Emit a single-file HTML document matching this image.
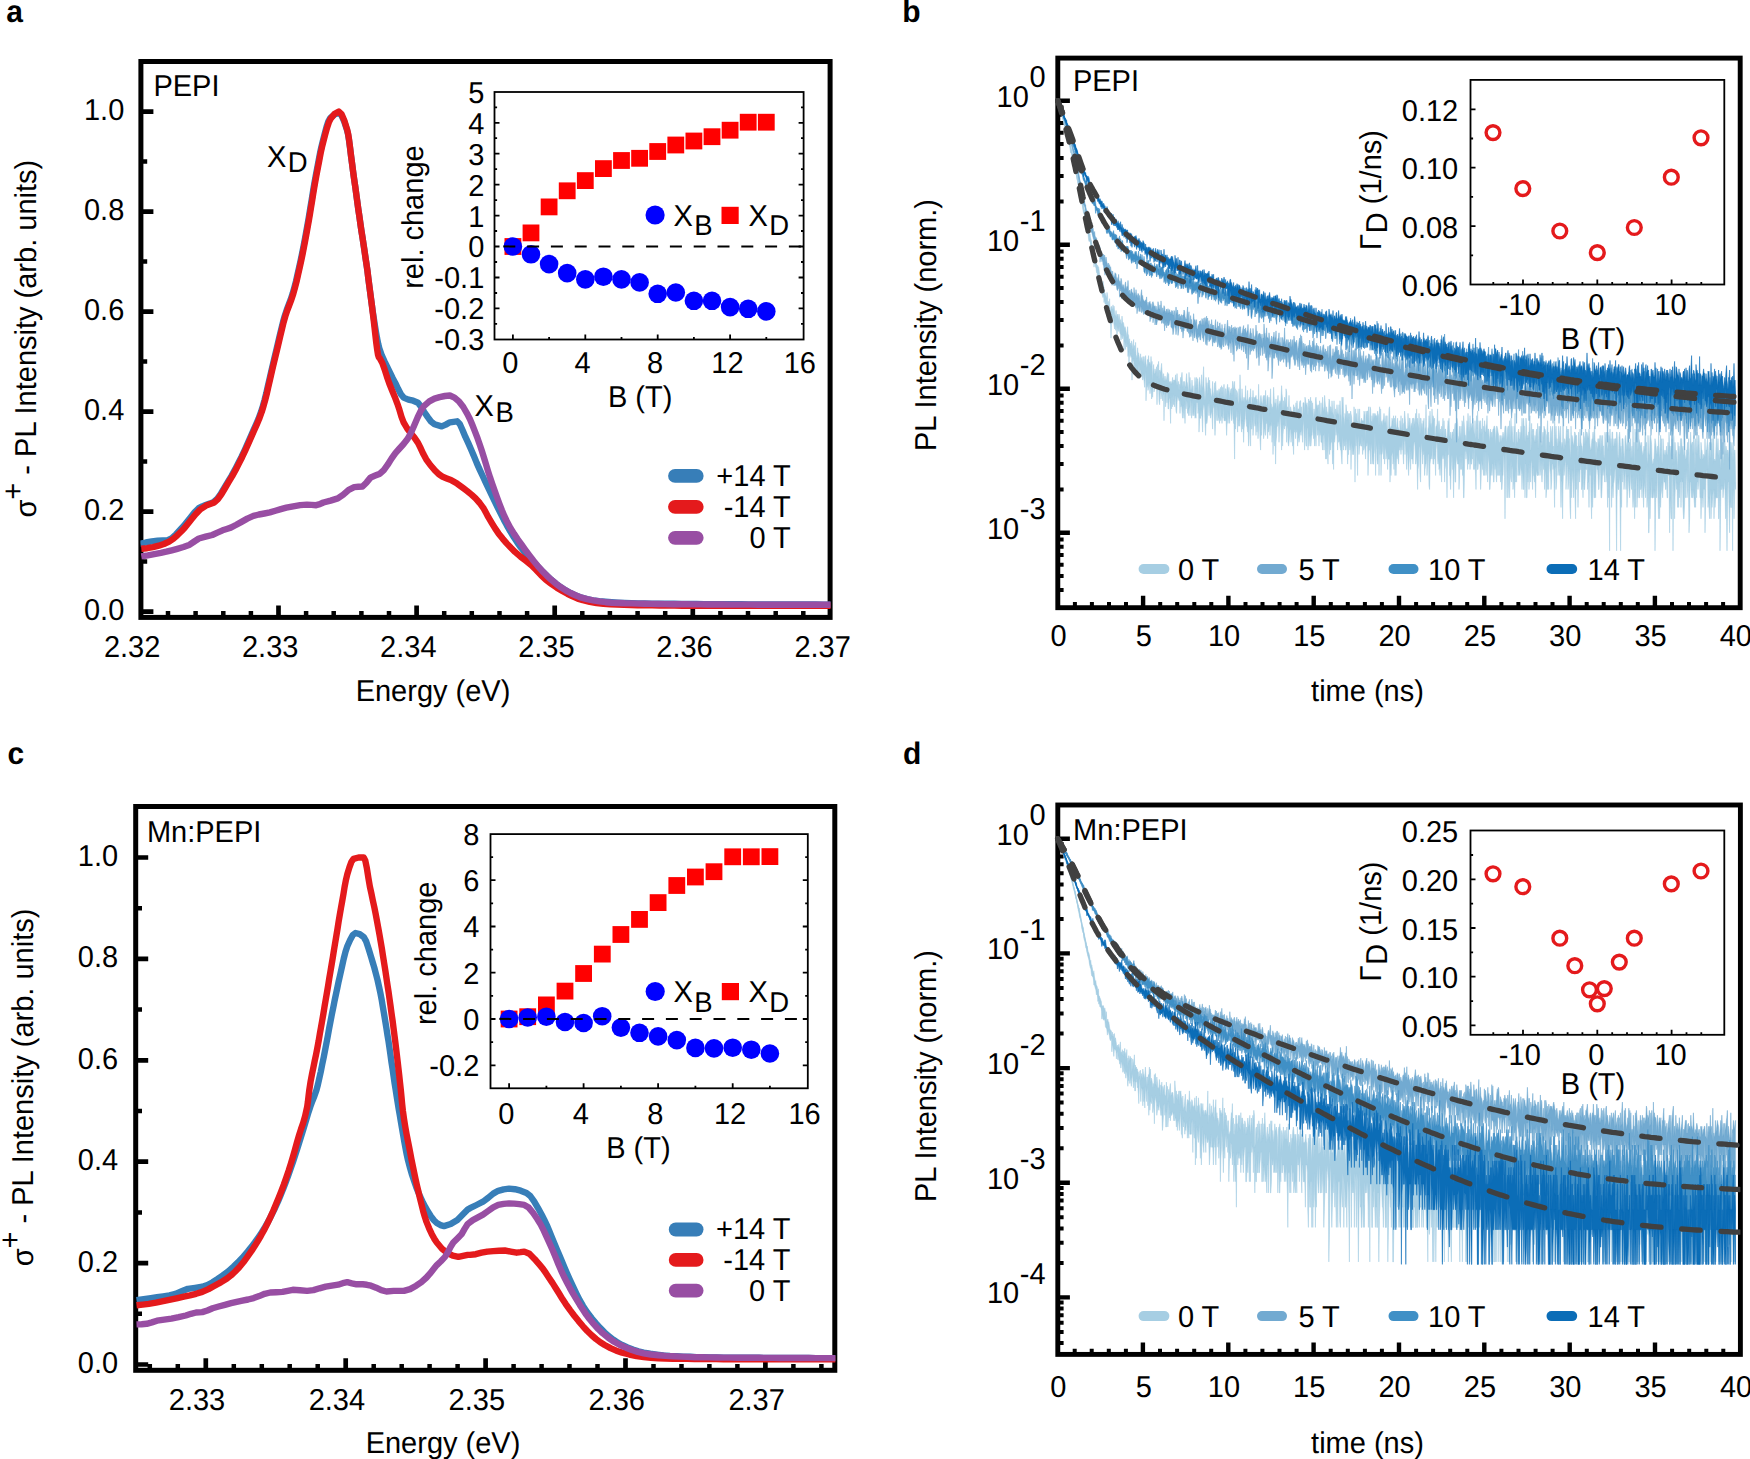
<!DOCTYPE html>
<html lang="en"><head><meta charset="utf-8"><title>Figure</title>
<style>
html,body{margin:0;padding:0;background:#fff}
svg{display:block}
svg text{font-family:"Liberation Sans", Arial, Helvetica, sans-serif;fill:#000;text-rendering:geometricPrecision}
</style></head>
<body>
<svg width="1750" height="1459" viewBox="0 0 1750 1459">
<rect width="1750" height="1459" fill="#fff"/>
<rect x="140.9" y="61.5" width="689.2" height="555.9" fill="none" stroke="#000" stroke-width="5.0"/>
<path d="M278.5,615.9v-10.5M416.6,615.9v-10.5M554.7,615.9v-10.5M692.8,615.9v-10.5M142.4,611.6h11M142.4,511.6h11M142.4,411.6h11M142.4,311.6h11M142.4,211.6h11M142.4,111.6h11" stroke="#000" stroke-width="4.7" fill="none"/>
<path d="M168,615.9v-4.8M195.6,615.9v-4.8M223.3,615.9v-4.8M250.9,615.9v-4.8M306.1,615.9v-4.8M333.7,615.9v-4.8M361.4,615.9v-4.8M389,615.9v-4.8M444.2,615.9v-4.8M471.8,615.9v-4.8M499.5,615.9v-4.8M527.1,615.9v-4.8M582.3,615.9v-4.8M609.9,615.9v-4.8M637.6,615.9v-4.8M665.2,615.9v-4.8M720.4,615.9v-4.8M748,615.9v-4.8M775.7,615.9v-4.8M803.3,615.9v-4.8M142.4,561.6h4.8M142.4,461.6h4.8M142.4,361.6h4.8M142.4,261.6h4.8M142.4,161.6h4.8" stroke="#000" stroke-width="4.5" fill="none"/>
<clipPath id="ca"><rect x="140.4" y="61.5" width="690.2" height="555.9"/></clipPath>
<g clip-path="url(#ca)">
<path d="M140.1,543.8 145.9,542.5 151.8,541.4 157.6,540.7 162.7,540.4 167.9,540.1 172,538.1 176.1,534.2 180.2,529.8 183.7,526 187.1,521.7 190.5,517.5 194.6,512.3 198.7,508.2 202.2,506.4 205.6,505 209.7,503.6 213.8,501.9 217.4,498.6 221,493.5 224.6,487.4 228.2,481.3 231.7,475.6 235.1,469.4 238.5,462.8 241.6,456.6 244.7,450 247.8,443.1 250.9,436.1 253.4,430.4 256,424.6 258.6,418.5 261.2,411.4 262.9,405.9 264.6,399.8 266.3,393.1 267.9,386 269.6,378.6 271.3,371.2 273,363.9 274.7,356.8 276.4,349.8 278.1,342.6 279.8,335.3 281.5,328.3 283.1,321.7 284.8,315.7 286.8,309.7 288.8,304.4 290.8,299.2 292.8,293.1 294.4,287.4 296,281.2 297.5,274.5 299.1,267.4 300.7,260.1 302,253.9 303.3,247.3 304.6,240.5 305.9,233.5 307.2,226.3 308.5,219 309.5,213 310.5,206.8 311.6,200.4 312.6,194 313.6,187.8 314.6,182 316,174.4 317.4,167 318.8,159.7 320.1,152.8 321.5,146.5 322.9,140.8 324.7,133.7 326.5,127 328.3,121.5 330.1,118.2 334.4,114.5 338.8,113 341.5,115.5 344.3,121.7 347,130.1 348.1,134.6 349.1,140.8 350.1,148.3 351.1,156.5 352.2,164.6 353.2,172.3 354.2,179.5 355.3,186.9 356.3,194.4 357.3,201.8 358.3,209.2 359.4,216.5 360.4,223.7 361.4,230.7 362.5,237.5 363.5,244.2 364.5,250.9 365.5,257.8 366.6,264.9 367.5,271.3 368.3,278.1 369.2,285 370.1,291.9 371,298.7 371.9,305.2 372.7,311.1 373.8,318.3 374.9,325.4 376,332.2 377.1,338.5 378.2,343.9 379.3,348.2 381.9,355.7 384.5,361.4 387.1,366.7 389.9,372.5 392.6,378 395.4,383.2 398.1,388.8 400.9,394.2 403.6,397.6 408.4,399.6 413.2,400.7 418,402.7 421.1,406.8 424.2,412 427.6,416.9 431,421.5 434.5,424.3 441.7,426.4 445.8,424.6 449.9,422.3 457.1,421.3 459.8,424 462.6,430.2 465.3,436.7 468.2,442.9 471.1,449.5 474,456.3 476.8,463.1 479.7,469.6 482.9,476.5 486,483.2 489.2,489.8 492.3,496.3 495.2,502.3 498.1,508.3 501,514.2 503.9,519.9 506.7,525.1 510.3,531.4 513.9,537.3 517.5,542.8 521.1,547.8 525.3,552.9 529.4,557.6 533.5,562.1 537.6,566.3 541.7,570.4 546.5,575.2 551.3,579.8 556.1,583.8 560.9,587.3 565.7,590.4 570.5,593 576,595.6 581.5,597.7 587,599.2 593.1,600.3 599.3,601.2 605.5,601.8 611.7,602.3 618.2,602.7 624.8,603 631.4,603.2 638,603.4 644.6,603.5 652,603.6 659.5,603.7 666.9,603.8 674.4,603.8 681.8,603.9 689.3,604 696.7,604 704.2,604.1 711.6,604.1 719,604.2 726.5,604.2 733.9,604.3 741.4,604.3 748.8,604.4 756.3,604.4 763.7,604.4 771.2,604.5 778.6,604.5 786.1,604.5 793.5,604.5 801,604.5 808.4,604.5 815.9,604.5 823.3,604.6 830.8,604.6" fill="none" stroke="#377eb8" stroke-width="6.4" stroke-linejoin="round"/>
<path d="M141.3,548.8 147.1,548.2 153,547.1 158.8,545.7 163.9,544 169.1,541.6 173.2,538.9 177.3,535.3 181.4,531.3 184.9,527.5 188.3,523.2 191.7,519 195.8,514 199.9,509.7 206.1,505.6 210.2,504.1 214.3,502.5 217.9,499.2 221.5,494.1 225.1,488 228.7,481.9 232.2,476.2 235.6,470 239,463.4 242.1,457.2 245.2,450.6 248.3,443.7 251.4,436.7 253.9,431 256.5,425.2 259.1,419.1 261.7,412 263.4,406.5 265.1,400.4 266.8,393.7 268.4,386.6 270.1,379.2 271.8,371.8 273.5,364.5 275.2,357.4 276.9,350.4 278.6,343.2 280.3,335.9 282,328.9 283.6,322.3 285.3,316.3 287.3,310.3 289.3,305 291.3,299.8 293.3,293.7 294.9,288 296.5,281.8 298,275.1 299.6,268 301.2,260.7 302.5,254.5 303.8,247.9 305.1,241.1 306.4,234.1 307.7,226.9 309,219.6 310,213.6 311,207.4 312.1,201 313.1,194.6 314.1,188.4 315.1,182.6 316.5,175 317.9,167.6 319.3,160.3 320.6,153.4 322,147.1 323.4,141.4 325.2,134.5 327,127.9 328.8,122.4 330.6,118.8 334.7,113.8 338.8,111.6 341.5,114.1 344.3,120.5 347,129.1 348.1,133.7 349.1,140.1 350.1,147.8 351.1,156.2 352.2,164.5 353.2,172.3 354.2,179.6 355.3,187 356.3,194.4 357.3,201.9 358.3,209.3 359.4,216.6 360.4,223.7 361.4,230.7 362.5,237.4 363.5,244.1 364.5,250.8 365.5,257.7 366.6,264.9 367.5,271.3 368.3,278 369.2,284.8 370.1,291.7 371,298.6 371.9,305.5 372.7,312.2 373.6,319.4 374.5,327.3 375.4,335.5 376.3,343.1 377.2,349.8 378,354.7 378.9,357.4 379.9,358.5 382.3,363 384.6,369.4 386.9,376.6 389.2,383.2 391.9,390 394.7,396.7 397.4,403.8 399.5,410.1 401.5,416.9 403.6,422.3 407.2,428.5 410.8,433.2 414.4,437.6 418,442.9 420.7,448.3 423.5,454.3 426.2,459.3 430.3,465 434.5,469.9 438.6,474 442.7,476.8 446.8,478.4 450.9,479.9 457.1,483.6 463.3,488.1 467.4,491.2 471.5,494.6 475.6,498.4 479.7,503 483.8,508.7 486,512.7 488.2,516.9 491.7,522.8 495.1,528.4 498.5,533.4 502.6,538.6 506.7,543.4 510.9,547.8 515,551.9 520.5,556.6 525.9,560.8 531.4,565.3 536.2,570 541,575.1 545.8,579.7 551.3,583.9 556.8,587.7 562.3,591 567.4,593.8 572.6,596.4 577.7,598.6 582.9,600.2 589.7,601.8 596.6,603 603.4,603.7 610.3,604.2 617.1,604.6 624,604.9 630.9,605.1 637.7,605.3 644.6,605.4 652.1,605.4 659.5,605.5 667,605.6 674.5,605.6 682,605.7 689.5,605.7 696.9,605.7 704.4,605.8 711.9,605.8 719.4,605.8 726.9,605.8 734.3,605.8 741.7,605.8 749.1,605.8 756.5,605.8 764,605.8 771.4,605.8 778.8,605.8 786.2,605.8 793.6,605.8 801.1,605.8 808.5,605.8 815.9,605.8 823.3,605.8 830.8,605.8" fill="none" stroke="#e41a1c" stroke-width="6.4" stroke-linejoin="round"/>
<path d="M141.3,556.4 147.8,555.4 154.3,554.2 160.9,552.9 166.3,551.7 171.8,550.3 177.3,548.8 183.5,547 189.7,544.7 194.3,541.5 198.9,538.5 205.6,536.7 212.3,535 217.4,532.7 222.6,530.3 226.7,529 230.8,527.6 235.9,525 241.1,522.1 247.3,518.6 253.4,515.9 258.9,514.5 264.4,513.5 269.9,512.4 275.4,510.8 280.9,509.1 286.3,507.7 293.2,506.3 300.1,505.1 306.9,504.6 311.5,504.9 316.2,505.2 319.8,504.2 323.4,502.5 330.6,500.6 337.8,498.4 343.3,494.6 348.7,489.8 354.2,487.1 358.3,486.8 362.5,486.5 366.6,482.4 370.7,477.4 375.3,475.6 379.9,473.7 383.8,470.1 387.7,464.7 391.5,458.6 395.4,453.1 399.5,448.5 403.6,444 407.7,438.7 411,432.8 414.3,425.3 417.6,417.5 420.9,410.6 424.2,405.8 429.3,401.4 434.5,398.6 439.6,397.1 444.8,396 449.9,395.5 454.5,397.6 459.2,401.7 463.3,407 467.4,414.1 470,419.3 472.5,425.3 475.1,431.9 477.7,438.7 479.8,444.7 481.9,451.1 484,457.7 486.1,464.6 488.1,471.3 490.2,477.9 492.3,484 494.7,490.8 497.1,497.5 499.5,504 501.9,510.2 504.3,516 506.7,521 510.4,527.9 514.1,533.9 517.9,539.5 521.6,544.7 525.3,549.8 529.4,555.4 533.5,560.8 537.6,565.8 541.7,570.4 546.5,575.3 551.3,579.8 556.1,583.8 560.9,587.3 565.7,590.4 570.5,593 576,595.5 581.5,597.7 587,599.2 593.1,600.4 599.3,601.4 605.5,602.2 611.7,602.7 618.2,603 624.8,603.3 631.4,603.4 638,603.6 644.6,603.7 651.4,603.9 658.3,604 665.1,604.1 672,604.2 678.9,604.3 685.7,604.3 693,604.4 700.2,604.4 707.5,604.5 714.7,604.5 722,604.5 729.2,604.6 736.5,604.6 743.7,604.6 751,604.6 758.2,604.7 765.5,604.7 772.7,604.7 780,604.7 787.2,604.7 794.5,604.7 801.7,604.7 809,604.8 816.2,604.8 823.5,604.8 830.8,604.8" fill="none" stroke="#984ea3" stroke-width="6.4" stroke-linejoin="round"/>
</g>
<text transform="translate(6.2 21.7) scale(1 1.041)" font-size="30" font-weight="bold">a</text>
<text transform="translate(153.4 96.3) scale(1 1.041)" font-size="29">PEPI</text>
<text transform="translate(124.3 620) scale(1 1.041)" font-size="29" text-anchor="end">0.0</text>
<text transform="translate(124.3 520) scale(1 1.041)" font-size="29" text-anchor="end">0.2</text>
<text transform="translate(124.3 420) scale(1 1.041)" font-size="29" text-anchor="end">0.4</text>
<text transform="translate(124.3 320) scale(1 1.041)" font-size="29" text-anchor="end">0.6</text>
<text transform="translate(124.3 220) scale(1 1.041)" font-size="29" text-anchor="end">0.8</text>
<text transform="translate(124.3 120) scale(1 1.041)" font-size="29" text-anchor="end">1.0</text>
<text transform="translate(132.1 657) scale(1 1.041)" font-size="29" text-anchor="middle">2.32</text>
<text transform="translate(270.2 657) scale(1 1.041)" font-size="29" text-anchor="middle">2.33</text>
<text transform="translate(408.3 657) scale(1 1.041)" font-size="29" text-anchor="middle">2.34</text>
<text transform="translate(546.4 657) scale(1 1.041)" font-size="29" text-anchor="middle">2.35</text>
<text transform="translate(684.5 657) scale(1 1.041)" font-size="29" text-anchor="middle">2.36</text>
<text transform="translate(822.6 657) scale(1 1.041)" font-size="29" text-anchor="middle">2.37</text>
<text transform="translate(433 700.7) scale(1 1.041)" font-size="29" text-anchor="middle">Energy (eV)</text>
<text transform="translate(35.6 338.7) rotate(-90) scale(1 1.041)" font-size="29" text-anchor="middle">σ<tspan dy="-11.8">+</tspan><tspan dy="11.8"> - PL Intensity (arb. units)</tspan></text>
<text transform="translate(267 166.5) scale(1 1.041)" font-size="29">X<tspan dx="1.5" dy="5.6" font-size="27.5">D</tspan></text>
<text transform="translate(474.6 415.5) scale(1 1.041)" font-size="29">X<tspan dx="1.5" dy="6.1" font-size="27.5">B</tspan></text>
<line x1="675" y1="475.9" x2="696.7" y2="475.9" stroke="#377eb8" stroke-width="13.8" stroke-linecap="round"/>
<text transform="translate(790.8 485.8) scale(1 1.041)" font-size="29" text-anchor="end">+14 T</text>
<line x1="675" y1="506.8" x2="696.7" y2="506.8" stroke="#e41a1c" stroke-width="13.8" stroke-linecap="round"/>
<text transform="translate(790.8 516.8) scale(1 1.041)" font-size="29" text-anchor="end">-14 T</text>
<line x1="675" y1="537.8" x2="696.7" y2="537.8" stroke="#984ea3" stroke-width="13.8" stroke-linecap="round"/>
<text transform="translate(790.8 547.8) scale(1 1.041)" font-size="29" text-anchor="end">0 T</text>
<rect x="494.5" y="92.0" width="309.1" height="247.5" fill="#fff"/>
<rect x="494.5" y="92" width="309.1" height="247.5" fill="none" stroke="#000" stroke-width="1.8"/>
<path d="M512.9,339.5v-5M585.3,339.5v-5M657.7,339.5v-5M730.1,339.5v-5M549.1,339.5v-2.6M621.5,339.5v-2.6M693.9,339.5v-2.6M766.3,339.5v-2.6M494.5,215.6h5M803.6,215.6h-5M494.5,184.6h5M803.6,184.6h-5M494.5,153.7h5M803.6,153.7h-5M494.5,122.8h5M803.6,122.8h-5M494.5,246.5h5M803.6,246.5h-5M494.5,277.5h5M803.6,277.5h-5M494.5,308.4h5M803.6,308.4h-5M494.5,231h2.6M803.6,231h-2.6M494.5,200.1h2.6M803.6,200.1h-2.6M494.5,169.2h2.6M803.6,169.2h-2.6M494.5,138.2h2.6M803.6,138.2h-2.6M494.5,107.3h2.6M803.6,107.3h-2.6M494.5,262h2.6M803.6,262h-2.6M494.5,293h2.6M803.6,293h-2.6M494.5,323.9h2.6M803.6,323.9h-2.6" stroke="#000" stroke-width="1.8" fill="none"/>
<g fill="#ff0000"><rect x="504.5" y="238.1" width="16.8" height="16.8"/><rect x="522.6" y="224.5" width="16.8" height="16.8"/><rect x="540.7" y="198.5" width="16.8" height="16.8"/><rect x="558.8" y="182.4" width="16.8" height="16.8"/><rect x="576.9" y="172.2" width="16.8" height="16.8"/><rect x="595" y="160.2" width="16.8" height="16.8"/><rect x="613.1" y="152.1" width="16.8" height="16.8"/><rect x="631.2" y="149.9" width="16.8" height="16.8"/><rect x="649.3" y="143.1" width="16.8" height="16.8"/><rect x="667.4" y="136.6" width="16.8" height="16.8"/><rect x="685.5" y="132.6" width="16.8" height="16.8"/><rect x="703.6" y="128.3" width="16.8" height="16.8"/><rect x="721.7" y="121.8" width="16.8" height="16.8"/><rect x="739.8" y="113.8" width="16.8" height="16.8"/><rect x="757.9" y="113.8" width="16.8" height="16.8"/></g>
<g fill="#0000ff"><circle cx="512.9" cy="246.5" r="9.3"/><circle cx="531" cy="254.3" r="9.3"/><circle cx="549.1" cy="264.1" r="9.3"/><circle cx="567.2" cy="273.1" r="9.3"/><circle cx="585.3" cy="279.4" r="9.3"/><circle cx="603.4" cy="276.7" r="9.3"/><circle cx="621.5" cy="279.4" r="9.3"/><circle cx="639.6" cy="282.4" r="9.3"/><circle cx="657.7" cy="293.8" r="9.3"/><circle cx="675.8" cy="292.5" r="9.3"/><circle cx="693.9" cy="300.8" r="9.3"/><circle cx="712" cy="300.8" r="9.3"/><circle cx="730.1" cy="307.1" r="9.3"/><circle cx="748.2" cy="308.8" r="9.3"/><circle cx="766.3" cy="311.4" r="9.3"/></g>
<line x1="494.5" y1="246.4" x2="803.6" y2="246.4" stroke="#000" stroke-width="2" stroke-dasharray="12 11.8" stroke-dashoffset="15"/>
<text transform="translate(484.3 102.8) scale(1 1.041)" font-size="29" text-anchor="end">5</text>
<text transform="translate(484.3 133.7) scale(1 1.041)" font-size="29" text-anchor="end">4</text>
<text transform="translate(484.3 164.6) scale(1 1.041)" font-size="29" text-anchor="end">3</text>
<text transform="translate(484.3 195.5) scale(1 1.041)" font-size="29" text-anchor="end">2</text>
<text transform="translate(484.3 226.5) scale(1 1.041)" font-size="29" text-anchor="end">1</text>
<text transform="translate(484.3 257.4) scale(1 1.041)" font-size="29" text-anchor="end">0</text>
<text transform="translate(484.3 288.4) scale(1 1.041)" font-size="29" text-anchor="end">-0.1</text>
<text transform="translate(484.3 319.3) scale(1 1.041)" font-size="29" text-anchor="end">-0.2</text>
<text transform="translate(484.3 350.3) scale(1 1.041)" font-size="29" text-anchor="end">-0.3</text>
<text transform="translate(510.2 373) scale(1 1.041)" font-size="29" text-anchor="middle">0</text>
<text transform="translate(582.6 373) scale(1 1.041)" font-size="29" text-anchor="middle">4</text>
<text transform="translate(655 373) scale(1 1.041)" font-size="29" text-anchor="middle">8</text>
<text transform="translate(727.4 373) scale(1 1.041)" font-size="29" text-anchor="middle">12</text>
<text transform="translate(799.8 373) scale(1 1.041)" font-size="29" text-anchor="middle">16</text>
<text transform="translate(640.1 406.5) scale(1 1.041)" font-size="29" text-anchor="middle">B (T)</text>
<text transform="translate(423.4 217.1) rotate(-90) scale(1 1.041)" font-size="29" text-anchor="middle">rel. change</text>
<circle cx="655.1" cy="215" r="9.6" fill="#0000ff"/>
<text transform="translate(673.4 225.8) scale(1 1.041)" font-size="29">X<tspan dx="1.5" dy="9.3" font-size="27.5">B</tspan></text>
<rect x="721.5" y="206.8" width="17.2" height="17.2" fill="#ff0000"/>
<text transform="translate(748.4 225.8) scale(1 1.041)" font-size="29">X<tspan dx="1.5" dy="9.3" font-size="27.5">D</tspan></text>
<rect x="135.7" y="806.5" width="699.1" height="563.8" fill="none" stroke="#000" stroke-width="5.0"/>
<path d="M205.8,1368.8v-10.5M345.7,1368.8v-10.5M485.6,1368.8v-10.5M625.5,1368.8v-10.5M765.4,1368.8v-10.5M137.2,1364.5h11M137.2,1263.1h11M137.2,1161.7h11M137.2,1060.3h11M137.2,958.9h11M137.2,857.5h11" stroke="#000" stroke-width="4.7" fill="none"/>
<path d="M149.8,1368.8v-4.8M177.8,1368.8v-4.8M233.8,1368.8v-4.8M261.8,1368.8v-4.8M289.7,1368.8v-4.8M317.7,1368.8v-4.8M373.7,1368.8v-4.8M401.7,1368.8v-4.8M429.6,1368.8v-4.8M457.6,1368.8v-4.8M513.6,1368.8v-4.8M541.6,1368.8v-4.8M569.5,1368.8v-4.8M597.5,1368.8v-4.8M653.5,1368.8v-4.8M681.5,1368.8v-4.8M709.4,1368.8v-4.8M737.4,1368.8v-4.8M793.4,1368.8v-4.8M821.4,1368.8v-4.8M137.2,1313.8h4.8M137.2,1212.4h4.8M137.2,1111h4.8M137.2,1009.6h4.8M137.2,908.2h4.8" stroke="#000" stroke-width="4.5" fill="none"/>
<clipPath id="cc"><rect x="135.9" y="806.6" width="699.4" height="563.7"/></clipPath>
<g clip-path="url(#cc)">
<path d="M136.5,1300.1 143.7,1299.1 150.9,1298.1 157,1297.2 163.2,1296.3 169.4,1295.3 175.5,1293.9 181.7,1291.3 187.9,1288.8 195.1,1287.8 202.3,1286.7 207.4,1285 212.6,1282.3 217.7,1279 222.9,1275.4 228.3,1271.3 233.8,1266.4 239.3,1261 243.4,1256.6 247.5,1251.8 251.7,1246.6 255,1242.2 258.3,1237.5 261.7,1232.5 265,1227.1 268.3,1221.4 271.5,1215.1 274.8,1208.5 278,1201.4 280.5,1195.4 283.1,1189.1 285.6,1182.5 288.2,1175.6 290.7,1168.5 292.9,1162.3 295,1155.8 297.2,1149.1 299.3,1142.3 301.4,1135.5 303.2,1129.8 305,1123.9 306.8,1117.9 308.5,1112.2 310.3,1106.7 312.3,1101.2 314.4,1096 316.5,1089.9 317.9,1084.6 319.3,1078.3 320.8,1071.6 322.2,1064.5 323.7,1057.4 325,1050.6 326.4,1043.4 327.8,1036 329.1,1028.6 330.5,1021.3 331.9,1014.2 333.3,1007.4 334.6,1000.7 336,994 337.4,987.5 338.7,981.2 340.1,975.1 341.9,967 343.7,958.9 345.5,951.7 347.3,946.3 350.1,940 352.8,935 355.5,933 359.7,934.1 363.8,937.1 366.2,941.4 368.6,948.7 371,956.6 372.6,962 374.3,967.6 375.9,973.7 377.6,980.3 379.2,987.5 380.4,993.1 381.6,999.3 382.7,1006 383.9,1013 385.1,1020.2 386.3,1027.5 387.4,1034.8 388.5,1041.3 389.5,1048.1 390.5,1055.1 391.5,1062.2 392.6,1069.3 393.6,1076.4 394.6,1083.3 395.7,1089.9 396.7,1096.4 397.7,1102.8 398.7,1109 399.8,1115.2 400.8,1121.1 402,1128.1 403.2,1135.2 404.4,1142.2 405.6,1148.8 406.8,1154.9 408,1160.2 410.1,1168.1 412.1,1175 414.2,1181.3 416.2,1187 418.3,1192.3 420.3,1197 422.4,1201.4 425.1,1206.7 427.9,1211.6 430.6,1215.8 433.7,1220 436.8,1223 440.4,1225.1 444,1226.1 450.7,1224 457.4,1219.9 462.5,1214.8 467.7,1209.6 470,1208.2 476.5,1205 483,1201.7 488.1,1197.9 493.2,1193.6 498.2,1190.8 503.7,1189.3 509.1,1188.6 514.9,1189.2 520.7,1190.7 526.5,1193 530.3,1196 534.1,1201.3 537.9,1207.8 541.7,1214.7 544.2,1219.6 546.8,1225.1 549.3,1231 551.8,1237.2 554.4,1243.4 556.9,1249.5 559.5,1255.6 562.1,1261.8 564.7,1268 567.3,1274.1 569.9,1279.9 573.2,1286.9 576.5,1293.8 579.7,1300.2 583,1305.9 587.3,1312.4 591.7,1318.2 596,1323.3 600.3,1328.1 604.7,1332.5 609,1336.4 613.4,1339.7 617.7,1342.7 622.1,1345 627.5,1347.5 632.9,1349.6 638.4,1351.4 643.8,1352.6 650.3,1353.7 656.8,1354.6 663.4,1355.4 669.9,1356 676.4,1356.3 683.2,1356.6 690,1356.8 696.8,1357.1 703.5,1357.2 710.3,1357.4 717.1,1357.5 723.9,1357.6 730.7,1357.6 737.8,1357.7 744.9,1357.7 752,1357.8 759.1,1357.8 766.2,1357.9 773.3,1357.9 780.4,1357.9 787.5,1358 794.6,1358 801.7,1358 808.8,1358 815.9,1358.1 823,1358.1 830.1,1358.1 837.2,1358.1" fill="none" stroke="#377eb8" stroke-width="6.4" stroke-linejoin="round"/>
<path d="M136.5,1305.3 142.6,1304.6 148.8,1303.8 156,1302.6 163.2,1301.2 170.4,1299.7 177.6,1298.1 183.8,1296.7 189.9,1295.4 196.1,1293.8 202.3,1291.9 208.5,1289.1 214.6,1285.7 220.8,1282.4 227,1278.5 231.1,1275.3 235.2,1271.5 239.3,1267.2 243.4,1262.3 247.5,1256.7 251.7,1250.7 254.7,1246.1 257.8,1241.1 260.9,1235.8 264,1230.2 267.1,1224.1 270.2,1217.6 273.3,1210.7 276.3,1203.4 278.8,1197.4 281.3,1191.2 283.8,1184.6 286.2,1177.7 288.7,1170.5 290.7,1164.1 292.8,1157.2 294.9,1150 296.9,1142.7 299,1135.5 301,1129.1 303.1,1123.1 305.1,1116.1 307.2,1106.7 307.9,1101.8 308.6,1095.5 309.3,1089.9 310.6,1081.5 312,1074.1 313.4,1067.3 314.7,1060.8 316.1,1054.3 317.5,1047.1 318.7,1040.7 319.8,1034 321,1027.3 322.2,1020.5 323.4,1013.6 324.5,1006.7 325.7,999.8 326.9,992.9 328.1,985.9 329.2,978.8 330.4,971.7 331.6,964.6 332.8,957.5 333.9,950.5 335.1,943.3 336.3,936.1 337.5,928.9 338.6,921.7 339.8,914.6 341,907.7 342.2,901.1 343.5,893.7 344.7,886.3 346,879.7 347.3,874.3 349.4,867.4 351.4,861.8 353.5,858.9 358.6,857.5 363.8,857.5 365.3,860.7 366.9,868.4 368.4,878 369.9,886.7 371.4,893.5 372.8,900.3 374.3,907.1 375.7,914.2 377.1,921.7 378.3,928.1 379.5,934.8 380.7,941.7 381.9,948.8 383,956.1 384.2,963.5 385.4,971 386.4,977.7 387.4,984.5 388.5,991.5 389.5,998.6 390.5,1005.8 391.5,1013.2 392.6,1020.8 393.6,1028.6 394.4,1034.9 395.2,1041.2 396,1047.7 396.8,1054.4 397.6,1061.2 398.4,1068.1 399.2,1075.2 400,1082.5 400.8,1089.9 401.5,1097.1 402.2,1104.5 402.9,1110.9 404.1,1119.5 405.3,1127 406.5,1133.7 407.7,1139.9 408.9,1145.9 410.1,1152 411.4,1159 412.8,1165.9 414.2,1172.6 415.5,1179 416.9,1185.2 418.3,1191.1 419.9,1198 421.6,1204.8 423.2,1211.3 424.9,1217.1 426.5,1221.9 429.1,1228.3 431.7,1233.9 434.2,1238.6 436.8,1242.5 442,1248.7 447.1,1252.8 452.8,1255.6 458.4,1256.9 463,1255.9 467.7,1254.9 470,1254.9 475.8,1254.2 481.6,1252.7 487.4,1251.6 493.2,1251.1 499,1250.7 504.8,1250.5 510.7,1251.6 516.7,1252.7 520.5,1252.2 524.3,1251.6 529.4,1253.8 534.5,1258.9 539.5,1264.7 542.8,1268.6 546,1273.2 549.3,1278.2 552.6,1283.1 555.8,1288.2 559.1,1293.5 562.3,1298.8 565.6,1303.8 569.9,1309.9 574.3,1315.7 578.6,1321.1 583,1326.3 587.3,1331 591.7,1335.3 596,1339 600.3,1342.3 604.7,1345 610.5,1348.1 616.3,1350.7 622.1,1352.6 629.3,1354.5 636.6,1356 643.8,1357 651,1357.7 658.3,1358.2 665.5,1358.5 672.8,1358.7 680,1358.8 687.2,1358.9 694.5,1359 701.7,1359 709,1359.1 716.2,1359.1 723.5,1359.2 730.7,1359.2 737.8,1359.2 744.9,1359.2 752,1359.2 759.1,1359.2 766.2,1359.2 773.3,1359.2 780.4,1359.2 787.5,1359.2 794.6,1359.2 801.7,1359.2 808.8,1359.2 815.9,1359.2 823,1359.2 830.1,1359.2 837.2,1359.2" fill="none" stroke="#e41a1c" stroke-width="6.4" stroke-linejoin="round"/>
<path d="M136.5,1324.4 141.6,1324.2 146.7,1323.8 151.9,1322.4 157,1320.7 164.2,1319.6 171.4,1318.6 178.6,1317.2 185.8,1315.5 191,1313.8 196.1,1312.5 202.3,1312.1 207.4,1310.5 212.6,1308.3 218.7,1306.5 224.9,1304.8 231.1,1303.2 236.7,1301.9 242.4,1300.7 248.1,1299.5 253.7,1298.1 259.2,1296.1 264.7,1293.8 270.2,1292.5 276.3,1292.2 282.5,1291.9 287.7,1290.8 292.8,1289.8 300,1290.3 307.2,1290.9 313.4,1290.1 319.5,1288.3 325.7,1286.7 331.9,1285.7 338.1,1284.7 342.7,1283.2 347.3,1282.2 351.9,1283.3 356.6,1284.3 362.7,1284.3 366.9,1284.8 371,1285.7 376.1,1287.7 381.3,1290.2 386.4,1291.5 393.6,1290.9 398.7,1290.9 403.9,1290.9 410.1,1289.1 416.2,1285.7 421.4,1282.1 426.5,1277.5 429.9,1273.7 433.4,1269.3 436.8,1265.1 440.9,1261.2 445,1256.9 447.8,1252.4 450.5,1247 453.3,1242.5 457.4,1238.4 461.5,1234.3 464.6,1228.9 467.7,1224 472.8,1220.1 477.9,1217.4 483,1214.7 488.1,1211 493.2,1207.3 498.2,1204.9 503.7,1203.9 509.1,1203.4 514.2,1203.6 519.2,1204.1 524.3,1204.9 528.7,1207.6 533,1212.8 537.3,1219 540.6,1224.4 543.9,1230.9 547.1,1237.9 550.4,1245.1 553,1251 555.6,1257.3 558.2,1263.7 560.8,1269.8 563.4,1275.5 566.7,1282 569.9,1288.1 573.2,1293.9 576.5,1299.4 579.7,1304.7 583,1309.8 586.2,1314.6 589.5,1319 593.8,1324.2 598.2,1329 602.5,1333.1 608.3,1337.8 614.1,1341.8 619.9,1345 625.9,1347.7 631.9,1350 637.8,1351.9 643.8,1353.3 651,1354.5 658.3,1355.3 665.5,1355.9 672.8,1356.3 680,1356.6 687.2,1356.9 694.5,1357.2 701.7,1357.3 709,1357.4 716.1,1357.5 723.2,1357.6 730.3,1357.6 737.5,1357.7 744.6,1357.7 751.7,1357.8 758.8,1357.8 765.9,1357.9 773.1,1357.9 780.2,1358 787.3,1358 794.4,1358 801.5,1358 808.7,1358 815.8,1358.1 822.9,1358.1 830,1358.1 837.2,1358.1" fill="none" stroke="#984ea3" stroke-width="6.4" stroke-linejoin="round"/>
</g>
<text transform="translate(7.4 764.3) scale(1 1.041)" font-size="30" font-weight="bold">c</text>
<text transform="translate(146.9 842.4) scale(1 1.041)" font-size="29">Mn:PEPI</text>
<text transform="translate(118.2 1372.9) scale(1 1.041)" font-size="29" text-anchor="end">0.0</text>
<text transform="translate(118.2 1271.5) scale(1 1.041)" font-size="29" text-anchor="end">0.2</text>
<text transform="translate(118.2 1170.1) scale(1 1.041)" font-size="29" text-anchor="end">0.4</text>
<text transform="translate(118.2 1068.7) scale(1 1.041)" font-size="29" text-anchor="end">0.6</text>
<text transform="translate(118.2 967.3) scale(1 1.041)" font-size="29" text-anchor="end">0.8</text>
<text transform="translate(118.2 865.9) scale(1 1.041)" font-size="29" text-anchor="end">1.0</text>
<text transform="translate(197 1409.6) scale(1 1.041)" font-size="29" text-anchor="middle">2.33</text>
<text transform="translate(336.9 1409.6) scale(1 1.041)" font-size="29" text-anchor="middle">2.34</text>
<text transform="translate(476.8 1409.6) scale(1 1.041)" font-size="29" text-anchor="middle">2.35</text>
<text transform="translate(616.7 1409.6) scale(1 1.041)" font-size="29" text-anchor="middle">2.36</text>
<text transform="translate(756.6 1409.6) scale(1 1.041)" font-size="29" text-anchor="middle">2.37</text>
<text transform="translate(443 1452.5) scale(1 1.041)" font-size="29" text-anchor="middle">Energy (eV)</text>
<text transform="translate(32.5 1087.5) rotate(-90) scale(1 1.041)" font-size="29" text-anchor="middle">σ<tspan dy="-11.8">+</tspan><tspan dy="11.8"> - PL Intensity (arb. units)</tspan></text>
<line x1="675.7" y1="1229.5" x2="696.6" y2="1229.5" stroke="#377eb8" stroke-width="13.8" stroke-linecap="round"/>
<text transform="translate(790.4 1239.4) scale(1 1.041)" font-size="29" text-anchor="end">+14 T</text>
<line x1="675.7" y1="1259.9" x2="696.6" y2="1259.9" stroke="#e41a1c" stroke-width="13.8" stroke-linecap="round"/>
<text transform="translate(790.4 1269.8) scale(1 1.041)" font-size="29" text-anchor="end">-14 T</text>
<line x1="675.7" y1="1290.7" x2="696.6" y2="1290.7" stroke="#984ea3" stroke-width="13.8" stroke-linecap="round"/>
<text transform="translate(790.4 1300.6) scale(1 1.041)" font-size="29" text-anchor="end">0 T</text>
<rect x="490.5" y="834.1" width="317.29999999999995" height="254.19999999999993" fill="#fff"/>
<rect x="490.5" y="834.1" width="317.3" height="254.2" fill="none" stroke="#000" stroke-width="1.8"/>
<path d="M509.1,1088.3v-5M583.6,1088.3v-5M658.1,1088.3v-5M732.7,1088.3v-5M546.4,1088.3v-2.6M620.9,1088.3v-2.6M695.4,1088.3v-2.6M769.9,1088.3v-2.6M490.5,972.7h5M807.8,972.7h-5M490.5,926.5h5M807.8,926.5h-5M490.5,880.2h5M807.8,880.2h-5M490.5,1019h5M807.8,1019h-5M490.5,1065.4h5M807.8,1065.4h-5M490.5,995.9h2.6M807.8,995.9h-2.6M490.5,949.6h2.6M807.8,949.6h-2.6M490.5,903.4h2.6M807.8,903.4h-2.6M490.5,857.1h2.6M807.8,857.1h-2.6M490.5,1042.2h2.6M807.8,1042.2h-2.6" stroke="#000" stroke-width="1.8" fill="none"/>
<g fill="#ff0000"><rect x="500.7" y="1010.6" width="16.8" height="16.8"/><rect x="519.3" y="1008.3" width="16.8" height="16.8"/><rect x="538" y="996.5" width="16.8" height="16.8"/><rect x="556.6" y="982.7" width="16.8" height="16.8"/><rect x="575.2" y="965.1" width="16.8" height="16.8"/><rect x="593.9" y="945.7" width="16.8" height="16.8"/><rect x="612.5" y="926.1" width="16.8" height="16.8"/><rect x="631.1" y="911" width="16.8" height="16.8"/><rect x="649.7" y="894.2" width="16.8" height="16.8"/><rect x="668.4" y="877.1" width="16.8" height="16.8"/><rect x="687" y="868.6" width="16.8" height="16.8"/><rect x="705.6" y="863.3" width="16.8" height="16.8"/><rect x="724.3" y="848.4" width="16.8" height="16.8"/><rect x="742.9" y="848.4" width="16.8" height="16.8"/><rect x="761.5" y="848.2" width="16.8" height="16.8"/></g>
<g fill="#0000ff"><circle cx="509.1" cy="1019" r="9.3"/><circle cx="527.7" cy="1017.5" r="9.3"/><circle cx="546.4" cy="1016.7" r="9.3"/><circle cx="565" cy="1022" r="9.3"/><circle cx="583.6" cy="1023" r="9.3"/><circle cx="602.2" cy="1016.2" r="9.3"/><circle cx="620.9" cy="1027.6" r="9.3"/><circle cx="639.5" cy="1032.8" r="9.3"/><circle cx="658.1" cy="1036.4" r="9.3"/><circle cx="676.8" cy="1040.1" r="9.3"/><circle cx="695.4" cy="1047.9" r="9.3"/><circle cx="714" cy="1048.4" r="9.3"/><circle cx="732.7" cy="1047.7" r="9.3"/><circle cx="751.3" cy="1049.7" r="9.3"/><circle cx="769.9" cy="1053.5" r="9.3"/></g>
<line x1="490.5" y1="1018.9" x2="807.8" y2="1018.9" stroke="#000" stroke-width="2" stroke-dasharray="12 11.8" stroke-dashoffset="15"/>
<text transform="translate(479.3 844.9) scale(1 1.041)" font-size="29" text-anchor="end">8</text>
<text transform="translate(479.3 891.1) scale(1 1.041)" font-size="29" text-anchor="end">6</text>
<text transform="translate(479.3 937.4) scale(1 1.041)" font-size="29" text-anchor="end">4</text>
<text transform="translate(479.3 983.6) scale(1 1.041)" font-size="29" text-anchor="end">2</text>
<text transform="translate(479.3 1029.9) scale(1 1.041)" font-size="29" text-anchor="end">0</text>
<text transform="translate(479.3 1076.3) scale(1 1.041)" font-size="29" text-anchor="end">-0.2</text>
<text transform="translate(506.4 1123.5) scale(1 1.041)" font-size="29" text-anchor="middle">0</text>
<text transform="translate(580.9 1123.5) scale(1 1.041)" font-size="29" text-anchor="middle">4</text>
<text transform="translate(655.4 1123.5) scale(1 1.041)" font-size="29" text-anchor="middle">8</text>
<text transform="translate(730 1123.5) scale(1 1.041)" font-size="29" text-anchor="middle">12</text>
<text transform="translate(804.5 1123.5) scale(1 1.041)" font-size="29" text-anchor="middle">16</text>
<text transform="translate(638.4 1158.2) scale(1 1.041)" font-size="29" text-anchor="middle">B (T)</text>
<text transform="translate(436 953.3) rotate(-90) scale(1 1.041)" font-size="29" text-anchor="middle">rel. change</text>
<circle cx="655.2" cy="991.5" r="9.6" fill="#0000ff"/>
<text transform="translate(673.4 1002.3) scale(1 1.041)" font-size="29">X<tspan dx="1.5" dy="9.3" font-size="27.5">B</tspan></text>
<rect x="721.8" y="983.0" width="17.2" height="17.2" fill="#ff0000"/>
<text transform="translate(748.4 1002.3) scale(1 1.041)" font-size="29">X<tspan dx="1.5" dy="9.3" font-size="27.5">D</tspan></text>
<rect x="1057.8" y="58.1" width="682.4" height="549.6" fill="none" stroke="#000" stroke-width="4.9"/>
<path d="M1143.1,606.2v-10.5M1228.4,606.2v-10.5M1313.7,606.2v-10.5M1399,606.2v-10.5M1484.3,606.2v-10.5M1569.6,606.2v-10.5M1654.9,606.2v-10.5M1059.3,100.8h10.6M1059.3,244.8h10.6M1059.3,388.8h10.6M1059.3,532.8h10.6" stroke="#000" stroke-width="4.4" fill="none"/>
<path d="M1074.9,606.2v-4.3M1091.9,606.2v-4.3M1109,606.2v-4.3M1126,606.2v-4.3M1160.2,606.2v-4.3M1177.2,606.2v-4.3M1194.3,606.2v-4.3M1211.3,606.2v-4.3M1245.5,606.2v-4.3M1262.5,606.2v-4.3M1279.6,606.2v-4.3M1296.6,606.2v-4.3M1330.8,606.2v-4.3M1347.8,606.2v-4.3M1364.9,606.2v-4.3M1381.9,606.2v-4.3M1416.1,606.2v-4.3M1433.1,606.2v-4.3M1450.2,606.2v-4.3M1467.2,606.2v-4.3M1501.4,606.2v-4.3M1518.4,606.2v-4.3M1535.5,606.2v-4.3M1552.5,606.2v-4.3M1586.7,606.2v-4.3M1603.7,606.2v-4.3M1620.8,606.2v-4.3M1637.8,606.2v-4.3M1672,606.2v-4.3M1689,606.2v-4.3M1706.1,606.2v-4.3M1723.1,606.2v-4.3M1059.3,201.5h4.3M1059.3,176.1h4.3M1059.3,158.1h4.3M1059.3,144.1h4.3M1059.3,132.7h4.3M1059.3,123.1h4.3M1059.3,114.8h4.3M1059.3,107.4h4.3M1059.3,345.5h4.3M1059.3,320.1h4.3M1059.3,302.1h4.3M1059.3,288.1h4.3M1059.3,276.7h4.3M1059.3,267.1h4.3M1059.3,258.8h4.3M1059.3,251.4h4.3M1059.3,489.5h4.3M1059.3,464.1h4.3M1059.3,446.1h4.3M1059.3,590.1h4.3M1059.3,432.1h4.3M1059.3,576.1h4.3M1059.3,420.7h4.3M1059.3,564.7h4.3M1059.3,411.1h4.3M1059.3,555.1h4.3M1059.3,402.8h4.3M1059.3,546.8h4.3M1059.3,395.4h4.3M1059.3,539.4h4.3" stroke="#000" stroke-width="4.0" fill="none"/>
<clipPath id="cb"><rect x="1057.85" y="58.1" width="682.3500000000001" height="549.6"/></clipPath>
<g clip-path="url(#cb)">
<path d="M1057.8,100.8 1058.8,104.2 1059.9,107.6 1060.9,111.1 1062,114.7 1063,118.4 1064,122.2 1065.1,126 1066.1,130 1067.2,134 1068.2,138 1069.3,142.2 1070.3,146.4 1071.3,150.7 1072.4,155.2 1073.4,159.8 1074.5,164.6 1075.5,169.5 1076.5,174.5 1077.6,179.5 1078.6,184.7 1079.7,189.8 1080.7,195 1081.7,200.2 1082.8,205.4 1083.8,210.5 1084.9,215.6 1085.9,220.6 1086.9,225.4 1088,230.3 1089,235.1 1090.1,239.8 1091.1,244.4 1092.2,249 1093.2,253.4 1094.2,257.7 1095.3,262 1096.3,266.1 1097.4,270.2 1098.4,274.2 1099.4,278.1 1100.5,281.8 1101.5,285.5 1102.6,289.2 1103.6,292.7 1104.6,296.1 1105.7,299.5 1106.7,302.6 1107.8,305.4 1108.8,308 1109.8,310.4 1110.9,312.5 1111.9,314.5 1113,316.3 1114,318 1115.1,319.6 1116.1,321.2 1117.1,322.7 1118.2,324.2 1119.2,325.8" fill="none" stroke="#a6cee3" stroke-width="1.35"/>
<path d="M1058,99.7l.6,1.3 .4,2.8 .6,1.4 .4,1.3 .6,2.3 .4,.4 .6,3.1 .4,1.4 .6,1.7 .4,2.6 .6,1.2 .4,.7 .6,3 .4,2.1 .6,2.1 .4,1.1 .6,1.8 .4,1 .6,2.2 .4,3.4 .6,.2 .4,3.6 .6,1.1 .4,2.5 .6,1.7 .4,2.6 .6,1.7 .4,.5 .6,4.1 .4,1.7 .6-.5 .4,6.5 .6,1.9 .4,2.6 .6-1.5 .4,4.8 .6,1.5 .4,3.1 .6,3.6 .4,.5 .6,3.5 .4-.1 .6,3 .4,1.8 .6,4.6 .4,4.8 .6,2.7 .4-.6 .6,5.7 .4-.5 .6,3.5 .4,2.2 .6,1.1 .4,.7 .6,4.7 .4,.7 .6,4.1 .4,2.7 .6,1.1 .4,2.8 .6,2.2 .4,2.1 .6,4.7 .4-2.5 .6,4.3 .4,1.3 .6,1.3 .4,4.1 .6,.6 .4,1 .6,6.6 .4,.1 .6,1.5 .4,3.4 .6-3.8 .4,7.8 .6,1.6 .4,3.5 .6-2 .4,1.6 .6,.2 .4,2.7 .6,4.8 .4,1.6 .6,3.4 .4-.8 .6,3 .4,2.6 .6,.9 .4-3.8 .6,5.9 .4-.3 .6,6.8 .4-.7 .6,2.1 .4,.9 .6,2.3 .4-5.9 .6,4.1 .4,8.8 .6-4 .4,7.8 .6-10.4 .4,11.7 .6,.5 .4-4.3 .6,0 .4,3 .6-1.3 .4-3.4 .6,6.2 .4-5 .6,6.2 .4,2.8 .6,1 .4-5.6 .6,6.5 .4,0 .6-2.9 .4,1 .6,6 .4-7 .6,3.9 .4,5.3 .6-3.7 .4,4.3 .6-.6 .4-7.2 .6,6.8 .4-.7 .6,1.1 .4,2.8 .6,2.9 .4-2.3 .6,2.3 .4,2.5 .6,3.2 .4,2.7 .6-10.7 .4,7.3 .6,1.4 .4,7.7 .6-4.3 .4,6.7 .6-2.4 .4,3.9 .6-6.1 .4,2.2 .6,3.9 .4,2.3 .6-9.8 .4,10 .6-4 .4,7.4 .6-10.5 .4,12.3 .6,1.8 .4,2 .6-10.7 .4,5.1 .6,0 .4,2.7 .6,3.8 .4,2.6 .6-8.2 .4,8.1 .6-4.4 .4,1.9 .6,3 .4-5.9 .6,8 .4-8 .6,9.8 .4-5.9 .6-4.8 .4,7.8 .6,3.3 .4,1.1 .6-8.4 .4,2 .6-5.8 .4,8.9 .6-2.1 .4,0 .6,4.3 .4-10.2 .6,10.2 .4-5.3 .6,20.9 .4-11.1 .6-6.7 .4,9.1 .6,0 .4-4.7 .6,3.5 .4,0 .6-5.7 .4,11.2 .6-13.4 .4,2.2 .6-5.3 .4,19.7 .6-11.1 .4,2.4 .6-1.2 .4-2.3 .6-5.5 .4,7.8 .6,6.2 .4,1.3 .6-5.1 .4,7.8 .6-2.7 .4-2.6 .6,4 .4,.7 .6-2.1 .4-2.6 .6-3.7 .4,11.4 .6-10.2 .4,7.8 .6,1.4 .4-1.4 .6,2.9 .4-2.9 .6,2.9 .4-1.5 .6-5.4 .4,6.3 .6-3.6 .4,0 .6,0 .4,1.5 .6-6.8 .4,6.1 .6,4.8 .4-12.1 .6,12.1 .4-1.4 .6-2.9 .4,9 .6-6.1 .4,3 .6-9.9 .4,4 .6-5.3 .4-3.7 .6,11.9 .4,3 .6-5.9 .4,9 .6-9 .4,4.3 .6,1.6 .4-5.9 .6-7.8 .4,7.8 .6,2.9 .4,3 .6,6.8 .4-21.7 .6,13.3 .4-8.3 .6,11.4 .4,1.6 .6-3.1 .4-7.2 .6,10.3 .4-4.7 .6,9.7 .4,0 .6-11.1 .4-6.9 .6,6.9 .4,3.9 .6-10.8 .4,8.3 .6-7 .4,8.6 .6,8.6 .4-13.1 .6-5.4 .4,5.4 .6,4.5 .4,4.7 .6-17.2 .4,10.9 .6,3.1 .4-10.1 .6-12 .4,19 .6,8 .4,7.1 .6-10.4 .4-13 .6,11.4 .4-6 .6,12 .4-10.9 .6-6.5 .4,9.9 .6-7.2 .4,8.7 .6,0 .4,4.9 .6,3.5 .4-1.8 .6-14 .4,9.9 .6,4.1 .4,.6 .6-13.2 .4,14.4 .6-15.8 .4,7.4 .6,7.5 .4-5.9 .6,6.8 .4-6.8 .6,6.8 .4-8.4 .6,4.9 .4-3.3 .6-3.1 .4,11.7 .6-13.3 .4,8 .6-6.4 .4,11.7 .6-10 .4-4.7 .6,9.4 .4,7.1 .6-12 .4,0 .6,10.2 .4-10.9 .6-3.8 .4,6.1 .6,0 .4-3.1 .6,11.7 .4-5.3 .6-3.3 .4-1.6 .6,0 .4,6.6 .6-14 .4,0 .6,9 .4-3.1 .6-5.9 .4,21.4 .6-14 .4,10.2 .6-8.6 .4,.8 .6,2.5 .4,7.1 .6,3.9 .4-15.9 .6,14 .4-28 .6,20.6 .4,3.6 .6,3.8 .4-14 .6,10.2 .4,2.9 .6-2.9 .4-1.8 .6,1.8 .4,4.7 .6-18 .4,13.3 .6,1.8 .4,0 .6-10.4 .4,12.4 .6-2 .4-1.8 .6-1.8 .4,1.8 .6-10.2 .4,14 .6,1.9 .4-7.5 .6,2.8 .4-9.6 .6,12.4 .4-5.6 .6,1.8 .4-1.8 .6,0 .4-1.8 .6,5.7 .4-2.1 .6,3.8 .4,11.7 .6-30.2 .4,14.7 .6,7.8 .4-2.1 .6-7.5 .4-1.8 .6,5.4 .4,2 .6,1.9 .4-7.5 .6-1.8 .4,5.4 .6-5.4 .4,7.4 .6-12.4 .4,14.3 .6,0 .4-7.5 .6-1.8 .4,3.6 .6,16.6 .4-18.4 .6,16.2 .4-12.6 .6-12 .4,14.4 .6,1.5 .4,4.2 .6-2.1 .4,2.1 .6-21.6 .4,8.1 .6,11.5 .4-4.1 .6,1.9 .4-5.7 .6,12.1 .4-4.3 .6-6 .4-5.4 .6,15.7 .4-6.4 .6-1.9 .4-2 .6,3 .4-4.8 .6-13.3 .4,8 .6,7.1 .4,11 .6-11 .4,8.1 .6-11.7 .4,1.8 .6,7.1 .4-17.3 .6,3.2 .4,16.9 .6-2.1 .4,11.4 .6-11.4 .4-11.4 .6,22.8 .4-4.8 .6-6.6 .4,2.1 .6,4.5 .4-2.3 .6,6 .4-3.7 .6-8.7 .4,4.2 .6-2.1 .4,6.6 .6-2.3 .4-8.3 .6,12.9 .4-14.9 .6,12.6 .4-4.5 .6,0 .4,4.5 .6-10.6 .4-2 .6,0 .4,19.9 .6-13.9 .4,8.9 .6,0 .4-12.9 .6,0 .4,0 .6,10.6 .4-16.2 .6,3.6 .4,3.9 .6,0 .4-1.9 .6,6.1 .4,6.8 .6-16.7 .4,9.9 .6-8.1 .4,2 .6-5.6 .4,13.9 .6-10.3 .4,12.6 .6-10.6 .4,8.3 .6,9.6 .4-11.8 .6,4.5 .4,2.3 .6-16.7 .4-1.8 .6,9.6 .4-2.1 .6,2.1 .4,2.1 .6-4.2 .4,13.5 .6-17.4 .4,14.9 .6-2.3 .4-10.6 .6,15.4 .4-9.3 .6-11.7 .4,9.6 .6,3.3 .4,1 .6-15.7 .4,5.4 .6,8.1 .4,4.5 .6-6.6 .4,4.3 .6,2.3 .4,2.3 .6-4.5 .4-12.2 .6,1.8 .4,11.7 .6-5.7 .4,0 .6,6.6 .4-12.6 .6,10.3 .4,2.3 .6,2.3 .4-14.9 .6,13.7 .4,9.3 .6-14.9 .4,6.9 .6-4.7 .4-6.4 .6,8.7 .4,0 .6,2.3 .4-11 .6,24.4 .4-28.3 .6,12.7 .4,2.2 .6,13.4 .4-31.9 .6,9.6 .4-9.6 .6,18.5 .4,2.5 .6,8 .4-12.8 .6,4.8 .4-13.5 .6,6.4 .4,9.6 .6-9.6 .4,9.6 .6-7.3 .4,5 .6-5 .4,13.4 .6-15.7 .4,2.3 .6,3.7 .4,6.3 .6,1.4 .4-1.4 .6,0 .4-16.6 .6,8.9 .4,9.5 .6-16.3 .4,12.3 .6-7.8 .4,7.3 .6,1.4 .4-13.2 .6,11.8 .4,8.4 .6-20.2 .4,14.5 .6,0 .4-2.7 .6-2.5 .4,2.5 .6,0 .4,0 .6,0 .4-9.6 .6,2.3 .4,2.3 .6,26.1 .4-30.7 .6,6.2 .4-6.2 .6,0 .4,8.4 .6-12.7 .4,16.6 .6,0 .4-16.6 .6,2.1 .4,11.8 .6,1.4 .4-6.4 .6,7.7 .4-10 .6,7.3 .4-7.3 .6,4.8 .4-4.8 .6,2.3 .4,0 .6,0 .4,2.5 .6-7.1 .4,2.3 .6,2.3 .4,10.5 .6-19.4 .4,22.3 .6-20.2 .4,11.8 .6,2.7 .4-2.7 .6,5.5 .4-5.5 .6-2.5 .4-4.8 .6,7.3 .4,2.7 .6-2.7 .4-5 .6,15.8 .4-15.8 .6,17.2 .4-2.3 .6-1.5 .4-20.2 .6-2.1 .4,19.4 .6,2.9 .4-2.9 .6,0 .4-8 .6,2.5 .4,0 .6-5 .4,13.4 .6-10.9 .4,8 .6-10.5 .4,10.5 .6,2.9 .4-5.7 .6-5.2 .4,8 .6,3 .4-.1 .6,6.3 .4-14.7 .6,8.4 .4-13.4 .6,16.4 .4-5.9 .6-8 .4,13.9 .6-8.7 .4,0 .6-12.3 .4,4.6 .6,8.2 .4,5.2 .6,0 .4,0 .6-1.3 .4-14.4 .6,12.8 .4,0 .6-8 .4,0 .6,13.9 .4-5.9 .6-2.8 .4,0 .6-5.2 .4,10.9 .6-10.9 .4,0 .6,5.2 .4,0 .6-10 .4,16.3 .6-20.8 .4,14.5 .6-5.2 .4,5.4 .6,5.5 .4-15.7 .6,12.8 .4,9.2 .6-17.2 .4,0 .6,12.1 .4-6.9 .6,8.7 .4-11.4 .6,2.7 .4-5.2 .6,25.1 .4-14.2 .6-2.9 .4-21.5 .6,30.7 .4,0 .6,3.3 .4-9.6 .6-2.9 .4-10.5 .6,10.5 .4-15.1 .6,15.1 .4-2.8 .6,5.7 .4-20.2 .6,14.9 .4-8.1 .6,2.5 .4,2.5 .6-2.5 .4,24.1 .6-9.8 .4-6.3 .6,0 .4-2.8 .6-14.5 .4,25.9 .6-11.4 .4-2.7 .6,5.5 .4,9.2 .6-6.3 .4,9.6 .6-12.5 .4,9.2 .6-9.2 .4-8 .6,24.1 .4-21.6 .6,18 .4-9.6 .6,0 .4,6.3 .6,3.3 .4,0 .6-9.6 .4-8.4 .6,2.7 .4-5.2 .6,17.2 .4,0 .6-3.3 .4,6.6 .6,0 .4-6.6 .6,0 .4,3.3 .6-6.3 .4,13.2 .6-13.2 .4-5.7 .6,0 .4,12 .6-17.2 .4,0 .6,5.2 .4,12 .6,3.3 .4,0 .6-12.5 .4,5.9 .6,6.6 .4-12.5 .6,16.1 .4-21.6 .6,2.7 .4,22.7 .6-30.4 .4,5 .6,8.4 .4,6.3 .6,0 .4,6.9 .6-13.2 .4-8.4 .6,8.4 .4-15.7 .6,12.8 .4,6.3 .6-6.3 .4-10.5 .6,15.2 .4-7.5 .6,5.7 .4-2.9 .6-5.5 .4-2.5 .6,8 .4,5.9 .6,3.3 .4-14.7 .6,14.7 .4,3.3 .6-23 .4,13.4 .6-18 .4,27.6 .6,0 .4-18 .6,2.7 .4,12 .6-14.7 .4,8.4 .6,0 .4,5.1 .6-16 .4,27.9 .6-19.9 .4,5.9 .6-11.4 .4,11.4 .6,0 .4-5.9 .6-2.8 .4-7.7 .6,19.7 .4-6.3 .6,0 .4,6.3 .6,6.9 .4-10.2 .6-3 .4,9.6 .6-6.6 .4,6.6 .6-6.6 .4-3 .6,0 .4-2.9 .6,0 .4,2.9 .6,15.8 .4-9.5 .6-9.2 .4,0 .6,2.9 .4,3 .6,3.3 .4,6.9 .6,0 .4-6.9 .6,6.9 .4-6.9 .6,6.9 .4-3.6 .6-3.3 .4-3.3 .6,3.3 .4,3.3 .6-6.6 .4-5.9 .6,0 .4,0 .6,16.1 .4-3.6 .6-9.6 .4-2.9 .6,0 .4,12 .6-17.5 .4,21.6 .6-13.2 .4-10.9 .6,17.2 .4-9.2 .6,9.2 .4,6.9 .6,0 .4-16.1 .6,6.3 .4-19.1 .6,32.7 .4-3.8 .6-10.2 .4,10.2 .6,0 .4-10.2 .6-3 .4,9.6 .6,0 .4-6.6 .6,6.6 .4-12.5 .6,7.7 .4-15.7 .6,24.1 .4-21.6 .6-2.5 .4,8 .6,0 .4,16.1 .6-6.9 .4-17.2 .6,8.6 .4,12 .6-3.4 .4,3.3 .6-6.6 .4,0 .6-12.5 .4-3.9 .6,34.4 .4,0 .6-26.7 .4,15.3 .6-9.6 .4,3 .6-3 .4,10.5 .6,2.7 .4-6.9 .6,6.9 .4-10.1 .6-3.1 .4,13.2 .6-18.9 .4,25.5 .6-10.2 .4-12.5 .6,5.9 .4-5.9 .6,9.2 .4,6.9 .6,0 .4,3.8 .6-10.7 .4-3.3 .6,6.6 .4-12.5 .6,2.9 .4,0 .6,3 .4,22.4 .6-19.1 .4-2 .6-12.7 .4,18 .6-6.6 .4,10.2 .6,0 .4,3.8 .6-19.9 .4,16.1 .6-10.2 .4-3 .6-2.9 .4,21.9 .6-2 .4,8.4 .6-41.1 .4,14.4 .6,14.5 .4-16.1 .6,18.9 .4-6.4 .6,7.4 .4,0 .6-19.9 .4,2.9 .6,9.6 .4,3.6 .6-16.1 .4,16.1 .6,6.1 .4-6.1 .6,3.8 .4-30.4 .6,30.4 .4,4 .6-11.4 .4,7.4 .6-3.8 .4-3.6 .6-12.5 .4,5.9 .6-3 .4,13.2 .6-13.2 .4,9.6 .6,0 .4,11.4 .6,9 .4-32.9 .6,18.9 .4-9.7 .6,3.3 .4,3.6 .6,3.8 .4-3.8 .6-10.2 .4,0 .6,3.3 .4,0 .6,0 .4,14.7 .6-4 .4,13 .6-27 .4,14 .6,0 .4-17 .6,6.3 .4,6.9 .6,3.8 .4,0 .6,8.4 .4-8.4 .6-14 .4,3.3 .6,3.3 .4,5.7 .6-15.3 .4,13.2 .6-10.2 .4,0 .6,3.3 .4,3.3 .6-3.3 .4-6.3 .6,6.3 .4,10.7 .6,4 .4,0 .6-7.7 .4-3.7 .6,0 .4-6.6 .6,10.2 .4-10.2 .6-5.9 .4,14.1 .6,2 .4,16.8 .6-16.8 .4,3.8 .6,4 .4-11.4 .6,7.4 .4-7.4 .6,7.4 .4-10.7 .6,19.1 .4-19.1 .6,7.3 .4,7 .6-14.3 .4,10.7 .6,0 .4,13 .6-4.6 .4-22.4 .6,14 .4-10.7 .6-3.3 .4,14 .6,4 .4-18 .6,14 .4-10.7 .6,3.3 .4-9.6 .6,17 .4-7.4 .6,11.4 .4-18 .6,0 .4,13.5 .6,.5 .4-7.4 .6,7.4 .4-7.4 .6,0 .4,7.9 .6-14.5 .4,0 .6,14 .4,13 .6-4.6 .4-17.3 .6-5.1 .4,5.1 .6,12.9 .4-4 .6,13.2 .4-20.6 .6,0 .4,0 .6,11.4 .4,4.4 .6,9.6 .4-25.4 .6-3.3 .4,6.9 .6,3.8 .4,4 .6-21 .4,13.2 .6-10.2 .4,18.6 .6-8.4 .4,7.8 .6-11.4 .4,20.4 .6-8.8 .4-4.2 .6,13 .4-35.7 .6,35.5 .4-16.6 .6,27.2 .4-40.4 .6,9.6 .4-6.6 .6,14 .4-17 .6,17 .4,4 .6-21 .4,9.6 .6,3.6 .4,0 .6,3.8 .4,0 .6-3.8 .4,7.8 .6,4.4 .4,0 .6-4.4 .4-4 .6,4 .4-18 .6,0 .4,14 .6-3.8 .4,16.8 .6,5.2 .4-28.9 .6,14.7 .4,4.4 .6,0 .4-19.1 .6,0 .4,3.3 .6,5.7 .4,14.7 .6,5 .4,0 .6-5 .4,0 .6-13 .4-7.4 .6,3.6 .4,3.8 .6,6.5 .4,1.9 .6-8.4 .4,9.3 .6-20 .4,10.7 .6,13 .4-4 .6-19.7 .4,14.7 .6-11.4 .4,25.4 .6-5 .4-20.4 .6,11.4 .4,4.4 .6,0 .4-4.4 .6,4.4 .4,0 .6-8.4 .4,8.4 .6,0 .4-12.2 .6,8.4 .4-18.6 .6,13.5 .4,.5 .6,9 .4-9 .6,4 .4-11.4 .6,7.4 .4,18 .6-28.7 .4,3.3 .6,25.4 .4-21.8 .6,12.2 .4-4.4 .6,2.2 .4,6.8 .6,11.5 .4-28.3 .6,12.3 .4-8.5 .6,8.4 .4-.4 .6-15.4 .4,0 .6,0 .4,7.4 .6,4 .4-4 .6,8.4 .4,0 .6-15.8 .4,15.8 .6,4.6 .4,0 .6-9 .4,0 .6-7.8 .4,12.2 .6-15.8 .4,43.4 .6-23 .4-13.5 .6-13.5 .4,10.2 .6,3.8 .4-3.8 .6,0 .4,12.2 .6-15.8 .4-3.3 .6,14.7 .4,19.4 .6-30.8 .4,15.8 .6-8.4 .4-14 .6,22.4 .4-8.4 .6-10.7 .4,0 .6,19.1 .4,4.6 .6-.2 .4-16.6 .6,7.8 .4,0 .6,9 .4,0 .6-4.6 .4,0 .6,2.6 .4-18.4 .6,20.4 .4-9 .6,0 .4-5.7 .6-5.7 .4,30.8 .6-15 .4-8.4 .6-3.8 .4,16.8 .6-9 .4-7.8 .6,3.8 .4-7.4 .6,25.4 .4-28.7 .6,0 .4,26.2 .6-2.5 .4,2.5 .6-2.5 .4-13 .6-14 .4,23 .6-9 .4-7.4 .6,15.8 .4,0 .6-4.4 .4,9 .6,10.4 .4-30.8 .6,7.4 .4,11.7 .6-15.5 .4,7.8 .6,14 .4-9.6 .6-15.8 .4,3.6 .6,12.2 .4-8.4 .6,4.2 .4,4.3 .6-4.5 .4,0 .6,4.4 .4,4.6 .6-32.9 .4,16.1 .6,0 .4,12.2 .6-8.4 .4-3.8 .6,7.8 .4,10.7 .6-14.7 .4,8.4 .6-4.4 .4,0 .6,32.4 0,7-.6-7-.4,14.7-.6,21.6-.4-21-.6-8.3-.4,61.3-.6-68.7-.4,25.3-.6,0-.4,0-.6-6.2-.4,31.6-.6-25.4-.4-25.3-.6,0-.4,15.7-.6,53-.4-32-.6-29.8-.4,29.8-.6-29.3-.4-10-.6,10-.4,0-.6,8.3-.4-12-.6,3.7-.4,0-.6-3.7-.4,21.6-.6,43.4-.4-71.3-.6,39.3-.4,0-.6-43.3-.4,22.3-.6,0-.4,0-.6,0-.4,0-.6,9.6-.4-17.9-.6,29.3-.4-29.3-.6,4.1-.4,4.2-.6,9.6-.4-9.6-.6,21-.4-29.3-.6,8.3-.4,21-.6-10.5-.4-10.5-.6,9.6-.4-31.9-.6,0-.4-6-.6,6-.4,28.6-.6,28.7-.4-43.3-.6,0-.4,0-.6,17.9-.4-9-.6-.6-.4,0-.6,21-.4-21-.6,0-.4-21-.6-1.3-.4,6.6-.6,7.4-.4-7.4-.6,0-.4,15.7-.6-14.1-.4,23.7-.6-9.6-.4,9.6-.6-9.6-.4-8.3-.6,8.3-.4,0-.6-8.3-.4,8.3-.6-8.3-.4-7.4-.6,0-.4,36.7-.6,14-.4-34.4-.6-34.3-.4,25.4-.6,8.3-.4-28.3-.6,12.6-.4,15.7-.6-28.3-.4,34.6-.6,14.7-.4,0-.6-11.4-.4-25.3-.6,0-.4-3.7-.6,29-.4-25.3-.6,0-.4,15.7-.6-8.3-.4,17.9-.6-24.1-.4,24.1-.6-25.3-.4,7.4-.6-7.4-.4-6.6-.6,22.3-.4,21-.6-29.3-.4-7.4-.6,68.7-.4-68.7-.6-18-.4,54.7-.6,0-.4-10.5-.6-10.5-.4,35-.6-60.3-.4,3-.6-11.4-.4,33.7-.6,0-.4-22.3-.6,14-.4,0-.6-7.4-.4,0-.6,0-.4-6.6-.6,14-.4,8.3-.6-15.7-.4,7.4-.6,5.3-.4,12.6-.6-9.6-.4,21-.6-36.3-.4,36.3-.6-21-.4-37-.6,28.7-.4,8.3-.6-15.7-.4,20.5-.6,48.2-.4-61.3-.6,8.3-.4-8.3-.6,8.3-.4,0-.6,0-.4-19.4-.6,19.4-.4-8.8-.6,29.8-.4-36.7-.6,50.7-.4,0-.6-68.5-.4,33.5-.6,9.6-.4-25.3-.6-16-.4,31.7-.6-7.9-.4-7.8-.6,7.4-.4,17.9-.6-17.9-.4-14-.6,22.3-.4-12-.6,3.7-.4,0-.6-11.1-.4,19.4-.6,0-.4-25.8-.6,25.8-.4-12-.6,21.6-.4-31.9-.6,6.6-.4,25.3-.6-17.9-.4,29.3-.6-45.7-.4,24.7-.6,9.6-.4-9.6-.6-22.3-.4,14-.6-7.4-.4-12.6-.6,20-.4,8.3-.6-8.3-.4-7.4-.6-6.6-.4,14-.6,17.9-.4-31.9-.6,14-.4-20-.6,6-.4,6.6-.6,7.4-.4-14-.6-6-.4,12.6-.6-18-.4,43.3-.6-6.9-.4,50.3-.6-53-.4-22.3-.6,6.6-.4,7.4-.6,0-.4-10-.6,18.3-.4,53-.6-53-.4-28.3-.6,0-.4,6-.6,6.6-.4,1.6-.6,14.1-.4-8.3-.6-3.7-.4,21.6-.6-37.9-.4,6-.6-11.4-.4,86.7-.6-77.7-.4,24.7-.6-8.3-.4,17.9-.6-31.9-.4,0-.6,6.6-.4-18-.6,6.5-.4,11.5-.6-12.3-.4-.3-.6,6-.4-6-.6,20-.4,8.3-.6,0-.4-22.3-.6-11.4-.4,5.4-.6,20-.4,0-.6-14-.4-6-.6,0-.4-7.9-.6,15.2-.4,21-.6-16.9-.4,16.9-.6,0-.4-33.7-.6,25.4-.4,17.9-.6-25.3-.4,36.7-.6-21-.4-31-.6,8.7-.4-6-.6,37.9-.4-24.1-.6-1.2-.4,7.4-.6-30.2-.4,10.2-.6,0-.4,0-.6,12.6-.4,7.4-.6,0-.4-24.5-.6,32.8-.4-15.7-.6,7.4-.4,0-.6-25.4-.4,5.4-.6,0-.4,12.6-.6-12.6-.4,6-.6,31.9-.4-25.3-.6-12.6-.4,20-.6-20-.4,49.3-.6-21-.4-37-.6,28.7-.4,8.3-.6-28.3-.4,6-.6,8.2-.4,14.1-.6-28.3-.4,49.3-.6-11.4-.4-31.9-.6-7.2-.4,13.8-.6,7.4-.4-21.7-.6-3.7-.4,11.4-.6,14-.4-30.4-.6,5-.4,5.7-.6,5.7-.4-11.4-.6,22.5-.4,32.2-.6-36.7-.4-1.2-.6,26.5-.4-17.9-.6-20-.4,6-.6-13.5-.4,7.5-.6,6-.4-16.4-.6,0-.4,23-.6,7.4-.4-20-.6-2.7-.4,40.6-.6-25.3-.4-16-.6,3.4-.4-5.4-.6,0-.4,18-.6,7.4-.4-15.2-.6-4.8-.4-7.5-.6-2.9-.4,30.4-.6-25.4-.4,25.4-.6-14-.4,14-.6,8.3-.4-28-.6,5.7-.4,14-.6-25.2-.4,5.2-.6-9.7-.4,9.7-.6,12.6-.4-6.6-.6-15.7-.4,9.7-.6,6-.4-6-.6-14.9-.4,20.9-.6-3-.4,3-.6,0-.4-5.7-.6,5.7-.4,22.3-.6-19.4-.4,3.7-.6-6.6-.4,0-.6-8.7-.4,22.7-.6-14-.4-16.2-.6,4.8-.4,18-.6-20.5-.4,13.9-.6,14-.4-24.5-.6,17.1-.4-12.6-.6,28.3-.4,0-.6-33.7-.4,0-.6,33.7-.4-38.7-.6,30.4-.4,0-.6-12.7-.4-7.3-.6,20-.4-15.2-.6-4.8-.4-5.4-.6,11.4-.4-3-.6,3-.4-8.7-.6,8.7-.4-25.2-.6,6.8-.4,25-.6-13.8-.4,13.8-.6-1.2-.4,16.9-.6-22.3-.4,6.6-.6,7.4-.4-19.7-.6-3.7-.4,16-.6-23.2-.4,16.6-.6,6.6-.4,15.7-.6-33.7-.4,18-.6,15.7-.4-29.5-.6,29.5-.4-23.8-.6-23.9-.4,14-.6,54.7-.4-41.7-.6-20-.4-2.5-.6,20.9-.4,0-.6,14-.4,0-.6-20-.4,12.6-.6-19.3-.4,12.7-.6-16.4-.4,16.4-.6-16.4-.4,16.4-.6-16.4-.4,23-.6-6.6-.4-11.2-.6,5.2-.4-10.4-.6,23-.4,0-.6-18-.4,0-.6,11.4-.4-8.2-.6,8.2-.4,0-.6,14-.4,0-.6-25.4-.4-9.5-.6,9.5-.4,18-.6-31.4-.4,19.1-.6,5.7-.4-6-.6-18.7-.4,24.7-.6-25.4-.4,25.4-.6-6-.4,0-.6-5.4-.4-3.7-.6,21.7-.4,7.4-.6-27.1-.4,1.7-.6,0-.4-4.8-.6,10.2-.4,0-.6-10.4-.4-4.6-.6,35-.4-14-.6-11.4-.4,5.4-.6-27.1-.4,27.1-.6-19.4-.4,9-.6-2-.4,7-.6,0-.4-5-.6,10.4-.4-19.4-.6,14-.4,0-.6-5-.4,10.4-.6-15-.4-4.4-.6,9-.4-6.5-.6-2.5-.4,14-.6,33.7-.4,0-.6-31-.4,8.7-.6-21.4-.4,15.4-.6-10.4-.4,10.4-.6-15-.4,21-.6,14-.4-25.4-.6,0-.4,0-.6-5-.4-4.5-.6,9.5-.4,18-.6,0-.4-23-.6,11-.4,27.7-.6-28.3-.4,0-.6-14.9-.4,4.5-.6,16.4-.4,14-.6-14-.4,0-.6-33.2-.4,12.2-.6,0-.4,4.6-.6,38.7-.4-23.8-.6-23.9-.4,14-.6,5.4-.4,12.6-.6-27.6-.4,2.3-.6,2.3-.4-4.6-.6,4.6-.4,23-.6-12.6-.4-9.7-.6,15.7-.4-8.2-.6,2.2-.4-10.4-.6,5-.4-4.8-.6-17-.4,.4-.6,7.4-.4,25.4-.6-20.9-.4,4.5-.6-4.6-.4,9.6-.6,0-.4-21.8-.6,16.8-.4-4.6-.6,4.6-.4,0-.6,5-.4,25.4-.6-3.7-.4-31.3-.6,0-.4,9.6-.6,11.4-.4-23.1-.6,11.7-.4,0-.6,5.4-.4,6-.6-25.4-.4,4.4-.6,0-.4,9.6-.6-14-.4-7.8-.6,12.3-.4,27.5-.6-6.6-.4-29.4-.6,2-.4,16-.6,5.4-.4,20-.6-27.1-.4-7.9-.6,9.6-.4,0-.6-17.9-.4-3.9-.6,0-.4,7.8-.6,14-.4-5-.6,0-.4,0-.6-9-.4,19.4-.6-23.4-.4,8.4-.6,9.6-.4,11.4-.6-11.4-.4-14-.6,5.8-.4,13.6-.6-19.4-.4-11.4-.6,15.8-.4-15.6-.6,3.4-.4,21.8-.6-9.6-.4-15.8-.6,11.4-.4-5.9-.6,10.3-.4-4.4-.6-4-.4,4-.6,0-.4,14-.6-5-.4-4.6-.6,4.6-.4-4.6-.6,21-.4-21-.6,21-.4-29.4-.6,23.4-.4-11.7-.6,6.3-.4-12.7-.6,3.1-.4,2.6-.6,18.4-.4-11.4-.6,18-.4-21.7-.6-1.3-.4,0-.6,0-.4,10.4-.6-17.2-.4,2.2-.6,4.6-.4-13-.6,5.3-.4,12.7-.6-19.9-.4,14.9-.6-16.8-.4,7.8-.6,4.4-.4,0-.6,21-.4-28.9-.6,7.9-.4-12.2-.6,33.2-.4-36.8-.6,25.4-.4,0-.6-5-.4-15-.6,6-.4,25.4-.6-43.4-.4,16.3-.6,6.1-.4,9.6-.6,0-.4-9-.6,9-.4-21.8-.6,7.8-.4,14-.6-21.4-.4,7.4-.6,0-.4,4.4-.6,21-.4-29.4-.6-3.8-.4,3.8-.6,0-.4,13-.6-9-.4-2-.6-9.4-.4,11.4-.6,0-.4,4.4-.6-19.1-.4,10.7-.6,0-.4-3.8-.6,3.8-.4,0-.6,8.4-.4-12.2-.6-6.9-.4,40.1-.6-25.4-.4-14.7-.6,10.7-.4-14.6-.6,50.6-.4-37.9-.6,5.9-.4,4.4-.6,0-.4,0-.6-7.9-.4-4.3-.6,27.2-.4-25.6-.6,6.2-.4-4-.6-7.4-.4,15.8-.6,0-.4,9.6-.6-25.4-.4,3.6-.6,7.8-.4,0-.6-11-.4,7-.6-7.4-.4,11.4-.6-7.8-.4-6.9-.6,28.7-.4-5-.6-9-.4,0-.6-4-.4-3.8-.6-1.8-.4,1.8-.6-10.2-.4,18-.6-14.7-.4-6.3-.6,6.3-.4-11.6-.6,14.9-.4,3.6-.6-3.6-.4,30.8-.6-18.7-.4,13.3-.6-25.4-.4,3.6-.6,0-.4,7.8-.6-7.8-.4,12.2-.6-15.8-.4-6.9-.6,32.3-.4-9.6-.6-15.8-.4,20.4-.6-20.4-.4,20.4-.6-20.4-.4-6.6-.6,18-.4-14.7-.6,0-.4,14.7-.6-7.8-.4,0-.6,0-.4-10.2-.6,3.3-.4-6.2-.6,16.9-.4-10.7-.6-6.3-.4,6.3-.6-6.3-.4-8.4-.6,25.4-.4-12.7-.6,5.3-.4,7.4-.6-14-.4,6.6-.6-6.2-.4-9.1-.6,12-.4,0-.6,10.7-.4,0-.6-10.7-.4,3.3-.6,7.4-.4-13.9-.6,17.9-.4-21-.6-.5-.4,17.5-.6,0-.4-7.4-.6-12.6-.4,24-.6-15.9-.4-14.7-.6,6.7-.4,16.1-.6-10.2-.4-3-.6,6.3-.4-3.3-.6,0-.4,6.6-.6,3.6-.4-3.6-.6-1.1-.4,8.5-.6-17-.4,3-.6,0-.4,6.6-.6-9.6-.4,3-.6,0-.4,22.4-.6-12.2-.4,3.8-.6-14-.4,3.3-.6,6.9-.4-13.2-.6,1.5-.4,4.8-.6,6.9-.4,3.8-.6-3.8-.4-17.4-.6,4.2-.4,13.2-.6-26.6-.4,10.5-.6-2.6-.4,5.5-.6-4.3-.4,1.4-.6,8.6-.4,11.3-.6-22.7-.4,26.7-.6-19.5-.4-10.5-.6-4.4-.4,10.5-.6,16.1-.4-16.1-.6-5.2-.4,5.2-.6,0-.4,9.5-.6,6.6-.4,21.8-.6-37.9-.4,19.9-.6-22.7-.4,12-.6,19.1-.4-26-.6,13.8-.4-21.3-.6,5.2-.4-2.8-.6,12-.4-11-.6,4.7-.4,3-.6-3-.4,9.6-.6-18-.4,2.7-.6,0-.4,12-.6-6.3-.4,0-.6,6.3-.4,3.3-.6-18-.4-8-.6,10.7-.4,12-.6-3.3-.4,18-.6-10.5-.4-16.2-.6-11.2-.4,16.9-.6,9.6-.4-15.9-.6,9.3-.4-16.4-.6,19.7-.4-12-.6,2.8-.4-2.8-.6-12.3-.4,15.1-.6,9.2-.4-16.3-.6,10-.4,0-.6-15.7-.4,32.7-.6-19.7-.4-8.2-.6,24.1-.4,3.8-.6-19.9-.4,5.9-.6-5.9-.4,0-.6-8-.4-11.4-.6,11.4-.4,4.2-.6,6.7-.4,13.2-.6-21.6-.4,8.4-.6-8.4-.4,11.4-.6-8.7-.4-13.9-.6,8.7-.4,8-.6-6.4-.4,6.4-.6-15.1-.4,21-.6-23.2-.4,6.8-.6,2.5-.4,10.9-.6-2.9-.4,32.9-.6-35.9-.4,.2-.6-5-.4-11.6-.6,11.4-.4,2.5-.6-7.3-.4-8.7-.6,11-.4,7.7-.6-5.2-.4-4.8-.6,10-.4-12.2-.6,15-.4,9.2-.6-17.2-.4,2.5-.6,0-.4,0-.6,0-.4-13.9-.6,11.4-.4-4.8-.6,10-.4-7.7-.6,1.4-.4,3.6-.6-16-.4,18.7-.6-5.2-.4-2.5-.6,5-.4-13.9-.6,13.9-.4-5-.6-10.9-.4,15.9-.6,14.7-.4-11-.6-19.7-.4,2.1-.6,2.1-.4,20.2-.6-13.4-.4-4.6-.6,3.5-.4,3.6-.6-4.8-.4-12.6-.6,14.9-.4-8.9-.6-3.7-.4,12.6-.6,7.7-.4,0-.6-2.7-.4,14.7-.6-12.2-.4-14.3-.6-4.2-.4,0-.6,6.4-.4,21-.6-15.6-.4-.8-.6-6.8-.4,9.3-.6,0-.4,.2-.6,13.7-.4-23.2-.6,4.5-.4-10.6-.6,0-.4,0-.6,15.4-.4-2.5-.6,2.5-.4-13.5-.6,11-.4-4.6-.6,4.6-.4-2.3-.6-12.6-.4,17.4-.6-18.2-.4,2.8-.6,12.9-.4-8.9-.6,2.1-.4,6.8-.6-6.8-.4,4.5-.6-12.3-.4,1.1-.6,6.7-.4-11.7-.6,26.2-.4-20.6-.6,15.4-.4-4.8-.6-8.1-.4,12.9-.6-7.1-.4-6.4-.6,2.1-.4-7.8-.6,14.4-.4-12.6-.6,0-.4-1.8-.6-1.8-.4-.6-.6,6.2-.4,10.6-.6-2.3-.4-12.1-.6-3.5-.4,11.3-.6-7.8-.4,5.7-.6-11-.4,13.1-.6-10.9-.4,13-.6-15.2-.4,29.7-.6-20.6-.4-5.6-.6,2.4-.4,9.3-.6,0-.4-23.7-.6,17.6-.4-17.1-.6,17.2-.4,3.9-.6-13-.4-5-.6,31.9-.4-27-.6,1.7-.4,5.4-.6-15.1-.4,8-.6,5.3-.4-8.6-.6,3.3-.4,11-.6-3.9-.4-16.5-.6,6.1-.4-6.1-.6,20.4-.4-15.9-.6-3-.4-4.4-.6,5.9-.4,1.5-.6,3.2-.4-7.9-.6,4.7-.4,8.4-.6-9-.4,10.8-.6-16-.4,4.3-.6,6.4-.4-6.4-.6-4.5-.4,4.5-.6,3.1-.4-6.1-.6,3-.4-3-.6,16.5-.4-29.6-.6,8.9-.4,7.2-.6-7.2-.4-1.4-.6-5-.4,6.4-.6-4-.4-3.7-.6,3.7-.4-4.9-.6-1.7-.4,9.2-.6-15.6-.4,9.3-.6,3.7-.4-1.3-.6-2.4-.4,3.7-.6-10.7-.4,8.2-.6-9.1-.4,0-.6,10.3-.4-16.4-.6,3-.4-3-.6,21.7-.4-23.6-.6,1-.4-3.7-.6,2.7-.4-8.7-.6,17.8-.4-13.6-.6,4.5-.4-8.5-.6-4.1-.4,3.1-.6-4.9-.4,7.4-.6-7.1-.4-1.5-.6,9.4-.4-14.9-.6,1.3-.4,2.1-.6-4.1-.4,.7-.6,4.8-.4-5.5-.6-1.3-.4-2.5-.6-4.8-.4,5.4-.6-2.5-.4-1.7-.6,8.7-.4-6.4-.6-5.2-.4,5.9-.6-7-.4,5.7-.6-4-.4-4.4-.6-7.6-.4,10.3-.6-5-.4,2.3-.6,17.5-.4-13.4-.6-2.5-.4,.6-.6-7.2-.4,3-.6,0-.4-4.9-.6-1-.4-3.1-.6-5.5-.4,0-.6,0-.4-4.3-.6,2.7-.4-7.2-.6,2.3-.4-1.1-.6-3.1-.4-1.4-.6-5.1-.4-.9-.6-2.1-.4-.3-.6-4.5-.4-1.3-.6-.8-.4,3.8-.6-10.3-.4,2.2-.6-4.5-.4-1.1-.6-5.7-.4-.3-.6,6-.4-10.8-.6-1.4-.4,1.4-.6-1.9-.4-6.6-.6-1.7-.4-3.3-.6-.8-.4-1.6-.6,.9-.4-1.6-.6-6.2-.4-2.7-.6-2.5-.4,.2-.6-2-.4-2.3-.6-3.1-.4-5.7-.6-2.1-.4-.1-.6-2.8-.4-3.6-.6-2.5-.4-2.6-.6,2.8-.4-4.4-.6-5-.4-2.4-.6-3-.4-3.7-.6-2.1-.4-2.7-.6-1.5-.4-5-.6-.7-.4-2-.6-3.5-.4,.1-.6-2.9-.4-3.1-.6-1.5-.4-3.3-.6-.4-.4-2.3-.6-3.8-.4,1.6-.6-5.2-.4-2.7-.6-2.5-.4-1.7-.6-2.4-.4-1.2-.6-1.8-.4-1.1-.6-2.7-.4-.8-.6-3.6-.4-1.3-.6-3-.4-2.1-.6-1.3-.4-1.4-.6-1.9-.4-2.4-.6-1.1-.4-2.4-.6-.6-.4-.6-.6-2.1-.4-2.1-.6-3.1z" fill="#a6cee3" stroke="#a6cee3" stroke-width="0.55" stroke-linejoin="bevel"/>
<path d="M1057.8,100.8 1058.8,103.3 1059.9,106 1060.9,108.7 1062,111.6 1063,114.6 1064,117.7 1065.1,120.9 1066.1,124.3 1067.2,127.7 1068.2,131.2 1069.3,134.8 1070.3,138.5 1071.3,142.3 1072.4,146.4 1073.4,150.7 1074.5,155.4 1075.5,160.2 1076.5,165.2 1077.6,170.3 1078.6,175.4 1079.7,180.6 1080.7,185.8 1081.7,190.9 1082.8,195.8 1083.8,200.7 1084.9,205.3 1085.9,209.6 1086.9,213.7 1088,217.5 1089,221.1 1090.1,224.6 1091.1,227.9 1092.2,231.2 1093.2,234.3 1094.2,237.3 1095.3,240.2 1096.3,243.1 1097.4,245.9 1098.4,248.5 1099.4,251.1 1100.5,253.6 1101.5,256.1 1102.6,258.4 1103.6,260.7 1104.6,262.9 1105.7,265 1106.7,267 1107.8,268.9 1108.8,270.8 1109.8,272.5 1110.9,274.2 1111.9,275.8 1113,277.3 1114,278.8 1115.1,280.1 1116.1,281.4 1117.1,282.6 1118.2,283.8 1119.2,285" fill="none" stroke="#72aad1" stroke-width="1.35"/>
<path d="M1058,99.1l.6,.8 .4,3.5 .6,.3 .4,2.2 .6,1.4 .4-.2 .6,.7 .4,1.9 .6,2.2 .4,1.4 .6,2.4 .4,.2 .6,2.6 .4,1.7 .6,.3 .4,2.3 .6,1.8 .4,1.8 .6,1.5 .4,.9 .6,3.3 .4,.1 .6,2.1 .4,2.3 .6,1.3 .4,3.4 .6-.2 .4,1.9 .6,1.1 .4,5 .6,0 .4,3.1 .6-1.2 .4,6.1 .6,.4 .4,2.6 .6,3 .4,1.2 .6,2.1 .4,3.1 .6,3 .4,3.4 .6,4.7 .4,.7 .6,1 .4,.7 .6,3.2 .4,4.9 .6,1.6 .4,2.8 .6-.5 .4,3.7 .6,2.8 .4,3.7 .6-.3 .4,5 .6,.9 .4-.5 .6,1.5 .4,1.4 .6,3.5 .4,3.8 .6-2.5 .4,3.8 .6,1.4 .4,.4 .6-1.7 .4,6.9 .6-.2 .4-1 .6,4.1 .4,1.8 .6-2 .4,4 .6,2.2 .4-.4 .6,1 .4,5.3 .6-1.6 .4,1.4 .6,2.8 .4-1.1 .6,1 .4,1.1 .6,4.7 .4,1.8 .6-2.1 .4,2.8 .6,.9 .4-1.1 .6,.4 .4,4.2 .6-3.8 .4,2.6 .6,4.8 .4-5.4 .6,3.9 .4,1.9 .6,1.3 .4,2.8 .6-3.9 .4,4.8 .6-3.1 .4,6 .6-4 .4,3.4 .6,1.6 .4,4.3 .6-5 .4,3.2 .6,2.3 .4,.7 .6-1.5 .4-3 .6,1.2 .4-.2 .6,7.2 .4-3.4 .6,2.7 .4,.6 .6-6.4 .4,5.6 .6,2.8 .4-2 .6,4 .4-6.5 .6,2.4 .4,6.2 .6-1.5 .4-.9 .6,.9 .4,2.4 .6,2.3 .4-5.9 .6-2.3 .4,7.2 .6-1.6 .4-1.2 .6,.6 .4-6.4 .6,10.2 .4,.7 .6-1.3 .4,4.3 .6-2 .4-3 .6-.3 .4,2.9 .6,1 .4,0 .6,3.9 .4-9.4 .6,6.3 .4-1.1 .6,5.2 .4-8.2 .6,6.4 .4-1.4 .6,3.4 .4-4.7 .6,.6 .4,5.1 .6-3.7 .4,6.3 .6-1.5 .4-6.4 .6-4.1 .4,7.5 .6-1.8 .4,3.3 .6,1.9 .4,0 .6,1.1 .4-.8 .6-1.1 .4,2.3 .6-5.2 .4,6.8 .6,2.9 .4-4.5 .6,5.1 .4-4.3 .6-.8 .4-.8 .6,4.8 .4-2.4 .6,5.9 .4-2.2 .6-5.3 .4-.4 .6,2 .4,3.3 .6-.9 .4-.4 .6,4.8 .4-4.4 .6,3.5 .4,.9 .6-1.4 .4-7.4 .6,4 .4,3.4 .6,0 .4-4.2 .6,9.7 .4-13.7 .6,9.1 .4,4.6 .6-6.8 .4,4.5 .6-2.7 .4-3.9 .6,1.7 .4,4 .6,0 .4,1.8 .6-4.1 .4,.9 .6,3.7 .4-5 .6,4 .4,0 .6-3.1 .4,3.1 .6-.4 .4,2.3 .6-4.1 .4,.9 .6-.5 .4,4.4 .6-.7 .4-4.1 .6,.9 .4,9.7 .6-7 .4-7.1 .6,7.1 .4-1.4 .6-2.7 .4,5.6 .6-1 .4,4.5 .6-5 .4,3.7 .6-1.7 .4,0 .6-1.5 .4,6 .6-5 .4-.5 .6-.5 .4-4.6 .6,1.4 .4,5.1 .6,2.1 .4,.5 .6,0 .4-5.9 .6-6.2 .4,14.7 .6-6.6 .4-3.3 .6,12.9 .4-.3 .6-8.8 .4,4.5 .6-.5 .4,6.5 .6,.6 .4-2.8 .6-10.2 .4,5.4 .6,1.5 .4-1 .6,2.7 .4,.5 .6-3.2 .4,9.2 .6,.2 .4-2.9 .6-1.7 .4,1 .6-4.3 .4,1.1 .6-1.6 .4,3.8 .6-.5 .4-5.3 .6,2 .4,4.9 .6-4.8 .4-2.7 .6,8.1 .4-8.6 .6,5.3 .4-2.3 .6-4.4 .4,7.2 .6-5.3 .4,5.9 .6,.5 .4-3.8 .6,7.3 .4,1.1 .6-5.1 .4,5.7 .6-10 .4,4.8 .6,.6 .4,.8 .6-.8 .4,5.3 .6-1.3 .4-4.6 .6-4.8 .4,8.8 .6-.5 .4,2.4 .6-8.6 .4,6.7 .6-2.3 .4,6.7 .6-9.5 .4-.5 .6,9.3 .4-3.7 .6,4.7 .4-8.7 .6,7.7 .4-1.2 .6,6.8 .4-9.3 .6-1.1 .4-3.4 .6,12.1 .4,0 .6-3.2 .4-7.8 .6-4.9 .4,7.8 .6,3.6 .4-5.4 .6,4.8 .4-4.2 .6,5.4 .4,0 .6-7.1 .4,5.9 .6-3 .4,7.5 .6-8.1 .4,1.1 .6,1.2 .4-2.9 .6,3.6 .4-2.4 .6,0 .4,8.1 .6-2 .4-6.7 .6,1.7 .4,8.4 .6-10.7 .4,10.7 .6-10.7 .4,10.7 .6-4 .4,0 .6-3.1 .4-2.4 .6-2.4 .4,8.5 .6-5 .4,1.9 .6-3 .4,3.6 .6,2.5 .4-2.5 .6-1.9 .4-5.2 .6,11 .4,3.9 .6-4.6 .4-2.6 .6-3.7 .4,5 .6,0 .4,7.2 .6-2.8 .4-9.4 .6,6.7 .4,6.6 .6-5 .4,0 .6-2.7 .4-9 .6,10.4 .4-4.5 .6,8.3 .4-3.2 .6-2 .4-.6 .6,0 .4,0 .6,1.3 .4,2.7 .6,2.4 .4-5.8 .6,9.9 .4-5.8 .6-.7 .4-13.5 .6,10.1 .4-.6 .6,7.5 .4-5.5 .6-7.5 .4,10.4 .6-.9 .4,.3 .6,1.8 .4-6.7 .6,5.3 .4,4.3 .6-.3 .4-2.6 .6-3.5 .4,6.4 .6-2.2 .4-3.5 .6,0 .4-4.6 .6,10.3 .4-5 .6,0 .4-6.5 .6,14.6 .4-3.1 .6-1.5 .4-2.1 .6-1.4 .4-4.6 .6,12.7 .4-3.1 .6,5.4 .4-10.4 .6,15.2 .4-5.6 .6-9.6 .4,1.4 .6,2.9 .4,1.4 .6-15.2 .4,12.3 .6,4.5 .4-.8 .6-4.4 .4,10.8 .6-7.2 .4-3.6 .6,4.4 .4-1.5 .6,0 .4,5.3 .6-8.2 .4,0 .6,7.5 .4-.8 .6-6 .4-.7 .6,10 .4-13.5 .6,6.4 .4-.7 .6,.7 .4,1.5 .6-3.7 .4,3.8 .6,9.8 .4-5.1 .6-3.2 .4-3.8 .6-3.6 .4,4.3 .6-7.7 .4,8.1 .6-6.8 .4,4.2 .6,5.3 .4,5.7 .6-8.1 .4,7.2 .6-4.1 .4-2.3 .6,7.3 .4-5 .6,.4 .4-1.1 .6,6.4 .4-6.4 .6,0 .4,3.2 .6-8.5 .4,6 .6-.7 .4,3.2 .6-1.7 .4,2.5 .6-8.6 .4,3.8 .6-4.5 .4-2.1 .6,13.4 .4-6 .6,5.4 .4-3.9 .6-3.9 .4,3.6 .6-1.2 .4,8.3 .6-7.6 .4,2.5 .6,3.3 .4-.6 .6-5.2 .4,3.3 .6,3.4 .4,1.2 .6-6.3 .4-2.3 .6-.8 .4,7.3 .6,1 .4-4.3 .6,.8 .4,5.2 .6-3.5 .4,4.4 .6-6.1 .4-3.3 .6,11.3 .4,0 .6-12 .4,.7 .6-1.5 .4,10 .6,6.5 .4-4.7 .6-1.8 .4-6 .6,7.8 .4-2.7 .6-1.8 .4,0 .6-5 .4-.8 .6,5.2 .4-5.2 .6,5.8 .4-1.7 .6,0 .4,6.2 .6-1.8 .4,2.8 .6-7.2 .4-7.9 .6,10.5 .4-3.4 .6,2.6 .4,7.6 .6-5.9 .4,4.6 .6-.9 .4,2.9 .6-9.2 .4,5.3 .6,1 .4-5.5 .6,8.4 .4-14.9 .6,5.7 .4,11.2 .6-11.2 .4,10.2 .6-2 .4-8.4 .6-10.1 .4,14.7 .6,4.8 .4-10.1 .6,9.1 .4-9.1 .6,7.2 .4-8.8 .6,9.3 .4-9.3 .6,6.8 .4,6.9 .6-4.9 .4,7 .6-15 .4,1.3 .6,10.6 .4-11.9 .6,3.5 .4,4.5 .6,1.4 .4-3.3 .6,7.8 .4-4 .6-8.2 .4,11.2 .6,0 .4-3 .6-1.9 .4-1.9 .6,8.9 .4-5.1 .6-1 .4,2 .6-6.6 .4,.9 .6,0 .4,9.8 .6-3.1 .4-5.8 .6,10.3 .4-6.5 .6,3 .4-2 .6,2 .4-3 .6,10.6 .4-8.6 .6-3 .4-3.7 .6,0 .4,.9 .6,2.8 .4,5.4 .6-6.3 .4,4 .6-4 .4,11.4 .6-4.4 .4,4.4 .6-1.1 .4-14.9 .6,4.8 .4-5.7 .6,7.9 .4,5.8 .6-4.7 .4-3.5 .6-4.6 .4,.5 .6,11.1 .4-8.9 .6,12.2 .4-5.7 .6-10.9 .4,14.4 .6-8.1 .4,4.9 .6-3 .4,2 .6,7.1 .4-12 .6,1 .4,10.3 .6-4.4 .4,4.4 .6-3.3 .4-3.1 .6,1 .4-2 .6,1 .4-3 .6,5 .4,2.2 .6,2.2 .4-5.4 .6-5.9 .4,12.4 .6,0 .4-9.5 .6,7.3 .4-4.3 .6-6.8 .4-.9 .6,9.5 .4,11.9 .6-3.7 .4-1.2 .6-6.7 .4-1.1 .6,2.2 .4-3.2 .6-10.4 .4,21.6 .6-2.4 .4-9.8 .6-1 .4,7.4 .6,0 .4,0 .6-9.4 .4,2 .6,7.2 .4-6.2 .6,0 .4,1 .6-2 .4,5.2 .6,8 .4-10.2 .6,6.6 .4-6.6 .6-5.9 .4,3 .6,1.9 .4,1 .6,5.5 .4-4.4 .6-6.1 .4,7 .6,12 .4-19 .6,8.3 .4-1.1 .6,1.1 .4-3.3 .6,10.2 .4-10.2 .6,3.3 .4,5.7 .6,6.3 .4-10.9 .6-3.3 .4,7.9 .6-1.2 .4-2.3 .6-8.5 .4,6.3 .6,2.2 .4,9.8 .6-10.9 .4-3.3 .6,6.7 .4-11.8 .6,9.5 .4,0 .6,2.3 .4-7.8 .6,1.1 .4,7.9 .6-9 .4,7.7 .6,3.1 .4-1.8 .6-7.9 .4,4.4 .6,1 .4-7.5 .6,10 .4-6.8 .6,9.1 .4-8 .6,1.1 .4-3.3 .6,10.3 .4,3.1 .6-7.9 .4-9.6 .6,17 .4-16 .6,7.5 .4,4.7 .6,5.1 .4-2.6 .6,11.2 .4-14.9 .6-5.7 .4,9.7 .6-18 .4,20.3 .6-3.9 .4,1.3 .6,4 .4-12.3 .6-1.1 .4-1.1 .6,6.8 .4-3.5 .6-3.3 .4,4 .6,11.8 .4-1.3 .6-7.7 .4,7.7 .6-8.9 .4,4.9 .6-2.5 .4-5.8 .6,1.1 .4,1.1 .6,3.6 .4-3.6 .6,4.8 .4-4.8 .6,3.6 .4,3.2 .6,3.3 .4-10.1 .6,1.2 .4-9.8 .6,6.4 .4,8.3 .6,1.3 .4,4.8 .6-11 .4,7.5 .6-6.3 .4,3.7 .6-1.3 .4-7 .6,5.8 .4,2.5 .6,12.7 .4-11.4 .6-3.8 .4,2.5 .6,2.6 .4-2.6 .6-1.3 .4-3.6 .6,2.4 .4-5.8 .6,7.7 .4-3.1 .6,1.2 .4,6.5 .6-8.9 .4,3.6 .6,4.7 .4-3.4 .6,2.6 .4,3.5 .6-2.1 .4,1.3 .6,2.9 .4-5.6 .6-7.5 .4,10.2 .6-6.6 .4-8.1 .6,12 .4,2.7 .6-5.3 .4,7.5 .6-16.9 .4,2.8 .6,6.6 .4,11.2 .6-8.6 .4-3.9 .6,10.9 .4-12.1 .6,1.2 .4,0 .6,12.5 .4-9.9 .6,5.4 .4-5.4 .6-6.2 .4,7.5 .6-5.1 .4-5.8 .6,15.9 .4-6.3 .6,1.3 .4-1.3 .6,0 .4-3.8 .6,1.2 .4,0 .6,6.6 .4-9 .6,11.9 .4,0 .6-4.7 .4-10.7 .6,21.7 .4-21.7 .6,12.5 .4-4 .6,13 .4-9 .6-4 .4,0 .6,4 .4-10.2 .6,10.2 .4-2.7 .6-3.9 .4,1.3 .6,9.6 .4,3.1 .6-7.4 .4-9 .6,10.4 .4-4.1 .6,1.4 .4,5.6 .6-9.6 .4,6.7 .6-9.2 .4,10.7 .6,4.5 .4-9.2 .6-4.8 .4,3.9 .6-7.5 .4,16.8 .6-7.9 .4-7.7 .6,11.9 .4-4.2 .6,4.2 .4,11.5 .6,1.4 .4-9.9 .6-3 .4-4.2 .6,8.7 .4,0 .6-3 .4-3 .6-1.4 .4,1.4 .6,6 .4-1.5 .6,1.5 .4-10.1 .6,0 .4-3.9 .6,15.6 .4-1.6 .6-1.5 .4-11.2 .6,2.6 .4,15 .6-10.9 .4,6 .6-4.5 .4-6.9 .6,4 .4,4.3 .6,1.6 .4-7.2 .6,4.2 .4,4.8 .6-6.3 .4-4.1 .6,7 .4,.1 .6-5.7 .4,1.3 .6,1.4 .4-1.4 .6,5.9 .4-9.9 .6,6.9 .4,11.2 .6-9.8 .4,1.6 .6-4.5 .4,6 .6,0 .4-3.1 .6,7.1 .4-8.5 .6-2.9 .4,9 .6,3.3 .4-3.3 .6,3.3 .4,5.3 .6-14.7 .4,4.5 .6-1.5 .4,3.1 .6-5.5 .4-8.8 .6,8.2 .4,12.9 .6-19.8 .4,5.4 .6,9.2 .4-1.6 .6-4.7 .4,8 .6-6.4 .4-4.5 .6,10.9 .4-7 .6-5.3 .4,4.3 .6,8.1 .4-11 .6,11.2 .4-8.3 .6,9.7 .4-4.2 .6-3.9 .4,3.1 .6-9 .4,7 .6-8.3 .4-.7 .6-.7 .4,8.6 .6-3 .4,11.1 .6-6.6 .4,6.6 .6,0 .4-8.1 .6,1.5 .4-3.1 .6,15.1 .4,0 .6-5.4 .4-6.6 .6-1.5 .4-1.6 .6,6.3 .4-7.7 .6,10.2 .4-.8 .6,0 .4-8 .6,6.3 .4,8.8 .6-12 .4,0 .6,0 .4,12 .6-12 .4-3.1 .6,9.7 .4-12.6 .6,7.6 .4-19.2 .6,8.9 .4,16.2 .6-10.6 .4-1.4 .6,7 .4-4 .6,6.4 .4,2.1 .6-7 .4,1.6 .6,0 .4-7.6 .6,4.5 .4,8.1 .6,1.8 .4-1.8 .6,1.8 .4-2.3 .6-16.2 .4,13.3 .6,3.4 .4-11.1 .6,6.1 .4,8.2 .6-6.6 .4-3.2 .6-3.1 .4,3.1 .6,0 .4-10.1 .6,20.3 .4-11.7 .6-3 .4,7.7 .6-3.2 .4,6.6 .6,3.6 .4-10.2 .6,3.2 .4,0 .6,1.7 .4-16.3 .6,1.3 .4,3.5 .6,8.2 .4,.8 .6,1 .4-4.9 .6-1.6 .4,1.6 .6,0 .4-19.5 .6,16.5 .4,4.5 .6,0 .4,4.9 .6-1.7 .4-7.7 .6,4.5 .4,4.9 .6,5.3 .4,5.7 .6-27.3 .4,16.3 .6,0 .4,1.7 .6-9.7 .4,15.1 .6-12 .4,4.9 .6,11 .4-3.9 .6-8.8 .4-7.7 .6,3 .4,5.8 .6,9.7 .4-5.6 .6-1.8 .4-1.7 .6-8 .4,8 .6-3.3 .4,3.3 .6-4.9 .4-1.5 .6,1.5 .4,4.9 .6-10.9 .4,5.5 .6,12.5 .4-7.1 .6-3.3 .4,12.4 .6-7.4 .4-9.7 .6,4.7 .4-10.3 .6,13.6 .4,1.7 .6,0 .4-11.1 .6,20.4 .4-14.3 .6-7.6 .4,6 .6,4.9 .4,3.5 .6,3.6 .4-12 .6,6.6 .4-1.7 .6-6.4 .4,9.9 .6-1.8 .4-1.7 .6,11 .4-3.9 .6-5.4 .4,9.3 .6-5.7 .4,0 .6-7 .4,5.2 .6-5.2 .4,6.1 .6-7 .4-13.7 .6,14.6 .4-4.7 .6,8.1 .4,3.6 .6-16.2 .4,24 .6-18 .4,0 .6,8.4 .4-3.5 .6,1.7 .4-5 .6,5 .4,3.6 .6,1.8 .4-8.8 .6,10.8 .4-3.8 .6-20.3 .4,8.6 .6,4.7 .4,7 .6,3.8 .4-22.7 .6,17.1 .4-5.2 .6-3.2 .4,4.9 .6-8 .4,8 .6,5.3 .4,3.8 .6-3.2 .4-9.2 .6,5 .4,1.8 .6-3.5 .4,0 .6,0 .4,0 .6,0 .4,3.5 .6-1.8 .4,1.8 .6,5.6 .4-5.6 .6,1.8 .4-3.6 .6,9.3 .4-11 .6,0 .4,3.5 .6,16.2 .4-2.3 .6-17.2 .4-5.1 .6,8.6 .4-2 .6,5.4 .4-3.6 .6,1.8 .4,3.4 .6-22.3 .4,11.9 .6,6.1 .4,0 .6-.9 .4,1.8 .6-1.8 .4,5.6 .6-15.5 .4,15.5 .6-7.4 .4-6.6 .6,5.3 .4-12.7 .6,17.6 .4,0 .6,12.1 .4-13.9 .6,3.6 .4-12 .6-1.5 .4,4.7 .6,5.2 .4,3.6 .6,0 .4-5.4 .6-1.4 .4-6.7 .6,14.3 .4-9.6 .6-11.9 .4,13.6 .6-4.9 .4,18 .6-14.8 .4,8.8 .6,2 .4-14 .6,14 .4-7.4 .6,7.4 .4-1 .6-14.5 .4,9.9 .6,1.8 .4,1.8 .6-8.8 .4,7 .6-1.8 .4,3.3 .6-8.5 .4-3.2 .6,0 .4,13.5 .6-8.6 .4,12.1 .6-1.1 .4,4.2 .6-9.9 .4,5.7 .6-11 .4,7.4 .6-5.7 .4,0 .6-14 .4,15.8 .6,9.6 .4,4.3 .6-10.3 .4-1.8 .6-13.3 .4,7.6 .6,15.6 .4-6.1 .6-2 .4-3.6 .6-5.2 .4,8.5 .6,2.3 .4,8.3 .6-17.4 .4,5.3 .6,9.9 .4-2.1 .6-2.1 .4-1.9 .6-10.8 .4-6.3 .6,17.1 .4-3.8 .6,5.7 .4-3.6 .6-5.7 .4,7.4 .6,10.6 .4-12.6 .6,3.9 .4,2.1 .6,0 .4,3.2 .6-3.2 .4-2.1 .6,6.4 .4-6.4 .6,2.1 .4,4.3 .6,2.3 .4-16.2 .6,16.2 .4-8.7 .6,1.1 0,1-.6,18.4-.4,6.9-.6,14-.4-3.8-.6-6.9-.4,0-.6-8.6-.4-3.4-.6,5.7-.4-5.7-.6,0-.4,46.1-.6-43.1-.4,5.7-.6-6.5-.4,16.7-.6-10.2-.4,3.3-.6-12-.4-3.9-.6,3.9-.4,18.9-.6-13.2-.4,0-.6,25.4-.4-34.7-.6,15.6-.4-13.3-.6,37-.4-23.7-.6,0-.4-12-.6-12.3-.4,4.6-.6,2.5-.4,2.5-.6,14.7-.4-9.2-.6-9.7-.4,6.9-.6,2.8-.4,12.5-.6-6.6-.4-4.3-.6,4.3-.4-7.3-.6,4.6-.4,6-.6-9.2-.4,23.9-.6-18-.4,0-.6-12.5-.4,1.1-.6,2.7-.4-2.7-.6,18-.4-20.5-.6,2.5-.4,5.5-.6-5.5-.4-5-.6-2.1-.4,7.1-.6,18-.4-3.3-.6-12-.4,5.7-.6-13.4-.4,10.5-.6,2.9-.4-5.7-.6-2.7-.4,5.5-.6-2.8-.4-3.6-.6,15.6-.4-6.3-.6-5.7-.4,12-.6-14.7-.4,5.5-.6,12.5-.4-20.5-.6-4.8-.4,15.7-.6-13.4-.4,5-.6,2.7-.4,5.7-.6-2.9-.4-5.5-.6-2.5-.4,13.9-.6-8.7-.4,15.3-.6-25.3-.4,25.3-.6-6.2-.4-11.8-.6-2.5-.4,31.9-.6-7.8-.4-28.5-.6,12.4-.4-8-.6,0-.4,2.5-.6-2.5-.4,8-.6,9.2-.4-14.9-.6-4.8-.4,16.4-.6-3-.4-8.4-.6-7.3-.4,7.3-.6,8.4-.4-2.9-.6-2.8-.4-2.7-.6,5.5-.4,0-.6,9.2-.4-6.4-.6,30.1-.4-28.5-.6,1.5-.4,3.3-.6-17.2-.4-7.1-.6,18-.4-20.2-.6,4.5-.4,4.8-.6,2.5-.4-5-.6,16.4-.4-13.9-.6,8-.4,0-.6-10.5-.4,7.7-.6-2.7-.4,0-.6-5-.4,0-.6,0-.4,1.4-.6,12-.4-8.4-.6,14.7-.4-12.2-.6-3.6-.4,3.8-.6-18.7-.4,27.4-.6-18.7-.4,4.8-.6-4.8-.4,2.3-.6-9.9-.4,14.9-.6-7.3-.4,15.7-.6-8.4-.4,0-.6,14.7-.4-14.7-.6-5.2-.4,10.7-.6-19.4-.4,10.3-.6,3.6-.4-2.5-.6,5.2-.4,0-.6-.2-.4,12.2-.6-6.3-.4,0-.6-13.4-.4,7.7-.6,2.8-.4,9.2-.6-19.7-.4-8.9-.6,19.4-.4,2.9-.6,3-.4-10.5-.6,10.5-.4-16.4-.6-8.9-.4,13.9-.6,21.6-.4-3.6-.6-17-.4-1-.6,2.7-.4-2.7-.6-7.3-.4,0-.6,4.8-.4-2.7-.6,10.7-.4-12.1-.6-3-.4,21-.6-5.9-.4,12.5-.6-9.7-.4,13.3-.6-20.7-.4-.9-.6-9.6-.4,15.1-.6-17.3-.4,20.2-.6-13.4-.4-7.8-.6,5.5-.4,10-.6-12.2-.4,15-.6-22.7-.4,14.7-.6,5.2-.4,0-.6-2.7-.4-2.5-.6,2.5-.4,5.5-.6,2.9-.4-24.4-.6,21.5-.4-11.1-.6-1.7-.4,10-.6,0-.4-12.3-.6,15.1-.4-10.5-.6-6.8-.4,0-.6-4.2-.4,8.7-.6,2.3-.4,5-.6,5.5-.4-5.5-.6-19.9-.4,22.6-.6-8.3-.4,27.2-.6-24.1-.4-1.1-.6,3.6-.4-2.5-.6-13.5-.4,11-.6,5-.4,2.7-.6,0-.4-6.1-.6-3.9-.4,2.3-.6-3.4-.4-1.2-.6,0-.4-2.2-.6,9.3-.4-14.5-.6,12-.4,10.5-.6-11.7-.4,3.7-.6-3.6-.4-9.9-.6,24.4-.4-15.1-.6,4.2-.4,0-.6-9.3-.4,6.8-.6,2.5-.4,0-.6-2.5-.4-2.3-.6,4.8-.4,10.9-.6-8.4-.4,0-.6-3.6-.4-3.7-.6-10.6-.4,1.9-.6,13.5-.4-7.1-.6-8.3-.4,12.9-.6-4.2-.4,9.2-.6-11.8-.4,9.3-.6-4.8-.4,22-.6-14.7-.4-16-.6,13.5-.4-2.5-.6-11-.4,8.7-.6,2.3-.4,2.5-.6-19.2-.4,12.1-.6,2.3-.4,15.7-.6-24.4-.4,6.4-.6-4.3-.4,11.4-.6-13.9-.4,9.1-.6,0-.4,7.3-.6-11.8-.4,11.8-.6-13.9-.4-3.9-.6,.9-.4,19.6-.6-14.5-.4,0-.6,0-.4,4.5-.6,4.8-.4-8.7-.6-.6-.4,2.2-.6-12.5-.4,27.6-.6-13.6-.4,5.6-.6-2.5-.4,0-.6-2.3-.4-6-.6,8.3-.4-4.6-.6,12.3-.4-19.9-.6,12.2-.4,0-.6-10.1-.4,4.5-.6,3.3-.4,2.3-.6-6.8-.4,11.8-.6-15.1-.4,3.3-.6,14.5-.4-14.5-.6,6.8-.4-2.3-.6,7.3-.4-16-.6,8.7-.4-2.3-.6-12.1-.4,14.4-.6-11.4-.4-1.2-.6,2.1-.4,3.9-.6-5.3-.4,14.2-.6-8.9-.4-2.1-.6,13.5-.4-17.4-.6,7.1-.4,3.2-.6,2.3-.4-6.3-.6,35.2-.4-33.4-.6,6.8-.4-12.9-.6,15.4-.4,0-.6-9.3-.4,2.2-.6-14.1-.4,9.8-.6,6.6-.4-6.3-.6-2.4-.4,6.4-.6,0-.4-8.3-.6,8.3-.4-2.2-.6-11.7-.4,15-.6,1.2-.4-8.7-.6,2.1-.4-6-.6,19.9-.4-15.9-.6-.1-.4-1.9-.6-5.4-.4,5.4-.6,1.9-.4,8.7-.6-19.7-.4,19.7-.6-11.5-.4,11.5-.6-8.7-.4-7.3-.6,18.3-.4-4.6-.6-8.3-.4,6.1-.6,0-.4,2.2-.6-2.2-.4-2.1-.6,2.1-.4-11.7-.6,0-.4,26.2-.6-14-.4-.5-.6-6.1-.4-7.4-.6,13.5-.4-6.1-.6-2-.4,8.1-.6,4.5-.4,4.8-.6-9.3-.4-6.1-.6,6.1-.4-9.9-.6,1.3-.4,13.1-.6-4.5-.4-8.1-.6,10.3-.4-6.4-.6,0-.4,6.4-.6-15.7-.4,3.6-.6-1.8-.4,16.2-.6-6.6-.4-2.1-.6,0-.4-1.9-.6,26.3-.4-16.9-.6-15-.4,3.6-.6,2-.4,12.9-.6-23.7-.4,7-.6-5.1-.4-6.6-.6,11.7-.4-5.3-.6,13.1-.4-7.8-.6-5.3-.4,3.5-.6,7.5-.4,2.1-.6-2.1-.4-3.9-.6,0-.4-1.8-.6,5.7-.4,6.4-.6-13.9-.4,0-.6,16.2-.4-8.1-.6-8.1-.4,7.5-.6-12.7-.4,3.4-.6,7.4-.4-10.8-.6,8.8-.4-7.7-.6,5.9-.4-11.7-.6,13.5-.4,8.1-.6-8.1-.4,0-.6,0-.4,0-.6,2-.4,8.3-.6-11.9-.4,1.6-.6-5.4-.4,7.4-.6-5.6-.4-9.9-.6,17.4-.4-9.3-.6,5.4-.4,3.9-.6,5.6-.4,13.1-.6-28-.4,5.4-.6-3.6-.4-3.5-.6,1.7-.4,1.8-.6,1.8-.4,9.9-.6-9.3-.4-2.4-.6-6.8-.4-1.6-.6,8.6-.4,5.4-.6-10.8-.4,14.8-.6-7.8-.4-9.2-.6,11-.4-8.8-.6-4.7-.4,0-.6,11.7-.4-1.8-.6,3.6-.4-1.8-.6-8.1-.4,18-.6,0-.4-16.9-.6-3.2-.4,53.5-.6-47.5-.4,16.3-.6-12.1-.4,0-.6,1.8-.4-3.6-.6-8.4-.4,4.9-.6-10.9-.4,6-.6,18-.4-10.4-.6,19.3-.4-28.4-.6,7.4-.4,4.3-.6-11.6-.4,11.6-.6-5.3-.4-4.9-.6-9.1-.4,15.7-.6-3.4-.4,8.8-.6-15.1-.4,11.5-.6,1.8-.4-13.3-.6,0-.4,8.9-.6,2.6-.4-6.8-.6-6.1-.4,9.4-.6-1.7-.4-3.2-.6,15.9-.4-7.5-.6-6.8-.4-10.3-.6,18.9-.4-10.2-.6,0-.4,14-.6-10-.4,2.6-.6-11.1-.4-6.6-.6,6.6-.4,3-.6,19.5-.4-7.8-.6-13.3-.4,3.1-.6-6-.4,26.1-.6-6.1-.4-15.8-.6-2.7-.4,11.1-.6-1.7-.4-8-.6-2.9-.4,10.9-.6-4-.4,.7-.6-3.1-.4,1.5-.6,.3-.4,6.3-.6-1.7-.4-3.3-.6-9-.4,14-.6-1.7-.4-10.9-.6,7.6-.4-13-.6,5.4-.4-2.7-.6,8.7-.4-6-.6,9.2-.4-3.2-.6,3.2-.4-8.6-.6,.9-.4-1.5-.6,6-.4-3.1-.6-1.4-.4-.5-.6,5-.4,15.9-.6-23.3-.4,7.4-.6,1.6-.4-1.6-.6-8.7-.4,10.3-.6-1.6-.4-4.5-.6,1.9-.4,7.5-.6-6.4-.4,4.7-.6,0-.4-1.6-.6,3.3-.4-8-.6-1.4-.4-5.6-.6,16.7-.4-13.3-.6-.7-.4,10.6-.6-3.9-.4-3.8-.6-8.2-.4,11.2-.6-1.6-.4,3.1-.6-1.5-.4,9.9-.6-5.8-.4-4.1-.6-1.6-.4-5.6-.6-2.6-.4,9.8-.6-16.1-.4,16.1-.6-2.3-.4-9.3-.6,5.7-.4-5.1-.6,6.5-.4-1.4-.6-7.8-.4,.6-.6,3.2-.4-9.6-.6,4.6-.4,13.3-.6-13.3-.4,13.3-.6,3.1-.4,0-.6-10.1-.4,15-.6-8-.4-9.6-.6,2.6-.4,5.6-.6-7.4-.4,4.5-.6-1.3-.4,4.2-.6-1.5-.4-1.4-.6-6.6-.4-2.4-.6,10.4-.4,0-.6,4.5-.4-3-.6-8.3-.4,17.7-.6-18-.4,4.4-.6-2.7-.4-1.3-.6-7.2-.4,8.5-.6-7.4-.4,0-.6,4.8-.4,3.9-.6,1.4-.4-9.4-.6,2.9-.4,9.2-.6-2-.4-2-.6,4-.4-4.1-.6-1.3-.4,1.3-.6,0-.4-6.3-.6,6.3-.4-6.3-.6,6.3-.4,7-.6-15.7-.4,3-.6,7.1-.4-4-.6-1.2-.4,1.2-.6-6.1-.4,0-.6,6.1-.4-2.5-.6,10.7-.4-8.2-.6-1.3-.4-7-.6,31.2-.4-30.1-.6,4.7-.4,10.7-.6,1.4-.4-17.1-.6,12.8-.4-5.3-.6,0-.4-10.5-.6,9.2-.4-4.8-.6,6.1-.4,0-.6-5.3-.4,6.6-.6-1.3-.4-9.4-.6,8.1-.4-6.7-.6-3.6-.4,4.4-.6-1.1-.4-2.2-.6,9.2-.4-2.4-.6-5.7-.4,12-.6-7.5-.4-2.8-.6,6.4-.4-7-.6-4.4-.4,10.2-.6-2.4-.4-5.6-.6,3.3-.4-2.2-.6,3.3-.4-1.7-.6,7.8-.4-1.3-.6,2.6-.4-9.6-.6,5.8-.4-5.8-.6-4.4-.4,15.3-.6-12.9-.4,5.4-.6-1.2-.4-3.3-.6-2.2-.4,.8-.6,5.9-.4,0-.6-9.8-.4,3.1-.6-2.1-.4,4.3-.6-2.2-.4-2.1-.6,4.3-.4-5.3-.6-.4-.4,3.5-.6,6.7-.4-7.8-.6-1-.4-1-.6-2.4-.4,6.6-.6-7.2-.4,12.8-.6-9.6-.4,5.1-.6-7.3-.4,10.6-.6-6.6-.4,1.1-.6,1.1-.4,6.8-.6-6.8-.4,5.6-.6-4.5-.4-15.9-.6,13.7-.4-1.1-.6,1.1-.4-5-.6,5-.4-4.1-.6,8.5-.4,5.9-.6-15.4-.4,6.2-.6-5-.4,7.2-.6-6.4-.4,2-.6,2.2-.4-2.2-.6-3-.4-8.4-.6,10.4-.4,7.6-.6-11.6-.4-.7-.6,9-.4-4.3-.6-3-.4,0-.6-5.6-.4,9.6-.6,2.2-.4-1.1-.6-4.9-.4-.2-.6-4.1-.4-1.4-.6,2.6-.4-.9-.6,1.9-.4-1-.6,12.4-.4,0-.6-6.5-.4-7.7-.6,7.7-.4-11.2-.6,10.2-.4,5.3-.6,0-.4-10.2-.6,2.9-.4-1-.6-2.8-.4,6.8-.6-7.7-.4,4.7-.6-6.8-.4,7.8-.6-6.6-.4,7.6-.6,0-.4-2-.6-8.2-.4,14.4-.6-5.2-.4-2-.6-4.6-.4,3.7-.6-3.7-.4-.9-.6,.2-.4,5.3-.6-3.2-.4,3.2-.6-7.2-.4,17.4-.6,10.1-.4-23.1-.6-6.9-.4,4.7-.6,4.1-.4-3.7-.6,1.8-.4,7.4-.6,8.2-.4-19.2-.6,8.4-.4-2-.6-.9-.4,0-.6-10.5-.4,4.2-.6,2.6-.4-8.3-.6,1.5-.4,8.6-.6-8-.4-.6-.6,1.7-.4,6.9-.6-10.1-.4,5.7-.6,14.4-.4-11.8-.6,3.7-.4-9.7-.6-2.3-.4,12.9-.6-7.2-.4-7.3-.6,3.9-.4,.9-.6,0-.4,2.5-.6-4.2-.4,2.5-.6,.8-.4,.9-.6-5-.4,4.7-.6,3.8-.4-8.8-.6,2.8-.4,11.1-.6,10.2-.4-23-.6-3.9-.4,15.3-.6-9.7-.4,5.1-.6-4.2-.4-4.1-.6,.6-.4,5.9-.6-6.5-.4,.7-.6-.7-.4,4.8-.6-2.5-.4-9-.6,7.1-.4,2.8-.6,0-.4-3.2-.6-1.7-.4,5.7-.6-2.5-.4,4.2-.6-8.7-.4,3-.6-3.1-.4-5.7-.6,24.7-.4-16.7-.6,10-.4-6.9-.6-6.2-.4-2.8-.6,14.1-.4-8.4-.6-2.1-.4,.7-.6,5.2-.4,1.2-.6-4.8-.4,.8-.6-6.7-.4,3.6-.6,2.3-.4,.8-.6-7.8-.4,.8-.6,7-.4,1.5-.6-8.9-.4,5.8-.6,2.3-.4,2.5-.6,.8-.4-3.3-.6,1.6-.4-.8-.6-2.3-.4-3.8-.6,5.3-.4,.8-.6-11.9-.4,2.3-.6,5-.4-2.9-.6,2.2-.4,1.4-.6-2.8-.4,2.1-.6-.7-.4,4.5-.6-8.8-.4-1.4-.6,2.8-.4,.7-.6,.7-.4,.7-.6,.8-.4-9.4-.6,7.9-.4-5.5-.6,10.8-.4-6.7-.6,5.9-.4-1.9-.6-7.8-.4-.6-.6,2.3-.4,5-.6-3.6-.4,0-.6-4.1-.4-4.4-.6,5.8-.4,4.8-.6-.7-.4-4.1-.6,1.3-.4,.7-.6-3.4-.4,8.4-.6-3.8-.4,.2-.6-2.4-.4-8-.6,6.1-.4,3.6-.6-2.1-.4-9-.6,13.9-.4-5.5-.6-3-.4,.4-.6,3.9-.4-.7-.6-4.5-.4,5.9-.6-10.1-.4,6.1-.6-4-.4,2.1-.6,0-.4-6.2-.6,3.7-.4-1.7-.6,1.1-.4-2.9-.6,5.4-.4-.6-.6,7.8-.4-9.1-.6,3.1-.4-1.2-.6-2.7-.4,.8-.6-5.1-.4,2.2-.6-.6-.4,5.4-.6,4.5-.4-9.3-.6-3.6-.4,6-.6,6.2-.4-5.7-.6-1.7-.4-3.9-.6,3.5-.4,4.6-.6,3.2-.4-5.7-.6-.8-.4-.9-.6,0-.4-7.2-.6,.3-.4,2.4-.6,2.2-.4,.5-.6,0-.4,0-.6-2.9-.4,5.3-.6-7.3-.4,4.9-.6-3.8-.4,9.2-.6-11.8-.4,4.2-.6,0-.4-4.2-.6,4.2-.4,0-.6-7-.4,2.3-.6-1.1-.4-1.4-.6,1.4-.4,3.1-.6-8.3-.4,7.3-.6,3.2-.4,2.2-.6-.6-.4-5.3-.6,5.9-.4-10.9-.6-2.3-.4,6.4-.6,4.6-.4-8.2-.6-1.9-.4,2.9-.6,3.5-.4-1.6-.6,4.2-.4-11.7-.6-.9-.4,5.5-.6,0-.4,1-.6,0-.4-6-.6,2.2-.4-.4-.6-.9-.4,3.6-.6-3.6-.4,4.1-.6-3-.4-.2-.6-2.7-.4,4-.6-5.7-.4-.6-.6,5.4-.4-2.4-.6,2-.4-4.4-.6,.8-.4,.9-.6,5-.4-10-.6,4.6-.4-2.2-.6,.5-.4-2.9-.6-3.3-.4,4.9-.6,1.7-.4-3.6-.6,1.9-.4-4.7-.6-1.2-.4,5.1-.6-3.3-.4,2.9-.6-3.2-.4-2.6-.6,.8-.4-3.7-.6,1.5-.4-.6-.6,2.4-.4-.8-.6-2.5-.4,3.7-.6-4.4-.4,2.5-.6-1.4-.4-5.2-.6,4.1-.4,4-.6-10.2-.4,2.5-.6-.9-.4,7.1-.6-12-.4,3.3-.6,0-.4,1.9-.6-.5-.4-3-.6-1.8-.4-1.2-.6,1.8-.4-3.2-.6,3.2-.4-2.1-.6-4.2-.4,.4-.6,5.6-.4-6.9-.6,1.7-.4-2.7-.6-1.3-.4-.7-.6-2.3-.4-2.5-.6,2.3-.4-2.4-.6,1.1-.4-3.7-.6-2.4-.4,1.3-.6,8.3-.4-5.4-.6,.5-.4-4.3-.6-1.5-.4-5.4-.6,2.7-.4-2.5-.6-.3-.4-1.4-.6,4.6-.4-9.8-.6-2-.4-.4-.6-.5-.4,.5-.6-4.9-.4-1.1-.6,2.4-.4-1-.6,3.2-.4,.1-.6-10.2-.4,1.1-.6-2.3-.4-1.5-.6-2.9-.4-2.1-.6,1.9-.4-3-.6-.6-.4-1.9-.6-3.8-.4-2.4-.6-.4-.4,0-.6-4-.4-.9-.6,.1-.4-2.9-.6-5.3-.4-2.4-.6-2.6-.4,2.7-.6-5.1-.4-1.5-.6-2.7-.4-4.6-.6-1.3-.4-1.7-.6-1.7-.4-3.1-.6-1.8-.4-3-.6-2.9-.4-4.2-.6-2.4-.4-1.4-.6-3.1-.4-4.4-.6-1.7-.4-.4-.6-3.7-.4-1.8-.6-1.5-.4-2-.6-1.8-.4-4.1-.6-.6-.4,0-.6-4.8-.4,1.5-.6-3.5-.4-2.1-.6-.4-.4-3.5-.6-1.5-.4-.8-.6-2-.4-1.1-.6-2.5-.4-1.4-.6-1.4-.4-1.5-.6-1.7-.4-1.9-.6-1.6-.4-1.2-.6,0-.4-2.1-.6-.1-.4-3.3-.6-1.5-.4-.1-.6-1.9z" fill="#72aad1" stroke="#72aad1" stroke-width="0.55" stroke-linejoin="bevel"/>
<path d="M1057.8,100.8 1058.8,103.5 1059.9,106.1 1060.9,108.9 1062,111.6 1063,114.4 1064,117.2 1065.1,120.1 1066.1,122.9 1067.2,125.8 1068.2,128.8 1069.3,131.8 1070.3,134.8 1071.3,137.8 1072.4,141 1073.4,144.2 1074.5,147.6 1075.5,151 1076.5,154.4 1077.6,157.9 1078.6,161.4 1079.7,164.8 1080.7,168.3 1081.7,171.6 1082.8,174.9 1083.8,178.1 1084.9,181.2 1085.9,184.1 1086.9,186.9 1088,189.5 1089,191.9 1090.1,194.3 1091.1,196.6 1092.2,198.9 1093.2,201.1 1094.2,203.4 1095.3,205.5 1096.3,207.7 1097.4,209.8 1098.4,211.8 1099.4,213.8 1100.5,215.7 1101.5,217.6 1102.6,219.5 1103.6,221.3 1104.6,223.1 1105.7,224.8 1106.7,226.5 1107.8,228.1 1108.8,229.7 1109.8,231.3 1110.9,232.8 1111.9,234.3 1113,235.7 1114,237.1 1115.1,238.5 1116.1,239.8 1117.1,241.1 1118.2,242.3 1119.2,243.5" fill="none" stroke="#4090c6" stroke-width="1.35"/>
<path d="M1058,100l.6,.2 .4,2.2 .6,.6 .4,1.8 .6,1.4 .4,.7 .6,.6 .4,.9 .6,2.9 .4,2.3 .6,.6 .4,2.3 .6,1.2 .4,.7 .6,.6 .4,1.3 .6,3 .4-.2 .6,2.2 .4,1.7 .6,.8 .4,1.2 .6,2.6 .4-.1 .6,3.4 .4,.3 .6,1.4 .4,2.4 .6,.8 .4,2.7 .6-.4 .4,3 .6-.2 .4,1.4 .6,2.4 .4,2.5 .6,1.5 .4,2.4 .6,1.8 .4,1.4 .6,.6 .4,3.7 .6-.3 .4,1.3 .6,.6 .4,2.3 .6,2.1 .4,2.3 .6-.5 .4,4.5 .6-.6 .4,3.3 .6,1.3 .4,.9 .6,1.9 .4-.7 .6,1.2 .4,1.6 .6,3.3 .4,1.8 .6-2.6 .4,3 .6,1.6 .4,1.9 .6,.5 .4,.4 .6,2.1 .4,.2 .6,1.9 .4-.7 .6,2 .4-.1 .6-.2 .4,.6 .6,2.7 .4,4.2 .6,.5 .4,1 .6,0 .4,.9 .6-.8 .4,2.3 .6-1.6 .4,4.5 .6,.3 .4,.1 .6,1.2 .4,3.2 .6-2.3 .4,1.8 .6-.8 .4,.7 .6,1 .4,3.8 .6,0 .4,1 .6,1.8 .4,.9 .6-.4 .4,.8 .6-1.4 .4,4.5 .6-2.9 .4,3.8 .6,1.6 .4-.8 .6,2.7 .4-1.3 .6,2.2 .4-2.5 .6-1.6 .4,4 .6-.9 .4,2 .6-1.5 .4,.9 .6,0 .4,2.9 .6,2.4 .4-2.7 .6,5.6 .4-4.5 .6-2.9 .4,7.2 .6-4.4 .4,5.9 .6-2.4 .4-1.9 .6,.6 .4,3.9 .6,1.1 .4,.5 .6-.3 .4,0 .6,.6 .4,1.6 .6-2.2 .4,.1 .6,.4 .4-.4 .6,3.1 .4,1.4 .6,.2 .4-.9 .6,1.9 .4-1.9 .6,1.6 .4,.5 .6-.9 .4,3.6 .6-1.1 .4,.2 .6,.5 .4-2.8 .6,1.7 .4-2.3 .6,2.4 .4,1.9 .6,1 .4,0 .6-5.3 .4,6.7 .6-1.2 .4,.9 .6-3.5 .4,2.6 .6,4 .4-5.9 .6,7.2 .4-3 .6,4.9 .4-7.4 .6,7.1 .4,.9 .6-.2 .4,.8 .6-1.9 .4-4.2 .6,5.3 .4-3 .6-.8 .4,3.3 .6,2.5 .4-3.1 .6,2.8 .4-3 .6,3.4 .4-1.5 .6,.4 .4,.5 .6,2 .4-.3 .6-4.1 .4,4.4 .6-1.4 .4,.8 .6-2.3 .4-.6 .6,1.8 .4,3 .6-.2 .4-4.9 .6,7.9 .4-5.9 .6,2.7 .4-.5 .6-1.1 .4,1.2 .6-.8 .4-.9 .6,5.1 .4,.2 .6,.8 .4,1.9 .6-3.9 .4,.3 .6-1.7 .4,0 .6-1.8 .4,7.4 .6-3 .4-1.6 .6,4.1 .4,3.3 .6-9.5 .4,5.2 .6-7 .4,5.5 .6,.3 .4-1.7 .6,.5 .4,1.7 .6-1 .4,2.1 .6,2.6 .4-3.7 .6,3.2 .4,.3 .6-2.1 .4,2.8 .6-5.2 .4,5.8 .6-4.8 .4,2.4 .6-3.6 .4-3.1 .6,4.3 .4,6.4 .6-3.2 .4,5.9 .6-5.9 .4,.8 .6-.3 .4,.1 .6-3.8 .4,5.6 .6-.3 .4-2.9 .6,3.4 .4-.5 .6-1.8 .4,5.1 .6-1.7 .4,2.5 .6-7 .4-.7 .6,6.3 .4-1.1 .6,3.9 .4-5 .6,.3 .4,6.2 .6-2.3 .4-.9 .6,2 .4-1.7 .6,.9 .4-1.2 .6,.3 .4-.8 .6,.5 .4,2.6 .6-.3 .4-.6 .6,.2 .4-.7 .6,3.8 .4-1.8 .6-3.5 .4,.9 .6,.3 .4,2 .6-2.3 .4,4.4 .6-9.1 .4,8.2 .6-1.5 .4-2.9 .6,.9 .4,4.4 .6-.6 .4,3.7 .6-4.3 .4,3.1 .6,.6 .4-5.8 .6,3.6 .4-.9 .6-5.8 .4,2.5 .6,3.3 .4,3.4 .6,2.3 .4-4.5 .6,.9 .4,3 .6-2.6 .4-1 .6-3.4 .4-1.1 .6,3.9 .4,3.2 .6,0 .4-1.6 .6,5.9 .4-5.3 .6,4.3 .4-7.4 .6,4.4 .4-1.6 .6-.7 .4,3.7 .6,.9 .4,3.4 .6-5.4 .4-.3 .6,2.3 .4,1.3 .6-11.8 .4,7.2 .6-.9 .4,2.5 .6-1.6 .4-.9 .6,2.2 .4,3.7 .6,2.1 .4-3.1 .6,0 .4,.3 .6-4.3 .4,5 .6,1.7 .4-2.4 .6,5 .4-4.7 .6,5.8 .4-9.1 .6,3.3 .4,2.5 .6-6.1 .4,6.1 .6,1.1 .4-1.8 .6-2.4 .4,4.2 .6,.7 .4,3.4 .6-.8 .4-1.5 .6-2.5 .4,2.2 .6-1.9 .4-2.5 .6-.7 .4-2.3 .6,8.1 .4-4.8 .6-5.3 .4,10.5 .6,.7 .4,0 .6-5.8 .4,2.8 .6-5.5 .4,2.6 .6,4.1 .4-4.7 .6,3.5 .4,.6 .6-.2 .4,4.6 .6-5.7 .4-3.5 .6,10.4 .4-11.1 .6,6.2 .4,3.3 .6-1.9 .4,.8 .6-2.7 .4-1.8 .6,4.8 .4-.8 .6,2 .4,2 .6-10.9 .4,5.8 .6,4.7 .4-3.9 .6,3.4 .4,4.7 .6-6.5 .4-5 .6,6 .4-1.9 .6-1.9 .4,.8 .6,.7 .4,5.2 .6,1.3 .4-6.1 .6,1.2 .4,1.6 .6,2.3 .4-4.3 .6,2.2 .4,.2 .6-.4 .4,2 .6,4 .4-4 .6-1.2 .4,3.4 .6,1.3 .4-8.3 .6,2 .4,2.4 .6,0 .4,0 .6-6.3 .4,7.2 .6,2.6 .4,.8 .6-3.4 .4-1.3 .6,1.3 .4-3.3 .6-.8 .4,4.9 .6-.4 .4,4.8 .6-6.9 .4-.8 .6,7.3 .4-3.1 .6-1.7 .4,1.2 .6,.5 .4,3.4 .6-3.4 .4,.4 .6,.9 .4-1.8 .6,3.1 .4-5.2 .6-3.2 .4,10.7 .6-4.1 .4-.8 .6,4 .4,2.4 .6-4.7 .4,5.6 .6-5.1 .4,1.8 .6,2.4 .4-8.1 .6-.5 .4,7.1 .6-2.3 .4,2.3 .6-1.8 .4,.9 .6,.4 .4,1.9 .6-.9 .4-5 .6,0 .4,5.4 .6-2.3 .4,3.4 .6,4.4 .4-10 .6,7.9 .4-4.8 .6,1.9 .4,2.9 .6-4.3 .4,2.9 .6-4.3 .4,6.2 .6-4.3 .4-1 .6,.5 .4,9.6 .6-6.7 .4,.5 .6,5.4 .4-12.9 .6,3.6 .4,2.4 .6,0 .4-1 .6,.5 .4,4 .6,3.1 .4-5.6 .6-3.4 .4,6.9 .6,1 .4,.2 .6-4.3 .4-.4 .6,4.5 .4-5 .6,1.9 .4-8.4 .6,14.5 .4-4 .6,.5 .4-4.5 .6,8.3 .4-3.8 .6-1 .4,5.1 .6-2 .4,.6 .6-5.3 .4-1 .6,7.9 .4-9.3 .6,4.5 .4,4.3 .6-7.8 .4,7.8 .6,.3 .4-9.1 .6,5.5 .4,.5 .6,1.1 .4-.5 .6-6.1 .4,1.9 .6,6.9 .4,.6 .6-8 .4,6.9 .6-2.7 .4-1.1 .6,2.7 .4-3.7 .6,9.7 .4-12.3 .6,8.6 .4-3.4 .6,5 .4,2.1 .6-7.7 .4,7.3 .6-7.3 .4,3.3 .6,1.7 .4,2.3 .6,.6 .4-3.7 .6-6.7 .4,2 .6,0 .4,9 .6,0 .4-1.7 .6,.5 .4,0 .6-10.4 .4,8.7 .6-1.7 .4,1.7 .6-1.2 .4-1.6 .6,4.4 .4-6.1 .6,8.9 .4-6.7 .6,2.9 .4,3 .6,0 .4-4.2 .6-3.3 .4,4.6 .6,7.3 .4-5.1 .6-4.1 .4,2.9 .6,2.5 .4-1.9 .6-2.3 .4,3.6 .6,2.5 .4-4.4 .6,3.1 .4-6.5 .6,1.7 .4,1.7 .6,.6 .4,1.3 .6,0 .4,1.8 .6-.6 .4,1.9 .6,.9 .4-5.9 .6-1.7 .4,4.2 .6,1.9 .4-1.4 .6-4.7 .4,2.9 .6,1.9 .4,3.2 .6-1.9 .4,0 .6,6.8 .4-14.6 .6,14.5 .4-9.9 .6,8.7 .4-17.2 .6,8.5 .4,4.4 .6-.6 .4,0 .6,0 .4-5.5 .6,1.1 .4,4.4 .6,3.3 .4-2 .6-1.3 .4-.6 .6,0 .4,2.6 .6,0 .4,0 .6,0 .4,.6 .6,4.9 .4-6.9 .6,1.4 .4-2 .6,.6 .4,3.3 .6-5.2 .4,2.6 .6,.7 .4,2 .6-3.4 .4,.1 .6-1.3 .4,3.2 .6,0 .4-5.7 .6,8.5 .4,2.9 .6-6.3 .4,1.3 .6,4.2 .4-2.1 .6-3.4 .4,4.1 .6-3.5 .4,2.8 .6-3.4 .4-1.4 .6,4.2 .4-4.8 .6,10.5 .4-9.9 .6-1.9 .4,0 .6,9.6 .4-8.3 .6,4.5 .4,1.6 .6-4.1 .4,6.3 .6-5 .4,4.2 .6-2.1 .4,3.1 .6-5.2 .4-1.3 .6,10.8 .4-3.8 .6-2.2 .4,0 .6-1.4 .4,.7 .6,1.4 .4,5.4 .6-10.3 .4,3.5 .6,2.9 .4-2.2 .6-1.4 .4,5.9 .6,.8 .4-3.8 .6-.8 .4-2.1 .6,7.4 .4,4.3 .6-6.6 .4,1.6 .6-.8 .4-2.3 .6,5.4 .4,2.1 .6-7.5 .4-.7 .6,7.1 .4-10.7 .6,3.6 .4,.7 .6,3.8 .4,5 .6-9.5 .4,1.4 .6,1.6 .4-9.3 .6,6.2 .4-.7 .6-.7 .4,7.6 .6-4.7 .4,5.6 .6-5.6 .4,5.6 .6-4.8 .4,9 .6-2.6 .4-2.5 .6-2.3 .4-3.1 .6,3.5 .4,4 .6-6.8 .4,.8 .6-4.4 .4,4.4 .6-1.5 .4,5.3 .6-1.5 .4,.8 .6-3.9 .4,1.6 .6-9.3 .4,3.4 .6,8.2 .4,4.2 .6-7.3 .4,2.3 .6-12.2 .4,9 .6,.9 .4,3.1 .6,6.8 .4-6 .6-.8 .4,5 .6-3.3 .4,6.9 .6-6.1 .4,.8 .6-2.5 .4-1.6 .6,1.6 .4,1.7 .6-4 .4,2.3 .6-5.4 .4,11.4 .6-2.6 .4,1.4 .6-3.1 .4,3.9 .6-11.7 .4,10.3 .6,2.7 .4-6.9 .6,2.5 .4,.2 .6-5 .4,10.1 .6,0 .4-6.1 .6,7 .4-7.8 .6,6 .4-.9 .6-4.3 .4,.8 .6,9.1 .4-5.1 .6-1.4 .4,1.8 .6-6 .4,5.1 .6-1.8 .4,5.5 .6-13.6 .4,1.6 .6,6.5 .4-.8 .6,6.3 .4,1.9 .6-6.5 .4,8.5 .6-11.9 .4-5.6 .6,18.1 .4-4.5 .6-5.5 .4,6.4 .6-5.5 .4,7.5 .6-5.7 .4-7.7 .6,3.3 .4,6.2 .6-6.2 .4,.9 .6-2.5 .4-.9 .6,4.2 .4-4.2 .6,5.8 .4-2.4 .6,4.4 .4,.9 .6-2.2 .4-3.1 .6,7.2 .4,0 .6-6.4 .4,6.4 .6-2.8 .4,3.8 .6-3.3 .4-2.3 .6-6.8 .4,16.4 .6-1 .4-6.8 .6,1.9 .4,1.9 .6-7.4 .4-3.3 .6,6 .4,6.7 .6-3.9 .4-1 .6,4.9 .4,.4 .6-13.1 .4,10.8 .6-3.9 .4-2.7 .6-2.6 .4,4.4 .6,0 .4,10.1 .6-2.4 .4-5.9 .6,2.5 .4,5.5 .6-4.1 .4-1 .6,1.5 .4,5.8 .6-8.3 .4,7.2 .6-2.2 .4-4 .6,0 .4-6.5 .6,10.5 .4-5.9 .6,9.5 .4-5.6 .6,0 .4,1 .6-7.7 .4,13.1 .6-6.4 .4,0 .6,0 .4-1 .6,0 .4,8.4 .6-10.4 .4-4.6 .6,17 .4-8.4 .6,1 .4-2.1 .6-7.5 .4,18.6 .6-5.7 .4-8.3 .6-8.9 .4,15 .6-8 .4,9.1 .6,.5 .4-3.7 .6,6.5 .4-6.5 .6-11.2 .4,16.6 .6-4.4 .4,2.2 .6-4.2 .4,7.9 .6-13.7 .4,15.1 .6-14.2 .4,11.3 .6-3.3 .4-10.7 .6,3.7 .4,14.9 .6-6.8 .4,0 .6-2.2 .4,0 .6,6.6 .4-5.5 .6-5.1 .4,7.3 .6,3.3 .4-2.2 .6,4.6 .4-7.9 .6,5.5 .4-5.5 .6,1.1 .4-7.2 .6,9.4 .4,4.6 .6-10 .4,0 .6,13.7 .4-4.9 .6-8.8 .4,6.5 .6,.8 .4-5.2 .6-1.1 .4-7.8 .6,14.3 .4-4.3 .6-4.2 .4,5.5 .6-2.4 .4-4.1 .6,3 .4,2.2 .6,1.1 .4,4.5 .6-1.2 .4-9.6 .6,2 .4,6.5 .6-9.5 .4,4 .6,6.6 .4-.9 .6-5.7 .4,2.7 .6-.5 .4-4.2 .6,13.4 .4,1.3 .6-3.7 .4,2.4 .6,10.9 .4-19 .6,9.4 .4-18.6 .6,8 .4,10.6 .6-7.2 .4,2.3 .6,1.2 .4-4.6 .6,8.2 .4-6 .6,2.4 .4-1.2 .6-1.2 .4,3.1 .6,5.6 .4-6.9 .6-.6 .4-3.4 .6-3.3 .4,6.4 .6,9.4 .4-6.7 .6-3.6 .4-3.3 .6,8.1 .4-4.8 .6,7.2 .4-8.3 .6,2.3 .4,1.2 .6-2.4 .4,0 .6,6.1 .4-8.3 .6-1.1 .4-1.1 .6,6.8 .4,1.2 .6,7.8 .4-12.5 .6,8.5 .4-11.8 .6,2.2 .4-3.3 .6,0 .4,2.8 .6,9.7 .4-2.2 .6-4.8 .4,3.6 .6,3.2 .4-6.8 .6,3.6 .4,1.2 .6-1.2 .4,1.2 .6-4.8 .4,11.9 .6-10.7 .4,7.5 .6-5.1 .4-2.4 .6,8.9 .4-2.7 .6-5 .4,1.2 .6,3.9 .4-1.4 .6-1.3 .4,3.3 .6-19.7 .4,15.2 .6,0 .4,12.1 .6-5.6 .4-11.2 .6,4.7 .4,3.9 .6-1.4 .4,1.3 .6-6.2 .4-1.2 .6,6.1 .4,0 .6-1.3 .4,3.9 .6,4.1 .4-11.6 .6,5.1 .4-6.3 .6,11.4 .4-6.6 .6-8.1 .4,11 .6-6.5 .4,8.9 .6,5.9 .4-13.6 .6-2.4 .4,4.8 .6,2.6 .4-2.4 .6-5 .4-1.1 .6,6.3 .4,16.8 .6-8.9 .4-7 .6,4.8 .4-.8 .6-4 .4-2.5 .6,2.3 .4-7 .6,8.5 .4,6.9 .6-2.9 .4-7.8 .6,3.2 .4-9 .6,4.6 .4,3.7 .6,5.6 .4-5.6 .6-4.9 .4,8.9 .6,1.3 .4-1.3 .6,2.7 .4,4.5 .6-11.2 .4,4 .6,2.7 .4-4.1 .6-1.3 .4,1.3 .6,4.1 .4-4.1 .6,8.6 .4,1.5 .6-5 .4-5.1 .6-6.3 .4,5.9 .6-3.5 .4,9.5 .6-5.6 .4,0 .6-2.6 .4-7.2 .6,12.5 .4,4.3 .6-12.1 .4,5.3 .6-.2 .4,0 .6-7.5 .4-2.3 .6,11.2 .4,1.3 .6,5.9 .4,8.1 .6-14 .4-9 .6,3.1 .4-1.9 .6,5.1 .4,0 .6,5.6 .4,3 .6-14.9 .4,18 .6-10.3 .4,1.3 .6-10.2 .4,19.2 .6-1.6 .4-8.7 .6,2.8 .4-10.5 .6,13.3 .4-8.3 .6-3.8 .4,5.3 .6,5.4 .4,4.5 .6-11.4 .4-1.3 .6,2.6 .4,1.4 .6,5.1 .4,4.4 .6-5.3 .4,3 .6,4.7 .4-4.7 .6-.8 .4-2.2 .6,4.5 .4-4.5 .6-1.5 .4,7.2 .6-4.3 .4-4.3 .6-1.3 .4,2.7 .6,4.5 .4,1.5 .6-7.4 .4-4 .6,1.3 .4,3.5 .6,.6 .4-9.2 .6,12.1 .4,6.3 .6,3.4 .4-14.5 .6-4.8 .4,12.7 .6-3.1 .4-8.3 .6,17.4 .4-10.5 .6,11.1 .4-6.6 .6,1.6 .4-2.3 .6-6.7 .4,2.9 .6,0 .4,3 .6,1.5 .4,10.2 .6-21.6 .4,11.4 .6,1.6 .4,6.8 .6-5.2 .4-4.7 .6-1.6 .4,8 .6-6.4 .4,1.5 .6-6 .4-2.7 .6-6.5 .4,7.8 .6,2.9 .4-5.6 .6,1.4 .4,4.2 .6-13.1 .4,15.8 .6-2.7 .4,4.5 .6,4.9 .4-6.4 .6-3 .4,1.4 .6,5.6 .4-8.5 .6-1.4 .4,9 .6-7.6 .4,0 .6,4.5 .4-5.9 .6,9 .4,0 .6-16.8 .4,12.1 .6,0 .4-14.5 .6,22.5 .4-9.4 .6,11.1 .4-8.1 .6-3 .4,8.1 .6,4.8 .4-11.5 .6,4.7 .4,5.2 .6-5.2 .4-3.1 .6,4.7 .4-17.2 .6,15.6 .4,0 .6,1.6 .4-3.2 .6-7.4 .4,12.3 .6-9.4 .4,1.4 .6,4.7 .4-1.6 .6-10.1 .4,11.7 .6,1.6 .4-10.6 .6,21.4 .4-9 .6-4.7 .4-11.7 .6,6.9 .4,3 .6-4.5 .4,16.2 .6-5.3 .4,3.5 .6-14.4 .4,9.3 .6-10.7 .4,19.4 .6-8.8 .4-17.2 .6,22.8 .4-13.3 .6,1.4 .4,3.1 .6,10.2 .4-3.6 .6-1.7 .4-8 .6,13.3 .4-16.2 .6,4.5 .4-3 .6,6.1 .4,1.6 .6,10.8 .4-10.8 .6,0 .4-10.6 .6,5.9 .4,8.1 .6-11.1 .4,13.4 .6,1.3 .4-8.6 .6,5 .4-6.3 .6-6.3 .4,20 .6-14 .4-6 .6,6 .4-1.5 .6,1.5 .4,3.2 .6,7 .4-7 .6-11.9 .4,10.3 .6,10.4 0,0-.6,25.4-.4-12.8-.6,15.7-.4-15.7-.6,2.3-.4,2.5-.6-7.1-.4,2.3-.6-11.4-.4,18.7-.6-6.2-.4,11.7-.6-21.5-.4,27.4-.6-10.5-.4-8.2-.6,10-.4-10-.6,2.3-.4-8.9-.6,2.1-.4,0-.6,0-.4,4.5-.6-2.3-.4,7.1-.6-9.3-.4,11.8-.6-2.5-.4,13.9-.6-16.4-.4,10.5-.6-12.8-.4,2.8-.6,7.2-.4-12.3-.6,12.3-.4-7.7-.6,7.7-.4,2.8-.6-5.5-.4,0-.6,14.7-.4-24.3-.6-4.9-.4,7.2-.6,2.8-.4,7.2-.6-2.7-.4-13.9-.6-2-.4-2-.6,35.9-.4-23-.6,5.9-.4,10.5-.6-25.3-.4-2.1-.6-3.9-.4,2-.6,1.9-.4,0-.6,2.1-.4,8.9-.6,16.4-.4-21-.6-6.2-.4,4-.6-8.1-.4,17.4-.6-13.5-.4-3.6-.6,12.3-.4,10-.6-7.7-.4,0-.6-6.8-.4-2.1-.6,4.3-.4-.3-.6,15.4-.4-19.4-.6,0-.4,5.4-.6,6-.4-15.4-.6,10.6-.4,4.8-.6-9.3-.4,17.3-.6-15.1-.4-1.9-.6,6.5-.4,13.4-.6-20.2-.4,2.2-.6-4.3-.4,16.6-.6-18.7-.4,11-.6-2.3-.4-6.6-.6,4.3-.4,2.3-.6,0-.4,2.3-.6-8.3-.4,3.7-.6-4.3-.4,8.9-.6-18.5-.4,7.5-.6,11-.4-12.9-.6,2.5-.4,15.4-.6-5-.4-2.3-.6-8.7-.4,8.7-.6-2.3-.4-6.4-.6,6.4-.4,4.6-.6-11-.4,8.7-.6,0-.4-1.2-.6-5.4-.4,0-.6,4.3-.4-2.2-.6,0-.4-4.2-.6-3.9-.4-2.7-.6,20.1-.4-13.9-.6,9.1-.4,0-.6-6.6-.4-2.1-.6,0-.4,4.2-.6-4.2-.4-7.5-.6,5.6-.4,8.3-.6-10.3-.4,0-.6,2-.4,1.9-.6,13.5-.4-9.3-.6,6.8-.4-12.9-.6,1.9-.4,2.1-.6-4-.4-5.6-.6,8.9-.4,17.3-.6-16.6-.4,0-.6,0-.4,6.6-.6-8.6-.4,15.9-.6-21.7-.4,0-.6,0-.4,0-.6,7.8-.4-6.9-.6,2.1-.4,4.8-.6,6.6-.4-6.6-.6-12.2-.4,23.6-.6-7.1-.4,7.1-.6-17.7-.4,.3-.6,0-.4-1.8-.6,16.7-.4-4.6-.6-10.9-.4,18-.6-17.4-.4,10.3-.6-4.3-.4,4.3-.6,12.3-.4-21.6-.6,3.2-.4,6.1-.6-13-.4,8.7-.6-13.1-.4,13.1-.6,11.4-.4-17.4-.6,14.9-.4,0-.6-5.5-.4-16.5-.6,1.7-.4,7.4-.6,0-.4-3.8-.6,19.2-.4-24.5-.6,11-.4-8.4-.6,2.7-.4,7.8-.6-7.8-.4,3.8-.6-2.8-.4,4.7-.6-5.7-.4,0-.6-3.6-.4,0-.6,4.6-.4,11.1-.6-4.3-.4-4.8-.6,.8-.4,1.9-.6-10.8-.4,24.3-.6-21-.4,0-.6-6.8-.4,9.6-.6,11.1-.4-12.1-.6,0-.4-10.2-.6,6.6-.4,7.4-.6,4-.4-11.4-.6,20.3-.4-19.4-.6-4.3-.4,3.6-.6,17.8-.4-19.7-.6-3.3-.4,1.6-.6,5.2-.4,11.7-.6-15.2-.4,7.1-.6,3.9-.4-1.9-.6-12.4-.4,1.6-.6,3.4-.4,3.6-.6,16.7-.4-6.5-.6-8.4-.4-6.1-.6,2.5-.4-6.8-.6,20.7-.4-4.3-.6-7.8-.4-8.6-.6,16.4-.4-9.6-.6-5.2-.4,0-.6,12.7-.4-5.7-.6-7-.4-.8-.6,17.7-.4,2.2-.6-15.7-.4,3.6-.6,0-.4-1.8-.6,8.8-.4,5.1-.6,9.6-.4-19.9-.6,0-.4,6-.6-9.6-.4-5.9-.6,19.8-.4-13.9-.6,9.6-.4-9.6-.6,1.8-.4,0-.6,1.8-.4-3.6-.6-14.2-.4,7.4-.6,38.7-.4-33.7-.6,3.6-.4-13.3-.6,13.3-.4,1.8-.6,10.3-.4-12.1-.6-3.6-.4,7.4-.6-10-.4,10-.6-5.6-.4,9.6-.6-21.1-.4-2.9-.6,11.7-.4,.9-.6,20.3-.4-30.8-.6,8.8-.4,0-.6-4.9-.4-1.5-.6,3.1-.4,5-.6-9.7-.4,11.5-.6-8.4-.4,14-.6-15.5-.4,8.1-.6-8.1-.4-1.6-.6,.9-.4,3.8-.6,0-.4,3.3-.6,15.2-.4-16.9-.6,14.8-.4-2.1-.6-12.7-.4-3.9-.6,2.3-.4,6.8-.6-7.6-.4,.8-.6,6.8-.4-6.8-.6-.8-.4,2.4-.6-6.3-.4,6.3-.6,1.7-.4-3.3-.6,3.3-.4,5.3-.6-7-.4,3.4-.6-1.7-.4-3.2-.6,1.5-.4-9.3-.6,12.7-.4-3.4-.6-7.7-.4-2.9-.6,14.2-.4,5.2-.6-15.1-.4,4.7-.6-3.1-.4-3-.6,4.5-.4,22.3-.6-13.4-.4-13.4-.6,1.4-.4,0-.6,9.7-.4-15.3-.6,4.2-.4,14.7-.6-14.7-.4,4.5-.6,1.6-.4-1.6-.6-2.8-.4,11.2-.6-5.2-.4-4.7-.6-6.2-.4,14.3-.6-12.6-.4,1.5-.6-2.9-.4,2.9-.6,4.5-.4,0-.6-7.4-.4,5.9-.6-8.6-.4,11.7-.6-7.2-.4,19.6-.6-18.5-.4-2.1-.6-8.6-.4,5.1-.6,1.4-.4,1.3-.6,1.4-.4,0-.6-2.7-.4-10.8-.6,8.1-.4,4-.6,4.3-.4-7-.6-1.3-.4,11.4-.6-8.8-.4,7.3-.6,4.7-.4-6.3-.6,0-.4,4.7-.6-9-.4,1.4-.6,16.2-.4-21.5-.6,1.2-.4-3.9-.6-1.2-.4,12.1-.6-2.9-.4-1.4-.6,7.4-.4-14-.6,3.9-.4-7.4-.6,14.4-.4-11.9-.6,7.6-.4-5.3-.6-2.5-.4-2.9-.6,6.7-.4,13-.6-7.6-.4-4.1-.6-3.9-.4,3.9-.6-2.6-.4,9-.6,10.3-.4-16.7-.6,2.7-.4-3.3-.6,22.7-.4-17.6-.6-1.8-.4,1.4-.6-10.3-.4,14.8-.6-5.9-.4,0-.6-7.8-.4,5.1-.6-6.2-.4,10.3-.6-1.4-.4-7.8-.6,1.2-.4,9.5-.6-5.4-.4,3.9-.6-10.7-.4,6.6-.6,7-.4-13.3-.6,3.7-.4-4.9-.6,2.4-.4,3.8-.6,0-.4-9.6-.6,13.6-.4-7.1-.6,10-.4-2.9-.6,0-.4-10.7-.6,2.9-.4,3.8-.6-5-.4,0-.6,0-.4,0-.6-13-.4,13-.6-1.2-.4,4.9-.6,2.6-.4-7.5-.6-3.4-.4,8.3-.6-4.9-.4,3.6-.6-10.3-.4,7.9-.6,3.7-.4-6.1-.6,4.8-.4-6.7-.6,4.3-.4,3.7-.6-14.1-.4,11.6-.6,2.5-.4-5.3-.6,10.6-.4-7.8-.6-4.7-.4-6.4-.6,9.9-.4,2.4-.6-8.1-.4,4.5-.6-4.5-.4,6.9-.6-2.4-.4,1.2-.6-.6-.4,8.3-.6-8.9-.4,4.9-.6-1.3-.4-13.9-.6,17.8-.4-1.9-.6,3.3-.4-2.7-.6-10.7-.4,10.7-.6-6.2-.4-1.2-.6-9.6-.4,5.2-.6,2.2-.4,8.3-.6,2.6-.4-9.8-.6,7.2-.4-13-.6,5.8-.4-1.1-.6,1.1-.4,3.5-.6-4.6-.4-3.3-.6-4.1-.4,0-.6,1-.4-1.9-.6,2.9-.4-2-.6-2-.4,1-.6,15.4-.4-8.1-.6,4.4-.4,7.6-.6-9.8-.4,2.3-.6-2.3-.4-4.3-.6-5.2-.4,4-.6-4-.4,10.6-.6-5.5-.4-7-.6,9.2-.4-9.2-.6,1.9-.4-1-.6-4.6-.4,6.6-.6,1-.4,11-.6-10-.4-2-.6-2.9-.4-1.9-.6,10-.4,0-.6,21.7-.4-31.7-.6,13.3-.4,0-.6-2.2-.4,1.1-.6-12.2-.4,.9-.6,0-.4,10.2-.6,2.2-.4,12.5-.6-13.8-.4-11.7-.6,5.5-.4-6.2-.6,2.3-.4,8.1-.6-1.1-.4-4.1-.6,0-.4-4.8-.6-.9-.4,4.8-.6,3.9-.4-11.4-.6,9.4-.4,4.2-.6,0-.4,5.6-.6-13.7-.4-3.7-.6,5.6-.4-1.9-.6,3.9-.4-3.9-.6-4.6-.4,13.8-.6-10.6-.4,7.3-.6-5-.4-6.4-.6,2.7-.4,.9-.6,.9-.4-7.8-.6,6-.4-.9-.6,.9-.4,2.8-.6,9.2-.4-12.2-.6,5.9-.4-3.9-.6,3.9-.4,7.4-.6-11.3-.4-2.6-.6,1.7-.4-.9-.6-6-.4,4.2-.6,0-.4,7.5-.6-7.5-.4,0-.6-.9-.4,.9-.6-5.9-.4,5.9-.6,4.6-.4,3.9-.6-10.2-.4,8.2-.6-6.5-.4,3.6-.6,4.9-.4-6.7-.6-7.7-.4,12.4-.6-10.3-.4,2.9-.6,0-.4-4.2-.6,6-.4-6.8-.6,13.4-.4-11.5-.6-5-.4,14.5-.6-.9-.4,0-.6-13.1-.4,11.2-.6,.9-.4-.9-.6-5.3-.4,1.7-.6-4.2-.4-1.6-.6-.4-.4,6.2-.6-3.3-.4,4.2-.6,2.7-.4-6.9-.6,3.3-.4,1.8-.6-6.8-.4-8.9-.6,5.8-.4,9.9-.6-10.7-.4,16.3-.6-10.7-.4,6.9-.6-10.4-.4,8.6-.6-5.1-.4,1.6-.6-7.8-.4,7-.6,0-.4-11.4-.6,1.2-.4,7.7-.6,3.3-.4-6.4-.6-1.5-.4,0-.6-2.9-.4,7.5-.6-.8-.4-3-.6,3-.4,1.6-.6-6.9-.4,7.8-.6-.9-.4-4.7-.6-2.2-.4-2.1-.6,7.4-.4,2.1-.6,1.2-.4-2.5-.6,0-.4-5.5-.6,8.8-.4-8.5-.6,6.9-.4-8.8-.6,8.8-.4-5.2-.6,6.8-.4-12.2-.6,0-.4,4.3-.6-3.6-.4,5.1-.6-3.7-.4-4.8-.6,4.8-.4,5.3-.6-1.6-.4-7.9-.6,9.1-.4,6.9-.6-12.2-.4-.3-.6,1.4-.4,1.4-.6,6.4-.4-19.1-.6,7.8-.4,.7-.6-.7-.4-2-.6-2.6-.4,0-.6,3.2-.4-.9-.6,7.3-.4,3.8-.6-6-.4,1.5-.6-8.3-.4,10.5-.6-7.2-.4-5.8-.6-1.9-.4,5-.6,10.7-.4-8-.6,2.1-.4-9.2-.6,9.2-.4-6-.6,0-.4-2.2-.6,8.2-.4,2.9-.6-.8-.4-5.5-.6-4.4-.4,1.8-.6-1.6-.4,.9-.6-1.8-.4,1.2-.6,1.9-.4-3.1-.6-1.9-.4-2.9-.6,12.6-.4,.7-.6-10.9-.4,3-.6-2.5-.4,4.4-.6,3.2-.4-5.4-.6,5.4-.4-2.6-.6-5.2-.4,14.9-.6-17-.4,6-.6-1.2-.4,.6-.6-6-.4,3.5-.6,9.1-.4-6.9-.6,.9-.4-7-.6,3.3-.4,5.6-.6-4.4-.4,3.8-.6,4.7-.4-7.1-.6-6-.4,4.6-.6,1.3-.4-.6-.6-4.8-.4-3.8-.6,1.1-.4,3.9-.6-1.2-.4,4.1-.6,3.2-.4-3.2-.6-2.3-.4,1.7-.6-5.4-.4,6-.6-5.7-.4,8.2-.6-5.4-.4,3.6-.6-9.7-.4,2.7-.6-.8-.4,1.4-.6-2.8-.4-3.6-.6,8-.4-1.1-.6-1.1-.4,6.3-.6-1.7-.4,0-.6-1.2-.4-3.4-.6,2.8-.4-1.1-.6-.6-.4,.6-.6,1.7-.4-.6-.6-7.5-.4,2-.6-2-.4,2-.6-1.5-.4,1.5-.6-4.5-.4,2.5-.6-2-.4,3-.6,4.3-.4-1.7-.6-2.6-.4,6.5-.6-5-.4,.6-.6-4.2-.4-3.1-.6,6.2-.4-10.1-.6,9.6-.4-.5-.6-1.6-.4-.5-.6,1.6-.4,3.1-.6-9.5-.4,0-.6,1.4-.4,1.5-.6,2.5-.4,6.3-.6-4.3-.4-2.6-.6-3.4-.4,2-.6,1.9-.4-2.4-.6,1.4-.4-2.6-.6-5.3-.4,.9-.6,11.1-.4-2-.6-7.3-.4,11-.6-8.7-.4,4.5-.6-5.4-.4,.9-.6,2-.4-3.8-.6-1.8-.4,.9-.6-3.6-.4,4-.6,5.2-.4,5.2-.6-9.5-.4,4.8-.6-5.7-.4,6.8-.6-3.2-.4-4.3-.6,6.4-.4-7-.6,12.3-.4-11.9-.6,2.3-.4-2.7-.6,1.1-.4,2.5-.6-1.4-.4-1.8-.6,6.1-.4-9.2-.6-1.2-.4,3-.6-2.6-.4,3.5-.6,4.9-.4,3.2-.6-2.1-.4-11.2-.6,4.3-.4-6.3-.6,7.2-.4,4.8-.6,.8-.4-8.5-.6,.7-.4-.9-.6-3.3-.4-2-.6,6.2-.4,.8-.6,0-.4-2.5-.6,1.2-.4,1.8-.6-1.8-.4-3.7-.6,.4-.4,4.6-.6-2.5-.4,.4-.6-1.3-.4-.8-.6,2.1-.4-6.2-.6,1.3-.4,6.6-.6-5.4-.4,3.7-.6,1.3-.4-3.6-.6,1-.4-4-.6,1.2-.4-1.7-.6,2.1-.4-1.6-.6,.4-.4-.4-.6,.8-.4-3.5-.6,5.1-.4-7.8-.6,7.8-.4-2-.6,4-.4-3.2-.6-.8-.4,1.6-.6,2-.4-6.6-.6,0-.4,.3-.6,1.5-.4-3.8-.6,2.3-.4,3.9-.6-4-.4,3.2-.6-1.6-.4-.3-.6-1.5-.4,5.4-.6-4.7-.4-5.1-.6,.6-.4,4.1-.6-2.5-.4,4.4-.6-5.9-.4,4-.6,.8-.4-3.3-.6-.6-.4-4.9-.6,7.3-.4,1.1-.6-4.7-.4,0-.6,1-.4,0-.6,.8-.4,.3-.6,2.6-.4-6.1-.6-1.7-.4,2-.6,4.3-.4-1.4-.6-4.2-.4-1-.6-1.3-.4,2.3-.6,2.7-.4-3.1-.6,4.9-.4-7.5-.6-1.7-.4,4.4-.6,1.3-.4,3.5-.6-7.8-.4,1.3-.6,13-.4-10.8-.6-1.2-.4-3.2-.6,5.2-.4-3.6-.6,.6-.4,0-.6,2-.4,0-.6-3-.4,4-.6,.7-.4-1.4-.6-7-.4,2.8-.6,.6-.4-1.3-.6-1.2-.4,5.8-.6-7.3-.4,7.3-.6-5.2-.4,0-.6-1.8-.4,2.1-.6-.3-.4-5-.6-.3-.4,6.6-.6-2.9-.4-3.7-.6,6.3-.4-1.3-.6,1.6-.4-4.3-.6,1.2-.4-1.5-.6-2.4-.4-.5-.6,7.5-.4-6.6-.6,4.4-.4,0-.6-1.5-.4,2.7-.6-5.8-.4,.5-.6-4.3-.4,.1-.6,3.6-.4,1.4-.6-.3-.4,.9-.6-1.1-.4-1.7-.6-.3-.4,3.4-.6-1.2-.4,3-.6-2.7-.4-2.8-.6,2.3-.4-1.7-.6-3.8-.4,6.6-.6-2.8-.4-1.8-.6,3.2-.4-7.3-.6,1.3-.4,0-.6,1.6-.4,.5-.6-3.9-.4,2.6-.6,1.8-.4-1.3-.6-2.2-.4-1.7-.6,1-.4-4.1-.6,5.2-.4,1-.6-4.3-.4-1-.6,.8-.4,.7-.6-2.7-.4,2.5-.6-3.6-.4,6.1-.6-.3-.4,2.3-.6-3.1-.4,.8-.6-5.8-.4,6.6-.6-2.9-.4-1.6-.6-1.4-.4,4.3-.6-8.2-.4,9.8-.6-4-.4-4.2-.6,5.6-.4-1.2-.6-.2-.4-4.7-.6-1.3-.4-1.7-.6,1.7-.4-1.5-.6,.6-.4-1.6-.6,.3-.4,.3-.6,.2-.4-.9-.6-3.3-.4,0-.6,8.8-.4-9.2-.6,1.6-.4,2.8-.6-2.8-.4,.7-.6-3-.4,2.6-.6,1-.4-1.5-.6-1.2-.4,3.5-.6-2.7-.4-4.1-.6,2.7-.4-.7-.6-.7-.4,2.2-.6-3.6-.4-1.2-.6-1.7-.4,5-.6-3.6-.4-1.5-.6-4.8-.4,2.1-.6,1.3-.4,.2-.6-1.4-.4-1.6-.6,1.1-.4,.1-.6,1.2-.4-6-.6,4-.4-3.8-.6,2.4-.4-.1-.6,1-.4-3.1-.6,0-.4,.6-.6-4.4-.4,1-.6-1.1-.4,.1-.6-2.5-.4-.7-.6,1-.4,0-.6-.7-.4-2.8-.6-.5-.4,1.1-.6-.6-.4-2.4-.6-.5-.4-1.6-.6,.5-.4,.9-.6-2.2-.4,2.2-.6-4.4-.4-2.6-.6-.7-.4,.5-.6-.9-.4,.3-.6-5.1-.4,1.5-.6-3.4-.4,4.6-.6-4.2-.4-2.1-.6,1.7-.4-2-.6,1-.4-2.6-.6-.3-.4-.3-.6-3.6-.4-.2-.6-.9-.4,3.6-.6-7.1-.4-.8-.6,.4-.4-.9-.6-2.9-.4,2-.6-1.1-.4-3.9-.6,.3-.4-1.6-.6-2-.4,.3-.6-3.8-.4,2.5-.6-3.3-.4,1.7-.6-3.4-.4-1.9-.6-.9-.4-1.8-.6-1.5-.4-2.3-.6,0-.4-1-.6-1.5-.4-4-.6-.2-.4-.8-.6-4.1-.4-.3-.6,.8-.4-2.6-.6-2.9-.4-2.1-.6-2.9-.4,.2-.6-1.6-.4-2.9-.6-1-.4-1.6-.6-3-.4-.2-.6-2.2-.4-.4-.6-2.3-.4-1.7-.6-1.4-.4-1.8-.6-1.4-.4,0-.6-2.6-.4-1.1-.6-.6-.4-3.8-.6,.3-.4-2.1-.6-1.8-.4-.6-.6-1.5-.4-1.3-.6-2.1-.4-1-.6-1.3-.4-1.5-.6-2.5-.4,.1-.6-1.5-.4-.9-.6-1.5-.4-2.3-.6-1.2-.4-1.4-.6-1.1-.4,.8-.6-1.5z" fill="#4090c6" stroke="#4090c6" stroke-width="0.55" stroke-linejoin="bevel"/>
<path d="M1057.8,100.8 1058.8,103.4 1059.9,106 1060.9,108.6 1062,111.3 1063,113.9 1064,116.6 1065.1,119.3 1066.1,122 1067.2,124.7 1068.2,127.4 1069.3,130.1 1070.3,132.8 1071.3,135.6 1072.4,138.5 1073.4,141.4 1074.5,144.4 1075.5,147.4 1076.5,150.4 1077.6,153.5 1078.6,156.5 1079.7,159.5 1080.7,162.5 1081.7,165.4 1082.8,168.2 1083.8,170.9 1084.9,173.5 1085.9,176 1086.9,178.3 1088,180.4 1089,182.4 1090.1,184.3 1091.1,186.2 1092.2,188.1 1093.2,190 1094.2,191.8 1095.3,193.6 1096.3,195.4 1097.4,197.1 1098.4,198.8 1099.4,200.5 1100.5,202.2 1101.5,203.8 1102.6,205.4 1103.6,206.9 1104.6,208.5 1105.7,210 1106.7,211.4 1107.8,212.9 1108.8,214.3 1109.8,215.7 1110.9,217 1111.9,218.4 1113,219.7 1114,220.9 1115.1,222.2 1116.1,223.4 1117.1,224.6 1118.2,225.8 1119.2,226.9" fill="none" stroke="#0b6db7" stroke-width="1.35"/>
<path d="M1058,99.8l.6,1.2 .4,1.1 .6,1.1 .4,2.9 .6,1.3 .4,.6 .6-.3 .4,3.4 .6,.6 .4,.7 .6,.7 .4,1.4 .6,2.5 .4,1.1 .6,.8 .4,1.5 .6-.5 .4,3.5 .6,.8 .4,.9 .6,1.7 .4-1.4 .6,4.6 .4,.6 .6,2.5 .4-1.3 .6,2.6 .4,1.3 .6,1.8 .4,.7 .6,3 .4-.6 .6,3.4 .4-.2 .6,1.9 .4,2.2 .6,.7 .4,.9 .6,2.2 .4,2.4 .6,1.9 .4-1 .6,1.9 .4,1 .6,1.5 .4,0 .6,2.7 .4,2.9 .6-1.7 .4,5.3 .6,1.1 .4-1.5 .6,2.8 .4,2.2 .6-.7 .4,2.3 .6,.9 .4,0 .6,1.8 .4-1.5 .6,2.1 .4-.4 .6,3.9 .4,.9 .6,.8 .4,.7 .6,1.6 .4,1.8 .6,.2 .4-.5 .6,1 .4,1 .6,.9 .4-.1 .6,1.5 .4,.8 .6,0 .4,2.4 .6,2.2 .4,.5 .6-2 .4,3.6 .6,2.2 .4-2.5 .6,1.8 .4,2.2 .6-1.6 .4-.2 .6,2.7 .4,2.2 .6-2.5 .4,.8 .6,2.5 .4-.7 .6,3 .4,0 .6,1.5 .4-3.8 .6,3.7 .4,2.3 .6-1.8 .4,3.3 .6-.8 .4,2.9 .6-1.8 .4-1 .6,.3 .4,2.4 .6,.8 .4-2.6 .6,3.5 .4-.1 .6-.3 .4,4.2 .6,.4 .4-3 .6,3.6 .4-.4 .6,2 .4-3.4 .6,3.8 .4-1.7 .6,2.3 .4,.4 .6-3.8 .4,6 .6-1 .4-2.4 .6,2.9 .4,3 .6-2.5 .4,2.3 .6-1 .4,.7 .6-.5 .4,.2 .6,1.3 .4-.7 .6,0 .4,4.3 .6-.4 .4-1.4 .6,3.1 .4-2.2 .6-.3 .4,1.9 .6-1.3 .4,3.3 .6-1.2 .4,1.5 .6,.1 .4,.7 .6-1.8 .4,.7 .6-.7 .4-.8 .6,2.8 .4,.1 .6,3.5 .4-2.1 .6,.2 .4-1.7 .6,3 .4-.7 .6,.9 .4,1.9 .6-1.2 .4,.4 .6,1.3 .4-3.3 .6,1.6 .4,.6 .6,1.5 .4,5.3 .6-5.6 .4,3.2 .6,.2 .4-.4 .6,2.5 .4-2 .6-.6 .4,.3 .6,0 .4,1.5 .6-1 .4,2.1 .6,4.4 .4-5.4 .6,2.6 .4,.2 .6-3.3 .4,5.2 .6-1.6 .4,.7 .6-4.3 .4,2.4 .6,3 .4-1.3 .6-3.1 .4,2.3 .6,1.7 .4-3.6 .6,6 .4-.6 .6,1.4 .4-6.5 .6,4.6 .4,.2 .6-.9 .4,2.4 .6-.2 .4-6.9 .6,10.5 .4-4.4 .6-.3 .4,1.8 .6,.8 .4-2.8 .6,4.9 .4-2.7 .6,2.5 .4-1.1 .6,1.2 .4-.8 .6,.2 .4-2 .6-.9 .4,3 .6-2.6 .4,2.8 .6,2.3 .4,1 .6,2.9 .4-10.2 .6,7.3 .4-4.4 .6,.9 .4,5.2 .6-2.1 .4-5 .6,9.2 .4-.8 .6-5.7 .4,.2 .6,5.4 .4-4.8 .6,.9 .4,5.3 .6-.9 .4,2 .6-2 .4,1.6 .6-4.6 .4-2.5 .6,6.1 .4-3 .6,3.7 .4-3 .6,2.2 .4-2.9 .6,3.1 .4,.6 .6-4.5 .4,7.5 .6-4.7 .4-.3 .6,2 .4,4.9 .6-2.8 .4-.7 .6,2.6 .4-1.2 .6-.3 .4,.8 .6-3.3 .4-1.7 .6,6.1 .4,3.2 .6-9.6 .4,8.4 .6-2.9 .4,.2 .6,4.3 .4-4.8 .6,2.2 .4-1.7 .6,2.4 .4-.9 .6-2.7 .4,1.7 .6,5 .4-7.1 .6,3.3 .4,2.3 .6-2 .4,.9 .6,0 .4,0 .6-1.2 .4,1.5 .6-1.7 .4-1.5 .6,6.6 .4-1.4 .6,.8 .4-.3 .6,0 .4-2.5 .6,1.3 .4,2.6 .6-3.9 .4,6.6 .6,0 .4-1.4 .6,1.7 .4-2.8 .6-.2 .4,2.4 .6-1.9 .4-1.3 .6,.5 .4,1.9 .6,1.9 .4-1.1 .6,1.9 .4,2.3 .6-6.6 .4,2.9 .6-.8 .4-1.6 .6,3.6 .4-5.2 .6,3.3 .4,4.5 .6-5.4 .4,3.4 .6,0 .4-.6 .6-1.4 .4,5.5 .6-3.5 .4,2 .6-2 .4-3.4 .6,0 .4,4.1 .6-1 .4,2.3 .6,2.4 .4-1.8 .6-2.9 .4,5.8 .6-2 .4,.9 .6-1.8 .4-.6 .6,4.3 .4-5.5 .6,3.6 .4-2.7 .6,4.6 .4-4.3 .6,.9 .4,.9 .6,2.5 .4,1 .6,.6 .4-3.2 .6,3.3 .4-5.4 .6,2.5 .4,2.2 .6,1.3 .4-3.6 .6,4.9 .4-1 .6-4.2 .4,4.5 .6,1 .4-4.2 .6,2.3 .4-9.5 .6,10.1 .4-3.6 .6,2.3 .4,1 .6-6.9 .4,5.9 .6,5 .4-4 .6,.6 .4,3.8 .6,2.9 .4-9 .6,2.3 .4-4.8 .6,4.5 .4-2.9 .6-.7 .4,3.3 .6-1.7 .4,6.4 .6-6.4 .4,9 .6,.4 .4-4.7 .6-.4 .4,2.9 .6-2.2 .4,.7 .6-4 .4,2 .6,6 .4-6.7 .6,4.9 .4,2.6 .6-1.9 .4-2.2 .6-.3 .4,3.6 .6-3.6 .4-.7 .6-2.7 .4,3.4 .6,3.3 .4,.3 .6-1.6 .4-.6 .6,1.1 .4,0 .6-1.1 .4-1.4 .6,4.8 .4-4.5 .6,0 .4-.7 .6,4.4 .4-5.1 .6,1.8 .4,5.6 .6,0 .4-3.8 .6,3.8 .4-1.2 .6,.4 .4,4.5 .6-7.1 .4,3.4 .6,3.6 .4-1.6 .6,2 .4-5.9 .6,.4 .4,2.3 .6-2.3 .4,5.1 .6-5.5 .4,.6 .6,4.1 .4,2.6 .6-5 .4,1.8 .6-1.8 .4-6.4 .6,4.8 .4-1.5 .6,5.1 .4-.8 .6,4.1 .4-4.5 .6-1.2 .4,7.5 .6-7.1 .4,.8 .6,2.8 .4,1.5 .6-.6 .4-.4 .6,4.8 .4-6.1 .6,2.5 .4,1.5 .6-5.2 .4-1.2 .6,2.4 .4,2.1 .6-3.7 .4,6.3 .6-2.2 .4,.9 .6-1.7 .4-2.9 .6,3.3 .4-.4 .6,1.9 .4-4 .6,1.7 .4-.9 .6,4.3 .4,1.3 .6-6.8 .4-2 .6,8.4 .4-5.6 .6,1.7 .4,6.7 .6-8.4 .4,.8 .6,6.5 .4,2 .6-5.2 .4-1.6 .6,3.1 .4,1.8 .6,1.5 .4-6.4 .6,8.3 .4,1.9 .6-6.2 .4,1.9 .6-3.7 .4,3.2 .6-2.3 .4,1.4 .6,3.8 .4-4.3 .6,2.3 .4,1 .6,2.4 .4-3.8 .6,3.3 .4-2.9 .6,1.5 .4,1.4 .6-5.2 .4-.4 .6-.5 .4,4.2 .6,3.5 .4,4.3 .6-6.7 .4-7.1 .6,5 .4,1 .6,.5 .4-1.9 .6,2.9 .4,.9 .6,.5 .4-7.5 .6,10.6 .4-3.1 .6-1.9 .4,2.5 .6,.5 .4-5.9 .6-.9 .4,5.2 .6,2.1 .4-2.1 .6-7 .4,4.1 .6,4.5 .4-.5 .6-3 .4-1 .6,4.5 .4-5 .6,6 .4-.5 .6,1 .4,0 .6,0 .4,.7 .6-4.8 .4,3.6 .6-3.6 .4,5.2 .6,.5 .4,.6 .6,1.6 .4-1.1 .6-1.6 .4,1.4 .6-3 .4,1 .6,2.2 .4-.5 .6-3.2 .4,6.6 .6,.3 .4-3.2 .6-6.8 .4,2.6 .6,8.2 .4-2.3 .6,0 .4-3.3 .6,6.2 .4-1.8 .6-3.3 .4,5.6 .6-7.3 .4,4.6 .6-1.8 .4,3.4 .6,3.3 .4-4.5 .6,.9 .4-4.8 .6,6.2 .4,1.9 .6,0 .4-1.9 .6-7.3 .4,5 .6,0 .4,2.9 .6,.4 .4-2.7 .6,.6 .4,.6 .6,1.2 .4-4.1 .6,1.1 .4,6 .6-1.8 .4-4.2 .6,1.8 .4-1.8 .6,4.8 .4,3.1 .6-9.6 .4,1.1 .6-.5 .4,4.4 .6,4.6 .4-5.6 .6,3.7 .4-8.8 .6,8.2 .4,1.3 .6-1.3 .4,2.5 .6-1.9 .4-6.6 .6,7.9 .4-2.5 .6-1.9 .4,1.9 .6,3.8 .4,2 .6-5.8 .4,3.8 .6,.5 .4-11.9 .6,10.1 .4,0 .6,4.4 .4-2.4 .6-8.1 .4,5.5 .6,1.9 .4,.7 .6-8.7 .4,0 .6,7.3 .4-5 .6,5.6 .4-2.5 .6-1.2 .4,4.5 .6-.7 .4-.9 .6-3.5 .4,8.5 .6-3.4 .4,.6 .6-2 .4,2.7 .6,2.8 .4-6.1 .6-5 .4,8.3 .6,1 .4,3.2 .6-4.9 .4,.7 .6,2.8 .4,3.5 .6-4.9 .4,5.8 .6-9.2 .4-1.3 .6,.6 .4,2 .6,0 .4,1.8 .6-1.1 .4,8.8 .6-7.4 .4-2.1 .6,8.7 .4-5.2 .6-6.7 .4,10.4 .6-7.8 .4,2.7 .6-.7 .4,1.4 .6-2.1 .4,11.1 .6-9.7 .4,2.8 .6-4.2 .4,.7 .6-2.7 .4,13.1 .6-3.1 .4-2.3 .6-2.9 .4-8 .6,8.7 .4-2.8 .6,5.7 .4-3.6 .6,0 .4,9.2 .6-1.7 .4-5.3 .6-8.9 .4,8.1 .6,.8 .4-2.2 .6,1.4 .4,0 .6-2.1 .4,3.6 .6-1.5 .4-4.2 .6,12 .4-2.5 .6,.8 .4,0 .6-.7 .4-7.8 .6-2.5 .4,12.9 .6-1.9 .4-7.5 .6,9.2 .4-2.8 .6-7.8 .4,5.8 .6,6.4 .4-5.6 .6-4.5 .4,6.8 .6-3.9 .4,0 .6,3.1 .4-3.1 .6,5.6 .4-.9 .6,2.6 .4-10.9 .6,1.4 .4,11.1 .6-5.8 .4-7.4 .6-2.1 .4,12 .6-2.5 .4-4.5 .6,2.2 .4,2 .6-2 .4,3.6 .6,2.8 .4-7.2 .6,3.9 .4-5.3 .6,12.1 .4-11.4 .6,9.6 .4-11.1 .6,6.9 .4,2.6 .6,.4 .4-.5 .6,4.5 .4-1.9 .6-5.1 .4,.9 .6,2.5 .4-8.8 .6,9.3 .4-3 .6-2.5 .4,7.6 .6-6.8 .4,5.7 .6-.3 .4-10 .6,11.4 .4,9.6 .6-11.4 .4-3.3 .6-2.3 .4-4.7 .6,10.3 .4,5.5 .6-9.7 .4,11.6 .6-5.1 .4-2.3 .6,2.7 .4-2.7 .6,6.4 .4-3.7 .6-8.5 .4-.7 .6-3.1 .4,7.9 .6,1.7 .4-3.3 .6,5.1 .4-3.5 .6,0 .4,1.7 .6,3.1 .4-7.3 .6,6.5 .4,3.2 .6-19.4 .4,16.1 .6-.4 .4,0 .6,5.6 .4-3.8 .6-6.9 .4,3 .6,4.8 .4-14.1 .6,10.5 .4,2 .6-5.4 .4,.8 .6,3.5 .4,0 .6-3.5 .4-1.6 .6,3.3 .4-.8 .6,6.6 .4-1.3 .6,0 .4,6.2 .6-1.3 .4-7.6 .6,5.6 .4-4.7 .6,7.1 .4-7.1 .6,.9 .4-.9 .6,1.8 .4,8 .6-3.1 .4-7.6 .6,.9 .4,6.2 .6-16.2 .4,13.7 .6-9.7 .4,2.5 .6,3.5 .4-.9 .6-3.5 .4,10.1 .6,2 .4-10.4 .6,8.4 .4-2 .6,.2 .4-3.9 .6-.9 .4-6.8 .6,14.4 .4-1 .6,2 .4-2 .6-3.9 .4,0 .6-3.6 .4,5.5 .6,1 .4,2 .6-7.6 .4-3.5 .6,11.1 .4-8.5 .6,9.5 .4-6.8 .6,8.9 .4,1.1 .6-10 .4,3.8 .6,2 .4,5.5 .6,4.3 .4-9.8 .6-1 .4,3.1 .6,2.1 .4-12.7 .6,14.5 .4-11.8 .6,8.9 .4-8 .6,0 .4,9.1 .6-1.1 .4-6.1 .6-.9 .4,1.9 .6-3.8 .4,1.9 .6,3 .4-3 .6-1.9 .4,4.8 .6-12.6 .4,17.9 .6-6.3 .4,1 .6-1 .4-4.7 .6,10.9 .4,3.3 .6-10.5 .4,6.1 .6,4.4 .4-15.1 .6,13.4 .4-7.8 .6,1 .4,4.1 .6-6.1 .4,5 .6,2.2 .4-4.2 .6-1 .4-7.5 .6,10.5 .4,6.6 .6-9.6 .4-2 .6,6.1 .4-4.1 .6,2 .4,0 .6,3.2 .4-10.9 .6,4.7 .4,6.2 .6-8.1 .4-4.6 .6,15.4 .4-.5 .6-6.4 .4,3.1 .6,1.1 .4,1.1 .6-4.3 .4,7.6 .6,4.4 .4-8.8 .6-2.2 .4,0 .6-2 .4,8.7 .6-4.5 .4,.5 .6-5.7 .4,3.1 .6,6.5 .4,4.8 .6-5.9 .4-2.2 .6,0 .4,4.5 .6-4.5 .4,0 .6-3.3 .4-2 .6,8.7 .4-3.4 .6,5.7 .4-3.5 .6-4.4 .4-4.1 .6,0 .4,14.4 .6,0 .4,1.3 .6-3.7 .4-2.4 .6-14.4 .4,11.1 .6-5.3 .4,14.7 .6-6.6 .4-.6 .6-5.5 .4,6.6 .6-5.5 .4-8 .6,9.1 .4,5.6 .6-3.4 .4-2.2 .6,2.2 .4,3.4 .6,2.4 .4-14.2 .6-1 .4,10.5 .6-3.3 .4,3.9 .6-12 .4,2.9 .6,4.1 .4-5.1 .6,9.5 .4,4.2 .6-6.4 .4,3.3 .6-2.2 .4-1.1 .6,6.9 .4,0 .6-9.1 .4-3.1 .6,7.5 .4-2.2 .6-1.1 .4,1.1 .6,6.9 .4-12.2 .6,4.2 .4,3.3 .6-6.5 .4,7.6 .6,1.2 .4,5.1 .6-10.7 .4-12.7 .6,17.1 .4-5.5 .6,4.4 .4-5.5 .6,5.5 .4-1.1 .6,5.9 .4-2.5 .6,9.2 .4-9.2 .6,7.5 .4-1.3 .6-2.6 .4-12.4 .6,2.1 .4,5.5 .6,1.2 .4-1.2 .6-4.4 .4,7.9 .6-3.5 .4-2.2 .6-5.4 .4,16.3 .6-2.6 .4-8.3 .6,0 .4-1.1 .6,5.7 .4-5.7 .6-1.1 .4,10.5 .6-10.5 .4,6.8 .6,2.4 .4-11.4 .6,9 .4,9 .6-5.3 .4-4.9 .6-3.4 .4,3.4 .6-6.7 .4,3.3 .6,2.2 .4-9.6 .6,13.2 .4-1.2 .6-2.4 .4-5.5 .6,12.9 .4-5 .6,3.1 .4-8.8 .6,0 .4,3.3 .6-9.6 .4,18.3 .6-5.1 .4-6.9 .6,7.6 .4-6.5 .6-3.3 .4,0 .6,9.1 .4,7.8 .6-14.7 .4,6.3 .6-1.8 .4-5.6 .6,6.8 .4,3.7 .6-9.4 .4,4 .6,4.1 .4-1.2 .6-5.8 .4,2.2 .6,8.7 .4-3.9 .6,0 .4,0 .6,1.3 .4-8.3 .6-2.2 .4,7.9 .6,5.2 .4-8.7 .6,10.1 .4-1.4 .6-6.3 .4,2.4 .6,3.9 .4,4.1 .6-13.9 .4,2.3 .6-7.8 .4,5.5 .6,3.5 .4,5 .6-11.8 .4,9.2 .6-12.4 .4,10.9 .6,.3 .4,3.8 .6-1.3 .4,1.3 .6-12.9 .4,15.6 .6-12.1 .4-5.6 .6,10 .4-4.6 .6,15 .4-4.1 .6-12 .4-2.2 .6,10.3 .4-3.6 .6-5.6 .4,6.5 .6-2.1 .4,7.4 .6-1.3 .4,6.7 .6,1.5 .4-14.8 .6-.6 .4,5.9 .6-3.6 .4-1.2 .6,4.8 .4,2.6 .6-2.6 .4-12.4 .6,13.7 .4-8.3 .6,15.1 .4-4.2 .6-9.8 .4,15.4 .6-13.1 .4,3.6 .6,6.6 .4-10.2 .6,2.7 .4-7.2 .6,16.1 .4-15 .6,4.6 .4-1.2 .6,2.4 .4,5.8 .6-10.5 .4,2.3 .6,4.9 .4,4 .6-10.1 .4,5 .6-5 .4,2.4 .6,1.9 .4,7.1 .6-7.8 .4-4.7 .6,7.2 .4,1.3 .6-7.4 .4,7.7 .6-11 .4,9.4 .6,6.4 .4-13.1 .6-8 .4,17.3 .6-1.3 .4-10.7 .6,1.1 .4,3.4 .6,3.6 .4,0 .6,2.6 .4-8.5 .6,15 .4-11.5 .6,8.4 .4-2.1 .6-1.3 .4,0 .6,3.5 .4-8.5 .6-1.2 .4,6.2 .6-8.5 .4,3.5 .6,9 .4-13.6 .6,12 .4-9.8 .6,2.4 .4,9 .6-2.7 .4-9.1 .6-4 .4,11.8 .6,1.3 .4-11.5 .6-11.6 .4,19.2 .6,2.6 .4,8.3 .6-15.7 .4,5 .6-1.4 .4,5.1 .6,2.7 .4-16.9 .6,7.9 .4-2.4 .6,3.1 .4,.5 .6,0 .4,11.8 .6-28.9 .4,21.7 .6-4.6 .4,12.1 .6-4.9 .4-4.7 .6,0 .4-2.5 .6-4.7 .4,3.5 .6,1.2 .4,3.8 .6,4 .4-7.8 .6,6.5 .4,2.7 .6-2.7 .4-8.9 .6,1.2 .4-1.2 .6,10.2 .4,4.3 .6-1.4 .4-20.9 .6,22.8 .4-13.8 .6,12.4 .4-8.7 .6,2.6 .4-2.8 .6-7 .4,8.5 .6-6.2 .4,8.9 .6-1.4 .4-2.6 .6,11.4 .4-7.4 .6-10.1 .4,12.8 .6-8 .4-1.2 .6,6.5 .4-5.3 .6-3.6 .4,6.9 .6-2 .4,6.7 .6,4.5 .4,1.5 .6-11.4 .4,6.9 .6-6.9 .4-6.2 .6-5.6 .4,14.5 .6,5.6 .4,3.9 .6-12.2 .4,1.3 .6-8.7 .4,12.8 .6-2.7 .4,1.3 .6-4 .4,1.3 .6-2.6 .4,11.2 .6-12.5 .4-11.4 .6,21 .4-4.3 .6,15.3 0,0-.6,5.4-.4,14.9-.6-16.7-.4-5.3-.6,5.3-.4,19.2-.6,2.5-.4-25.3-.6,18-.4-8.7-.6-1.9-.4,4-.6,0-.4-2.1-.6-3.9-.4-3.6-.6,1.8-.4,7.8-.6-13.1-.4-4.8-.6,10.1-.4,14.4-.6-16.8-.4,6.2-.6,0-.4-3.8-.6,14.4-.4-6.6-.6-4-.4-4.6-.6,15.2-.4-20.6-.6,10-.4,0-.6,17.9-.4-9.6-.6-13.9-.4-8.4-.6,1.6-.4,16.4-.6-6-.4-1.8-.6,0-.4,0-.6,21.7-.4-23.5-.6,1.8-.4,9.9-.6-6.1-.4,0-.6,2.5-.4,8.1-.6-18.8-.4,2.6-.6-1.8-.4,5.4-.6,3.9-.4,2.1-.6-6-.4,0-.6,0-.4-7.1-.6-6.4-.4,8.1-.6,3.6-.4-5.3-.6-1.7-.4,12.7-.6,4.2-.4-18.5-.6,14.3-.4-7.4-.6-3.6-.4,9.1-.6,0-.4-10.8-.6,8.9-.4,12.5-.6-14.4-.4-1.8-.6-1.8-.4,9.3-.6-6.3-.4,.6-.6,1.8-.4,0-.6-3.6-.4,1.8-.6,9.9-.4,4.5-.6-14.4-.4,5.7-.6-3.9-.4-13.5-.6,11.7-.4,1.8-.6-6.8-.4,5-.6-1.8-.4,0-.6,0-.4,5.6-.6-12.4-.4-3.1-.6-4.5-.4,7.6-.6,18.5-.4-15.2-.6,27-.4-14.3-.6-7.4-.4,9.9-.6-6.1-.4-12.4-.6,1.6-.4,1.7-.6,7.1-.4-7.1-.6,0-.4-8-.6,21.1-.4,0-.6-13.1-.4-3.3-.6,5-.4-6.6-.6,0-.4,3.2-.6,5.2-.4,11.7-.6-16.9-.4-4.7-.6,1.5-.4,12-.6,22.6-.4-29.7-.6,1.7-.4,7.4-.6-5.6-.4,11.7-.6,4.5-.4-15.3-.6,.9-.4-8.6-.6,6.8-.4-1.8-.6-5.6-.4,5.6-.6,0-.4-4.2-.6,40.9-.4-31.2-.6-8.9-.4,10.8-.6,1.9-.4-6.5-.6-7.8-.4,0-.6,3.5-.4,8.9-.6-4.6-.4,6.5-.6-14.3-.4,6.8-.6-1.8-.4,3.6-.6-8.6-.4,8.6-.6-5.3-.4,5.4-.6,3.7-.4-15.5-.6,8.1-.4-5-.6-11.7-.4,8.6-.6,8.1-.4,7.4-.6-14.7-.4-.8-.6,4.7-.4,14.8-.6-13.1-.4-8-.6,1.6-.4,13.5-.6-5.4-.4,1.8-.6-5.2-.4-4.7-.6,13.5-.4-3.5-.6-5.3-.4-3.2-.6,20.1-.4-2.1-.6,2.1-.4-2.1-.6-9.6-.4-14.4-.6,1.5-.4,20.4-.6-7.5-.4-3.5-.6-1.7-.4-6.3-.6,4.7-.4,1.6-.6,1.7-.4,1.7-.6-4.1-.4-2.5-.6,10.2-.4-2.7-.6-4.3-.4,5.2-.6-5.2-.4,3.4-.6-4.1-.4-8.4-.6,9.1-.4,3.4-.6,0-.4,13.5-.6-18.5-.4,0-.6,5-.4-14-.6,4.3-.4,6.3-.6,10.8-.4-15.5-.6,6.4-.4,1.7-.6-12.6-.4,2.9-.6,1.6-.4,9.9-.6,5.6-.4-14-.6,.2-.4,4.7-.6-10.9-.4,4.5-.6-5.9-.4,10.6-.6,0-.4-4.7-.6,3.1-.4-5.3-.6,5.3-.4,3.3-.6,13.1-.4-13.1-.6,7.1-.4-15.1-.6,6.3-.4,5.2-.6-8.4-.4,4.9-.6-6.4-.4,6.4-.6,7.1-.4-13.5-.6,1.5-.4,3.2-.6,3.4-.4-1.7-.6-10.9-.4-5.4-.6,5.4-.4,14.4-.6-1.8-.4-8.2-.6,13.6-.4-12-.6-4.5-.4,9.4-.6,0-.4-12.3-.6,12.3-.4,3.5-.6,3.6-.4-1.8-.6-11.9-.4,10.1-.6-6.8-.4,3.3-.6-6.4-.4,6.4-.6-8-.4,4.7-.6-.8-.4-3.9-.6,3.1-.4,1.6-.6-3.1-.4,0-.6,13.5-.4-10.4-.6,3.3-.4-4.7-.6,13.8-.4-14.6-.6,2.2-.4-3.1-.6,8.1-.4-1.7-.6-10.9-.4,26.1-.6-26.1-.4,4.5-.6,4.7-.4-4.7-.6-3-.4,9.4-.6-8-.4-8.2-.6,6.8-.4,9.4-.6,3.5-.4-9.9-.6-13.7-.4,9.2-.6,2.9-.4,1.6-.6-3-.4,14.7-.6-11.7-.4,1.5-.6-3.1-.4-6.9-.6,2.6-.4,12.3-.6-11.3-.4,6.4-.6-10.1-.4,8.6-.6-9.2-.4,10.7-.6-8.4-.4,8.4-.6,1.6-.4-4.7-.6,4.7-.4-1.6-.6-1.5-.4-8.6-.6,13.3-.4-3.2-.6-7.4-.4,2.9-.6,11.1-.4-8.1-.6,0-.4,1.5-.6,1.6-.4,1.6-.6-10.6-.4,0-.6,9-.4-9.8-.6,13.1-.4-8-.6-2.9-.4-4.1-.6,1.4-.4,2.7-.6-5.4-.4,9.9-.6-4.5-.4,4.5-.6,1.5-.4-7.4-.6-4.6-.4,6-.6,0-.4,18-.6-18-.4,4.1-.6,6.8-.4-10.9-.6,16.2-.4-7.4-.6,.4-.4,0-.6-10.6-.4,2.9-.6-4.2-.4-2.7-.6,5.4-.4,7.6-.6-15.4-.4,10.7-.6-5.4-.4-1.6-.6-3.2-.4,8.8-.6-6.9-.4,0-.6,5.4-.4-2.7-.6,6.5-.4,3.8-.6-4.7-.4-9.6-.6,6.7-.4-5.4-.6,1.3-.4,8.6-.6-3-.4,3-.6-7.2-.4-3.5-.6,7.7-.4-5.6-.6,2.7-.4,1.4-.6-5.4-.4,13-.6-15.6-.4,1.3-.6,8.2-.4-1.5-.6-6.7-.4,11.2-.6,1.5-.4-7-.6,11.9-.4-12.3-.6-2.7-.4,7-.6-4.3-.4-1.3-.6,2.7-.4,9.2-.6-3.2-.4-3.1-.6-7-.4-1.3-.6,1.3-.4,7-.6,4.7-.4-9-.6-5.2-.4,2.5-.6,7-.4-5-.6,.7-.4,4.3-.6-10.9-.4,5.3-.6-7.7-.4,7.7-.6-5.3-.4-5-.6,15.9-.4-8.3-.6-5-.4-.6-.6-2.9-.4,0-.6,0-.4,1.1-.6,12.8-.4,3-.6,1.5-.4-11.2-.6,0-.4,1.1-.6,7.1-.4-9.5-.6-6.9-.4,4.5-.6,6.3-.4-6.3-.6,14.9-.4-7.2-.6-5.8-.4,14.5-.6-14.2-.4-3.4-.6,2.4-.4,15.2-.6-8.7-.4-8.9-.6,4.9-.4-3.7-.6-4.6-.4-4.4-.6,5.5-.4,5.9-.6,10.9-.4-8.3-.6-1.3-.4-2.6-.6,7.9-.4-15.8-.6,3.3-.4,0-.6,13.9-.4-14.7-.6-1.4-.4,9.4-.6-7.2-.4,5.9-.6-5.9-.4,5.9-.6-3.6-.4,6.2-.6,0-.4-9.6-.6-3.3-.4-1.1-.6,16.7-.4-1.4-.6-18.6-.4,8.8-.6,5.9-.4-7-.6,5.8-.4-1.2-.6-10-.4,0-.6,10-.4-7.9-.6-2.1-.4,8.8-.6-1.2-.4-2.2-.6,2.2-.4-3.3-.6,5.7-.4,13.3-.6-19-.4,13.4-.6-6.5-.4-1.2-.6,2.4-.4-2.4-.6,2.4-.4-9.6-.6,6-.4,6.2-.6-2.6-.4-12.4-.6,20.4-.4-15.2-.6,7.2-.4-9.2-.6-2.2-.4,3.3-.6-2.2-.4,9.1-.6-5.8-.4-6.9-.6-5.3-.4,8.9-.6,7.9-.4-3.5-.6,1.1-.4,0-.6-8.5-.4,3-.6,2.2-.4,1.1-.6-1.1-.4-7.3-.6,1-.4,6.3-.6,3.3-.4-4.4-.6-7.2-.4,10.5-.6-8.5-.4,14.4-.6-10.3-.4-11.6-.6,12.7-.4,0-.6-1.1-.4-4.1-.6,2-.4-3-.6,5.1-.4,7.9-.6-2.4-.4-7.6-.6-1-.4,7.5-.6-9.5-.4,1-.6,3-.4-8.6-.6-.1-.4,1.8-.6,10.2-.4-9.5-.6,11.7-.4-9.5-.6,4-.4,0-.6-5.4-.4,6.1-.6,3.7-.4-5.4-.6-4.9-.4-4.6-.6-2.6-.4,13.2-.6,3.2-.4-11.1-.6,2.8-.4,0-.6,2-.4-6.7-.6,5.7-.4-1.9-.6-6.3-.4,6.3-.6,0-.4,4.9-.6,2.1-.4,2.2-.6-4.3-.4-5.9-.6-2.7-.4-3.5-.6,.9-.4,2.6-.6,8.6-.4,1-.6-5-.4-.4-.6-.5-.4-3.7-.6,9.6-.4-5-.6-12.2-.4,5-.6,10.2-.4-3.9-.6,5.9-.4-9.6-.6-2.6-.4,12.2-.6,0-.4-8.7-.6,.9-.4,.9-.6,11.3-.4-11.3-.6,1.9-.4-3.7-.6,1.8-.4-3.9-.6,6.8-.4-9.1-.6,5.3-.4-6.5-.6,8.4-.4-10.4-.6,2.4-.4,0-.6,6.1-.4,4.8-.6-11.3-.4,2.9-.6-3.3-.4,7.8-.6-10.3-.4,5.8-.6-6.5-.4,9.2-.6-6-.4,.8-.6,5.2-.4,1.8-.6-6.2-.4-8.6-.6,8.6-.4-2.4-.6-1.7-.4-4.4-.6,7.7-.4,1.7-.6-.9-.4,0-.6-4-.4,3.2-.6-1.7-.4,3.4-.6-7.3-.4-2.2-.6,3-.4,8.2-.6-2.5-.4-6.5-.6,2.3-.4,6.7-.6-7.4-.4-3.1-.6,4.6-.4,2.5-.6-9.3-.4,2.2-.6,4.6-.4-4.6-.6,6.3-.4-1.7-.6,11.4-.4-9.4-.6-6.6-.4-2.9-.6,5.2-.4,3.1-.6,0-.4-3.1-.6,6.5-.4-5-.6-5.3-.4,7.8-.6-5.6-.4-1.4-.6-.8-.4,3.8-.6,5.6-.4-9.7-.6,4.9-.4-6.7-.6-2.1-.4,3.5-.6-.7-.4,3.6-.6,0-.4-8.4-.6,13.1-.4-7.2-.6-2.1-.4,2.4-.6,2.2-.4-4.5-.6-4.6-.4,13.8-.6-9.7-.4,1.4-.6,7.5-.4-5.3-.6-7-.4,2-.6,2.1-.4-3.4-.6,12.4-.4-1.6-.6-10.2-.4-2-.6,3.4-.4-4-.6,.6-.4-.2-.6,2.9-.4-3.3-.6,0-.4,8.5-.6,5.9-.4-9-.6-3.4-.4-3.3-.6,1.3-.4-1.3-.6,4.6-.4-1.3-.6,3.4-.4,.7-.6-5.5-.4,4.1-.6-1.4-.4-2.7-.6,16.3-.4-14.3-.6-6.4-.4,6.4-.6-8.7-.4,4.8-.6,1.3-.4,5.4-.6,0-.4,5.9-.6-14.4-.4,.6-.6,8.6-.4-7.4-.6-4.8-.4,.6-.6,.5-.4,3.1-.6-5.4-.4,4.7-.6,5.2-.4-.6-.6-3.9-.4-5.4-.6,.6-.4,2.9-.6-2.6-.4,.9-.6-4.6-.4,15.5-.6-11.5-.4,2.3-.6,4.4-.4-3.1-.6-6.5-.4-.7-.6,8.4-.4,.7-.6-7.3-.4,1.8-.6-3.4-.4-1.1-.6,2.2-.4-2.2-.6,1.5-.4,5.3-.6,0-.4,0-.6,0-.4-2.9-.6,.6-.4,0-.6,1.1-.4-1.1-.6,3-.4-4.2-.6-3.6-.4,4.8-.6-1.8-.4,6.6-.6-6-.4-1.1-.6,2.3-.4-6.8-.6-.4-.4,.3-.6,2.9-.4-5.2-.6-1.1-.4,1.8-.6,6.7-.4-3.8-.6,0-.4,9.2-.6-7-.4-.9-.6,2.5-.4-4.5-.6-1.9-.4-2.1-.6,5.2-.4-1.6-.6-1.5-.4,2.6-.6-4.7-.4,8-.6,0-.4-3.9-.6,.6-.4-7.9-.6,11.7-.4-7.4-.6,9.2-.4-13.2-.6,6.5-.4,0-.6-2-.4-1.8-.6-.3-.4,1.5-.6-4.3-.4-1.4-.6,2.3-.4,1.9-.6,1-.4-2.4-.6,1.4-.4,1.5-.6,5.9-.4-3.3-.6-5.7-.4-4.9-.6,4.4-.4,2.6-.6,.5-.4,3.1-.6-3.6-.4-.5-.6-5.4-.4,1.6-.6,4.8-.4,5.3-.6-6.7-.4-3.8-.6-.5-.4,3.8-.6,.5-.4,.9-.6-.9-.4,2.5-.6-6.8-.4-1.3-.6,.4-.4,5.6-.6-9.1-.4,1.3-.6,3.6-.4-5.3-.6,0-.4,2.6-.6-.9-.4,1.8-.6-1.8-.4,5.4-.6-10-.4-.4-.6,5.9-.4,5.5-.6,2.4-.4-7.9-.6,.9-.4,.9-.6-4.8-.4-4.5-.6,7-.4-7.3-.6,6.9-.4-.9-.6-1.8-.4,5.4-.6-6.1-.4,2.5-.6,8.7-.4-9.1-.6-1.3-.4-4-.6,10.2-.4-11.4-.6,9.1-.4-8.3-.6,2-.4,2-.6-2.8-.4-.4-.6-.4-.4,2-.6,4.6-.4-8.8-.6-.5-.4-2.5-.6,2.5-.4-4-.6,11.6-.4,.4-.6-5.8-.4-.7-.6,0-.4,.8-.6-1.5-.4,2.3-.6,1.2-.4-5.4-.6-.7-.4,8.1-.6,0-.4-8.1-.6,4.1-.4-1.1-.6,1.9-.4-.8-.6-3-.4-2.2-.6,1.3-.4,2.8-.6-6.9-.4,6.1-.6-6.4-.4,7.5-.6-1.5-.4-4.3-.6,2.1-.4-.7-.6-1.1-.4,4.1-.6,3-.4-5.6-.6,5.6-.4-7.6-.6,.9-.4,4.4-.6-4.8-.4,2.9-.6-3.5-.4,1.9-.6,6.2-.4,3.7-.6-8.8-.4,.9-.6,.4-.4-1.9-.6-2.8-.4-1.4-.6-2.3-.4-.9-.6,13.9-.4-14.9-.6,7-.4-6.9-.6-1.1-.4,1.3-.6-1-.4,1.3-.6,6.4-.4-6.4-.6-2.8-.4,.5-.6,6.6-.4-6.2-.6-2.7-.4,.8-.6,1.6-.4,1.9-.6-3.4-.4-.6-.6,3-.4,9.8-.6-4.5-.4-8.3-.6,2.7-.4,2.6-.6-4.1-.4,2.5-.6-1-.4-1.5-.6-1.2-.4,2.7-.6-4.5-.4,2.7-.6,0-.4,2.8-.6-2.3-.4,.4-.6-1.2-.4,.6-.6-5-.4,2-.6-1.4-.4-.6-.6-3.4-.4,8.7-.6-4.1-.4,3.2-.6-3.5-.4,2-.6-.9-.4-.3-.6-1.7-.4-.2-.6,2.8-.4-4.7-.6,3.3-.4-4.7-.6-.8-.4,3.5-.6,2.3-.4-1.5-.6-.4-.4-2.6-.6,.8-.4-.2-.6,0-.4-1.4-.6,.8-.4-1.8-.6,3.5-.4-1.1-.6-3.2-.4-.4-.6,4.9-.4-5.8-.6-1.4-.4-2-.6,12.3-.4-5.8-.6-.8-.4-.2-.6-3-.4,.7-.6,2.3-.4-1-.6-.6-.4-1.5-.6,5.7-.4-6.9-.6-.2-.4-.1-.6,2.8-.4-3.2-.6-.7-.4-2.9-.6,3.8-.4,2-.6-1.7-.4,2.4-.6-3.1-.4-1-.6,.5-.4-.7-.6,.9-.4-3.4-.6,.4-.4,5.2-.6-3.6-.4,3.8-.6-2.1-.4-6.2-.6,6.2-.4-.8-.6-2.3-.4,3.1-.6-4-.4-1.7-.6,3.3-.4-.7-.6,0-.4,4.3-.6-6.7-.4-1.3-.6,.4-.4-1.7-.6,1.3-.4,2.4-.6-2.4-.4,.4-.6,2.7-.4-2.5-.6,3.1-.4-2.2-.6-3.4-.4-1.3-.6,2.1-.4-1.9-.6,.9-.4,4.7-.6-2.4-.4-5.4-.6-.3-.4,0-.6,3-.4-3.6-.6-.4-.4,3.3-.6-1.4-.4-.5-.6,3-.4-4.6-.6,.6-.4-1.8-.6-1.8-.4,3.4-.6-3.2-.4,1.8-.6,4.8-.4-6.1-.6-.2-.4-2-.6,.8-.4,1.8-.6,3.1-.4-2.4-.6-3.5-.4,.2-.6,1.3-.4-4.1-.6-.7-.4,.9-.6-1.7-.4-.5-.6,3.9-.4-2.6-.6,1.1-.4-2.1-.6-1.8-.4,3.9-.6-2.6-.4-.6-.6-1.3-.4,.8-.6-.2-.4,2.5-.6-3.3-.4-2-.6-.3-.4,3.3-.6-2.7-.4-1.5-.6,.7-.4-4.6-.6,8.3-.4-6.1-.6,4.9-.4-5-.6,1.9-.4-1-.6-6-.4,1.6-.6,.9-.4,.2-.6,4-.4-6.2-.6,2.2-.4-2.3-.6-3.1-.4,2.9-.6,1.1-.4-2.6-.6-1.3-.4,2-.6,.4-.4-3-.6-.8-.4-3.8-.6,3.4-.4-.9-.6-1.9-.4,1-.6-1.9-.4,1.9-.6-3.3-.4,.8-.6-3.9-.4,2.6-.6-1-.4,.7-.6-5.3-.4,5.1-.6-1.2-.4-4.2-.6,3.6-.4,1-.6-5.1-.4-.5-.6-.6-.4-1.2-.6,.1-.4,.3-.6-.8-.4-.3-.6-3.3-.4-1.3-.6-.8-.4-.3-.6,1.3-.4-.1-.6,.2-.4-5.2-.6,1.1-.4-2.1-.6,2.9-.4-2.4-.6,.6-.4-.9-.6-3-.4,.8-.6-.9-.4-1.4-.6-.8-.4,.3-.6-2.9-.4,0-.6-1-.4-2.3-.6,2.5-.4-4.6-.6,2-.4-2.4-.6,.9-.4-1.6-.6-3.3-.4-1.1-.6,2.8-.4-2.4-.6-2.5-.4-.6-.6-.4-.4-2.3-.6,1.4-.4-3.7-.6-.9-.4,3.4-.6-4.9-.4-1.5-.6,0-.4-1.8-.6-.8-.4,3.6-.6-4.8-.4-1.1-.6-1-.4-3.8-.6,.8-.4-3.1-.6-1-.4-1.2-.6-2-.4-1.7-.6-2.1-.4-.9-.6-2-.4-1.4-.6,.9-.4-3.1-.6-1.7-.4-1.6-.6-.7-.4-2.8-.6,.6-.4-2.8-.6-.6-.4-1.7-.6-2.1-.4-.5-.6-2.1-.4-2.8-.6-.2-.4-1-.6-.4-.4-2-.6,1-.4-4.2-.6-1.2-.4-1.7-.6-.8-.4-1.2-.6-.6-.4-1.4-.6-1.7-.4-.5-.6-2-.4-.9-.6-2.2-.4,0-.6-1.2-.4-2.4-.6-.7-.4-3.1-.6-.4z" fill="#0b6db7" stroke="#0b6db7" stroke-width="0.55" stroke-linejoin="bevel"/>
</g>
<clipPath id="cb2"><rect x="1054.6499999999999" y="58.1" width="685.5500000000002" height="549.6"/></clipPath>
<g clip-path="url(#cb2)">
<path d="M1057.8,100.8 1058.7,103.7 1059.6,106.5 1060.4,109.4 1061.3,112.3 1061.5,113.1M1066,129.5 1066.8,132.4 1067.5,135.3 1068.3,138.2 1069,141.1 1069.2,142.1M1073.2,158.7 1073.8,161.6 1074.4,164.6 1075.1,167.5 1075.7,170.4 1075.9,171.5M1079.3,188.3 1079.9,191.2 1080.5,194.2 1081.1,197.1 1081.7,200 1081.9,201.2M1085.4,218.1 1086,221 1086.6,223.9 1087.2,226.9 1087.9,229.8 1088.1,231M1091.8,247.9 1092.5,250.8 1093.1,253.7 1093.8,256.7 1094.5,259.6 1094.8,260.9M1098.8,277.8 1099.5,280.7 1100.2,283.6 1100.9,286.5 1101.6,289.4 1102,290.8M1106.5,307.6 1107.3,310.5 1108.2,313.4 1109,316.3 1109.9,319.1 1110.3,320.6M1115.9,337.2 1117,340 1118.1,342.7 1119.3,345.5 1120.5,348.3 1121.2,349.8M1129.7,365.1 1131.4,367.6 1133.3,369.9 1135.2,372.2 1137.3,374.4 1138.7,375.7M1153.5,385.1 1156.3,386.3 1159.1,387.3 1161.9,388.3 1164.8,389.2 1166.9,389.8M1184.3,394 1187.2,394.6 1190.2,395.2 1193.1,395.8 1196.1,396.4 1198.7,396.9M1216.5,400.4 1219.5,400.9 1222.4,401.5 1225.3,402.1 1228.3,402.6 1231.2,403.2 1231.4,403.2M1249.5,406.6 1252.5,407.1 1255.4,407.7 1258.4,408.2 1261.3,408.8 1264.3,409.3 1264.9,409.4M1283.4,412.8 1286.3,413.3 1289.3,413.9 1292.2,414.4 1295.2,414.9 1298.1,415.4 1299.2,415.6M1318,419 1321,419.5 1323.9,420 1326.9,420.6 1329.8,421.1 1332.8,421.6 1334.4,421.9M1353.5,425.2 1356.5,425.7 1359.4,426.2 1362.4,426.7 1365.3,427.2 1368.3,427.7 1370.4,428.1M1389.9,431.4 1392.8,431.9 1395.8,432.4 1398.8,432.9 1401.7,433.4 1404.7,433.9 1407.3,434.3M1427.1,437.5 1430.1,438 1433.1,438.5 1436,439 1439,439.4 1442,439.9 1444.9,440.4 1445.1,440.4M1465.3,443.6 1468.3,444.1 1471.2,444.5 1474.2,445 1477.2,445.4 1480.1,445.9 1483.1,446.3 1483.5,446.4M1503.8,449.5 1506.8,449.9 1509.8,450.4 1512.7,450.8 1515.7,451.2 1518.7,451.7 1521.6,452.1 1522,452.2M1542.4,455.1 1545.4,455.5 1548.3,455.9 1551.3,456.4 1554.3,456.8 1557.3,457.2 1560.2,457.6 1560.6,457.7M1581,460.5 1584,460.9 1586.9,461.3 1589.9,461.7 1592.9,462.1 1595.9,462.5 1598.8,462.8 1599.2,462.9M1619.6,465.6 1622.6,465.9 1625.6,466.3 1628.6,466.7 1631.5,467.1 1634.5,467.4 1637.5,467.8 1637.9,467.9M1658.3,470.4 1661.3,470.7 1664.3,471.1 1667.2,471.4 1670.2,471.8 1673.2,472.1 1676.2,472.5 1676.6,472.5M1697,474.9 1700,475.2 1703,475.6 1705.9,475.9 1708.9,476.2 1711.9,476.5 1714.9,476.9 1715.3,476.9" fill="none" stroke="#404040" stroke-width="5.3" stroke-linecap="round" stroke-linejoin="round"/>
<path d="M1057.8,100.8 1058.9,103.6 1060,106.4 1061.1,109.2 1062.1,112 1062.2,112.4M1067.3,128.1 1068.2,131 1069,133.9 1069.8,136.8 1070.6,139.7 1070.8,140.2M1074.7,156.3 1075.3,159.3 1075.9,162.2 1076.5,165.1 1077.1,168.1 1077.3,168.8M1080.6,185.1 1081.2,188 1081.8,190.9 1082.4,193.9 1083,196.8 1083.2,197.6M1087,213.8 1087.8,216.7 1088.6,219.6 1089.4,222.5 1090.3,225.4 1090.6,226.2M1095.7,242.2 1096.6,245 1097.6,247.8 1098.6,250.7 1099.7,253.5 1100,254.4M1106.6,269.9 1107.9,272.6 1109.2,275.3 1110.6,278 1112.1,280.6 1112.7,281.6M1122.6,295.3 1124.6,297.5 1126.8,299.6 1129,301.6 1131.4,303.5 1132.5,304.3M1147.4,312.7 1150.1,313.9 1152.9,315 1155.7,316.1 1158.5,317.1 1160.2,317.7M1176.8,322.7 1179.7,323.5 1182.6,324.3 1185.5,325.1 1188.4,325.9 1190.6,326.5M1207.6,330.9 1210.5,331.6 1213.4,332.4 1216.3,333.1 1219.2,333.8 1221.9,334.5M1239.2,338.8 1242.2,339.5 1245.1,340.2 1248,340.9 1250.9,341.6 1253.8,342.3 1254,342.3M1271.7,346.5 1274.6,347.1 1277.5,347.8 1280.5,348.5 1283.4,349.2 1286.3,349.8 1286.9,350M1305,354 1307.9,354.7 1310.8,355.3 1313.8,355.9 1316.7,356.6 1319.6,357.2 1320.7,357.4M1339.1,361.3 1342.1,362 1345,362.6 1347.9,363.2 1350.9,363.8 1353.8,364.4 1355.4,364.7M1374.2,368.4 1377.1,369 1380.1,369.6 1383,370.1 1386,370.7 1388.9,371.2 1391,371.6M1410.1,375.2 1413.1,375.7 1416,376.2 1419,376.7 1422,377.3 1424.9,377.8 1427.5,378.2M1447,381.5 1450,382 1453,382.5 1455.9,383 1458.9,383.5 1461.9,383.9 1464.7,384.4M1484.4,387.4 1487.3,387.8 1490.3,388.3 1493.3,388.7 1496.2,389.1 1499.2,389.6 1502,390M1521.7,392.7 1524.7,393.1 1527.7,393.5 1530.7,393.9 1533.6,394.3 1536.6,394.7 1539.4,395M1559.2,397.5 1562.2,397.8 1565.2,398.2 1568.1,398.5 1571.1,398.8 1574.1,399.2 1576.9,399.5M1596.7,401.7 1599.7,402 1602.7,402.3 1605.7,402.6 1608.7,402.9 1611.7,403.2 1614.5,403.5M1634.3,405.4 1637.3,405.6 1640.3,405.9 1643.3,406.2 1646.3,406.5 1649.3,406.7 1652.1,407M1671.9,408.6 1674.9,408.8 1677.9,409.1 1680.9,409.3 1683.9,409.5 1686.9,409.8 1689.7,410M1709.6,411.4 1712.6,411.6 1715.6,411.8 1718.6,412 1721.6,412.2 1724.6,412.4 1727.4,412.6" fill="none" stroke="#404040" stroke-width="5.3" stroke-linecap="round" stroke-linejoin="round"/>
<path d="M1057.8,100.8 1058.9,103.6 1060,106.4 1061,109.2 1062.1,112 1062.5,112.9M1068.3,129.1 1069.3,132 1070.3,134.8 1071.3,137.6 1072.2,140.5 1072.6,141.6M1077.7,158.1 1078.5,161 1079.4,163.9 1080.2,166.8 1081.1,169.6 1081.5,170.9M1087.1,187.3 1088.3,190.1 1089.4,192.9 1090.7,195.6 1091.9,198.3 1092.5,199.7M1100.3,215.3 1101.7,218 1103.2,220.6 1104.7,223.2 1106.2,225.7 1107.1,227.1M1117.4,241.4 1119.4,243.7 1121.4,245.9 1123.4,248.1 1125.6,250.2 1126.9,251.4M1141,262.3 1143.5,263.9 1146.1,265.4 1148.7,266.9 1151.3,268.3 1153.3,269.3M1169.7,276.7 1172.5,277.8 1175.3,278.8 1178.1,279.9 1180.9,280.9 1183.4,281.8M1200.6,287.8 1203.5,288.8 1206.3,289.7 1209.1,290.7 1212,291.6 1214.9,292.5 1214.9,292.5M1232.6,298.2 1235.4,299.1 1238.3,300 1241.2,300.9 1244,301.7 1246.9,302.6 1247.4,302.8M1265.4,308.3 1268.3,309.2 1271.1,310 1274,310.9 1276.9,311.8 1279.8,312.6 1280.7,312.9M1299.1,318.3 1302,319.2 1304.8,320 1307.7,320.9 1310.6,321.7 1313.5,322.5 1314.9,322.9M1333.7,328.2 1336.5,329 1339.4,329.8 1342.3,330.6 1345.2,331.4 1348.1,332.2 1350,332.8M1369.1,337.9 1372,338.7 1374.9,339.5 1377.8,340.2 1380.7,341 1383.6,341.7 1386.1,342.4M1405.6,347.3 1408.5,348 1411.4,348.8 1414.3,349.5 1417.2,350.2 1420.1,350.9 1423.1,351.6 1423.1,351.6M1443,356.3 1445.9,357 1448.9,357.7 1451.8,358.4 1454.7,359 1457.6,359.7 1460.6,360.3 1461.2,360.5M1481.5,364.9 1484.4,365.5 1487.3,366.1 1490.3,366.7 1493.2,367.4 1496.2,368 1499.1,368.6 1499.7,368.7M1520.1,372.7 1523.1,373.3 1526,373.9 1529,374.4 1531.9,375 1534.9,375.5 1537.8,376 1538.4,376.2M1558.9,379.8 1561.9,380.3 1564.9,380.8 1567.8,381.3 1570.8,381.8 1573.7,382.3 1576.7,382.8 1577.3,382.9M1597.9,386.1 1600.9,386.5 1603.8,387 1606.8,387.4 1609.8,387.9 1612.7,388.3 1615.7,388.7 1616.3,388.8M1636.9,391.6 1639.9,392 1642.9,392.4 1645.9,392.8 1648.8,393.2 1651.8,393.5 1654.8,393.9 1655.4,394M1676.1,396.4 1679.1,396.8 1682.1,397.1 1685,397.4 1688,397.7 1691,398.1 1694,398.4 1694.6,398.4M1715.3,400.5 1718.3,400.8 1721.3,401.1 1724.3,401.4 1727.3,401.6 1730.3,401.9 1733.3,402.2 1733.9,402.2" fill="none" stroke="#404040" stroke-width="5.3" stroke-linecap="round" stroke-linejoin="round"/>
<path d="M1057.8,100.8 1058.9,103.6 1060,106.4 1061.1,109.2 1062.2,112 1062.5,112.7M1068.6,128.5 1069.7,131.3 1070.8,134.1 1071.8,136.9 1072.8,139.7 1073.1,140.6M1078.7,156.7 1079.7,159.5 1080.7,162.4 1081.7,165.2 1082.7,168 1083.1,169M1090.2,184.6 1091.7,187.2 1093.1,189.8 1094.6,192.4 1096.1,195 1096.7,196.1M1106.1,210.6 1107.8,213 1109.6,215.4 1111.5,217.8 1113.3,220.1 1114.3,221.3M1126.1,234 1128.3,236 1130.6,238 1132.9,239.9 1135.2,241.8 1136.6,242.9M1151.1,252.8 1153.7,254.4 1156.3,255.9 1158.9,257.3 1161.5,258.7 1163.4,259.7M1179.5,267.5 1182.2,268.7 1184.9,269.9 1187.7,271.1 1190.5,272.3 1192.8,273.3M1209.5,280 1212.3,281.1 1215.1,282.2 1217.9,283.3 1220.7,284.4 1223.5,285.4M1240.7,291.8 1243.5,292.9 1246.4,293.9 1249.2,294.9 1252,296 1254.8,297 1255.2,297.1M1272.8,303.4 1275.6,304.3 1278.5,305.3 1281.3,306.3 1284.1,307.3 1287,308.3 1287.8,308.6M1305.8,314.6 1308.6,315.6 1311.5,316.5 1314.3,317.4 1317.2,318.4 1320,319.3 1321.4,319.7M1339.7,325.6 1342.5,326.5 1345.4,327.4 1348.3,328.3 1351.1,329.1 1354,330 1355.8,330.6M1374.6,336.2 1377.5,337 1380.3,337.8 1383.2,338.7 1386.1,339.5 1389,340.3 1391.3,340.9M1410.5,346.2 1413.4,347 1416.3,347.7 1419.2,348.5 1422.1,349.3 1425,350 1427.8,350.7M1447.5,355.6 1450.4,356.3 1453.3,357 1456.2,357.7 1459.1,358.4 1462.1,359 1465,359.7 1465.3,359.8M1485.3,364.2 1488.2,364.8 1491.1,365.4 1494.1,366 1497,366.6 1500,367.2 1502.9,367.8 1503.2,367.9M1523.3,371.7 1526.2,372.2 1529.2,372.8 1532.2,373.3 1535.1,373.8 1538.1,374.3 1541,374.9 1541.3,374.9M1561.5,378.2 1564.5,378.7 1567.4,379.1 1570.4,379.6 1573.4,380 1576.3,380.5 1579.3,380.9 1579.6,381M1599.9,383.8 1602.9,384.2 1605.8,384.5 1608.8,384.9 1611.8,385.3 1614.8,385.7 1617.7,386 1618.1,386.1M1638.4,388.4 1641.4,388.7 1644.3,389 1647.3,389.3 1650.3,389.6 1653.3,389.9 1656.3,390.2 1656.6,390.3M1677,392.2 1680,392.4 1682.9,392.7 1685.9,393 1688.9,393.2 1691.9,393.4 1694.9,393.7 1695.2,393.7M1715.6,395.3 1718.6,395.5 1721.6,395.7 1724.6,395.9 1727.6,396.1 1730.6,396.3 1733.6,396.5 1733.9,396.5" fill="none" stroke="#404040" stroke-width="5.3" stroke-linecap="round" stroke-linejoin="round"/>
</g>
<text transform="translate(902.3 21.6) scale(1 1.041)" font-size="30" font-weight="bold">b</text>
<text transform="translate(1072.9 91) scale(1 1.041)" font-size="29">PEPI</text>
<text transform="translate(1045.6 106.5) scale(1 1.041)" font-size="29" text-anchor="end">10<tspan dx="0.6" dy="-18.3">0</tspan></text>
<text transform="translate(1045.6 250.5) scale(1 1.041)" font-size="29" text-anchor="end">10<tspan dx="0.6" dy="-18.3">-1</tspan></text>
<text transform="translate(1045.6 394.5) scale(1 1.041)" font-size="29" text-anchor="end">10<tspan dx="0.6" dy="-18.3">-2</tspan></text>
<text transform="translate(1045.6 538.5) scale(1 1.041)" font-size="29" text-anchor="end">10<tspan dx="0.6" dy="-18.3">-3</tspan></text>
<text transform="translate(1058.6 646) scale(1 1.041)" font-size="29" text-anchor="middle">0</text>
<text transform="translate(1143.9 646) scale(1 1.041)" font-size="29" text-anchor="middle">5</text>
<text transform="translate(1224 646) scale(1 1.041)" font-size="29" text-anchor="middle">10</text>
<text transform="translate(1309.3 646) scale(1 1.041)" font-size="29" text-anchor="middle">15</text>
<text transform="translate(1394.6 646) scale(1 1.041)" font-size="29" text-anchor="middle">20</text>
<text transform="translate(1479.9 646) scale(1 1.041)" font-size="29" text-anchor="middle">25</text>
<text transform="translate(1565.2 646) scale(1 1.041)" font-size="29" text-anchor="middle">30</text>
<text transform="translate(1650.5 646) scale(1 1.041)" font-size="29" text-anchor="middle">35</text>
<text transform="translate(1735.8 646) scale(1 1.041)" font-size="29" text-anchor="middle">40</text>
<text transform="translate(1367.5 700.8) scale(1 1.041)" font-size="29" text-anchor="middle">time (ns)</text>
<text transform="translate(936 325) rotate(-90) scale(1 1.041)" font-size="29" text-anchor="middle">PL Intensity (norm.)</text>
<line x1="1143.6" y1="569" x2="1164.4" y2="569" stroke="#a6cee3" stroke-width="10" stroke-linecap="round"/>
<text transform="translate(1177.9 579.5) scale(1 1.041)" font-size="29">0 T</text>
<line x1="1262" y1="569" x2="1282" y2="569" stroke="#72aad1" stroke-width="10" stroke-linecap="round"/>
<text transform="translate(1298.4 579.5) scale(1 1.041)" font-size="29">5 T</text>
<line x1="1393.5" y1="569" x2="1413.5" y2="569" stroke="#4090c6" stroke-width="10" stroke-linecap="round"/>
<text transform="translate(1428 579.5) scale(1 1.041)" font-size="29">10 T</text>
<line x1="1551.5" y1="569" x2="1572.2" y2="569" stroke="#0b6db7" stroke-width="10" stroke-linecap="round"/>
<text transform="translate(1587.5 579.5) scale(1 1.041)" font-size="29">14 T</text>
<rect x="1470.5" y="79.9" width="253.79999999999995" height="204.6" fill="#fff"/>
<rect x="1470.5" y="79.9" width="253.8" height="204.6" fill="none" stroke="#000" stroke-width="1.8"/>
<path d="M1493.3,284.5v-2.6M1508.1,284.5v-2.6M1523,284.5v-5M1537.9,284.5v-2.6M1552.7,284.5v-2.6M1567.6,284.5v-2.6M1582.4,284.5v-2.6M1597.3,284.5v-5M1612.2,284.5v-2.6M1627,284.5v-2.6M1641.9,284.5v-2.6M1656.7,284.5v-2.6M1671.6,284.5v-5M1686.5,284.5v-2.6M1701.3,284.5v-2.6M1470.5,226.1h5M1470.5,167.7h5M1470.5,109.3h5M1470.5,255.3h2.6M1470.5,196.9h2.6M1470.5,138.5h2.6" stroke="#000" stroke-width="1.8" fill="none"/>
<g fill="none" stroke="#e41a1c" stroke-width="3.4"><circle cx="1493" cy="132.6" r="6.9"/><circle cx="1522.8" cy="188.6" r="6.9"/><circle cx="1559.8" cy="231" r="6.9"/><circle cx="1597.3" cy="252.6" r="6.9"/><circle cx="1634.3" cy="227.5" r="6.9"/><circle cx="1671.3" cy="177.2" r="6.9"/><circle cx="1701" cy="137.8" r="6.9"/></g>
<text transform="translate(1458.2 121) scale(1 1.041)" font-size="29" text-anchor="end">0.12</text>
<text transform="translate(1458.2 179.4) scale(1 1.041)" font-size="29" text-anchor="end">0.10</text>
<text transform="translate(1458.2 237.8) scale(1 1.041)" font-size="29" text-anchor="end">0.08</text>
<text transform="translate(1458.2 296.2) scale(1 1.041)" font-size="29" text-anchor="end">0.06</text>
<text transform="translate(1519.8 315) scale(1 1.041)" font-size="29" text-anchor="middle">-10</text>
<text transform="translate(1596.3 315) scale(1 1.041)" font-size="29" text-anchor="middle">0</text>
<text transform="translate(1670.6 315) scale(1 1.041)" font-size="29" text-anchor="middle">10</text>
<text transform="translate(1593 349.2) scale(1 1.041)" font-size="29" text-anchor="middle">B (T)</text>
<text transform="translate(1381 190) rotate(-90) scale(1 1.041)" font-size="29" text-anchor="middle">Γ<tspan dx="0.8" dy="5.5">D</tspan><tspan dy="-5.5"> (1/ns)</tspan></text>
<rect x="1057.8" y="805" width="682.6" height="549.4" fill="none" stroke="#000" stroke-width="4.9"/>
<path d="M1142.9,1353v-10.5M1228.3,1353v-10.5M1313.6,1353v-10.5M1399,1353v-10.5M1484.3,1353v-10.5M1569.7,1353v-10.5M1655,1353v-10.5M1059.3,838.8h10.6M1059.3,953.4h10.6M1059.3,1068.1h10.6M1059.3,1182.8h10.6M1059.3,1297.4h10.6" stroke="#000" stroke-width="4.4" fill="none"/>
<path d="M1074.7,1353v-4.3M1091.7,1353v-4.3M1108.8,1353v-4.3M1125.9,1353v-4.3M1160,1353v-4.3M1177.1,1353v-4.3M1194.2,1353v-4.3M1211.2,1353v-4.3M1245.4,1353v-4.3M1262.4,1353v-4.3M1279.5,1353v-4.3M1296.6,1353v-4.3M1330.7,1353v-4.3M1347.8,1353v-4.3M1364.9,1353v-4.3M1381.9,1353v-4.3M1416.1,1353v-4.3M1433.1,1353v-4.3M1450.2,1353v-4.3M1467.3,1353v-4.3M1501.4,1353v-4.3M1518.5,1353v-4.3M1535.6,1353v-4.3M1552.6,1353v-4.3M1586.8,1353v-4.3M1603.8,1353v-4.3M1620.9,1353v-4.3M1638,1353v-4.3M1672.1,1353v-4.3M1689.2,1353v-4.3M1706.3,1353v-4.3M1723.3,1353v-4.3M1059.3,918.9h4.3M1059.3,898.7h4.3M1059.3,884.4h4.3M1059.3,873.3h4.3M1059.3,864.2h4.3M1059.3,856.6h4.3M1059.3,849.9h4.3M1059.3,844h4.3M1059.3,1033.6h4.3M1059.3,1013.4h4.3M1059.3,999.1h4.3M1059.3,988h4.3M1059.3,978.9h4.3M1059.3,971.2h4.3M1059.3,964.6h4.3M1059.3,958.7h4.3M1059.3,1148.2h4.3M1059.3,1128h4.3M1059.3,1113.7h4.3M1059.3,1102.6h4.3M1059.3,1093.5h4.3M1059.3,1085.9h4.3M1059.3,1079.2h4.3M1059.3,1073.3h4.3M1059.3,1262.9h4.3M1059.3,1242.7h4.3M1059.3,1228.4h4.3M1059.3,1343h4.3M1059.3,1217.3h4.3M1059.3,1331.9h4.3M1059.3,1208.2h4.3M1059.3,1322.8h4.3M1059.3,1200.5h4.3M1059.3,1315.2h4.3M1059.3,1193.9h4.3M1059.3,1308.5h4.3M1059.3,1188h4.3M1059.3,1302.6h4.3" stroke="#000" stroke-width="4.0" fill="none"/>
<clipPath id="cd"><rect x="1057.85" y="805.0" width="682.5500000000002" height="549.4000000000001"/></clipPath>
<g clip-path="url(#cd)">
<path d="M1057.6,838.8 1058.6,841 1059.7,843.4 1060.7,846 1061.8,848.6 1062.8,851.4 1063.8,854.3 1064.9,857.3 1065.9,860.4 1067,863.6 1068,866.9 1069.1,870.3 1070.1,873.8 1071.1,877.4 1072.2,881.2 1073.2,885.2 1074.3,889.5 1075.3,894 1076.3,898.6 1077.4,903.3 1078.4,908.2 1079.5,913.1 1080.5,918.1 1081.6,923.1 1082.6,928.1 1083.6,933.1 1084.7,938 1085.7,942.8 1086.8,947.5 1087.8,952.2 1088.8,956.9 1089.9,961.6 1090.9,966.2 1092,970.7 1093,975.1 1094.1,979.4 1095.1,983.7 1096.1,987.8 1097.2,991.8 1098.2,995.8 1099.3,999.6 1100.3,1003.3 1101.3,1007 1102.4,1010.5 1103.4,1013.9 1104.5,1017.2 1105.5,1020.4 1106.6,1023.5 1107.6,1026.4 1108.6,1029.3 1109.7,1032.1 1110.7,1034.7 1111.8,1037.3 1112.8,1039.7 1113.8,1042.1 1114.9,1044.3 1115.9,1046.5 1117,1048.6 1118,1050.6 1119.1,1052.5" fill="none" stroke="#a6cee3" stroke-width="1.35"/>
<path d="M1057.8,838.5l.6,1.5 .4,.1 .6,1.6 .4,.8 .6,1.8 .4,.8 .6,1.1 .4,1.6 .6,.8 .4,1.8 .6,.8 .4,2 .6,1 .4,2 .6,1.4 .4,1.1 .6-.6 .4,3.7 .6,1.8 .4,1.5 .6,2.2 .4,1.2 .6,.6 .4,1.6 .6,2.9 .4,.9 .6,2.1 .4,1.6 .6,1.2 .4,3.2 .6,2.6 .4,2.9 .6-.4 .4,3.4 .6,.4 .4,3.8 .6,2.5 .4,1 .6,3.3 .4,2.1 .6,1.4 .4,2.1 .6,.3 .4,4.2 .6,3.5 .4,.9 .6,4.2 .4,1.9 .6,3.1 .4,.6 .6,1.5 .4,4 .6,2.2 .4,3.2 .6,2.3 .4,1.9 .6,1.9 .4,3.6 .6-.6 .4,5.1 .6,1.4 .4-.2 .6,2.5 .4,3 .6,3.5 .4-1.2 .6,6.3 .4-1.6 .6,3.3 .4,3.9 .6,.8 .4-2.4 .6,5.4 .4,2.7 .6,2.4 .4-.5 .6,5.1 .4-.3 .6,1.8 .4,5.5 .6-4.1 .4,8.8 .6-1.7 .4,1.7 .6,1.2 .4,1.3 .6,1.6 .4,5.2 .6-1.3 .4,1 .6-1 .4,2 .6,2.2 .4-1.9 .6,3.5 .4,5.9 .6-5.6 .4,10.2 .6-1.8 .4-1 .6,3.2 .4-.4 .6,4.2 .4,2.6 .6,1.5 .4,0 .6,.9 .4,5.1 .6-4.1 .4,3.6 .6,1 .4-2.6 .6-.5 .4,5.9 .6-1.7 .4,2.3 .6,3.6 .4,6.6 .6-5.3 .4,1.2 .6,1.4 .4-3.3 .6,4 .4,.6 .6-7 .4,10.6 .6-.7 .4,2.2 .6-4.4 .4,6 .6-4.5 .4,5.3 .6-6.1 .4-2 .6,10.9 .4-6.7 .6,4.9 .4-7.8 .6,17.5 .4-9.1 .6,5.3 .4-7.7 .6,3.3 .4,2.2 .6-4.7 .4,2.5 .6-.9 .4,14.3 .6-7.2 .4-6.2 .6,3.4 .4,3.8 .6-11.3 .4,15.7 .6-5.4 .4,3 .6-1 .4,2 .6,0 .4,2.1 .6,1.1 .4,4.7 .6-1.2 .4-4.5 .6-1.1 .4,10.1 .6-6.8 .4,2.3 .6,2.5 .4-9.2 .6,4.4 .4,1.1 .6,4.4 .4-3.2 .6-8.7 .4,7.5 .6,11.9 .4-9.5 .6,0 .4,7.9 .6-10.3 .4,2.4 .6-9.9 .4,7.5 .6-5.5 .4,13 .6-3.9 .4,1.3 .6,4 .4,4.3 .6-4.3 .4,4.4 .6-13.3 .4,11.3 .6-12.4 .4,10 .6,2.8 .4-9.3 .6,5.1 .4,5.7 .6,0 .4,1.5 .6-9.8 .4,5.4 .6,11.1 .4-11.1 .6,3 .4-5.8 .6,13.9 .4-9.7 .6,4.6 .4-3.1 .6-2.9 .4,9.3 .6,1.8 .4,0 .6-13.9 .4,8.8 .6-4.6 .4,15.3 .6-9.1 .4-3.2 .6,6.7 .4-8.2 .6-4.3 .4,12.5 .6-1.8 .4-1.7 .6,0 .4,0 .6,5.3 .4,5.8 .6,0 .4-22.8 .6,8.5 .4,8.5 .6-6.9 .4,6.9 .6,2.2 .4-5.8 .6,3.6 .4-6.9 .6,13.8 .4-13.8 .6,1.6 .4-1.6 .6,6.9 .4,0 .6,10.2 .4-12 .6,14.3 .4-2.3 .6-2.2 .4-6.1 .6-5.5 .4,16.1 .6,2.4 .4-6.9 .6-6.1 .4,0 .6,.9 .4,3 .6-12.7 .4,9.7 .6,12.1 .4-11.1 .6,6.4 .4-8.3 .6,1.9 .4,4.2 .6,2.2 .4-2.2 .6,0 .4-8 .6,12.5 .4,0 .6-14.3 .4,16.7 .6-6.9 .4,6.9 .6-14.9 .4,6.2 .6,1.8 .4,6.1 .6,6.4 .4-14.7 .6,0 .4,3.4 .6,5.7 .4-9.1 .6,11.7 .4-5 .6,2.4 .4,2.6 .6-5 .4,0 .6,5 .4-2.6 .6-6.9 .4-14.9 .6,32.9 .4-8.5 .6,0 .4-11.7 .6,9.1 .4,5.3 .6-12.2 .4,9.5 .6-2.6 .4,.6 .6-13.6 .4,15.6 .6,5.5 .4-12.8 .6-1.8 .4-6.5 .6,21.1 .4-8.1 .6,7.2 .4-1.9 .6,2.8 .4,6.2 .6-6.2 .4-12.8 .6,7.3 .4-5 .6,5 .4-2.6 .6,1.4 .4-16.3 .6,23 .4,9.7 .6-22.5 .4,10 .6-5.3 .4,8.1 .6-5.5 .4,8.5 .6,6.8 .4-9.8 .6,0 .4,13.4 .6,0 .4-1.9 .6-1.8 .4-9.7 .6-8.1 .4,2.6 .6-11.7 .4,20.2 .6-5.8 .4,16.2 .6,0 .4-10.4 .6,8.5 .4-17 .6,0 .4,8.5 .6,0 .4,8.8 .6-17.3 .4,8.5 .6-8.5 .4,11.7 .6,3.5 .4-17.8 .6,14.3 .4-9 .6,0 .4,2.8 .6,13.4 .4-10.4 .6,6.7 .4-9.7 .6,3 .4,11 .6-7.8 .4,7.2 .6-10.4 .4-5.8 .6,5.8 .4,3.2 .6-3.2 .4-8.5 .6,18.9 .4-3.7 .6-12.5 .4,2.8 .6,13.2 .4-18.7 .6,5.5 .4-10.5 .6,5 .4,31.9 .6-4.7 .4-13.7 .6-1.8 .4,7.2 .6-10.4 .4,18.7 .6-8.3 .4-13.4 .6,13.4 .4-10.4 .6,10.4 .4,8.3 .6-18.7 .4,17.7 .6-23.5 .4,20.2 .6-7.7 .4-6.7 .6,0 .4-11.1 .6,14.3 .4,7.2 .6,8.3 .4-8.3 .6-7.2 .4,13.7 .6-6.5 .4,0 .6-10.4 .4,11.7 .6,7 .4-21.7 .6,9.7 .4-9.7 .6,19.9 .4-10.2 .6,7.7 .4,4.3 .6-12 .4-6.7 .6,6.7 .4,0 .6-3.5 .4,3.5 .6,7.7 .4,20.1 .6-27.8 .4-3.5 .6,.2 .4-3.4 .6,6.7 .4,22 .6-18.3 .4-3.7 .6,3.7 .4,18.3 .6-25.5 .4,15.5 .6-8.3 .4-3.7 .6,0 .4,8.4 .6-.7 .4-11.2 .6,11.2 .4,4.5 .6-18.9 .4,23.4 .6-4.7 .4,0 .6,10 .4-18.3 .6,13 .4-9 .6,0 .4-7.7 .6-3.5 .4,3.6 .6,11.9 .4-8.3 .6,4 .4-4 .6,8.3 .4,12.9 .6-28.4 .4,15.5 .6-8.3 .4,13 .6-9 .4-4 .6-7.2 .4,7.2 .6,13 .4-13 .6,4 .4-7.7 .6,12 .4,0 .6,0 .4,0 .6-4.3 .4-4 .6,8.3 .4,0 .6,22.5 .4-12.5 .6-14.3 .4,4.3 .6-8.3 .4,8.3 .6-8.3 .4,4 .6,23.9 .4-9.6 .6-14.3 .4,4.3 .6-29.8 .4,45.6 .6-20.1 .4,13.4 .6-21.1 .4,3.7 .6,10.7 .4-6.7 .6-11.2 .4,3.5 .6,12 .4,11.2 .6-1.2 .4-14.3 .6,13.4 .4,.9 .6-10 .4-12 .6,22 .4-5.3 .6,0 .4,11.1 .6-24.1 .4,18.3 .6-25.5 .4,31.3 .6-17.2 .4-17.3 .6,10.4 .4,4 .6,4.3 .4,0 .6,22.5 .4-12.5 .6-14.3 .4-14.4 .6,10.4 .4,18.3 .6,0 .4,0 .6-22 .4,7.7 .6,0 .4,4.3 .6,4.7 .4,5.3 .6,5.8 .4,0 .6-11.1 .4-9 .6,4.3 .4,0 .6,10 .4-5.3 .6,11.1 .4-11.1 .6-4.7 .4,4.7 .6-26.4 .4,26.4 .6,5.3 .4,0 .6-14.3 .4,9 .6,11.1 .4,6.7 .6-30.8 .4,13 .6,5.3 .4,5.8 .6,0 .4-20.1 .6,9 .4-4.7 .6-8.3 .4,4 .6,10 .4-10 .6,4.3 .4,10 .6,0 .4-10 .6-4.3 .4,0 .6,9 .4,.3 .6-5 .4,4.7 .6,5.3 .4,0 .6,12.5 .4-6.7 .6,0 .4-27.8 .6,11 .4,23.5 .6-6.7 .4-31.3 .6,25.5 .4-5.3 .6,5.3 .4,0 .6,0 .4,5.1 .6-15.1 .4,10 .6,0 .4,5.8 .6-11.1 .4-4.7 .6,10 .4,12.5 .6-22.5 .4,10 .6,5.8 .4-2.9 .6-2.9 .4-5.3 .6-4.7 .4,0 .6-4.3 .4,34.5 .6-14.4 .4,0 .6,3.4 .4-3.4 .6-5.8 .4,0 .6,0 .4,0 .6,9.2 .4-3.4 .6,0 .4-5.8 .6-5.3 .4,11.1 .6-11.1 .4,5.3 .6-10 .4,10 .6,0 .4,0 .6-10 .4,20.1 .6-15.4 .4,5.3 .6,5.8 .4-5.8 .6-5.3 .4,5.6 .6-.3 .4-10 .6,10 .4-22 .6,3.8 .4,18.2 .6,20.2 .4-20.2 .6,10.1 .4-20.1 .6,10 .4-5.3 .6-9 .4,20.1 .6-20.1 .4,9 .6,17.8 .4-6.7 .6-11.1 .4,17.8 .6,7.7 .4-20.2 .6,5.8 .4,0 .6-5.8 .4-10 .6,15.8 .4,10.5 .6-21.6 .4,11.1 .6,6.7 .4,0 .6,0 .4-6.7 .6-5.8 .4,12.5 .6,7.7 .4-30.2 .6,17.4 .4-1.6 .6,6.7 .4-12.5 .6,0 .4,.3 .6-5.6 .4,11.1 .6-15.8 .4,10 .6,0 .4,10.1 .6-15.4 .4,5.3 .6,5.8 .4-5.8 .6,0 .4,12.5 .6,7.7 .4-30.2 .6,15.8 .4,6.7 .6,0 .4-6.7 .6-11.1 .4,2.7 .6-11.7 .4,20.1 .6,0 .4-5.8 .6,5.8 .4-15.8 .6,15.8 .4-15.8 .6,2.4 .4,13.4 .6-5.8 .4,12.5 .6,8.4 .4-18 .6-2.9 .4-14.3 .6,26.8 .4-12.5 .6,5.8 .4,14.4 .6,0 .4-20.2 .6,5.8 .4,0 .6,14.4 .4-2.7 .6-35.8 .4,0 .6,30.8 .4,3.8 .6-21.6 .4,11.1 .6,6.7 .4-22.5 .6,10 .4,16.3 .6,3.9 .4-7.7 .6-12.5 .4,12.5 .6-22.5 .4,22.5 .6-12.5 .4,5.8 .6-15.8 .4,4.7 .6,17.3 .4-6.2 .6,6.7 .4,7.7 .6-14.4 .4,23.4 .6-23.4 .4,6.7 .6-12.5 .4,12.5 .6-6.7 .4,14.4 .6-14.4 .4,0 .6,23.4 .4-29.2 .6-10 .4,22.5 .6,7.7 .4,9 .6-4.5 .4-43 .6,38.5 .4-20.2 .6,20.2 .4-14.4 .6,14.4 .4-14.4 .6-11.1 .4,45.7 .6-40.4 .4,20.2 .6-7.7 .4,0 .6,0 .4,0 .6-6.7 .4,9.4 .6-25.2 .4,15.8 .6,23.4 .4,0 .6-29.2 .4-10 .6,15.8 .4-5.8 .6,12.5 .4-17.8 .6,11.1 .4,6.7 .6-6.7 .4,23.4 .6-16.7 .4-12.5 .6,5.8 .4,6.7 .6,0 .4-12.5 .6,5.8 .4,0 .6,0 .4-5.8 .6,12.5 .4-2.4 .6-10.1 .4,29.2 .6-31.3 .4-7.9 .6,30.2 .4-14.4 .6,0 .4,3.4 .6,11 .4-25.5 .6,17.8 .4-12.5 .6,29.2 .4,0 .6-16.7 .4,7.7 .6,9 .4,0 .6-16.7 .4,7.7 .6-20.2 .4,12.5 .6,0 .4-6.7 .6,0 .4,0 .6,18.9 .4-18.9 .6-5.8 .4,20.2 .6-14.4 .4-5.8 .6,5.8 .4,6.7 .6,7.7 .4-7.7 .6,0 .4,7.7 .6,9 .4-16.7 .6,7.7 .4,20.2 .6-11.2 .4,11.2 .6-50.4 .4,30.2 .6,0 .4,17.2 .6-31.6 .4,6.7 .6,29.5 .4-12.8 .6-9 .4-25.5 .6,22.8 .4,2.7 .6,0 .4-14.4 .6,23.4 .4,0 .6-4.5 .4-12.2 .6,0 .4,7.7 .6-25.5 .4,25.5 .6-3.9 .4-3.8 .6-6.7 .4-11.1 .6,11.1 .4,23.4 .6-9 .4-17.3 .6-2.9 .4,29.2 .6-20 .4-3.4 .6,23.4 .4-23.4 .6-5.8 .4,12.5 .6,16.7 .4-9 .6-30.2 .4,50.4 .6-45.7 .4,60 .6-34.5 .4,0 .6-14.4 .4,7.2 .6-.5 .4,16.7 .6-16.7 .4-6.7 .6,0 .4-24.1 .6,30.8 .4,7.7 .6,0 .4,34.5 .6-42.2 .4-6.7 .6,14.4 .4,0 .6-7.7 .4,16.7 .6-34.5 .4,17.3 .6-6.2 .4-5.8 .6,29.2 .4-11.7 .6-11.7 .4,23.4 .6-9 .4,0 .6,0 .4-14.4 .6,11.7 .4-22.8 .6,2.7 .4,31.8 .6,0 .4,11.2 .6-27.9 .4-17.8 .6,45.7 .4,0 .6-27.9 .4,0 .6,7.7 .4,0 .6-14.4 .4,0 .6,17.3 .4-10.6 .6,0 .4,16.7 .6-9 .4,10.1 .6-17.8 .4,16.7 .6-23.4 .4,6.7 .6,0 .4-6.7 .6,23.4 .4-16.7 .6,0 .4,0 .6,27.9 .4-40.4 .6,6.2 .4,23 .6-21.8 .4-21.7 .6,43.5 .4-23.4 .6,6.7 .4,8.4 .6,33.8 .4-34.5 .6,0 .4,9 .6-29.2 .4,20.2 .6,0 .4-7.7 .6,0 .4,7.7 .6,0 .4-7.7 .6,16.7 .4-9 .6-7.7 .4,27.9 .6,0 .4-11.2 .6-16.7 .4-6.7 .6,34.6 .4-11.2 .6,0 .4-4.5 .6-12.2 .4,42.2 .6-25.5 .4-23.4 .6,27.8 .4-21.1 .6,22.3 .4-5.6 .6,11.2 .4-11.2 .6,0 .4-23.4 .6,14.4 .4,9 .6,12.8 .4-42 .6,14.6 .4-2.1 .6,16.7 .4,0 .6-16.7 .4,0 .6-12.5 .4,27.3 .6-21.5 .4,6.7 .6,3.8 .4,12.9 .6,11.2 .4-20.2 .6,9 .4-9 .6,20.2 .4-11.2 .6-9 .4,4.5 .6,4.5 .4-16.7 .6,16.7 .4-23.4 .6,23.4 .4,5.6 .6-14.6 .4-7.7 .6,16.7 .4,25.5 .6-34.5 .4,20.2 .6-34.6 .4,6.7 .6,16.7 .4,5.6 .6-14.6 .4,9 .6,0 .4,45.7 .6-34.5 .4,0 .6,0 .4-27.9 .6,0 .4,13.9 .6-13.9 .4-6.7 .6,11.7 .4-5 .6,7.7 .4-20.2 .6,20.2 .4-14.4 .6,14.4 .4,20.2 .6,14.3 .4-25.5 .6-9 .4-25.5 .6,25.5 .4-14.4 .6,0 .4,34.6 .6-34.6 .4,14.4 .6-14.4 .4,23.4 .6,11.2 .4-11.2 .6-9 .4-20.2 .6,29.2 .4,11.2 .6-27.9 .4,0 .6,16.7 .4,11.2 .6-27.9 .4,7.7 .6,9 .4-23.4 .6-5.8 .4,14.6 .6-8.8 .4,23.4 .6,11.2 .4-27.9 .6,29.5 .4-12.8 .6-9 .4,0 .6,9 .4,0 .6,18.3 .4-18.3 .6,11.2 .4-27.9 .6,27.9 .4-20.2 .6-7.7 .4,39.6 .6-31.9 .4,20.2 .6-20.2 .4,34.5 .6-14.3 .4-11.2 .6,0 .4,0 .6,0 .4-16.7 .6,27.9 .4,14.3 .6-7.2 .4-35 .6,7.7 .4,9 .6,0 .4-16.7 .6,27.9 .4,0 .6,11.7 .4-31.9 .6-14.4 .4,11.7 .6,11.7 .4,25.5 .6-34.5 .4,9 .6,0 .4-12.9 .6-3.8 .4,27.9 .6,0 .4,14.3 .6-12.7 .4-12.8 .6,31.7 .4-48.4 .6,16.7 .4-9 .6-7.7 .4-6.7 .6,69.1 .4-34.5 .6,7.1 .4-18.3 .6,0 .4-16.7 .6,24.9 .4,3 .6-11.2 .4-16.7 .6,27.9 .4,0 .6-11.2 .4,22.9 .6-11.7 .4-34.6 .6,23.4 .4,11.2 .6,0 .4,0 .6,0 .4,14.3 .6-34.5 .4,34.5 .6-25.5 .4-9 .6-20.2 .4,27.3 .6,37.5 .4-44.6 .6,9 .4,25.5 .6-7.2 .4-27.3 .6,20.2 .4-20.2 .6,9 .4-9 .6,9 .4,11.2 .6,0 .4-34.6 .6,34.6 .4-11.2 .6,25.5 .4-42.2 .6,42.2 .4,0 .6-25.5 .4,0 .6,11.2 .4,7.1 .6-27.3 .4,9 .6-4.5 .4-12.2 .6,16.7 .4,0 .6,5.6 .4-5.6 .6,11.2 .4-20.2 .6,9 .4,18.3 .6-27.3 .4,9 .6,0 .4,0 .6-9 .4-3.9 .6-3.8 .4,16.7 .6,0 .4,0 .6,11.2 .4-27.9 .6,42.2 .4-25.5 .6-2.8 .4-13.9 .6,0 .4,7.7 .6,0 .4,13.4 .6-21.1 .4,7.7 .6,34.5 .4-34.5 .6,54.7 .4-54.7 .6,54.7 .4-45.7 .6,0 .4-16.7 .6,8.4 .4,8.3 .6,0 .4,5.6 .6-14.6 .4,9 .6,22.9 .4,2.6 .6-42.2 .4,27.9 .6,7.1 .4-27.3 .6,20.2 .4-11.2 .6-11.7 .4-11.7 .6,34.6 .4,14.3 .6-24.4 .4-24.5 .6,23.4 .4,11.2 .6,1.6 .4-12.8 .6,0 .4,25.5 .6-41.7 .4-7.2 .6,23.4 .4-9 .6,9 .4,4.4 .6-21.1 .4,42.2 .6-14.3 .4,0 .6-11.2 .4-29.2 .6,20.2 .4,31.9 .6-22.9 .4,35.6 .6-10.1 .4-25.5 .6-16.7 .4,13.9 .6,14 .4-20.2 .6,34.5 .4-14.3 .6-11.2 .4,0 .6,11.2 .4,1.6 .6-12.8 .4-16.7 .6,0 .4,42.2 .6-34.5 .4,0 .6,9 .4,11.2 .6-11.2 .4-9 .6,17.2 .4-17.2 .6,9 .4,0 .6,0 .4,11.2 .6-27.9 .4,27.9 .6,0 .4-11.2 .6,0 .4-16.7 .6,16.7 .4,11.2 .6,14.3 .4-25.5 .6,11.2 0,69-.6-34.5-.4,34.5-.6-34.5-.4,34.5-.6-54.7-.4,10.1-.6,10.1-.4,34.5-.6,0-.4-34.5-.6-20.2-.4,37.4-.6-17.2-.4,0-.6,7.1-.4-7.1-.6,0-.4,7.1-.6-7.1-.4,0-.6,0-.4,34.5-.6,0-.4-34.5-.6,0-.4-20.2-.6,54.7-.4-34.5-.6,0-.4-20.2-.6,54.7-.4-34.5-.6,34.5-.4-34.5-.6,7.1-.4-7.1-.6,0-.4,0-.6,34.5-.4-17.3-.6,17.3-.4-34.5-.6,0-.4-5.6-.6-21.8-.4,27.4-.6,0-.4,0-.6,34.5-.4-34.5-.6-10.1-.4,0-.6,10.1-.4,0-.6,0-.4,34.5-.6,0-.4-34.5-.6,34.5-.4,0-.6-34.5-.4,34.5-.6-34.5-.4,17.2-.6-17.2-.4-20.2-.6,20.2-.4,0-.6,0-.4,34.5-.6-34.5-.4,17.2-.6,17.3-.4,0-.6-34.5-.4,34.5-.6,0-.4,0-.6-34.5-.4,0-.6,0-.4,34.5-.6-34.5-.4,0-.6,7.1-.4-7.1-.6,0-.4,34.5-.6-27.4-.4,27.4-.6-34.5-.4,34.5-.6-34.5-.4,0-.6,0-.4,34.5-.6-34.5-.4,0-.6,34.5-.4-27.4-.6-27.3-.4,20.2-.6,34.5-.4,0-.6-34.5-.4,0-.6,34.5-.4-34.5-.6,34.5-.4-54.7-.6,20.2-.4,34.5-.6-34.5-.4-34.5-.6,14.3-.4,27.3-.6,27.4-.4-54.7-.6,27.3-.4,27.4-.6-34.5-.4-20.2-.6,20.2-.4,0-.6-20.2-.4,20.2-.6,34.5-.4-34.5-.6,34.5-.4,0-.6-34.5-.4,0-.6,0-.4,34.5-.6-34.5-.4-10.1-.6,10.1-.4,34.5-.6-44.6-.4,10.1-.6,0-.4,0-.6,34.5-.4-27.4-.6,27.4-.4-34.5-.6,0-.4,0-.6,34.5-.4,0-.6-54.7-.4,54.7-.6-27.4-.4-7.1-.6,34.5-.4-27.4-.6,27.4-.4-34.5-.6,0-.4-20.2-.6,54.7-.4-27.4-.6,27.4-.4-34.5-.6,34.5-.4,0-.6-34.5-.4,0-.6,0-.4-20.2-.6,20.2-.4,0-.6,34.5-.4-34.5-.6,7.1-.4-7.1-.6,0-.4,34.5-.6-34.5-.4,34.5-.6,0-.4-27.4-.6-7.1-.4,34.5-.6-34.5-.4,0-.6,0-.4,34.5-.6-54.7-.4,20.2-.6,17.2-.4-17.2-.6,0-.4,34.5-.6-34.5-.4,34.5-.6,0-.4-34.5-.6,0-.4,0-.6-20.2-.4,20.2-.6,34.5-.4-34.5-.6,34.5-.4,0-.6-34.5-.4,0-.6,0-.4,0-.6-20.2-.4,54.7-.6,0-.4-34.5-.6-20.2-.4,20.2-.6,0-.4,34.5-.6,0-.4-34.5-.6-10.1-.4,10.1-.6,0-.4,34.5-.6,0-.4-34.5-.6,34.5-.4-40.1-.6,5.6-.4,34.5-.6-34.5-.4,0-.6,0-.4,34.5-.6-40.1-.4,5.6-.6,34.5-.4-34.5-.6,0-.4-20.2-.6,20.2-.4,34.5-.6-54.7-.4,6.2-.6,14-.4,0-.6-17.3-.4,51.8-.6-34.5-.4-20.2-.6,20.2-.4-20.2-.6,20.2-.4,0-.6,0-.4,0-.6,0-.4,0-.6,0-.4,0-.6,34.5-.4-34.5-.6,34.5-.4,0-.6-34.5-.4,0-.6,0-.4,0-.6,0-.4,0-.6,34.5-.4,0-.6,0-.4-34.5-.6,0-.4-17.3-.6,17.3-.4,7.1-.6-7.1-.4,0-.6-17.3-.4,24.4-.6,27.4-.4-51.8-.6,17.3-.4,0-.6-20.2-.4,27.3-.6-7.1-.4,0-.6-32.9-.4,22.8-.6,44.6-.4,0-.6,0-.4,0-.6-44.6-.4,10.1-.6,0-.4-20.2-.6,14.6-.4-14.6-.6,20.2-.4,34.5-.6,0-.4,0-.6-34.5-.4,0-.6,0-.4,34.5-.6-40.1-.4,40.1-.6-27.4-.4,27.4-.6,0-.4-34.5-.6,0-.4,34.5-.6-34.5-.4,0-.6-20.2-.4,20.2-.6-17.3-.4,51.8-.6,0-.4,0-.6,0-.4-34.5-.6,0-.4,0-.6,0-.4,0-.6,0-.4,0-.6,7.1-.4,27.4-.6-34.5-.4,0-.6-10.1-.4,10.1-.6,0-.4,0-.6,0-.4,34.5-.6-54.7-.4,20.2-.6,0-.4,0-.6-10.1-.4,10.1-.6-20.2-.4,20.2-.6,0-.4,0-.6,0-.4,34.5-.6-34.5-.4-20.2-.6,20.2-.4,0-.6,34.5-.4-44.6-.6,44.6-.4-34.5-.6-20.2-.4,0-.6,0-.4,20.2-.6,0-.4,0-.6,0-.4,34.5-.6,0-.4-34.5-.6,0-.4-20.2-.6,20.2-.4,7.1-.6-7.1-.4,0-.6,0-.4,0-.6-20.2-.4,54.7-.6-34.5-.4,0-.6-20.2-.4,0-.6-14.3-.4,34.5-.6,34.5-.4,0-.6-40.1-.4,5.6-.6,7.1-.4-7.1-.6,34.5-.4-51.8-.6,17.3-.4,0-.6,0-.4,17.2-.6-17.2-.4,0-.6,17.2-.4,17.3-.6-34.5-.4,0-.6,0-.4,0-.6,0-.4,0-.6-20.2-.4,0-.6-14.3-.4,0-.6,14.3-.4,20.2-.6,7.1-.4,27.4-.6-54.7-.4,20.2-.6,0-.4-20.2-.6,0-.4,0-.6,54.7-.4-27.4-.6-27.3-.4,20.2-.6,0-.4,17.2-.6,17.3-.4-51.8-.6,17.3-.4,0-.6,34.5-.4-54.7-.6,54.7-.4-17.3-.6-37.4-.4,20.2-.6,0-.4-20.2-.6,0-.4,20.2-.6,0-.4-27.4-.6,44.6-.4-37.4-.6,20.2-.4,34.5-.6,0-.4-34.5-.6,0-.4,34.5-.6-34.5-.4-20.2-.6-14.3-.4,34.5-.6,0-.4,0-.6,34.5-.4,0-.6-34.5-.4,0-.6,0-.4,7.1-.6,27.4-.4-34.5-.6-20.2-.4,27.3-.6,27.4-.4-34.5-.6-17.3-.4-2.9-.6,54.7-.4-54.7-.6,20.2-.4,34.5-.6-40.1-.4,40.1-.6,0-.4-44.6-.6,17.2-.4-7.1-.6,0-.4-20.2-.6,20.2-.4-20.2-.6,54.7-.4-54.7-.6,0-.4,10.1-.6,10.1-.4-20.2-.6-11-.4,31.2-.6-34.5-.4,14.3-.6,0-.4-14.3-.6,34.5-.4,0-.6,0-.4,0-.6,0-.4-20.2-.6,0-.4,0-.6,0-.4,20.2-.6-20.2-.4-14.3-.6,14.3-.4,20.2-.6,0-.4,0-.6,0-.4-20.2-.6,20.2-.4,0-.6-34.5-.4,0-.6,0-.4-5.6-.6,40.1-.4-20.2-.6-14.3-.4,0-.6,69-.4-54.7-.6,20.2-.4-22.8-.6-4.6-.4,27.4-.6,34.5-.4-34.5-.6,34.5-.4-54.7-.6-14.3-.4,0-.6,11.7-.4,22.8-.6-20.2-.4,54.7-.6-34.5-.4,0-.6,0-.4-20.2-.6,54.7-.4-34.5-.6,0-.4-27.4-.6,27.4-.4,0-.6,0-.4,0-.6-20.2-.4,20.2-.6,0-.4-34.5-.6,0-.4,34.5-.6,0-.4-27.4-.6-7.1-.4,69-.6-17.3-.4-17.2-.6-45.7-.4,45.7-.6,0-.4,34.5-.6-54.7-.4,2.9-.6,17.3-.4-34.5-.6,34.5-.4,0-.6,0-.4,34.5-.6-54.7-.4,0-.6-25.5-.4,80.2-.6-69-.4,0-.6,34.5-.4-20.2-.6-7.2-.4,7.2-.6,0-.4,0-.6,20.2-.4-40.1-.6,40.1-.4-10.1-.6,44.6-.4-69-.6,14.3-.4,20.2-.6,34.5-.4-67.4-.6,67.4-.4-34.5-.6-17.3-.4,17.3-.6-34.5-.4,14.3-.6,20.2-.4,7.1-.6-7.1-.4-20.2-.6,54.7-.4-34.5-.6,0-.4,0-.6-20.2-.4,0-.6-31.6-.4,31.6-.6,0-.4,20.2-.6-20.2-.4,0-.6,20.2-.4-20.2-.6,0-.4,0-.6-24.4-.4,44.6-.6-20.2-.4,0-.6,20.2-.4,0-.6-20.2-.4,20.2-.6,0-.4,0-.6-20.2-.4,0-.6,0-.4,20.2-.6,0-.4,0-.6-31.2-.4-3.3-.6,0-.4,34.5-.6-34.5-.4,14.3-.6,0-.4-14.3-.6,34.5-.4-20.2-.6-17.3-.4,37.5-.6-34.5-.4,14.3-.6,20.2-.4-20.2-.6,0-.4,20.2-.6-20.2-.4,0-.6-17.3-.4,17.3-.6,20.2-.4-22.8-.6,22.8-.4-10.1-.6,10.1-.4-20.2-.6-14.3-.4,14.3-.6-25.5-.4,45.7-.6-20.2-.4-11-.6,11-.4,20.2-.6,0-.4,34.5-.6,0-.4-69-.6,0-.4,34.5-.6-20.2-.4,0-.6-14.3-.4-11.2-.6,25.5-.4,20.2-.6,34.5-.4-80.2-.6,14.5-.4,31.2-.6,0-.4,0-.6-34.5-.4-20.2-.6,20.2-.4,34.5-.6-20.2-.4,0-.6-14.3-.4-11.2-.6-9-.4,9-.6,25.5-.4,10.1-.6,44.6-.4-69-.6,0-.4,34.5-.6,0-.4-20.2-.6,0-.4,20.2-.6-20.2-.4-21.1-.6,6.8-.4,14.3-.6-12.7-.4,32.9-.6,0-.4-34.5-.6-20.2-.4,0-.6,89.2-.4-80.2-.6,25.5-.4,20.2-.6-34.5-.4-11.2-.6,11.2-.4-11.2-.6,11.2-.4,0-.6-11.2-.4,45.7-.6-22.8-.4,22.8-.6-40.1-.4,19.9-.6,20.2-.4,0-.6-22.8-.4,2.6-.6-34.5-.4,17.2-.6,31.9-.4,40.1-.6-51.8-.4-28.4-.6-9-.4,54.7-.6-34.5-.4-11.2-.6-9-.4,54.7-.6-45.7-.4,11.2-.6-10.1-.4,10.1-.6-10.1-.4,44.6-.6-45.7-.4-16.7-.6,27.9-.4,69-.6-48.5-.4-20.5-.6-11.2-.4,0-.6,45.7-.4-31.2-.6,11-.4,0-.6-25.5-.4,8.2-.6,37.5-.4-45.7-.6-9-.4,34.5-.6-12.7-.4-8.4-.6,21.1-.4,20.2-.6-5.6-.4-40.1-.6,0-.4,0-.6,45.7-.4-22.8-.6-22.9-.4,45.7-.6-22.8-.4-27.4-.6,30-.4-34.5-.6,20.2-.4-20.2-.6,20.2-.4,11.7-.6,22.8-.4-20.2-.6-34.5-.4-7.2-.6,27.4-.4,41.6-.6,27.4-.4-80.2-.6-9-.4-7.7-.6,7.7-.4,20.2-.6,0-.4-27.9-.6,27.9-.4,14.3-.6,20.2-.4-34.5-.6-22.9-.4,11.7-.6,11.2-.4-20.2-.6,20.2-.4,0-.6-27.9-.4,5-.6,22.9-.4,0-.6-11.2-.4-17.2-.6,17.2-.4,25.5-.6-7.2-.4,27.4-.6-54.7-.4,20.2-.6,14.3-.4-28.3-.6,48.5-.4-54.7-.6,54.7-.4-45.7-.6,0-.4,25.5-.6,0-.4-14.3-.6-11.2-.4,45.7-.6-17.3-.4-37.4-.6-7.7-.4,0-.6,0-.4,42.2-.6-25.5-.4,0-.6,0-.4,0-.6-16.7-.4,0-.6,27.9-.4-11.2-.6-23.4-.4-2.2-.6,8.9-.4,16.7-.6-23.4-.4,6.7-.6,0-.4-9.6-.6,37.5-.4-11.2-.6,0-.4,11.2-.6-5.6-.4-5.6-.6,11.2-.4-20.2-.6,0-.4,9-.6-16.7-.4,0-.6,27.9-.4-20.2-.6,20.2-.4-20.2-.6,0-.4,0-.6,54.7-.4-34.5-.6-17.3-.4-10.6-.6,16.7-.4-9-.6,0-.4,9-.6-16.7-.4,0-.6,0-.4,7.7-.6,0-.4-19-.6,28-.4-9-.6,20.2-.4,0-.6-33-.4,12.8-.6,20.2-.4-28.4-.6,8.2-.4-14.4-.6,14.4-.4-14.4-.6,14.4-.4-3.9-.6,3.9-.4-14.4-.6,6.7-.4,0-.6-6.7-.4,23.4-.6,11.2-.4,0-.6-40.4-.4,0-.6,12.5-.4,27.9-.6-27.9-.4,0-.6,27.9-.4-11.2-.6-9-.4,9-.6-9-.4-7.7-.6,16.7-.4-9-.6-10.1-.4,19.1-.6,0-.4-29.2-.6,0-.4,5.8-.6,6.7-.4,7.7-.6,0-.4-20.2-.6,20.2-.4,0-.6-14.4-.4,23.4-.6,0-.4-16.7-.6,27.9-.4-34.6-.6-11.1-.4,25.5-.6-25.5-.4,0-.6,5.3-.4-10-.6,15.8-.4,23.4-.6-28.9-.4,28.9-.6-16.7-.4-12.5-.6,20.2-.4-10.1-.6,10.1-.4,9-.6,0-.4-34.5-.6,0-.4,3.2-.6,7.9-.4,14.4-.6-14.4-.4-11.1-.6,17.8-.4-17.8-.6,25.5-.4-14.4-.6,0-.4-5.8-.6,5.8-.4-5.5-.6,12.2-.4-12.5-.6,2.9-.4,51.8-.6-38.4-.4,12.9-.6-16.7-.4,0-.6,16.7-.4-29.2-.6,5.8-.4,6.7-.6-12.5-.4-7.6-.6-2.4-.4,15.8-.6-5.8-.4,9.2-.6,20-.4-34.5-.6,5.3-.4-10-.6-8.2-.4,12.9-.6-8.9-.4-4.1-.6,24.1-.4-11.1-.6,4.4-.4,21.1-.6-20.2-.4-10-.6-12-.4,17.7-.6,11.7-.4,21.8-.6-34.5-.4-9-.6,20.1-.4-15.8-.6,4.7-.4-13-.6,4-.4,9-.6,17.8-.4-17.8-.6,0-.4-9-.6,14.3-.4,12.5-.6-17.8-.4,0-.6,0-.4-13-.6,13-.4-4.7-.6,15.8-.4,6.7-.6-22.5-.4-4.2-.6,4.2-.4,0-.6-4.3-.4-4-.6,18.3-.4-10-.6-8.3-.4,0-.6,18.3-.4-5.3-.6-4.5-.4-15.7-.6,20.2-.4,17.8-.6-16.8-.4,10.1-.6-20.1-.4-14.4-.6,10.4-.4,8.3-.6-4.3-.4-4-.6-7.2-.4,31.3-.6-16.8-.4,23.5-.6-43-.4,16.2-.6-4-.4-13.4-.6,31.7-.4-33.1-.6,4-.4,10.8-.6,0-.4,0-.6,0-.4-16.2-.6,20.2-.4-4-.6-7.2-.4,11.2-.6-16.2-.4,1.8-.6,6.7-.4-3.5-.6,7.2-.4-10.4-.6-3-.4,6.2-.6-9-.4,20.2-.6-4-.4,0-.6-15.3-.4-8.6-.6,12-.4,8.2-.6-6.7-.4-3-.6,0-.4,9.7-.6-9.7-.4,6.2-.6-9-.4,0-.6,2.8-.4-8.1-.6,8.1-.4-5.5-.6-2.6-.4-1.1-.6,3.7-.4,0-.6-2.6-.4,8.1-.6-8.1-.4,5.3-.6-16.4-.4,16.4-.6,9-.4-23.4-.6,11.7-.4,11.7-.6,0-.4-16.7-.6,5-.4-11.7-.6,2.2-.4,9.5-.6,11.7-.4,3.5-.6-22.1-.4,6.9-.6,0-.4-5-.6-4.5-.4-4.2-.6,8.7-.4-2.3-.6-2.2-.4,4.5-.6,5-.4-11.7-.6-3.9-.4-3.7-.6,5.6-.4,22.2-.6-22.2-.4,6.4-.6,4.7-.4-11.1-.6-5.6-.4,7.6-.6-2-.4,.7-.6,8-.4-14.2-.6,19.2-.4-22.8-.6,13.3-.4-18-.6,4.7-.4,9.1-.6-10.7-.4-4.6-.6,21.7-.4-10.2-.6,3.8-.4-13.7-.6,17.9-.4-14.6-.6-3.4-.4,1.5-.6,12.3-.4-9.1-.6-13-.4,0-.6,24.1-.4-9.4-.6-7.9-.4,1.5-.6-9.6-.4,3.9-.6,0-.4,8.8-.6,0-.4-10.1-.6,1.3-.4,5.7-.6-9.6-.4-4.7-.6,5.8-.4,7-.6-4.2-.4-5.1-.6,6.5-.4-16.4-.6,13.7-.4-1.3-.6,6.8-.4-7-.6-7-.4,0-.6,5.9-.4-8-.6,3.3-.4,0-.6-10.2-.4,7.9-.6,1.1-.4-5.2-.6-4.8-.4,0-.6,5.8-.4-6.6-.6,2.7-.4-2.7-.6-1.8-.4-4.1-.6,4.1-.4-7.9-.6,1.5-.4,5.6-.6-9.4-.4,.8-.6-1.4-.4,0-.6,7.5-.4-5.3-.6-4.9-.4-1.9-.6,7.5-.4-14-.6,2.3-.4,.6-.6-1.8-.4-3.2-.6-2.3-.4-2-.6,.2-.4,3.5-.6-5.9-.4-.9-.6-.9-.4-.9-.6-7.4-.4-.3-.6,1.5-.4-.8-.6-1.1-.4-4-.6,4.7-.4-9.9-.6-2.7-.4,.5-.6-.3-.4-4.5-.6,2-.4-3.9-.6,1.1-.4-5.8-.6-2.5-.4,1.8-.6-5.3-.4-1-.6-2.2-.4-1.6-.6,.2-.4-5.8-.6-3.1-.4,.3-.6-.5-.4-2-.6-5.6-.4-.2-.6-2.3-.4-2.4-.6-4.9-.4-.7-.6-1.7-.4-2.1-.6-2-.4-3.3-.6-.7-.4-3.1-.6-4.3-.4-.4-.6-2.3-.4-5-.6-.6-.4-1.8-.6-2.1-.4-5.1-.6-2.5-.4-1.7-.6-1.6-.4-1.8-.6-4.5-.4-.5-.6-3.6-.4-2.9-.6-1.8-.4-3.3-.6-.9-.4-2.6-.6-2.7-.4-1.2-.6-2.2-.4-1-.6-3-.4-1.6-.6-2.8-.4-.8-.6-2-.4-1.8-.6-1.8-.4-4-.6,0-.4-1.5-.6-1.7-.4-1-.6-1.7-.4-1.5-.6-3.1-.4-.2-.6-.4-.4-2.4-.6-2.2-.4-1.1-.6-.8-.4-2.5-.6-1.6-.4-1-.6-.3-.4-1.9-.6-1.4-.4-1-.6-1.1-.4-1.1-.6-.5z" fill="#a6cee3" stroke="#a6cee3" stroke-width="0.55" stroke-linejoin="bevel"/>
<path d="M1057.6,838.8 1058.6,840.4 1059.7,842.1 1060.7,843.8 1061.8,845.5 1062.8,847.3 1063.8,849.1 1064.9,850.9 1065.9,852.7 1067,854.6 1068,856.5 1069.1,858.4 1070.1,860.3 1071.1,862.3 1072.2,864.3 1073.2,866.4 1074.3,868.5 1075.3,870.7 1076.3,872.9 1077.4,875.2 1078.4,877.4 1079.5,879.7 1080.5,882 1081.6,884.3 1082.6,886.6 1083.6,888.8 1084.7,891 1085.7,893.2 1086.8,895.3 1087.8,897.4 1088.8,899.5 1089.9,901.5 1090.9,903.5 1092,905.5 1093,907.5 1094.1,909.5 1095.1,911.4 1096.1,913.4 1097.2,915.3 1098.2,917.2 1099.3,919 1100.3,920.9 1101.3,922.7 1102.4,924.5 1103.4,926.3 1104.5,928.1 1105.5,929.8 1106.6,931.5 1107.6,933.2 1108.6,934.9 1109.7,936.6 1110.7,938.2 1111.8,939.8 1112.8,941.4 1113.8,943 1114.9,944.5 1115.9,946 1117,947.5 1118,949 1119.1,950.4" fill="none" stroke="#72aad1" stroke-width="1.35"/>
<path d="M1057.8,839.1l.6-.2 .4,1.1 .6,.9 .4,.7 .6,.8 .4-.2 .6,1.5 .4,1.2 .6,.4 .4,1.3 .6,.3 .4,1.4 .6,.4 .4,1.7 .6,.2 .4,1 .6,.7 .4,1.1 .6-.1 .4,2 .6,1.1 .4-.1 .6,1.8 .4,1.4 .6,.4 .4,1.3 .6,.4 .4,1.9 .6,.1 .4-1.3 .6,4.1 .4-.5 .6,1.5 .4,.9 .6,.8 .4,1.8 .6,1.2 .4,.3 .6,.9 .4,1.8 .6-1 .4,2.9 .6,.4 .4,1.9 .6,.9 .4,1 .6,1.4 .4,1.1 .6,1 .4,.6 .6,1 .4,2.5 .6,.5 .4,1 .6,.6 .4,1.4 .6,.5 .4,1.8 .6-1.1 .4,2.8 .6,1.1 .4-.2 .6,1.6 .4,.8 .6,1.6 .4,.6 .6,1.3 .4-.3 .6,2.1 .4,.9 .6,2.3 .4-1 .6,.6 .4,1.2 .6-.2 .4,1.8 .6,.5 .4,2 .6,.1 .4,2.2 .6,1.1 .4-.3 .6,1.3 .4,1.3 .6,1.5 .4,.4 .6,.2 .4,1.5 .6,1.3 .4-.4 .6,1.7 .4,.6 .6-.1 .4,1.3 .6,2 .4-1.2 .6,1.4 .4-.5 .6,2.4 .4,3.1 .6-3.1 .4,2.8 .6,3.1 .4-.7 .6-.3 .4-.2 .6,1.1 .4,2.7 .6,1.3 .4,.3 .6-1.3 .4,2.8 .6-.8 .4,2.1 .6-2.4 .4,2.4 .6-.9 .4,1.9 .6-1 .4,3.4 .6-.2 .4,1.8 .6-.5 .4,1.9 .6-1.7 .4,3.7 .6-2.8 .4-1 .6,4.6 .4-.4 .6-1 .4,2 .6,1 .4,.5 .6,1.9 .4,2.2 .6-2.1 .4-.5 .6-.7 .4,4.5 .6,.6 .4-1.7 .6,.9 .4,.6 .6,2 .4,2.5 .6-2.1 .4,.3 .6,1.1 .4-.9 .6-.4 .4,.3 .6,.2 .4,1.7 .6,2.9 .4-2.5 .6,1.8 .4,1.1 .6-.5 .4,2.5 .6,2.3 .4-3.9 .6,.3 .4,2.6 .6,2.6 .4-4.7 .6,2.6 .4,1.3 .6,.5 .4-2.7 .6,2.4 .4,2.4 .6,0 .4,1.7 .6,.1 .4-3.8 .6,3.8 .4-2.1 .6,.6 .4,.1 .6,2.4 .4-.8 .6-.9 .4,3 .6,2.1 .4-1.6 .6-1.1 .4,.3 .6,1 .4,.8 .6,3.2 .4-1.4 .6-1.6 .4,1.4 .6,1.3 .4,4.3 .6-6.5 .4,3.5 .6,.3 .4-1.3 .6,.6 .4-.2 .6,2.1 .4,.6 .6-1.8 .4,2.3 .6-3.2 .4,4.6 .6-2.7 .4,.4 .6,4.2 .4,1.3 .6-1.7 .4-.6 .6,1.5 .4,1 .6,0 .4-2.5 .6,.6 .4,.8 .6-2.3 .4,5.1 .6-4.2 .4,3.6 .6-.2 .4-1.1 .6,1.5 .4,.7 .6-2.4 .4-1.3 .6,5.8 .4,.4 .6-1.8 .4-.5 .6,0 .4,1.1 .6,2.2 .4-.7 .6,3.1 .4-5.7 .6,2.3 .4,0 .6,2.7 .4-.7 .6,.9 .4-3.1 .6,.4 .4-2.3 .6,2.8 .4,5.4 .6-1.9 .4-1.9 .6-5.9 .4,7.3 .6-6 .4,5.2 .6-2.4 .4,4.5 .6,2.3 .4-2 .6-1.8 .4,2.8 .6-5.1 .4,7.3 .6-1.1 .4-1.1 .6,1.1 .4-6.4 .6,4 .4,4.7 .6-4.6 .4-1.1 .6,0 .4,5.7 .6,2 .4-3.2 .6,2.6 .4-1.1 .6,1.9 .4-2.5 .6,1.7 .4,.6 .6-1.9 .4-3.5 .6,4.2 .4-.5 .6,1.6 .4-2.5 .6-3.3 .4,7.4 .6-4.1 .4,4.5 .6-1 .4-2.9 .6,1.4 .4-2.3 .6,2.6 .4,4.1 .6,0 .4-5.3 .6,3 .4,3.6 .6-9.7 .4,3.6 .6,.4 .4,3.4 .6,.6 .4,1.7 .6,.3 .4-.7 .6,1.4 .4-1 .6,.3 .4-.3 .6-4.8 .4,7.5 .6-6.6 .4,7.3 .6-5.1 .4,2.3 .6-2.9 .4,8.1 .6-2 .4-2.8 .6-4.2 .4,4.2 .6-.9 .4-6.7 .6,8.3 .4-1.4 .6,0 .4,4.2 .6-5.2 .4,4.1 .6,2.4 .4-2 .6,2.5 .4-5.7 .6,4.6 .4-2.1 .6,2.5 .4,1.5 .6,2.3 .4-12.6 .6,7.3 .4,1.5 .6-2.9 .4,1.8 .6,1.9 .4-1.9 .6,3.8 .4-4.5 .6-1.5 .4,2.5 .6,5.5 .4-4 .6,.4 .4-4.4 .6,6 .4-1.6 .6-2.6 .4,3.8 .6-1.9 .4,4.5 .6-5.7 .4,6.3 .6-1.2 .4-1.6 .6,2.4 .4-1.7 .6,.4 .4,.9 .6-6.5 .4,4.5 .6-6.6 .4,7.3 .6,.9 .4,3.7 .6,.5 .4-2.6 .6-5.9 .4,7.4 .6-4.7 .4,5.3 .6,.5 .4-6.6 .6,3.2 .4-1.7 .6,9.4 .4-4.8 .6,.9 .4-4.6 .6,3.2 .4-.3 .6,.8 .4-1.3 .6,.9 .4,3.6 .6-.9 .4,0 .6-7.2 .4,7.6 .6-.9 .4-7.1 .6,8.5 .4-2.3 .6,5.4 .4-4.9 .6-2.7 .4,2.3 .6,5.1 .4,.5 .6,2 .4-4 .6,3 .4-1.5 .6,7.4 .4-5.9 .6,.9 .4-3.9 .6-2.8 .4,1.4 .6,2.9 .4-4.3 .6-5.1 .4,9.6 .6,1.3 .4-1 .6,2.6 .4-6.9 .6,6.3 .4-4.5 .6,4.5 .4,.5 .6-1 .4-4 .6,4 .4-5.4 .6,0 .4,5.4 .6,3.8 .4-7.8 .6,5.3 .4-2.8 .6,8.1 .4-7.1 .6,.2 .4,1.3 .6-3 .4,4.6 .6,2.2 .4,1.5 .6-4.2 .4,6.9 .6-9.5 .4,5.3 .6,5.4 .4-9.7 .6,2.1 .4-5.6 .6,7.6 .4-.9 .6-5.2 .4,3 .6,0 .4,2.8 .6,2.6 .4,3 .6-8.9 .4,1.6 .6,1.1 .4,.6 .6,2.8 .4,4.1 .6-4.6 .4-.6 .6-.6 .4,2.9 .6,0 .4-2.4 .6-4.4 .4,8.1 .6-.6 .4-8.5 .6,8.5 .4-1.9 .6-1.7 .4-4.4 .6,6.1 .4,0 .6,.6 .4,1.9 .6-.6 .4-1.3 .6,4.4 .4-1.9 .6-5.9 .4,9 .6-10.1 .4,3.4 .6,.5 .4,5 .6-2.5 .4,1.9 .6-1.9 .4,3.9 .6-6.4 .4,.6 .6,5.1 .4,1.3 .6,3.6 .4-9.4 .6,9.1 .4-2.6 .6-2 .4,2.7 .6,2.9 .4-4.3 .6,2.8 .4-7.9 .6,.6 .4,1.9 .6-1.3 .4,1.9 .6,2.1 .4,2 .6,.9 .4-4.3 .6,.7 .4,2 .6,3.6 .4,0 .6-8.3 .4,7.6 .6-1.5 .4-2.8 .6,2.1 .4-2.1 .6,5 .4-1.4 .6,1.4 .4-2.2 .6,6.1 .4-7.5 .6,.4 .4,4.8 .6-1.6 .4,5.6 .6-4 .4-3.8 .6,3 .4-4.4 .6,6.8 .4,5 .6-6.6 .4,3.2 .6-3.2 .4,0 .6,12.4 .4-14 .6,5.5 .4-.7 .6-4.8 .4,3.2 .6-11.5 .4,4.6 .6,4.7 .4-4.6 .6,4.4 .4,1.2 .6-2 .4,.8 .6,2.8 .4,.4 .6-6.9 .4,8.5 .6-15.1 .4,15.1 .6-4.8 .4,3.2 .6,7.9 .4-8.7 .6,1.6 .4,1.7 .6,.8 .4-1.7 .6,.9 .4,1.7 .6-2.6 .4,3.5 .6,0 .4-.9 .6-4.2 .4,0 .6,3.3 .4,2.7 .6,1 .4-4.5 .6-.9 .4,2.6 .6,1.8 .4-6 .6,7.5 .4-2.4 .6,0 .4-6.7 .6,9.5 .4,0 .6-7.1 .4,1.7 .6,1.7 .4,3.7 .6,4.2 .4-4.5 .6-3.4 .4-2.6 .6-1.6 .4-1.6 .6,9.5 .4-3.7 .6,1.8 .4-4.4 .6,1.7 .4,.9 .6,6.7 .4,0 .6-10.9 .4,8.9 .6-1 .4-7.1 .6,.8 .4,6.3 .6,2 .4-3.9 .6-1.8 .4,7.2 .6,.5 .4-2 .6,9.9 .4-2.4 .6-9.5 .4-3.7 .6,3.7 .4,2 .6,3.6 .4-3.6 .6-4.8 .4,6.8 .6-4 .4,4 .6-4.9 .4,3.9 .6-1 .4-2.9 .6,1.9 .4-3.8 .6,4.5 .4,2.3 .6-4.9 .4,8.7 .6-4.8 .4,4.4 .6-14.5 .4,12.2 .6,2.1 .4-6.2 .6,2 .4,0 .6-3 .4,6.1 .6-2.1 .4,2.1 .6,4.6 .4-2.4 .6,1.2 .4-2.3 .6,4.7 .4-4.7 .6-2.1 .4,1 .6,7 .4-5.9 .6-1.1 .4,4.1 .6,3.6 .4-4.3 .6,3.6 .4,0 .6,1.2 .4-6 .6-1.1 .4,2.7 .6-9.9 .4,9.5 .6-4.4 .4,4.6 .6-.3 .4-10.3 .6,12.8 .4,0 .6-4.7 .4,2.3 .6,4.8 .4-2.4 .6,6.4 .4-7.6 .6,1.8 .4,.6 .6-3.6 .4,10.2 .6-6.6 .4-.5 .6-3.1 .4-2.3 .6-5.2 .4,5.2 .6,5.9 .4-4.8 .6,4.8 .4-4.8 .6-1.1 .4,14 .6-11.7 .4,0 .6,2.4 .4-3.6 .6,3.6 .4,3.7 .6,0 .4,8.6 .6-9.9 .4,4.2 .6-2.1 .4-10.3 .6,9.6 .4-6.2 .6,7.5 .4-2.7 .6,0 .4-9.2 .6,1 .4,14.2 .6-2 .4-6.4 .6,6.4 .4-4 .6,5 .4-5 .6,2.7 .4,0 .6,2.9 .4-6.8 .6,9.6 .4-3.9 .6-6.9 .4,3.7 .6,1.4 .4-3.9 .6,3.9 .4,4.4 .6-10.7 .4,8.6 .6,5.1 .4-3.2 .6-1.5 .4-5.4 .6,11.5 .4-7.5 .6,5.9 .4-13.5 .6,11 .4-2 .6,3 .4,0 .6-7.1 .4,5.6 .6-8.1 .4,6.6 .6,4.5 .4,0 .6,0 .4,3.2 .6-4.7 .4-1.5 .6,1.5 .4,5.7 .6-8.7 .4-1.4 .6,2.9 .4,4.6 .6-7.5 .4,0 .6-4 .4,9.2 .6-.8 .4,3.1 .6-1.6 .4-7.2 .6,5.7 .4,4.1 .6,7.7 .4-5.4 .6-6.4 .4,4.1 .6-4.1 .4,4.7 .6-4.7 .4,15.8 .6-9.4 .4,0 .6,1.7 .4-5 .6,6.9 .4-8.5 .6,4.1 .4-11.3 .6,2.7 .4,7.7 .6-9.1 .4,1.4 .6-1.4 .4,5.3 .6,3.8 .4-6.2 .6,1.5 .4-8.4 .6,6.9 .4,7.9 .6,0 .4,0 .6,0 .4-12.1 .6,8.8 .4-3.1 .6,11.8 .4-11.8 .6-1.5 .4,1.5 .6,8.1 .4,1.9 .6-11.5 .4-9.3 .6,25.2 .4-8 .6-9.4 .4,8.4 .6,2.8 .4-.1 .6,7.7 .4-4 .6-1.8 .4,3.8 .6-15.3 .4,11.5 .6-10 .4,3.1 .6,5 .4,3.9 .6-2 .4-13 .6,9.5 .4-3.4 .6,8.2 .4,6.6 .6-13.2 .4,8.3 .6-4.9 .4-13.8 .6,12.9 .4-11.6 .6,18.2 .4,2 .6-5.8 .4,3.8 .6,1 .4-4.8 .6,0 .4-6.9 .6-4.6 .4,6.2 .6-7.7 .4,1.5 .6,15.3 .4,2 .6-9.4 .4,1.7 .6,1.9 .4,1.8 .6,0 .4,4 .6,0 .4-7.7 .6,.9 .4-4.3 .6,3.6 .4,2.7 .6-2.9 .4,14.4 .6-10.1 .4-7.7 .6,11.1 .4-7.7 .6-8.1 .4,15.8 .6-2 .4,0 .6-9.1 .4,11.1 .6,6.7 .4-6.7 .6-7.7 .4,3.7 .6,6.6 .4-6.4 .6-3.9 .4,5.7 .6,4.1 .4,9.5 .6-9.5 .4-6.1 .6,0 .4-8.7 .6,10.7 .4,4.1 .6,2.3 .4-13.8 .6,5.4 .4,2 .6,11.1 .4-16.8 .6,12.9 .4-12.9 .6,2.8 .4-.9 .6,5.8 .4,0 .6,2.1 .4-6.1 .6-14.8 .4,8.4 .6,17.6 .4-14.9 .6,0 .4,18.1 .6,1.2 .4-15.6 .6,6.1 .4,0 .6-6.1 .4-8.7 .6,19.4 .4-6.7 .6,0 .4-5.8 .6,3.8 .4,0 .6,2 .4,9.1 .6-9.1 .4-4 .6,0 .4,8.3 .6,7.3 .4-11.6 .6-11.1 .4,13.2 .6-7.9 .4,1.8 .6,15.6 .4,0 .6-9.5 .4,9.1 .6,.4 .4-17.4 .6,14.9 .4-14.9 .6,3.9 .4,7.7 .6-5.8 .4,9.1 .6-4.3 .4-6.8 .6,4.1 .4,2.2 .6-4.3 .4,0 .6,2.1 .4-2.1 .6,4.4 .4-2.3 .6-5.1 .4-1 .6,4 .4,3.2 .6,1.1 .4,7.3 .6-7.3 .4-2.2 .6,4.6 .4,4.9 .6,2.7 .4-2.7 .6-7.3 .4,2.4 .6,4.9 .4-7.3 .6,4.8 .4-2.4 .6-4.6 .4-2.1 .6,6.7 .4-10.7 .6,15.6 .4-2.5 .6,2.6 .4-2.6 .6,2.5 .4-4.9 .6-2.4 .4,4.8 .6,2.5 .4-2.5 .6-7 .4,12.2 .6-7.6 .4,2.4 .6,3.2 .4-8 .6,4.8 .4-2.4 .6,4.9 .4,2.7 .6,0 .4,2.9 .6-8.1 .4,8.1 .6-8 .4-2.5 .6,0 .4,10.1 .6-10.1 .4,14.4 .6-12 .4-4.8 .6-2.2 .4,7 .6,2.5 .4-11.6 .6,9.1 .4-11.1 .6,11.1 .4,2.5 .6-2.5 .4,5.6 .6-3.1 .4-7.3 .6,0 .4-2.2 .6-4.1 .4,8.2 .6,5.4 .4,0 .6,5.6 .4-8.1 .6-2.4 .4,2.4 .6,10.7 .4-8.2 .6-4.9 .4,2.4 .6-11.1 .4,11.1 .6,0 .4,2.5 .6-2.5 .4,8.1 .6-10.5 .4-8.7 .6,5.5 .4,7 .6-8.4 .4,9.1 .6,6 .4-5.6 .6,5.6 .4-5.6 .6-9.5 .4,11 .6,1.2 .4-10 .6,10 .4-12.2 .6,7 .4,11.1 .6-5.9 .4-12.2 .6-2.1 .4,11.6 .6-2.5 .4,2.5 .6,7.1 .4,.2 .6-4.6 .4-5.2 .6,2.5 .4,11.5 .6-16.4 .4,7.7 .6-2.8 .4,0 .6-4.9 .4,4.9 .6,11.8 .4-14.3 .6-4.8 .4,15.9 .6-3 .4-1.3 .6-4.3 .4,13.8 .6-16.3 .4,5.2 .6-2.7 .4,11.8 .6-16.7 .4,13.5 .6-3 .4-12.9 .6-8.3 .4,18.3 .6,12.6 .4-6.7 .6-15.9 .4,7.3 .6-9.5 .4,12.2 .6,9.1 .4-3.2 .6-3 .4-5.6 .6,5.9 .4-15.4 .6,21.3 .4-19.1 .6,15.9 .4-13.5 .6,20.2 .4-3.5 .6,0 .4,3.5 .6-17.8 .4,11.1 .6,0 .4,10.3 .6-23.8 .4,7.6 .6-10 .4,6.5 .6,7.9 .4,4.7 .6,7.1 .4-16.2 .6,14.7 .4-11.8 .6-8.1 .4,5.2 .6,0 .4,5.9 .6-11.1 .4,12.9 .6-10.4 .4,5.6 .6,0 .4-5.6 .6,2.7 .4,0 .6-14.3 .4,2.1 .6,14.2 .4-7.2 .6,2.5 .4,0 .6-7.3 .4,15.9 .6-3 .4-10.5 .6,10.5 .4-12.9 .6,10 .4,20.2 .6-38.5 .4,18.3 .6-7.6 .4,3.8 .6,1.1 .4,0 .6,5.6 .4,8.7 .6-16.8 .4,8.1 .6,9.7 .4-9.7 .6-5.6 .4,2.7 .6,5.9 .4-8.6 .6,18.9 .4-6.1 .6-10.1 .4,2.9 .6-10.5 .4-4.6 .6,24.8 .4-12.6 .6,9.1 .4-3.2 .6,14.3 .4-17.3 .6,10.2 .4-2 .6-8.2 .4-2.5 .6-5.6 .4,11.1 .6,7.2 .4-18.3 .6,25.4 .4-17.3 .6-8.1 .4-4.8 .6-4.3 .4,30.5 .6-10.3 .4,0 .6,10.3 .4-21.4 .6,11.1 .4,3.2 .6-6.2 .4,6.2 .6,0 .4-3.2 .6-8.6 .4,8.6 .6,10.3 .4-7 .6-3.3 .4-3 .6-8.1 .4,25.4 .6-11.1 .4,0 .6,0 .4-3.2 .6-5.9 .4,0 .6,0 .4,12.6 .6,0 .4-8.2 .6-1.5 .4,6.2 .6-3.2 .4,0 .6,3.2 .4-14.3 .6,11.1 .4,0 .6,3.2 .4,0 .6-16.7 .4,10.1 .6,10.1 .4,0 .6-3.5 .4,5.6 .6-8.8 .4-3 .6,3 .4,6.7 .6,0 .4-3.5 .6,0 .4,7.1 .6,0 .4-10.3 .6,3.2 .4-3.2 .6,6.7 .4,2.1 .6-5.6 .4,0 .6-3.2 .4,0 .6,10.3 .4,0 .6,2.4 .4-15.7 .6,9.7 .4,7.6 .6-14.3 .4,6.8 .6-6.8 .4,6.7 .6-17.8 .4,14.3 .6-3.2 .4,7.2 .6,7.1 .4-32.4 .6,34.6 .4-9.8 .6,3.6 .4,0 .6-16.2 .4,12.7 .6-3.6 .4-3.2 .6-5.9 .4,2.9 .6,3 .4,9.3 .6,1 .4-3.6 .6-6.7 .4-5.9 .6,9.1 .4-14.3 .6,11.1 .4,10.5 .6-3.8 .4-9.7 .6,15.8 .4-15.8 .6,6.2 .4,0 .6-9.1 .4-2.7 .6-7.3 .4,26.2 .6-10.3 .4,3.2 .6,7.1 .4,4 .6-5.8 .4-22 .6,23.8 .4,13.1 .6-20.2 .4,3.5 .6-12.6 .4,2.9 .6,6.2 .4-2.8 .6-6.3 0,47.1-.6,7.6-.4,29.6-.6,25.1-.4-45.6-.6-25.6-.4,5.5-.6,31.2-.4-27.8-.6-12.5-.4,20.1-.6-7.6-.4,7.6-.6-25.1-.4,17.5-.6,27.8-.4-29.3-.6-11-.4,0-.6-11-.4,16.8-.6-5.8-.4,40.3-.6-22.8-.4-17.2-.6,5.5-.4-11.1-.6,25.4-.4-20.1-.6,0-.4-2.7-.6,8.5-.4,14.3-.6,0-.4-20.1-.6-14.2-.4,26.7-.6,7.6-.4,9.1-.6-34.5-.4,8.2-.6,37.4-.4-27.8-.6-22.5-.4,50.3-.6-34.5-.4,6.7-.6-17.8-.4,17.8-.6-12.5-.4,0-.6-5-.4,5-.6,12.5-.4,16.7-.6-19.6-.4,2.9-.6,0-.4-6.7-.6,.4-.4,6.3-.6-26.9-.4,20.2-.6-2.9-.4,17.2-.6-14.3-.4-2.9-.6-2.6-.4,5.5-.6,6.7-.4-6.7-.6-2.9-.4-2.9-.6,0-.4,40.3-.6-20.2-.4-14.3-.6,14.3-.4-20.1-.6,0-.4-9.8-.6,15.6-.4-15.8-.6,4.7-.4,25.4-.6-10.1-.4-10-.6,40.3-.4-34.5-.6,14.3-.4-14.3-.6-8.5-.4,8.5-.6,14.3-.4-17.2-.6,2.9-.4,14.3-.6-12.7-.4,21.8-.6-16.7-.4-17.8-.6,45.6-.4-40.3-.6,5.8-.4,14.3-.6,0-.4,0-.6-25.4-.4,17.8-.6,7.6-.4-22.8-.6,31.9-.4-25.6-.6-13.6-.4,4.7-.6,45.6-.4-29.3-.6-5.2-.4-5.8-.6-10-.4,22.5-.6-12.5-.4-10-.6,15.8-.4,0-.6-15.8-.4,22.5-.6,16.7-.4-8.4-.6-15-.4,14.3-.6-29.3-.4,9.2-.6-10-.4-4.4-.6,14.4-.4,12.5-.6-6.7-.4,0-.6,0-.4-15.8-.6,0-.4,30.1-.6-27.8-.4-2.3-.6,0-.4-4.4-.6,14.4-.4-5.3-.6,5.3-.4-9.2-.6,9.2-.4-5.3-.6,25.4-.4-20.1-.6,5.8-.4-13.5-.6,2.4-.4-4.7-.6,0-.4,0-.6,15.8-.4-5.8-.6,0-.4-10-.6,22.5-.4-3.4-.6,3.4-.4,7.6-.6-7.1-.4-.5-.6,0-.4-23.5-.6,16.8-.4-5.8-.6,5.8-.4,0-.6-5.8-.4-5.3-.6,0-.4,5.3-.6-14.4-.4,20.2-.6-5.8-.4,5.8-.6-20.2-.4,14.4-.6-5.3-.4,5.3-.6,5.8-.4-8.5-.6-7.3-.4,10-.6,29.2-.4-16.7-.6-22.5-.4,4.7-.6-4.7-.4,10-.6-5.3-.4-9.1-.6,4.4-.4,30.1-.6-25.4-.4-8.9-.6,8.9-.4-13.1-.6,13.1-.4,5.3-.6,12.5-.4-12.5-.6-5.3-.4-4.7-.6,0-.4,4.7-.6-7.5-.4,12.8-.6,12.5-.4-17.8-.6-4.7-.4,0-.6-4.4-.4,20.2-.6-11.1-.4,11.1-.6-5.5-.4-.3-.6-14.4-.4,4.4-.6-6-.4,28.5-.6,0-.4-22.5-.6,0-.4,0-.6,10-.4,12.5-.6,7.6-.4-33-.6,12.9-.4,0-.6,12.5-.4-6.7-.6-10.1-.4-14.1-.6,30.9-.4,7.6-.6-25.4-.4-4.7-.6,0-.4-1-.6,11-.4-18.4-.6,30.9-.4-6.7-.6,23.4-.4-39.2-.6,15.8-.4-11.1-.6,0-.4,0-.6-9.1-.4,4.4-.6,4.7-.4-2.8-.6,13.9-.4-11.1-.6-13.1-.4,0-.6,4-.4,26.9-.6-26.9-.4,4.4-.6-8.4-.4,8.4-.6,0-.4-11.9-.6,27.7-.4-11.1-.6-9.1-.4,4.4-.6,10-.4-14.4-.6,2.6-.4,6.5-.6-9.1-.4-7.6-.6,27.8-.4-10.1-.6-19.3-.4,13.6-.6-11.5-.4,7.1-.6,0-.4,0-.6-4-.4,13.1-.6-6.5-.4,17.6-.6-10.1-.4-17-.6,21.3-.4-5.3-.6-16.6-.4,16.6-.6,5.3-.4-18.4-.6-3.6-.4,22-.6-21.5-.4,11.5-.6,15.8-.4-12.1-.6-8.1-.4,14.4-.6-5.3-.4,0-.6,0-.4-4.7-.6,8.8-.4,30.4-.6-39.2-.4,4.7-.6-16.7-.4,.7-.6,16-.4-16.7-.6,34.5-.4-38-.6,15.5-.4,4.7-.6-13.1-.4,30.9-.6-38-.4,11.1-.6,14.4-.4-18.4-.6,18.4-.4-13.7-.6-.7-.4,20.2-.6,0-.4-24.2-.6-11.1-.4,19.5-.6,10-.4-25-.6,6.6-.4-3.6-.6,0-.4,0-.6-1.8-.4,5.4-.6,18.4-.4-25.4-.6,3.4-.4,3.6-.6-3.6-.4,0-.6-3.4-.4,7-.6,0-.4,18.4-.6-31.7-.4,9.7-.6,3.6-.4-7.1-.6,3.2-.4,12.3-.6-27.3-.4,18.9-.6-10.3-.4,23.4-.6,5.3-.4-31.7-.6,31.7-.4-31.7-.6,9.7-.4,22-.6-10-.4-4.4-.6-11.1-.4,11.1-.6,0-.4-4-.6,4.7-.4,8.4-.6-13.1-.4-3.6-.6-6.7-.4,0-.6,18.7-.4-8.4-.6,8.4-.4,4.7-.6-23.4-.4,18.7-.6-8.4-.4-11.6-.6,8-.4-6.7-.6,14.3-.4-11.1-.6,0-.4,20.2-.6-13.2-.4,8.5-.6-21.7-.4,9.7-.6,0-.4,0-.6-6.7-.4-8.6-.6,0-.4,5.6-.6,9.7-.4-9.7-.6,0-.4,26.4-.6-20.2-.4,7.1-.6-11.9-.4-1.4-.6,13.3-.4,4-.6,.7-.4,8.4-.6-20.2-.4,7.1-.6,0-.4,0-.6,0-.4,13.1-.6-16.7-.4-3.4-.6-3.3-.4-5.9-.6,2.9-.4,26.4-.6-4.5-.4-15.7-.6,3.5-.4-3.5-.6,11.1-.4-17.3-.6,17.3-.4-14.3-.6,6.7-.4-9.7-.6,3-.4-7.4-.6,14.1-.4-12.5-.6-.1-.4,5.9-.6-14.7-.4,11.8-.6,17.2-.4-26.9-.6,4-.4-2.5-.6,17.8-.4-6.7-.6-5.9-.4-2.7-.6,5.6-.4,9.7-.6,0-.4-15.3-.6,0-.4,3.4-.6,8.4-.4-9.1-.6-3.9-.4,1.2-.6,.1-.4,11.7-.6-9.1-.4,12.6-.6-12.6-.4,5.9-.6-5.9-.4,29.3-.6-16.7-.4-10.1-.6-2.5-.4,0-.6,0-.4,9.1-.6-18.8-.4,4.5-.6,29.8-.4-24.6-.6-12.2-.4,18.1-.6-18.1-.4,9.5-.6-2.4-.4,8-.6-5.6-.4,5.6-.6-2.9-.4-12.1-.6,2.1-.4,7.3-.6,5.6-.4,9.7-.6-15.3-.4,11.8-.6-11.8-.4,8.6-.6-12-.4,6.1-.6,.4-.4,5.5-.6-5.9-.4-10-.6,12.9-.4-10.5-.6,13.5-.4,10.3-.6-15.2-.4,1.9-.6-10.5-.4,7.6-.6-2.7-.4-4.9-.6,3.7-.4,1.2-.6-7.3-.4,12.9-.6-6.4-.4-1.7-.6,8.1-.4,17.3-.6-13.9-.4-18.5-.6,9.5-.4-7.3-.6-2.2-.4,15.1-.6-15-.4,18-.6-8.6-.4,2.7-.6,2.9-.4-10.5-.6,0-.4-6.5-.6,20-.4-21.1-.6,7.6-.4,7.6-.6,0-.4-5.2-.6,0-.4,5.2-.6-6.4-.4,1.2-.6-11.1-.4,2-.6,2.1-.4,24.8-.6-15.3-.4-11.6-.6-2-.4,11.1-.6-11.1-.4-1.4-.6,20.6-.4-14.9-.6,9.3-.4-2.5-.6-7-.4-2.1-.6,2.1-.4-1-.6-7.9-.4,1-.6,3.8-.4,8.7-.6,4.9-.4,0-.6-9.6-.4,2.3-.6,15.9-.4-6.8-.6-13.4-.4,6.7-.6-2.4-.4-10.9-.6,18.2-.4,8.6-.6-18.1-.4-16.4-.6,14.3-.4-4-.6,0-.4,6.1-.6-9.8-.4,9.8-.6-2.1-.4,0-.6-14.3-.4,6.6-.6,3.7-.4,10.7-.6-4.6-.4,2.2-.6-12-.4-3.9-.6,7.6-.4-.9-.6,.9-.4,13.1-.6-16.8-.4,5.7-.6-12.3-.4,3.7-.6,6.6-.4-7.1-.6,1.7-.4,13.7-.6-6.3-.4,13.6-.6-22.7-.4,1.7-.6,5.4-.4,8.3-.6-10.1-.4-11.5-.6,3-.4,1.6-.6,5-.4,7.7-.6,0-.4-12.7-.6,3.3-.4,5.2-.6,8.5-.4-17-.6,3.3-.4-3.3-.6-1.6-.4,14.3-.6-9.4-.4,7.4-.6-9.4-.4,15.7-.6-13.7-.4,0-.6,5.4-.4-8.7-.6,10.7-.4-5.7-.6,16.8-.4-18.5-.6-7.9-.4,6.2-.6-7.7-.4,9.4-.6-4.9-.4,6.6-.6,5.7-.4-15.6-.6,13.6-.4-7-.6,3.3-.4-3.4-.6,5.3-.4-5.3-.6,5.3-.4-10.4-.6,10.4-.4,1.8-.6-1.8-.4-6.9-.6,3.3-.4-9.4-.6,7.7-.4-6.2-.6,3-.4-5.9-.6,2.9-.4,6.2-.6,5.3-.4,14.9-.6-16.6-.4-5.2-.6-1.6-.4-3-.6-1.5-.4-.7-.6,.7-.4,7.7-.6-4.7-.4-6.3-.6,14.4-.4-1.7-.6,0-.4-4.9-.6,1.6-.4,5-.6-12.5-.4-10.5-.6,4.1-.4,12.3-.6,0-.4,1.6-.6-7.5-.4,12.5-.6-13.8-.4,19.5-.6-19.5-.4,5.7-.6,1.5-.4-1.5-.6,6.4-.4-9.8-.6,4.9-.4-3-.6-5.6-.4-4.2-.6,8.3-.4-4-.6,7-.4-8.8-.6,7.4-.4,9.5-.6-13.8-.4-11.4-.6,3.9-.4,2.4-.6,5.1-.4-8.7-.6,12.9-.4-1.5-.6-9-.4,2.4-.6-1.2-.4,3.7-.6,1.4-.4-3.9-.6-5.9-.4,7.1-.6-3-.4,11.4-.6-13.5-.4,9.1-.6-4-.4,4-.6-7.6-.4,6.3-.6-5.1-.4-.6-.6,1.8-.4,0-.6,5.2-.4-4-.6-4.1-.4-7.2-.6,0-.4,5.3-.6,3.6-.4-6.8-.6,8-.4-2.9-.6-3-.4,2.3-.6-2.3-.4,3.5-.6,1.2-.4-9.9-.6,7-.4,6.6-.6-1.3-.4-9.2-.6,.9-.4,12.3-.6-2.7-.4-8.2-.6,.3-.4,6.6-.6-1.2-.4-7-.6,8.2-.4-3.6-.6-11.6-.4,11.6-.6-3.5-.4-1.1-.6-7-.4,2.9-.6,3.1-.4-2.1-.6,11.3-.4,.9-.6,9-.4-22-.6,5-.4-1.1-.6,2.2-.4-7.3-.6,4.1-.4,5.6-.6,0-.4,2.4-.6-5.9-.4-2.6-.6-10.9-.4,3.5-.6,3.8-.4,9.7-.6-4.6-.4-8.9-.6,6.8-.4-3-.6-1.9-.4-6.2-.6,6.2-.4,1.9-.6-3.8-.4,0-.6-1.8-.4,2.7-.6,1.9-.4,3-.6-10.1-.4,3.4-.6-2.9-.4,1.2-.6,0-.4,.8-.6,0-.4,4.6-.6-2.8-.4,2.8-.6-3.7-.4,1.8-.6,0-.4,16.2-.6-10.3-.4-9.4-.6-4.9-.4,8.4-.6-5.3-.4,5.3-.6,2.9-.4-8.1-.6,3.4-.4-1.7-.6-.9-.4,5.4-.6-2.8-.4-.9-.6-9.9-.4,1.9-.6,3.9-.4-2.4-.6,0-.4,4.8-.6-5.1-.4,1.1-.6-1.6-.4,6.5-.6-7.9-.4,10.5-.6-2.6-.4-1.7-.6-4-.4,.8-.6-2.3-.4,3.1-.6-6-.4-.7-.6,7.5-.4-2.4-.6,3.2-.4,.8-.6-4-.4-3.7-.6,2.2-.4,3.9-.6-3.9-.4,12.6-.6-4.4-.4-13.1-.6,2.7-.4-1.4-.6,8.3-.4-10.8-.6,.5-.4,0-.6,12.8-.4-11.5-.6,10.6-.4-4.8-.6-4.2-.4,5-.6-4.6-.4-3.3-.6,5.1-.4,5.2-.6-3.2-.4-4.4-.6,1.4-.4-1.4-.6-3.4-.4,1.4-.6,.6-.4,0-.6-7.3-.4,9.4-.6,.7-.4-3.4-.6-.4-.4,10-.6-.8-.4-10.4-.6,14.5-.4-3.3-.6-4.7-.4-10.7-.6,1.3-.4,7.2-.6-6-.4,6-.6-6.6-.4-.6-.6-1.3-.4,0-.6-6.3-.4,1.2-.6,5.1-.4-1.1-.6,4.2-.4,2-.6-5.9-.4,3.9-.6,0-.4-.6-.6,5.3-.4,.7-.6-10.8-.4-1.7-.6,3.4-.4-6.9-.6,6.4-.4,3.6-.6-6.8-.4,.9-.6,2.3-.4-4-.6-.5-.4,1.6-.6-2.4-.4,1.9-.6-.6-.4,2.2-.6,8.7-.4-9.2-.6,1.7-.4-5-.6-1-.4,2.1-.6,8.1-.4-4.2-.6-8-.4,3.5-.6,.6-.4-3.8-.6,5.4-.4-4.2-.6,3.1-.4,2.2-.6-6.3-.4-2.9-.6,.9-.4-.2-.6,4.7-.4,1.9-.6,1.4-.4-1.7-.6-3.6-.4,3.1-.6-2.1-.4,3.7-.6-3.7-.4,9.6-.6-13.6-.4,10-.6-5.2-.4-3.8-.6,7.3-.4-8-.6,.7-.4,6.7-.6-7.4-.4,3.2-.6-1.5-.4-1.7-.6-3.6-.4,2.4-.6-2.7-.4,2.2-.6-.9-.4,6.8-.6-5.4-.4-2.7-.6,4.1-.4-3.2-.6-3.9-.4,3-.6,3.2-.4-3.2-.6-.5-.4,1.8-.6-6.9-.4,4.7-.6,3.6-.4-5.3-.6-.8-.4-.4-.6,2.5-.4-6.1-.6,1.8-.4,3-.6-.4-.4,4.8-.6-3-.4-3.4-.6,5.5-.4-3.7-.6,2.8-.4-4.2-.6,2-.4-3.6-.6-3.1-.4,4.7-.6-2-.4-2.7-.6,2.3-.4,3.2-.6-3.2-.4-3.5-.6,5.4-.4-3.4-.6,3-.4-3.8-.6,4.2-.4-1.9-.6-4.1-.4,1.8-.6-.8-.4,7.9-.6-3.1-.4-3.2-.6,5.1-.4-7.3-.6,4.9-.4-7-.6,3.1-.4,2.7-.6-1.2-.4-2.9-.6-.3-.4-2.5-.6,1.4-.4,.8-.6,3.2-.4-7.7-.6-.6-.4,7.9-.6-3.3-.4,0-.6-.3-.4-2-.6,6-.4-5-.6-1.4-.4,3.8-.6-7.6-.4,1.6-.6-2.2-.4,4.4-.6-4.5-.4,2.3-.6,.3-.4,1.9-.6-4.1-.4,2.8-.6,1-.4,0-.6-4.1-.4-2.6-.6,1.7-.4,1.5-.6-5.2-.4,5.2-.6,.3-.4-.6-.6,2.8-.4-4.6-.6,2.7-.4,0-.6-3.8-.4-1.4-.6-4.1-.4,6.3-.6-1.1-.4,2.6-.6,1.9-.4-6.7-.6,0-.4,3.9-.6-3.9-.4,1.3-.6-1.9-.4,0-.6,1.9-.4-2.2-.6-2.5-.4,5.3-.6-3-.4-.3-.6-.8-.4,5.8-.6-1.7-.4-.8-.6-4.5-.4,3.1-.6-5.4-.4,2.3-.6-2.3-.4-.9-.6,.7-.4,5.9-.6-3.7-.4-1.7-.6,.9-.4-2.9-.6,4-.4-2.5-.6,3-.4-7.2-.6,.9-.4-1.8-.6,1.6-.4,3.2-.6,.8-.4-5.8-.6,5-.4-3.7-.6,.5-.4-2.4-.6,.6-.4,.9-.6-.2-.4,1.5-.6,.7-.4-4.2-.6-2.1-.4-1.6-.6,4.8-.4-4.8-.6,2-.4-.6-.6,2.7-.4-1.8-.6-5.5-.4,4.8-.6-3.7-.4-.5-.6-.8-.4,.9-.6,.8-.4-2.2-.6-2.5-.4,2.7-.6-1-.4,0-.6-.8-.4,.3-.6-.5-.4,.3-.6-4-.4,0-.6,1.8-.4,.2-.6-3.6-.4,.4-.6,.8-.4,.5-.6-5.1-.4,2.7-.6-1-.4-1.7-.6-.3-.4,1.7-.6-2.5-.4,.8-.6-3.6-.4,1.6-.6-2.2-.4,3.4-.6-2-.4,1.5-.6-4.3-.4,1.1-.6-1.3-.4-1.1-.6-.3-.4-.4-.6-.8-.4,.5-.6-2.5-.4,1.1-.6,.2-.4-1.8-.6,1.8-.4-4.9-.6,2.9-.4-2.1-.6-.8-.4-3.6-.6,.9-.4,.3-.6-.7-.4-1.4-.6,0-.4,2.2-.6-3.4-.4,1-.6-3.1-.4-2.8-.6,1.4-.4-.5-.6-1.5-.4,.1-.6-.9-.4,1-.6-2-.4,.3-.6-3.3-.4-.3-.6-.4-.4,.3-.6-1.1-.4-1.5-.6-1.6-.4-.8-.6,.5-.4,2.4-.6-4.4-.4-.4-.6,.2-.4-2-.6-2.6-.4-.7-.6,.6-.4-.5-.6-2.3-.4-1.2-.6,.3-.4-1.1-.6-.7-.4-.2-.6-2.4-.4-.2-.6-.1-.4,.6-.6-3.2-.4,.2-.6-1.2-.4-.3-.6-1.6-.4,.7-.6-3.3-.4-1.3-.6-.5-.4,.3-.6-.9-.4-2.5-.6,0-.4,.1-.6-2.2-.4-1.8-.6-.8-.4-.2-.6-.7-.4-.9-.6-.3-.4-2.2-.6-1.8-.4-.8-.6,.1-.4-2-.6,.3-.4-2-.6,0-.4,0-.6-2.7-.4,.1-.6-1.2-.4-.1-.6-3.1-.4-1.1-.6-1.2-.4-1.3-.6-1.1-.4-1-.6-1.8-.4-1.3-.6,0-.4-2.9-.6,.6-.4-.1-.6-1-.4-3.5-.6,.3-.4-1.2-.6-2.5-.4,.3-.6-.4-.4-1.6-.6-1-.4-2-.6,1-.4-1.6-.6-1.1-.4-.9-.6-.4-.4-2.2-.6-.5-.4-1.1-.6-.4-.4-1.2-.6-.7-.4-.1-.6-2.2-.4-1.1-.6-.4-.4-1.6-.6-.4-.4-1.1-.6-1-.4-.5-.6-.1-.4-1.9-.6-.3-.4-1.2-.6-.9-.4-.2-.6-1.6-.4-.7-.6-.4z" fill="#72aad1" stroke="#72aad1" stroke-width="0.55" stroke-linejoin="bevel"/>
<path d="M1057.6,838.8 1058.6,840.5 1059.7,842.2 1060.7,843.9 1061.8,845.6 1062.8,847.4 1063.8,849.2 1064.9,851 1065.9,852.8 1067,854.7 1068,856.6 1069.1,858.5 1070.1,860.4 1071.1,862.3 1072.2,864.3 1073.2,866.3 1074.3,868.3 1075.3,870.4 1076.3,872.5 1077.4,874.7 1078.4,876.8 1079.5,879 1080.5,881.2 1081.6,883.3 1082.6,885.5 1083.6,887.7 1084.7,889.9 1085.7,892.1 1086.8,894.3 1087.8,896.5 1088.8,898.7 1089.9,900.9 1090.9,903.1 1092,905.2 1093,907.3 1094.1,909.4 1095.1,911.5 1096.1,913.5 1097.2,915.6 1098.2,917.6 1099.3,919.5 1100.3,921.5 1101.3,923.4 1102.4,925.3 1103.4,927.2 1104.5,929.1 1105.5,930.9 1106.6,932.7 1107.6,934.5 1108.6,936.2 1109.7,937.9 1110.7,939.6 1111.8,941.3 1112.8,942.9 1113.8,944.6 1114.9,946.1 1115.9,947.7 1117,949.3 1118,950.8 1119.1,952.3" fill="none" stroke="#4090c6" stroke-width="1.35"/>
<path d="M1057.8,838.4l.6,.3 .4,.5 .6,1.6 .4,.9 .6,.2 .4,.6 .6,2 .4,.7 .6,.5 .4,1.2 .6,.4 .4,.6 .6,.9 .4,1.2 .6,.8 .4,1.7 .6-.3 .4,0 .6,2.1 .4,1 .6,1.3 .4,.7 .6,1.3 .4,1 .6-.7 .4,1.7 .6,.9 .4,1.2 .6,1 .4,1.1 .6,.5 .4,1.2 .6,1.4 .4,1 .6,1 .4,0 .6,1.3 .4,.6 .6,1.2 .4,1.8 .6-.4 .4,2.8 .6,.8 .4,.3 .6,.5 .4,1.7 .6,1.5 .4,1.2 .6-.3 .4,2.2 .6-.4 .4,.9 .6,2.2 .4,1.9 .6,.8 .4,0 .6,3.1 .4-1.8 .6,3 .4,1.4 .6-2.3 .4,3.3 .6,1.7 .4,.5 .6,.5 .4,1.2 .6,.2 .4,1.2 .6,3.1 .4,.7 .6,0 .4,1.3 .6,1.1 .4-.3 .6,1.9 .4,.3 .6-.1 .4,1.8 .6,2.8 .4,1.6 .6-.2 .4-1 .6,2.4 .4,.8 .6,.4 .4,1.7 .6,1.8 .4,.2 .6-1.5 .4,3.5 .6-.2 .4,1.6 .6-1.3 .4,1.3 .6,3 .4-.8 .6,2.4 .4-.9 .6,2.9 .4,1.3 .6,.3 .4-.1 .6,.9 .4-.5 .6,3 .4,2 .6-1.6 .4,.3 .6,1.2 .4,2.2 .6-1.8 .4,.9 .6,2 .4,1.2 .6,1.1 .4,2.2 .6-.1 .4-2 .6,1.2 .4,3.1 .6-4.9 .4,3.2 .6,2 .4,2.4 .6,.7 .4-4.1 .6,5.7 .4,.2 .6,.2 .4-1.7 .6,.6 .4,1.2 .6,1.4 .4-.7 .6,3.8 .4-.6 .6-2.1 .4-.2 .6,1.1 .4,5.1 .6-1.7 .4,1 .6,3.5 .4-4.2 .6-.4 .4,3.6 .6-2.4 .4,3.6 .6-1.6 .4,3.5 .6-.8 .4-6.4 .6,5.9 .4,3.3 .6,.4 .4-1.5 .6,.3 .4,3 .6-2.6 .4,2.9 .6,2.8 .4,1.1 .6-1.9 .4,.7 .6,2.6 .4-5.1 .6,1.5 .4,2.2 .6-1.5 .4,2.3 .6,.9 .4-.6 .6,2.1 .4-2.9 .6,2.5 .4,.7 .6,3.9 .4-3.7 .6-1.8 .4,2.3 .6,1.1 .4-2.3 .6,2.5 .4,.5 .6-1.2 .4,1.9 .6-1.5 .4,2.6 .6,2 .4-1.3 .6,2.6 .4-6.1 .6,2.8 .4,3.7 .6-.4 .4,1.5 .6,.4 .4-1.7 .6,3.8 .4-2.5 .6,2.3 .4-3 .6,3.2 .4-2.3 .6,3.1 .4-4.6 .6,5.7 .4-2.4 .6,1.8 .4-4.3 .6,2.1 .4,1.6 .6,3.3 .4,.3 .6,.4 .4-3.1 .6-1.2 .4,4.8 .6-.7 .4-.9 .6-.9 .4,4.1 .6-2.3 .4,1.8 .6-3.1 .4,3.1 .6,.8 .4-4.8 .6,4.3 .4,1.2 .6,.5 .4,1.2 .6-.5 .4,3.6 .6,0 .4-3.6 .6,2.7 .4,3.8 .6-2.9 .4,2.4 .6-.5 .4-3.5 .6,3.2 .4-3.4 .6,3.1 .4,.3 .6,.3 .4,1.4 .6-5.9 .4,3.1 .6,1.1 .4-.3 .6,.6 .4,.8 .6-4 .4,1 .6,5.9 .4,1.2 .6,.3 .4,0 .6-4.7 .4,4.1 .6,.9 .4-.6 .6-2.6 .4,2.6 .6,.3 .4,1.3 .6-2.5 .4,3.4 .6,1.7 .4-1.3 .6,1.5 .4-6.8 .6,1.5 .4,5.4 .6,2 .4-2.7 .6,3.1 .4-3.4 .6,.3 .4-.6 .6,4.7 .4-3.7 .6-2.3 .4,1.9 .6,1 .4,1.4 .6-.7 .4,3.5 .6-3.1 .4,1.7 .6-4.1 .4,4.1 .6-2.8 .4,4.2 .6,2.3 .4-6.1 .6,5.3 .4-.3 .6-1.5 .4,3.7 .6,1.7 .4-.5 .6-.7 .4-2 .6,5.1 .4-.7 .6-7.7 .4,8.8 .6-5.1 .4,4 .6-4 .4-3.3 .6,8.5 .4,.5 .6-4.1 .4,1.6 .6,1.2 .4,2.1 .6-2.1 .4-3.2 .6-.8 .4,0 .6,3.2 .4-.4 .6,2.9 .4-7.2 .6,5.4 .4,3.6 .6-3.1 .4,4 .6-1.8 .4-3.4 .6,2.5 .4,.4 .6,5.6 .4-2.4 .6,4 .4-3.5 .6-2.8 .4,3.2 .6,1.3 .4-7.1 .6,6.8 .4-5.5 .6,2.5 .4,2 .6-7.8 .4,10.3 .6-5.7 .4,2.3 .6,4.9 .4-3 .6-3.7 .4,3.6 .6,4.6 .4-5.5 .6,.3 .4-.3 .6,.5 .4,3 .6-1 .4,1 .6,4.8 .4-1.1 .6-11.3 .4,5.6 .6,3.5 .4,1.8 .6-6.8 .4,4.5 .6,4.3 .4-7.8 .6,6 .4,4 .6-6.5 .4,2.7 .6,.5 .4-5.2 .6,6.9 .4-2.2 .6-5.2 .4-.5 .6,5.7 .4,1.1 .6-3.3 .4,9.8 .6-8.7 .4,1.6 .6,.6 .4,1.7 .6,1.7 .4,2.5 .6,.6 .4,2.7 .6-.7 .4-3.2 .6-1.3 .4,3.2 .6-4.4 .4,0 .6,5.4 .4-1 .6-4.4 .4,7.7 .6-1.3 .4-2 .6,0 .4-6.7 .6,7.6 .4-5.3 .6,5.7 .4-.7 .6-6.1 .4,1.5 .6,5.3 .4,0 .6,6.3 .4-9.5 .6,3.2 .4,7.9 .6-3.8 .4-.7 .6-2.1 .4-2.6 .6,4 .4-.7 .6-4 .4,7.6 .6,2.8 .4-3.5 .6-1.5 .4,.7 .6,3.4 .4-1.2 .6-2.2 .4,3 .6-6.4 .4-1.4 .6,7.8 .4,3.2 .6,0 .4-8.3 .6,4.1 .4-2.7 .6-4.7 .4,8.8 .6,0 .4-.4 .6,2.4 .4-1.6 .6,2.4 .4,0 .6,.8 .4-6.2 .6,5.4 .4,2.5 .6-1.1 .4-4.6 .6,2.4 .4,2.4 .6,0 .4-3.2 .6,5.8 .4-2.6 .6-.4 .4-.4 .6-.8 .4,2.5 .6,8.4 .4-5.8 .6-5.1 .4,4.2 .6,3.3 .4-9.9 .6,6.6 .4,3.7 .6-6.3 .4,9.3 .6-1 .4-2.9 .6-5.4 .4,.9 .6,6.4 .4-1 .6-3.7 .4-3.4 .6,2.5 .4,6.5 .6-4.7 .4,2.8 .6,2 .4-6.6 .6,6.6 .4-3.9 .6-5.2 .4,11.1 .6,3.2 .4-8.1 .6,3.9 .4-3 .6,5.1 .4,2.1 .6-1.1 .4-2.1 .6,4.3 .4-1 .6-3.3 .4-6.8 .6,.9 .4-4.4 .6,14.5 .4-3.1 .6,6.2 .4-9.3 .6,7.5 .4-6.5 .6-3.9 .4,8.1 .6,1.1 .4,3.6 .6-7.9 .4-5.9 .6,12.6 .4-13.5 .6,11.1 .4,1.2 .6-1.2 .4-1.1 .6-2.1 .4,3.2 .6,8 .4-11.2 .6,11.9 .4-18.9 .6,8 .4-1 .6,0 .4-5.1 .6,12.1 .4-8.1 .6,12.4 .4-2.1 .6,7.1 .4-8.3 .6,1.9 .4-1.9 .6-5.9 .4,4.7 .6,1.2 .4-8 .6,6.8 .4,1.2 .6,7.5 .4,.6 .6-2.9 .4-4 .6-6 .4-8.3 .6,9.5 .4-2.3 .6,7.9 .4-3.2 .6,3.7 .4,2.7 .6,5.9 .4-5.9 .6-12.2 .4,16.9 .6-12.3 .4,10.5 .6-4.1 .4-8.8 .6,11.4 .4-2.7 .6,1.3 .4-1.3 .6,.6 .4-.6 .6,5.7 .4-3 .6,1.5 .4-1.5 .6,0 .4-7.8 .6,6.4 .4-1.3 .6,2.7 .4,6.1 .6,3.3 .4-3.3 .6,6.3 .4-13.8 .6,7.5 .4-17.5 .6,2.4 .4,14.3 .6-13.1 .4,15.5 .6-9.1 .4,8.8 .6-7.4 .4,3 .6,0 .4,13.8 .6-10.7 .4,1.6 .6-7.7 .4-2.7 .6,13.8 .4-5 .6,0 .4,5 .6-8.1 .4,6.4 .6,7.4 .4-15.3 .6,4.6 .4,3.3 .6,3.6 .4-3.6 .6,1.7 .4-12.5 .6,20.2 .4-5.8 .6,1.8 .4-3.7 .6,1 .4-4.4 .6-1.6 .4-3.1 .6,3.1 .4,6.9 .6-1.9 .4,.9 .6-4.3 .4,3.4 .6,0 .4-6.6 .6,0 .4,10.3 .6-1.8 .4-15.7 .6,10.4 .4,7.1 .6,4 .4-9.4 .6,0 .4-3.3 .6,6.9 .4,10 .6-13.6 .4-1.7 .6,0 .4,7.1 .6,2 .4,0 .6-13.8 .4,12.2 .6-5.8 .4,9.4 .6-2 .4-5.7 .6,1.9 .4,4.4 .6-8 .4,9.4 .6,2.1 .4-17.9 .6,15.8 .4-5.8 .6,12.5 .4-12.5 .6,7.9 .4-6.1 .6,8.3 .4-17 .6,5 .4,9.8 .6-4.1 .4-13.8 .6,24.9 .4-4.8 .6-8.3 .4,21.2 .6-6.4 .4-6.5 .6,4.8 .4-11.1 .6,2 .4,2.2 .6,2.4 .4-4.6 .6,9.1 .4-18.5 .6,8 .4,5.7 .6-10.1 .4,18.8 .6-13 .4,2.1 .6,9.5 .4-8.3 .6-3.3 .4,6.7 .6,2.4 .4-7 .6-2.1 .4-4 .6,18.3 .4-14.3 .6-4 .4,6.1 .6,9.5 .4-4.9 .6-2.4 .4,12.9 .6-5.6 .4,0 .6-9.5 .4,7 .6,8.1 .4-10.5 .6-16.1 .4,18.5 .6-2.4 .4-4.6 .6,7 .4,0 .6,0 .4,0 .6,11.1 .4-13.5 .6,0 .4,23.8 .6-20.4 .4-10.1 .6,2.1 .4,12.2 .6,2.9 .4,0 .6-15.1 .4,12.2 .6-2.7 .4,5.6 .6,9.7 .4-26.9 .6,18.9 .4-4.6 .6-5.2 .4,12.7 .6-10.1 .4-11.7 .6,11.6 .4,8.6 .6-3 .4-2.9 .6-7.6 .4,13.5 .6-3 .4-8.1 .6,2.5 .4-17.4 .6,26 .4,0 .6,6.7 .4-20.2 .6,2.4 .4,10.7 .6,3.6 .4-3.2 .6,6.7 .4-15.3 .6,5.6 .4,3 .6-8.6 .4,8.6 .6,0 .4-3 .6,6.2 .4,3.5 .6-17.8 .4,14.3 .6,7.1 .4,0 .6-10.3 .4-11.1 .6,17.8 .4,0 .6,0 .4-6.7 .6,6.7 .4-9.7 .6-8.1 .4,11.1 .6,3.2 .4-6.2 .6,0 .4,13.3 .6-10.3 .4,3.2 .6,11.1 .4-11.1 .6,7.1 .4-13.3 .6,3.1 .4-3.1 .6,6.2 .4-3.2 .6,3.2 .4,0 .6,3.5 .4-6.7 .6-5.9 .4,29.3 .6-13.1 .4-3.6 .6,7.6 .4-14.3 .6,17.3 .4-14.1 .6,0 .4,11.1 .6-7.6 .4-9.7 .6-5.6 .4,15.3 .6,3.6 .4,4 .6-17.3 .4,10.8 .6,15.6 .4-16.7 .6,7.6 .4-7.6 .6,3.8 .4,3.8 .6,0 .4-14.3 .6,18.7 .4,0 .6-32.2 .4,20.2 .6,0 .4,7.6 .6-14.3 .4,6.7 .6-6.7 .4,3.2 .6-6.2 .4,8.7 .6,13 .4,4.7 .6,0 .4-13.1 .6-13.3 .4,20.3 .6-3 .4,3.4 .6-11 .4-3.5 .6,3.6 .4,7.5 .6,9.1 .4-1 .6-12.1 .4,6.2 .6-2.2 .4,0 .6-7.6 .4,5.6 .6-5.6 .4,7.6 .6-4 .4,8.4 .6-8.4 .4-3.6 .6,3.6 .4-3.6 .6,0 .4-3.5 .6,15.5 .4-4.4 .6-11.1 .4,15.5 .6-4.4 .4,14.4 .6-14.4 .4-4 .6,0 .4,4 .6,4.4 .4-4.4 .6-4 .4,8.4 .6-8.4 .4-7.1 .6,11.1 .4-7.5 .6-3.6 .4,20.2 .6-9.1 .4-4 .6,0 .4,8.4 .6-7 .4-11.7 .6,34.5 .4-15.8 .6,0 .4,0 .6,4.7 .4,21.6 .6-30.7 .4,14.4 .6-10 .4-8.4 .6,8.4 .4,10 .6,10 .4-15.3 .6-9.1 .4,4.4 .6,4.7 .4,0 .6,0 .4-9.1 .6-4 .4,4 .6,13.4 .4,1 .6-5.3 .4,5.3 .6-14.4 .4,2.2 .6,2.2 .4,0 .6-15.5 .4,25.5 .6-14.4 .4-2.6 .6-22.8 .4,34.5 .6,11.1 .4-11.1 .6-4.7 .4,4.7 .6,0 .4-9.1 .6,2.2 .4,6.9 .6-9.1 .4,10.1 .6,10.1 .4-8.5 .6-11.7 .4-7.6 .6,12 .4,15.8 .6-15.8 .4-4.4 .6-7.6 .4,5.6 .6-2 .4-3.6 .6,11 .4,1 .6,4.7 .4,0 .6-13.1 .4,18.4 .6,0 .4-12.2 .6-2.2 .4,0 .6,13.4 .4-4.3 .6,0 .4,0 .6,5.6 .4-5.6 .6,17.8 .4-26.9 .6-4 .4,9.2 .6,9.2 .4,5.8 .6,0 .4,7.2 .6-31.4 .4,0 .6,0 .4,18.4 .6-10 .4,22.5 .6-12.5 .4-10 .6,10 .4,0 .6-5.3 .4,17.8 .6-26.9 .4,14.4 .6,5.8 .4,.4 .6-6.2 .4-18.4 .6,15.5 .4-2.4 .6-20.2 .4,11.1 .6,20.2 .4,0 .6,3.3 .4-19.1 .6,10 .4,12.5 .6-12.5 .4,12.5 .6-26.9 .4-7.6 .6,34.5 .4-17.8 .6-13.1 .4,8.4 .6,10 .4,6.2 .6-16.2 .4-15.5 .6,11.1 .4,20.2 .6-15.8 .4,0 .6,15.8 .4-24.2 .6,24.2 .4-5.8 .6,6.2 .4-16.2 .6-8.4 .4,18.4 .6,0 .4-5.3 .6,5.3 .4-5.3 .6-4.7 .4,22.5 .6-12.5 .4,12.5 .6-12.5 .4,12.5 .6-12.5 .4,5.8 .6-11.1 .4,8.9 .6,8.9 .4-6.7 .6-7.9 .4-7.9 .6,30.1 .4-20.1 .6,20.1 .4-25.4 .6,5.3 .4,16.3 .6-13.4 .4-2.9 .6,12.5 .4-6.7 .6,0 .4,3.3 .6-14.4 .4,5.3 .6,0 .4,0 .6-5.3 .4,11.1 .6,6.7 .4,7.6 .6,9.1 .4-34.5 .6,17.8 .4,0 .6-6.7 .4-5.8 .6,0 .4,37.4 .6-37.4 .4,12.5 .6-6.7 .4,0 .6,0 .4,6.7 .6-6.7 .4-11.1 .6,5.3 .4,10 .6-4.2 .4-11.1 .6,8.9 .4-13.6 .6,10 .4,0 .6,5.8 .4-11.1 .6,11.1 .4,0 .6-11.1 .4,17.8 .6-12.5 .4,0 .6,6.2 .4-6.2 .6,12.5 .4,0 .6-17.8 .4-4.7 .6,11.2 .4-6.5 .6,0 .4,0 .6,25.4 .4-25.4 .6,25.4 .4-14.3 .6,23.4 .4-25.6 .6-8.9 .4,17.8 .6-12.5 .4,20.1 .6-25.4 .4-4.7 .6,15.8 .4,23.4 .6-34.5 .4,0 .6,5.3 .4,5.8 .6,3.3 .4,3.4 .6-34.5 .4,27.8 .6-2.2 .4-8.9 .6,15.3 .4,2.5 .6-22.5 .4,30.8 .6-15 .4-5.8 .6-10 .4,15.8 .6-15.8 .4,22.5 .6,0 .4-17.8 .6,5.3 .4,5.8 .6-15.8 .4,15.8 .6,23.4 .4-29.2 .6,20.1 .4-20.1 .6,12.5 .4,0 .6,16.7 .4-9.1 .6,0 .4-25.4 .6,0 .4,5.3 .6,5.8 .4-11.1 .6,25.4 .4-14.3 .6,0 .4-31.3 .6,35.5 .4-24.4 .6,17.3 .4,9.6 .6,7.6 .4-30.1 .6,15.8 .4-15.8 .6,15.1 .4-5.1 .6,10 .4,2.5 .6-6.7 .4,0 .6,0 .4,23.4 .6-16.7 .4,0 .6-6.7 .4,3.3 .6,3.4 .4,7.6 .6-14.3 .4,6.7 .6,0 .4,0 .6-6.7 .4,6.7 .6,7.6 .4,9.1 .6-34.5 .4,8.9 .6,25.6 .4-9.1 .6,0 .4,0 .6-7.6 .4-6.7 .6-5.8 .4,27.3 .6-14.8 .4,0 .6-6.7 .4,8.8 .6-14.6 .4,40.3 .6-50.3 .4,19.6 .6,10.5 .4-7.6 .6-17.8 .4,11.1 .6,3.3 .4,3.4 .6-6.7 .4,23.4 .6-16.7 .4,7.6 .6-25.4 .4,17.8 .6,16.7 .4-11.7 .6-27.5 .4,10 .6,5.8 .4,3.3 .6-9.1 .4,20.1 .6-7.6 .4,0 .6,7.6 .4-7.1 .6-7.2 .4,6.7 .6,0 .4-12.5 .6,12.5 .4-6.7 .6-5.8 .4,6.2 .6-.4 .4,0 .6,0 .4-5.8 .6,20.1 .4,0 .6-7.6 .4,5 .6-35.9 .4,18.4 .6,20.1 .4-7.6 .6-6.7 .4,6.7 .6-6.7 .4,.4 .6-6.2 .4,20.1 .6-38.5 .4,24.2 .6,6.7 .4,0 .6,3.8 .4-10.5 .6,0 .4,0 .6,6.7 .4,7.6 .6-14.3 .4,14.3 .6-7.6 .4,0 .6-6.7 .4,0 .6,3.3 .4-3.3 .6-5.8 .4,27.3 .6-21.5 .4,23.4 .6,0 .4-39.2 .6,11.2 .4,39.1 .6-40.3 .4,5.8 .6,14.3 .4-25.4 .6,17.8 .4,13.9 .6-13.9 .4,7.6 .6,0 .4-20.1 .6,2.9 .4,17.2 .6-7.6 .4,22.3 .6-29 .4,23.4 .6,0 .4-16.7 .6,16.7 .4-23.4 .6-5.8 .4,29.2 .6-9.1 .4,0 .6,9.1 .4,0 .6-23.4 .4-5.8 .6,20.8 .4,8.4 .6-9.1 .4-14.3 .6,23.4 .4-16.7 .6,0 .4,7.6 .6-14.3 .4-11.1 .6,32.6 .4-41.7 .6,26.9 .4-6.7 .6,14.3 .4,0 .6-7.6 .4,7.6 .6,0 .4-14.3 .6,6.7 .4,7.6 .6,0 0,34.6-.6,20.1-.4-20.1-.6,20.1-.4,34.6-.6-34.6-.4-20.1-.6,0-.4,20.1-.6,0-.4,0-.6-34.5-.4,34.5-.6-20.1-.4,20.1-.6-20.1-.4-14.4-.6,0-.4,34.5-.6,17.3-.4-17.3-.6,0-.4,0-.6-20.1-.4,20.1-.6,0-.4-17.2-.6-17.3-.4,34.5-.6,0-.4-20.1-.6,0-.4,0-.6,20.1-.4-20.1-.6,20.1-.4,0-.6-17.2-.4-10.1-.6,7.2-.4,0-.6-14.4-.4,14.4-.6,20.1-.4-10-.6-10.1-.4,20.1-.6,34.6-.4-54.7-.6,20.1-.4-10-.6,10-.4-10-.6,44.6-.4-27.4-.6-7.2-.4,0-.6,34.6-.4-34.6-.6,34.6-.4-69.1-.6,0-.4,34.5-.6-27.3-.4,7.2-.6,20.1-.4-20.1-.6,20.1-.4,0-.6,0-.4,0-.6,34.6-.4-54.7-.6,54.7-.4-69.1-.6,34.5-.4-5.5-.6,5.5-.4-34.5-.6,14.4-.4,20.1-.6,0-.4-20.1-.6,0-.4,0-.6,20.1-.4-22.8-.6,30-.4,27.4-.6-34.6-.4,0-.6-10-.4,0-.6-10.1-.4,0-.6,54.7-.4-54.7-.6,0-.4,20.1-.6,0-.4,34.6-.6-34.6-.4,34.6-.6-34.6-.4,0-.6-20.1-.4,20.1-.6,0-.4-20.1-.6,20.1-.4-27.3-.6,27.3-.4,0-.6-10-.4,10-.6,34.6-.4-44.6-.6,10-.4-17.2-.6,51.8-.4-61.9-.6,7.2-.4,20.1-.6,0-.4-5.5-.6,5.5-.4,34.6-.6-34.6-.4-34.5-.6,34.5-.4-34.5-.6,0-.4,0-.6,34.5-.4-10-.6-10.1-.4,54.7-.6-51.8-.4-20.2-.6,37.4-.4-27.3-.6,27.3-.4,34.6-.6,0-.4-34.6-.6,34.6-.4-34.6-.6,0-.4-17.2-.6-17.3-.4,0-.6,34.5-.4-27.3-.6,61.9-.4-54.7-.6-14.4-.4,14.4-.6-14.4-.4,34.5-.6-10-.4,10-.6,0-.4-10-.6,10-.4,0-.6,0-.4,0-.6,34.6-.4-54.7-.6-7.2-.4,27.3-.6,0-.4-20.1-.6-14.4-.4,14.4-.6,10.1-.4,10-.6-20.1-.4,20.1-.6,34.6-.4-69.1-.6,34.5-.4,0-.6,0-.4,0-.6,0-.4-20.1-.6,0-.4,0-.6-14.4-.4,34.5-.6,0-.4-17.2-.6-2.9-.4,20.1-.6-22.8-.4,22.8-.6-40-.4,40-.6-10-.4-10.1-.6,0-.4-14.4-.6,14.4-.4,0-.6,0-.4,20.1-.6-34.5-.4,14.4-.6-14.4-.4-19.5-.6,8.4-.4,45.6-.6-20.1-.4-14.4-.6,34.5-.4-27.3-.6,10.1-.4,51.8-.6-44.6-.4,10-.6-13.9-.4,48.5-.6-54.7-.4-24.5-.6,79.2-.4-86.3-.6,17.2-.4,14.4-.6,20.1-.4-34.5-.6,34.5-.4-22.8-.6,2.7-.4,0-.6-19.9-.4,19.9-.6,0-.4-14.4-.6,0-.4,14.4-.6,20.1-.4,0-.6-34.5-.4,0-.6,69.1-.4-34.6-.6-20.1-.4,0-.6-14.4-.4,14.4-.6-25.5-.4,25.5-.6-14.4-.4,0-.6,0-.4,34.5-.6,0-.4-41.2-.6,21.1-.4,20.1-.6,0-.4,0-.6,34.6-.4-51.8-.6-17.3-.4-2.9-.6,17.3-.4,20.1-.6-34.5-.4-11.1-.6,1-.4,44.6-.6-45.6-.4,25.5-.6-14.4-.4,14.4-.6-25.5-.4,11.1-.6,34.5-.4-20.1-.6,20.1-.4-34.5-.6,34.5-.4,0-.6-44.6-.4,24.5-.6,20.1-.4-20.1-.6,20.1-.4-20.1-.6-7.2-.4,7.2-.6-7.2-.4,27.3-.6,0-.4-20.1-.6-14.4-.4-5.5-.6,19.9-.4-14.4-.6,14.4-.4,20.1-.6,0-.4-44.6-.6,10.1-.4,0-.6,14.4-.4,54.7-.6-34.6-.4-20.1-.6,0-.4,54.7-.6-34.6-.4-27.3-.6-7.2-.4,14.4-.6,20.1-.4,34.6-.6-34.6-.4-20.1-.6,20.1-.4-34.5-.6-11.1-.4,18.3-.6,27.3-.4-20.1-.6,20.1-.4-34.5-.6,34.5-.4,34.6-.6-72-.4,2.9-.6,0-.4-11.1-.6,45.6-.4,34.6-.6-54.7-.4-25.5-.6-8.4-.4,19.5-.6,14.4-.4-33.9-.6,19.5-.4,34.5-.6,0-.4-45.6-.6,11.1-.4,14.4-.6-25.5-.4,11.1-.6,14.4-.4-14.4-.6,0-.4,14.4-.6-24.5-.4,10.1-.6,34.5-.4-20.1-.6,20.1-.4-20.1-.6-14.4-.4-11.1-.6,11.1-.4,34.5-.6-27.3-.4-13.9-.6,21.1-.4-12.8-.6-1.6-.4-11.1-.6,25.5-.4,20.1-.6-20.1-.4-34.6-.6,20.2-.4,0-.6,0-.4,34.5-.6-20.1-.4-21.1-.6-13.5-.4,9.1-.6-9.1-.4,54.7-.6-34.5-.4,0-.6,14.4-.4-25.5-.6,0-.4,11.1-.6-27.8-.4,16.7-.6,0-.4,25.5-.6-24.5-.4,10.1-.6,0-.4,14.4-.6-14.4-.4,0-.6,14.4-.4-24.5-.6,10.1-.4,0-.6-11.1-.4-9.1-.6,20.2-.4-11.1-.6-9.1-.4,34.6-.6-42.2-.4,16.7-.6-16.7-.4,2.1-.6,25.7-.4-11.1-.6,25.5-.4-42.2-.6,7.6-.4,34.6-.6,0-.4,0-.6-14.4-.4,0-.6,0-.4-5.5-.6,19.9-.4-25.5-.6,0-.4-9.1-.6,0-.4-3.8-.6-3.8-.4,42.2-.6-27.4-.4-14.8-.6,5-.4,11.7-.6,0-.4,0-.6,11.1-.4-11.1-.6-16.2-.4,7.1-.6,34.6-.4,0-.6-48.9-.4,6.7-.6,0-.4,7.6-.6,9.1-.4-9.1-.6,20.2-.4-27.8-.6,16.7-.4,0-.6,11.1-.4-11.1-.6,25.5-.4-42.2-.6,7.6-.4,20.2-.6-34.5-.4,14.3-.6-7.6-.4-9.6-.6,17.2-.4-7.6-.6,27.8-.4-20.2-.6,9.1-.4,11.1-.6,0-.4-27.8-.6,0-.4-6.7-.6,14.3-.4-10.1-.6,30.3-.4,14.4-.6-48.9-.4,6.7-.6-12.5-.4,5.8-.6,23.4-.4,11.1-.6,0-.4-10.1-.6,24.5-.4-34.6-.6,9.1-.4-23.4-.6-11.1-.4,11.1-.6,23.4-.4,11.1-.6-34.5-.4,0-.6,24.4-.4,10.1-.6-30.3-.4,19.2-.6-9.1-.4-20.1-.6,12.5-.4,7.6-.6-7.6-.4,16.7-.6,0-.4-29.2-.6,5.8-.4-13-.6,27.3-.4,20.2-.6,69.1-.4-91.9-.6,11.7-.4-34.5-.6,11.1-.4,6.7-.6-2.9-.4,19.6-.6-16.7-.4,0-.6,27.8-.4-11.1-.6-16.7-.4-6.7-.6-5.8-.4,12.5-.6,42.2-.4-54.4-.6,5.5-.4,0-.6-11.1-.4,25.4-.6,20.2-.4-13.9-.6-6.3-.4-7.6-.6,7.6-.4-19.8-.6,5.5-.4,6.7-.6-12.5-.4-5.3-.6,5.3-.4-14.4-.6,11.7-.4,31.9-.6-34.5-.4,11.1-.6-11.1-.4,5.3-.6,0-.4-5.3-.6,5.3-.4,5.8-.6-5.8-.4-22-.6,12-.4,10-.6-5.3-.4,11.1-.6-11.1-.4,2.6-.6,8.5-.4,14.3-.6-14.3-.4-5.8-.6,5.8-.4-20.2-.6,34.5-.4-14.3-.6,14.3-.4-20.1-.6,29.2-.4-14.6-.6-14.6-.4,0-.6,5.8-.4-11.1-.6,0-.4-4.7-.6,64.7-.4-69.1-.6,26.9-.4-6.7-.6,0-.4,23.4-.6-23.4-.4,6.7-.6-12.5-.4-5.3-.6,11.1-.4,6.7-.6-12.5-.4-11-.6,11-.4,12.5-.6-22.1-.4-4.8-.6-2-.4-2-.6,18.4-.4,5.8-.6,0-.4,14.3-.6-20.1-.4,0-.6,20.1-.4-20.1-.6,0-.4-10-.6,30.1-.4-19.2-.6-19.3-.4,30.9-.6-6.7-.4,14.3-.6-20.1-.4-5.3-.6,11.1-.4-13.5-.6,7.7-.4-5.3-.6-4.7-.4-8.2-.6,24-.4-15.8-.6,0-.4-15.5-.6,20.2-.4,11.1-.6-11.1-.4,11.1-.6-5.5-.4-25.8-.6,0-.4,31.3-.6-20.2-.4,0-.6-2-.4,16.4-.6,5.8-.4-15.8-.6-12-.4,12-.6,0-.4-4.4-.6,4.4-.4-12.3-.6,.3-.4-2.5-.6,10.1-.4-17.7-.6,10.1-.4,12-.6-15.5-.4,7.1-.6-13.3-.4,21.7-.6-4.4-.4-20.2-.6,47.1-.4-34.5-.6,7.6-.4,14.4-.6-22-.4,3.6-.6-5.1-.4,29.3-.6-5.8-.4-18.4-.6,0-.4-3.6-.6-6.3-.4,9.9-.6-3.5-.4-19-.6,12.2-.4,28.7-.6-22-.4-6.7-.6-1.5-.4,1.5-.6,3.2-.4,0-.6-6.2-.4,17.3-.6-23.8-.4,12.7-.6,15.5-.4-13.6-.6-18.6-.4,27.8-.6-24-.4,12.9-.6-6.2-.4,3-.6,14.3-.4-25.2-.6,5-.4-2.7-.6,15.3-.4-15.3-.6,.8-.4,14.5-.6-8.2-.4-4.4-.6,0-.4,2.9-.6,6.2-.4-14.3-.6,11.1-.4,0-.6,0-.4,6.7-.6-12.6-.4,0-.6,5.9-.4-12.3-.6,1.2-.4,17.8-.6-12.6-.4,0-.6-2.7-.4-2.5-.6,2.5-.4,18.9-.6,4-.4-13.9-.6-11.5-.4,11.1-.6-5.9-.4-5.2-.6,0-.4,0-.6,14.3-.4,7.1-.6-18.9-.4,0-.6-2.5-.4,0-.6-10.9-.4,13.4-.6,5.6-.4-10.5-.6,2.4-.4,5.2-.6-2.7-.4-9.5-.6,12.2-.4-5-.6,2.3-.4,0-.6,5.6-.4-19.2-.6,16.3-.4-7.6-.6-1.1-.4,3.5-.6-7-.4,4.6-.6-5.4-.4,5.4-.6-8.4-.4-1.1-.6,7.1-.4-2.2-.6,24.8-.4-19.8-.6,13.1-.4-15.9-.6-14.9-.4,14.9-.6-4.3-.4,11.6-.6-2.5-.4-13.1-.6-3.7-.4,14.4-.6-12.5-.4-1.9-.6,7.7-.4,6.7-.6-4.6-.4,4.6-.6-14.4-.4,16.8-.6-11.1-.4-3.8-.6,1.8-.4-10.3-.6,0-.4,25.9-.6-13.6-.4-5.6-.6,21.9-.4-20.1-.6,10.1-.4-3.5-.6,13.5-.4-23.7-.6,5.4-.4-3.7-.6-1.7-.4,7.4-.6-2-.4,6.1-.6,0-.4-7.9-.6-6.9-.4-1.6-.6-5.9-.4,2.9-.6,0-.4,1.5-.6,10-.4-6.9-.6,19.4-.4-5.4-.6-15.6-.4-3-.6,9.6-.4,5.7-.6-13.5-.4,7.8-.6,0-.4,0-.6-9.6-.4,0-.6,4.6-.4,0-.6-4.6-.4,7.9-.6-16-.4,8.1-.6,3-.4-3-.6,1.5-.4,3.1-.6-6.1-.4,4.5-.6-10.4-.4,3.2-.6,7.2-.4,4.9-.6-4.9-.4-4.5-.6,6.1-.4-3.1-.6,2.8-.4,7.2-.6-19.6-.4,16-.6-3.3-.4-12.7-.6-.6-.4,8.7-.6,1.5-.4-7.1-.6,8.6-.4-7.2-.6-.7-.4,6.4-.6-7.7-.4,2-.6-6.3-.4,7.6-.6-7.1-.4,7.1-.6-4.6-.4,9-.6-7-.4,1.3-.6-5.1-.4-5.8-.6-2.1-.4,5.5-.6-.6-.4,1.8-.6,2.4-.4,2.5-.6-3.7-.4-3.6-.6-5.3-.4,21.2-.6-19.1-.4,3.2-.6,4.8-.4-2.8-.6,5.3-.4-9.5-.6-6-.4,6-.6,4.6-.4-9.7-.6,4.1-.4,4.1-.6,12-.4-9.3-.6-4.7-.4-3.2-.6,3.2-.4-2.1-.6-6-.4,8.1-.6-8-.4,13.9-.6-10.1-.4,2.1-.6-6-.4,4.9-.6-6.7-.4,7.8-.6-4.1-.4,10.9-.6-19.8-.4,10.9-.6-2-.4,0-.6-2.9-.4,0-.6-3.5-.4,4.5-.6,2.9-.4-9.1-.6,11.1-.4-4.9-.6-5.4-.4,1.3-.6,9-.4,1.1-.6-7.9-.4-5.1-.6,4.2-.4,4.7-.6-2.9-.4-10.7-.6,8-.4,9.7-.6-12.2-.4,.8-.6,.9-.4-.9-.6,.9-.4-5.7-.6,1.6-.4,.1-.6,14.5-.4-16.2-.6,0-.4-1.9-.6,8.4-.4-4.7-.6,1.4-.4,.8-.6-.8-.4-.8-.6-3.2-.4,0-.6,4.8-.4-4.8-.6,0-.4-6.8-.6,6.8-.4,2.4-.6-3.1-.4-.7-.6,3.8-.4-8-.6,12.1-.4-7.8-.6,9.5-.4-12.8-.6,1.7-.4-2.1-.6,5.8-.4-.8-.6-8-.4,5.1-.6-4.7-.4,2-.6-3.3-.4,3.9-.6,2.8-.4-4.8-.6-2.5-.4,4.5-.6,0-.4-4.5-.6,3.9-.4-3.3-.6,1.8-.4,7.1-.6-11.9-.4,3.6-.6,3.3-.4-3.3-.6-.6-.4,.6-.6-8.2-.4,6.4-.6-3-.4-.6-.6-.5-.4,1.7-.6,8.9-.4-14-.6-2.5-.4,4.7-.6,.6-.4-2.7-.6,3.2-.4,.6-.6-2.2-.4,3.4-.6,1.1-.4,.6-.6-5.1-.4-3.2-.6,3.2-.4,.8-.6,2-.4-9.5-.6,6.7-.4,7-.6-2.5-.4-9.2-.6,.5-.4,1.1-.6,4.2-.4-2.2-.6-3.6-.4-2.9-.6-1-.4,5.9-.6-3.5-.4,2.5-.6-2.5-.4,0-.6,.5-.4-1.9-.6,3.9-.4,1.5-.6-2-.4-2.7-.6-1.2-.4,3.4-.6-2-.4-2.7-.6-1.4-.4,5.6-.6-3.5-.4-.8-.6-4-.4,2.2-.6-1.1-.4,5.7-.6-4.6-.4,2.3-.6-4.4-.4-2.8-.6,2.4-.4,4.3-.6-2.6-.4-4.1-.6-1.6-.4,6.1-.6-5.3-.4,5.7-.6-4.4-.4-1.7-.6,2.8-.4-3.6-.6,2.7-.4,2.1-.6-2.8-.4,2.8-.6-2.5-.4-.5-.6-5.1-.4,1.1-.6-2.5-.4,9.1-.6-8.4-.4,2.9-.6,3.4-.4-5.9-.6,.7-.4,1.4-.6-3.5-.4,.6-.6-.3-.4,7-.6-3-.4-3.2-.6,1.3-.4-5.4-.6,1.6-.4-.2-.6,1.9-.4,6.7-.6-4.2-.4-8.4-.6,4.5-.4-2.9-.6,3.1-.4,1.9-.6-3.7-.4,1.6-.6-1.6-.4-1.3-.6,1.9-.4-2.2-.6-.6-.4-3.7-.6,2.7-.4,6.9-.6-6.2-.4-1.3-.6-.9-.4-.9-.6-3.1-.4,2-.6-2.5-.4,3.1-.6-.3-.4-1.2-.6-2.1-.4,1.9-.6-2-.4-.7-.6-.6-.4,3.8-.6-4.8-.4,1.1-.6,2.1-.4-.8-.6-2.9-.4-.5-.6-1-.4-2.5-.6,1.1-.4,0-.6,.4-.4-.2-.6-.5-.4-2.1-.6-.8-.4,3.9-.6,2.7-.4-3.6-.6,.6-.4-.9-.6-1.4-.4-1.8-.6-.7-.4-.2-.6,.2-.4-3.4-.6,4.7-.4-.4-.6-1.1-.4-.4-.6-.7-.4-.4-.6-5.8-.4,7.1-.6-5.6-.4,.1-.6-.2-.4,4-.6-1.9-.4-2.3-.6,1.1-.4-1.7-.6-2.6-.4,3.2-.6-1-.4-2.2-.6,.6-.4-1.7-.6,1.7-.4-1.3-.6,1.1-.4-3.4-.6-2-.4,5.6-.6-4.2-.4,4.9-.6-4.6-.4,.3-.6-3.3-.4-.4-.6-.3-.4-.4-.6,3.8-.4-6.2-.6-2.2-.4,2.7-.6,.9-.4-2.6-.6-1.8-.4-2.5-.6,1.8-.4,1-.6-2.8-.4,.6-.6,1.8-.4-1.7-.6-2.7-.4,1.8-.6-.9-.4-2.6-.6-1.7-.4,1.4-.6-.4-.4-3.6-.6,1.3-.4-2.4-.6-.4-.4,.8-.6-1.1-.4,1.2-.6-1.5-.4-2.2-.6-1.1-.4,2.2-.6-1.8-.4,.5-.6-1.9-.4-2.4-.6,2-.4-1.7-.6-2.2-.4,1.7-.6-1.1-.4,.1-.6-4.4-.4,1-.6-1.5-.4-2.6-.6,.8-.4,1-.6-.6-.4-3.8-.6,1.2-.4-.2-.6-1.8-.4,0-.6-1.8-.4-.3-.6-1.4-.4,.4-.6-2.1-.4-.8-.6-3-.4,1-.6-1.2-.4-1.1-.6-.3-.4,.8-.6-2.5-.4-.7-.6-1.1-.4-1.7-.6-1-.4-1.2-.6-1.2-.4,.7-.6-.5-.4,.9-.6-2.9-.4-.3-.6-3.2-.4-1.9-.6-.1-.4,.6-.6-2.5-.4-.6-.6-.3-.4-1.3-.6,.2-.4,.5-.6-3.9-.4,.3-.6-1.5-.4-1.1-.6-2.2-.4,1.4-.6-4.3-.4,0-.6-.2-.4-2.1-.6-.6-.4-1.3-.6-.9-.4-1.9-.6,1-.4-3-.6-1-.4-.8-.6-1.4-.4-.4-.6-2-.4-.6-.6-.7-.4-1.2-.6-1.1-.4-1.7-.6-.2-.4-.7-.6-1.4-.4-.2-.6-1-.4-1.4-.6-2.3-.4-.7-.6,1.6-.4-2.8-.6-.4-.4-1.4-.6-.4-.4-2.1-.6-.9-.4-1.1-.6-1.4-.4-.5-.6-1.4-.4,.1-.6-1.7-.4-.6-.6-1.5-.4,.1-.6-.9-.4-1.8-.6-.5-.4,.4-.6-2-.4-.8-.6-.6-.4-1.6-.6-.8-.4,.1-.6-1.9-.4,0-.6-1.5-.4-.7-.6-1.3-.4-.4-.6-1.1-.4-1-.6-.4z" fill="#4090c6" stroke="#4090c6" stroke-width="0.55" stroke-linejoin="bevel"/>
<path d="M1057.6,838.8 1058.6,841.3 1059.7,843.7 1060.7,846.2 1061.8,848.7 1062.8,851.2 1063.8,853.8 1064.9,856.3 1065.9,858.8 1067,861.4 1068,863.9 1069.1,866.5 1070.1,869.1 1071.1,871.8 1072.2,874.5 1073.2,877.2 1074.3,879.9 1075.3,882.6 1076.3,885.4 1077.4,888.1 1078.4,890.9 1079.5,893.6 1080.5,896.3 1081.6,898.9 1082.6,901.6 1083.6,904.1 1084.7,906.7 1085.7,909.1 1086.8,911.6 1087.8,913.9 1088.8,916.2 1089.9,918.4 1090.9,920.5 1092,922.7 1093,924.7 1094.1,926.7 1095.1,928.7 1096.1,930.7 1097.2,932.5 1098.2,934.4 1099.3,936.2 1100.3,938 1101.3,939.7 1102.4,941.4 1103.4,943.1 1104.5,944.7 1105.5,946.3 1106.6,947.9 1107.6,949.4 1108.6,950.9 1109.7,952.4 1110.7,953.9 1111.8,955.3 1112.8,956.7 1113.8,958.1 1114.9,959.5 1115.9,960.9 1117,962.2 1118,963.5 1119.1,964.8" fill="none" stroke="#0b6db7" stroke-width="1.35"/>
<path d="M1057.8,839.1l.6,.4 .4,.8 .6,1.2 .4,.7 .6,1.2 .4,1.7 .6,2.4 .4,.6 .6,.7 .4,1.7 .6,1 .4,1.4 .6,.4 .4,2.1 .6,.1 .4,1.9 .6,.6 .4,2.2 .6,1.2 .4,.8 .6,1.5 .4,1.3 .6-1.3 .4,4 .6,.3 .4,1.6 .6,1.7 .4,1.7 .6-.1 .4,1.6 .6,2.1 .4,1.1 .6,1.2 .4,1.2 .6,1.2 .4,2.1 .6-.9 .4,3.8 .6,1.3 .4,.2 .6,.6 .4,2.1 .6,0 .4,1.9 .6,2.1 .4,0 .6,2 .4,2.3 .6,1.4 .4,1.5 .6,.3 .4,.4 .6,2.2 .4,2 .6,0 .4,1.2 .6,1.3 .4-.5 .6,.9 .4,2.4 .6,1.9 .4-.2 .6,2 .4,.1 .6,1 .4,0 .6,2.9 .4,.8 .6,1 .4-3.1 .6,3.2 .4,3.9 .6-.2 .4,.7 .6,3.8 .4-.9 .6-.7 .4,2.6 .6-.5 .4,.9 .6,2.9 .4,.2 .6-.3 .4-1.7 .6,3.1 .4,2 .6-.2 .4,2.7 .6-1.6 .4,2.7 .6,1.6 .4-1.1 .6-1.6 .4,2.7 .6-2.7 .4,2.9 .6,3.7 .4,1 .6,0 .4,0 .6,.5 .4,1.3 .6,1.3 .4-1.2 .6,1.5 .4-.6 .6,2.3 .4,1.1 .6,.1 .4,1.3 .6-.1 .4,.2 .6,1.4 .4-.8 .6,2.3 .4,.2 .6-.9 .4,1.7 .6-.3 .4,4.3 .6-1.5 .4-.7 .6,2.6 .4-1.4 .6,1.8 .4-1.3 .6,1.4 .4-3.8 .6,6.9 .4-.7 .6-.6 .4,.2 .6,5.1 .4-4.3 .6,1.8 .4,1.7 .6-1.6 .4,3.5 .6-1.1 .4-1.5 .6,1.9 .4,3.3 .6,1.1 .4,.4 .6-1.8 .4,0 .6,1.1 .4-2 .6-1 .4,6.5 .6-2.9 .4,2.2 .6,2.7 .4,0 .6-.1 .4,0 .6,.8 .4-2.7 .6,.5 .4,3.8 .6-2.3 .4,1 .6-1.3 .4,4.5 .6-1.2 .4,.3 .6,.9 .4,2.2 .6,1.8 .4-.4 .6,1.8 .4-2.5 .6,3.2 .4-.5 .6-2.5 .4,.9 .6,1.9 .4-1.5 .6,.6 .4,2.5 .6-1.9 .4-.2 .6,.2 .4,3 .6,1.1 .4,.4 .6-.2 .4,1.6 .6,3.1 .4-2.4 .6-.9 .4-2.5 .6,2.7 .4,4.9 .6-1.5 .4-1.5 .6,1.7 .4,1.5 .6-1 .4,1.8 .6,.6 .4,1.3 .6-1.9 .4-1.8 .6,2.8 .4,.6 .6-1.1 .4,2.7 .6,1.6 .4-2.7 .6-1.3 .4,2.4 .6,5.4 .4-3.8 .6-2.4 .4,.2 .6,0 .4,2.4 .6,2.8 .4-3.2 .6,5.4 .4-7.1 .6,.6 .4,5.2 .6-1.5 .4,1.5 .6,1.3 .4,1 .6-2.6 .4,5.1 .6,3.3 .4-6.8 .6-.9 .4,.6 .6,2.9 .4,4.3 .6-2.6 .4,2.8 .6-6.1 .4,5.4 .6-1 .4-.8 .6,1.8 .4,.7 .6-1.4 .4-2.4 .6,2.8 .4,1.8 .6,2.7 .4-2.3 .6,3.4 .4,.3 .6-4.1 .4,3.8 .6-3.1 .4,1.8 .6,1.3 .4,2.9 .6-3 .4-1.8 .6,2.8 .4,4.2 .6-5.8 .4,7.6 .6-4.8 .4-1.2 .6,5.6 .4-7.6 .6,4.5 .4,.4 .6,2.9 .4-5 .6,2.5 .4,.9 .6-7.4 .4,2.8 .6,6 .4-1.8 .6,2.2 .4-9.2 .6,12.9 .4-5.5 .6,3.2 .4,2 .6-3.4 .4,3.4 .6-1 .4-5.1 .6,7.1 .4,1.5 .6-1 .4-4.4 .6-7.8 .4,13.7 .6,.6 .4-1.6 .6,3.2 .4-.6 .6-1.1 .4-.5 .6-1 .4,1 .6-2 .4,0 .6,6.7 .4,.6 .6-7.8 .4,3.1 .6,6.7 .4-10.8 .6,7.9 .4-1.7 .6,0 .4,3.4 .6-3.9 .4,6.4 .6-.6 .4-10.5 .6,5.8 .4,5.9 .6-4.8 .4,6.1 .6-.7 .4-7.1 .6,8.4 .4-3.1 .6,0 .4-1.9 .6,8.4 .4-7.2 .6,8.6 .4-2.8 .6-6.4 .4,3.1 .6,0 .4,7.6 .6-.7 .4-8.7 .6-.7 .4,7 .6-3.2 .4,4.8 .6,0 .4-3.2 .6-7.1 .4,4.9 .6,1.3 .4,4.9 .6-2.2 .4-8.4 .6,5 .4,9.4 .6-6 .4,3.6 .6-7.6 .4,8.3 .6,4.1 .4-4 .6,3.7 .4-10.8 .6,7.9 .4-1.6 .6,4 .4,0 .6,0 .4,1.6 .6-1.2 .4-5.1 .6,5.5 .4-3.2 .6,0 .4,5.7 .6-1.7 .4,0 .6,2.6 .4-8.9 .6,5.5 .4-6.2 .6,10.5 .4-.9 .6-11.1 .4,9.4 .6-.9 .4-3.6 .6-2 .4,13.9 .6,2 .4-5.9 .6-9.2 .4,12.1 .6,1 .4-9.9 .6,4.9 .4-1.6 .6,5.6 .4-6.4 .6,2.7 .4,2.7 .6-.9 .4,.9 .6,3 .4-8.4 .6,4.7 .4,3.7 .6,5.3 .4-10.2 .6,8 .4,1.1 .6-5.2 .4,7.5 .6-7.5 .4,0 .6,5.2 .4,9.1 .6-8 .4-3.2 .6-3.1 .4,2.6 .6-5.5 .4,8.1 .6-3.2 .4,6.7 .6-2.4 .4,1.2 .6,3.6 .4-3.6 .6,3.6 .4-10.1 .6,4.2 .4,8.4 .6-1.3 .4-4.8 .6-8.5 .4,8.5 .6,9.6 .4-9.6 .6,0 .4-2.3 .6,4.1 .4-3 .6,8.7 .4-2.7 .6-2.4 .4,3.7 .6-7.3 .4,1.2 .6,4.8 .4,1.3 .6,2.7 .4-1.3 .6-3.9 .4,3.9 .6-3.9 .4-3.6 .6,7.5 .4-7.5 .6,6.1 .4-2.5 .6,6.6 .4-1.4 .6,1.4 .4-13.6 .6,8.2 .4,0 .6,9.9 .4-1.5 .6-3 .4-2.7 .6-10.9 .4,7 .6,6.6 .4-1.4 .6,1.4 .4-5.4 .6,9.9 .4-5.9 .6,9.1 .4-9.1 .6,4.4 .4-5.7 .6,7.2 .4-8.6 .6,7.1 .4,0 .6,8.1 .4-1.7 .6-1.7 .4-3.2 .6-1.5 .4-8.4 .6,4 .4,4.6 .6-.2 .4,4.7 .6,.9 .4,2.5 .6,8.4 .4-2.7 .6,.1 .4-12.4 .6,3.2 .4,4.5 .6-6.1 .4,5 .6,7.7 .4-17.3 .6,4.8 .4-6.3 .6,1.5 .4,4.6 .6,8.7 .4,10.7 .6,0 .4-24 .6,6.2 .4,3.5 .6,7.6 .4-4 .6,4 .4-4 .6-10.3 .4,10.3 .6,0 .4,2 .6-7.4 .4,7.4 .6-10.7 .4,5 .6,7.7 .4-2 .6-5.7 .4,3.7 .6-1.8 .4-1.9 .6,7.7 .4,0 .6-11.1 .4,13.2 .6-4.1 .4,0 .6,0 .4,2 .6,2.5 .4-11.9 .6,7.4 .4,13.6 .6-13.6 .4,2 .6-7.7 .4,17.4 .6-.6 .4-7 .6-2.1 .4,10.4 .6-10.4 .4,0 .6,6.7 .4-2.4 .6-6.3 .4,13.6 .6-4.9 .4,4.9 .6-4.9 .4,4.9 .6-11.6 .4,11.6 .6-9.5 .4-2.1 .6,15.6 .4-11.3 .6-6.3 .4,2 .6,0 .4,11.6 .6-7.3 .4-6.3 .6,13.6 .4-13.6 .6,2 .4,14.3 .6,0 .4,9.1 .6-7.8 .4-13.5 .6,2.2 .4,10 .6,4.3 .4-11.9 .6-10.7 .4,6.1 .6,9.5 .4-2.5 .6,10.7 .4-10.7 .6,2.5 .4,0 .6-7.3 .4-12 .6,3.7 .4,18.5 .6-12.4 .4,4.6 .6-2.4 .4,4.8 .6-7 .4-4.1 .6,6.3 .4,10.1 .6-7.7 .4-2.4 .6,15.9 .4,0 .6-11.1 .4-2.4 .6,12.6 .4-7.7 .6-9.5 .4,23.3 .6-5.2 .4-8.6 .6,5.6 .4,3 .6,0 .4-18.1 .6,21.3 .4,3.6 .6-9.8 .4,0 .6,9.7 .4-6.7 .6-8.6 .4,0 .6-4.9 .4,7.6 .6,9.1 .4-3.2 .6-15.9 .4,2.4 .6,4.9 .4-4.9 .6,16.7 .4,0 .6-6.2 .4,3 .6-11.1 .4,11.1 .6-5.9 .4,20.4 .6-7.8 .4,0 .6,0 .4,7.6 .6-11.1 .4,20.2 .6-9.1 .4-20.2 .6,4.6 .4,4.5 .6,3.5 .4,0 .6,7.6 .4,9.4 .6-20.5 .4,0 .6-6.2 .4,13.3 .6-7.1 .4-3.2 .6,10.3 .4,0 .6,8.4 .4-8.4 .6,8.4 .4-8.4 .6,4 .4,9.1 .6-16.7 .4,0 .6,7.6 .4-17.3 .6,6.2 .4,15.5 .6-12 .4,3.6 .6-10.3 .4,17.3 .6-7 .4,0 .6,30.9 .4-17.8 .6-9.1 .4-4 .6,0 .4,18.4 .6-18.4 .4,13.1 .6-23.4 .4,6.7 .6,3.6 .4,4 .6,26.4 .4,.5 .6-30.3 .4-7.7 .6,3.5 .4,7.6 .6,9.1 .4,11.1 .6-27.8 .4-9.7 .6,26.4 .4-9.1 .6,0 .4,14.4 .6,12.5 .4-22.5 .6,0 .4,0 .6,15.8 .4-24.2 .6-7.1 .4,7.1 .6,8.4 .4-12 .6,12 .4,10 .6-10 .4,10 .6-18.4 .4,4 .6,4.4 .4,0 .6,0 .4,15.8 .6-15.8 .4,7.1 .6-19.1 .4,21 .6,1 .4-5.3 .6-9.1 .4,34.5 .6-24.4 .4-10.1 .6-4 .4,4 .6,9.1 .4-4.7 .6,4.7 .4,0 .6,5.3 .4-10 .6,30.1 .4-7.6 .6-6.7 .4-11.1 .6-9.1 .4,4.4 .6,15.8 .4-5.8 .6-5.3 .4,5.3 .6-5.3 .4,0 .6,17.8 .4-22.5 .6,30.1 .4-34.5 .6,9.1 .4,21.6 .6-16.3 .4,5.8 .6-11.1 .4,0 .6,5.3 .4-10 .6,15.8 .4-11.1 .6,5.3 .4,5.8 .6-11.1 .4,17.8 .6,0 .4,0 .6,7.6 .4-7.6 .6,7.6 .4,0 .6-30.1 .4,19.6 .6,19.6 .4-16.7 .6-22.5 .4,22.5 .6,0 .4-22.5 .6,22.5 .4,7.6 .6-7.6 .4-17.8 .6,0 .4,17.3 .6,.5 .4,3.8 .6-16.3 .4,5.8 .6,14.3 .4-14.3 .6-5.8 .4,20.1 .6-20.1 .4,5.8 .6,6.7 .4-6.7 .6,6.7 .4-6.7 .6-5.8 .4,20.8 .6-.7 .4-25.4 .6,11.1 .4-5.8 .6,17.5 .4-19.6 .6-7.9 .4,15.8 .6,6.7 .4,0 .6-6.7 .4,0 .6,6.7 .4,0 .6-12.5 .4,5.4 .6-23.8 .4,30.9 .6,27.8 .4-27.8 .6,7.6 .4,0 .6,0 .4-20.1 .6,29.2 .4-34.5 .6,17.8 .4-17.8 .6,25.4 .4-25.4 .6,8.9 .4,16.5 .6-14.3 .4,6.7 .6-12.5 .4,5.8 .6,23.4 .4,0 .6-9.1 .4,9.1 .6,0 .4,0 .6-23.4 .4,23.4 .6-9.1 .4,4.6 .6-12.2 .4,16.7 .6-16.7 .4,16.7 .6-9.1 .4-14.3 .6,6.7 .4,7.6 .6-14.3 .4,15 .6-.7 .4-14.3 .6,14.3 .4-14.3 .6,17.3 .4-10.6 .6,8.3 .4-15 .6,7.2 .4-7.2 .6,6.7 .4-12.5 .6,0 .4,9.1 .6-3.3 .4-5.8 .6,40.3 .4-34.5 .6,14.3 .4,0 .6-14.3 .4,14.3 .6,27.4 .4-18.3 .6-9.1 .4,4.6 .6-4.6 .4-7.6 .6,16.7 .4-9.1 .6,0 .4-7.6 .6,0 .4,16.7 .6-9.1 .4,10.1 .6-13.9 .4-3.8 .6,7.6 .4-30.1 .6,39.2 .4,0 .6-25.6 .4-8.9 .6,45.6 .4,0 .6-34.5 .4,0 .6,14.3 .4,27.4 .6-27.4 .4-20.1 .6,12.5 .4-6.7 .6,23.4 .4,0 .6,22.8 .4-11.7 .6-11.1 .4-23.4 .6,23.4 .4,0 .6-9.1 .4,0 .6,20.2 .4-11.1 .6,12.7 .4-21.8 .6,20.2 .4-20.2 .6-20.1 .4,0 .6,29.2 .4,0 .6-9.1 .4,0 .6,20.2 .4-27.8 .6,8.3 .4,16.6 .6-24.9 .4,8.3 .6,8.4 .4-9.1 .6,0 .4,9.1 .6-9.1 .4,34.6 .6-14.4 .4,14.4 .6-14.4 .4-34.5 .6,23.4 .4,0 .6-9.1 .4,0 .6-14.3 .4,6.7 .6,7.6 .4,0 .6,20.2 .4-11.1 .6-29.2 .4,27.3 .6,1.9 .4,25.5 .6-34.6 .4,0 .6,54.7 .4-20.1 .6-34.6 .4,0 .6,9.1 .4,25.5 .6-19.9 .4-5.6 .6-9.1 .4,0 .6,0 .4,17.3 .6,2.9 .4-27.8 .6,42.2 .4-34.6 .6,9.1 .4,11.1 .6,0 .4,14.4 .6,0 .4-14.4 .6-11.1 .4,0 .6-16.7 .4,16.7 .6,25.5 .4-25.5 .6-9.1 .4,4.6 .6-4.6 .4,20.2 .6-20.2 .4,9.1 .6,5.6 .4,19.9 .6-34.6 .4,13.5 .6-21.1 .4,27.8 .6,0 .4,0 .6-34.5 .4,17.3 .6,31.6 .4-25.5 .6,0 .4,25.5 .6-14.4 .4,0 .6,17.3 .4-28.4 .6-9.1 .4,9.1 .6,25.5 .4-14.4 .6-11.1 .4,0 .6,11.1 .4-20.2 .6,54.7 .4-34.5 .6-27.8 .4,16.7 .6,18.3 .4-7.2 .6,0 .4,7.2 .6-18.3 .4,11.1 .6,0 .4-11.1 .6,25.5 .4-14.4 .6-11.1 .4-9.1 .6,9.1 .4,0 .6-16.7 .4,16.7 .6,11.1 .4,7.2 .6-7.2 .4,0 .6,14.4 .4,0 .6,0 .4-14.4 .6-13.9 .4-13.9 .6,7.6 .4,0 .6,9.1 .4,12.7 .6-1.6 .4-34.5 .6,29 .4-5.6 .6-9.1 .4,34.6 .6-34.6 .4,44.7 .6-24.5 .4-11.1 .6,25.5 .4-14.4 .6,14.4 .4-14.4 .6-11.1 .4,0 .6,22.8 .4-31.9 .6,20.2 .4,7.2 .6-7.2 .4-20.2 .6,34.6 .4-14.4 .6-11.1 .4,11.1 .6-11.1 .4-23.4 .6,34.5 .4,0 .6,0 .4,1.6 .6-12.7 .4,5.6 .6-14.7 .4,20.2 .6-20.2 .4,9.1 .6,25.5 .4,0 .6,0 .4-14.4 .6-11.1 .4,5.6 .6,40 .4-20.1 .6,0 .4,20.1 .6-54.7 .4,17.3 .6,17.3 .4,0 .6-25.5 .4,25.5 .6,2.9 .4-17.3 .6-11.1 .4,40.1 .6-29 .4,0 .6-11.1 .4,25.5 .6-34.6 .4,34.6 .6,0 .4,0 .6-14.4 .4,0 .6,34.5 .4-45.6 .6-9.1 .4,20.2 .6-20.2 .4,34.6 .6,0 .4-34.6 .6,34.6 .4-34.6 .6,20.2 .4-11.1 .6,11.1 .4,0 .6,0 .4,14.4 .6,0 .4-25.5 .6,5.6 .4-5.6 .6,11.1 .4,0 .6,14.4 .4-19.9 .6-5.6 .4,11.1 .6-11.1 .4,25.5 .6,0 .4,0 .6,0 .4-14.4 .6-11.1 .4,25.5 .6-14.4 .4,11.7 .6-22.8 .4,0 .6-9.1 .4,9.1 .6,12.7 .4-1.6 .6,0 .4,0 .6,0 .4-20.2 .6,0 .4,27.4 .6-7.2 .4,0 .6-40.3 .4,27.3 .6,1.9 .4,11.1 .6,0 .4,34.5 .6-32.9 .4-12.7 .6,11.1 .4,0 .6,0 .4,14.4 .6,0 .4-25.5 .6,11.1 .4,7.2 .6-7.2 .4-11.1 .6-9.1 .4-14.3 .6,23.4 .4,11.1 .6-2.9 .4-17.3 .6,34.6 .4,0 .6-25.5 .4,11.1 .6-11.1 .4,25.5 .6,0 .4,0 .6-14.4 .4-11.1 .6,11.1 .4-20.2 .6,20.2 .4,34.5 .6-20.1 .4-14.4 .6,0 .4-11.1 .6,11.1 .4,14.4 .6-34.6 .4,20.2 .6,0 .4,14.4 .6,0 .4-48.9 .6,37.9 .4-31.2 .6,16.7 .4,0 .6,12.7 .4,12.8 .6,20.1 .4-34.5 .6,14.4 .4-14.4 .6-11.1 .4,22.8 .6,2.7 .4-14.4 .6,34.5 .4-20.1 .6,10.1 .4-10.1 .6,0 .4,20.1 .6-34.5 .4,7.2 .6,7.2 .4,0 .6,0 .4-25.5 .6,11.1 .4,14.4 .6-7.2 .4-7.2 .6-11.1 .4,35.6 .6-24.5 .4,34.5 .6,0 .4-45.6 .6,25.5 .4-25.5 .6,22.8 .4-31.9 .6,13.5 .4-21.1 .6,27.8 .4,0 .6,0 .4,14.4 .6-25.5 .4,11.1 .6-11.1 .4,25.5 .6,0 .4-14.4 .6,0 .4-11.1 .6,11.1 .4-11.1 .6,11.1 .4,0 .6-11.1 .4,11.1 .6,0 .4,14.4 .6-34.6 .4,9.1 .6,0 .4,25.5 .6,10.1 .4-24.5 .6,14.4 .4-34.6 .6,34.6 .4-25.5 .6,11.1 .4,34.5 .6-20.1 .4-14.4 .6,0 .4,14.4 .6,0 .4-14.4 .6,0 .4-5.5 .6-5.6 .4,52.8 .6-27.3 .4,20.1 .6-31.1 .4-31.2 .6,27.8 .4,0 .6,0 .4,34.5 .6-34.5 .4-20.2 .6,0 .4,20.2 .6,14.4 .4-14.4 .6,14.4 .4-14.4 .6,14.4 .4,0 .6,0 .4,0 .6-14.4 .4-11.1 .6-9.1 .4,34.6 .6-14.4 .4,0 .6,14.4 0,54.7-.6-34.6-.4,0-.6,34.6-.4-34.6-.6,0-.4,0-.6-20.1-.4,20.1-.6-20.1-.4,54.7-.6,0-.4-27.4-.6-27.3-.4,54.7-.6-17.3-.4,17.3-.6-54.7-.4,54.7-.6,0-.4,0-.6-17.3-.4,17.3-.6-34.6-.4,0-.6,34.6-.4,0-.6,0-.4-27.4-.6,27.4-.4-34.6-.6,17.3-.4,17.3-.6,0-.4-34.6-.6,17.3-.4-17.3-.6,0-.4,0-.6,17.3-.4,17.3-.6,0-.4-34.6-.6,34.6-.4,0-.6-17.3-.4,17.3-.6-34.6-.4,34.6-.6-54.7-.4,0-.6,37.4-.4-22.8-.6,40.1-.4,0-.6,0-.4-54.7-.6,20.1-.4,34.6-.6,0-.4-34.6-.6,0-.4,0-.6,0-.4,34.6-.6-27.4-.4,27.4-.6,0-.4-54.7-.6,20.1-.4,34.6-.6,0-.4,0-.6,0-.4,0-.6,0-.4,0-.6,0-.4-34.6-.6,34.6-.4-34.6-.6,34.6-.4,0-.6,0-.4,0-.6,0-.4-34.6-.6,7.2-.4-27.3-.6,20.1-.4,34.6-.6-34.6-.4,34.6-.6,0-.4-17.3-.6,17.3-.4,0-.6,0-.4,0-.6-34.6-.4,0-.6,34.6-.4,0-.6,0-.4,0-.6,0-.4-34.6-.6,0-.4,0-.6,0-.4,34.6-.6,0-.4-34.6-.6,34.6-.4-34.6-.6,34.6-.4-34.6-.6,0-.4,34.6-.6-34.6-.4,34.6-.6,0-.4-34.6-.6,34.6-.4,0-.6-34.6-.4,34.6-.6,0-.4-54.7-.6,54.7-.4-34.6-.6,34.6-.4,0-.6-17.3-.4-10.1-.6-27.3-.4,20.1-.6,34.6-.4-54.7-.6,54.7-.4,0-.6-54.7-.4,54.7-.6,0-.4,0-.6-34.6-.4,17.3-.6,17.3-.4,0-.6,0-.4-27.4-.6-7.2-.4,0-.6,34.6-.4,0-.6-34.6-.4,17.3-.6-27.3-.4,44.6-.6-34.6-.4,34.6-.6,0-.4,0-.6,0-.4-34.6-.6,0-.4,7.2-.6-7.2-.4,0-.6,0-.4,34.6-.6,0-.4-27.4-.6-7.2-.4,0-.6-20.1-.4,0-.6,0-.4,0-.6,54.7-.4,0-.6,0-.4,0-.6,0-.4-17.3-.6-17.3-.4,34.6-.6-17.3-.4-17.3-.6,0-.4,0-.6,0-.4,34.6-.6-34.6-.4,0-.6,34.6-.4-34.6-.6,0-.4,34.6-.6,0-.4,0-.6-34.6-.4,34.6-.6,0-.4,0-.6-54.7-.4,54.7-.6,0-.4-34.6-.6,0-.4,34.6-.6-34.6-.4-20.1-.6,20.1-.4,17.3-.6,17.3-.4-17.3-.6,17.3-.4,0-.6,0-.4-17.3-.6,17.3-.4,0-.6-34.6-.4,0-.6,17.3-.4,17.3-.6-54.7-.4,20.1-.6,0-.4,0-.6,34.6-.4-34.6-.6,34.6-.4-34.6-.6,34.6-.4,0-.6-34.6-.4,17.3-.6,17.3-.4,0-.6-34.6-.4,34.6-.6-34.6-.4,34.6-.6-34.6-.4,0-.6,0-.4,0-.6-17.2-.4,17.2-.6,0-.4,34.6-.6-34.6-.4,0-.6,34.6-.4-54.7-.6,20.1-.4,34.6-.6-34.6-.4,34.6-.6-17.3-.4-37.4-.6,20.1-.4,0-.6,34.6-.4-34.6-.6,7.2-.4-7.2-.6,17.3-.4,0-.6-17.3-.4,34.6-.6-34.6-.4,0-.6,34.6-.4,0-.6-34.6-.4,34.6-.6,0-.4,0-.6-34.6-.4,7.2-.6,27.4-.4-34.6-.6,7.2-.4-7.2-.6,0-.4-20.1-.6,54.7-.4-34.6-.6,17.3-.4,17.3-.6,0-.4-34.6-.6,0-.4,0-.6,0-.4,0-.6,34.6-.4,0-.6,0-.4-34.6-.6,0-.4,34.6-.6-54.7-.4,20.1-.6,34.6-.4,0-.6-34.6-.4,0-.6,0-.4,34.6-.6,0-.4,0-.6,0-.4-54.7-.6,20.1-.4,17.3-.6,17.3-.4-34.6-.6,0-.4,34.6-.6,0-.4,0-.6,0-.4-34.6-.6,34.6-.4,0-.6-34.6-.4,0-.6,34.6-.4,0-.6,0-.4-17.3-.6-17.3-.4,17.3-.6,17.3-.4-34.6-.6-20.1-.4,54.7-.6-34.6-.4,34.6-.6-34.6-.4-20.1-.6,27.3-.4-7.2-.6,0-.4,0-.6,0-.4,34.6-.6,0-.4-54.7-.6,54.7-.4,0-.6-34.6-.4,34.6-.6-27.4-.4-7.2-.6,0-.4,34.6-.6-54.7-.4,10.1-.6-10.1-.4,20.1-.6,17.3-.4,17.3-.6,0-.4-34.6-.6-20.1-.4,54.7-.6,0-.4,0-.6,0-.4,0-.6-34.6-.4,0-.6,0-.4,0-.6,0-.4-20.1-.6,54.7-.4-54.7-.6,20.1-.4,0-.6,34.6-.4-54.7-.6,54.7-.4-54.7-.6,20.1-.4,0-.6,34.6-.4-17.3-.6,17.3-.4,0-.6,0-.4-34.6-.6-20.1-.4,54.7-.6-34.6-.4-20.1-.6,20.1-.4-17.2-.6,17.2-.4,34.6-.6-34.6-.4,0-.6,0-.4,0-.6,0-.4,7.2-.6,27.4-.4-34.6-.6,34.6-.4-34.6-.6,0-.4,34.6-.6-34.6-.4,17.3-.6,17.3-.4,0-.6-17.3-.4-37.4-.6,54.7-.4-34.6-.6,0-.4-20.1-.6,54.7-.4-34.6-.6-20.1-.4,20.1-.6,0-.4,34.6-.6-34.6-.4,34.6-.6-54.7-.4,20.1-.6,34.6-.4-34.6-.6,0-.4,0-.6,0-.4,0-.6,0-.4,0-.6,0-.4,0-.6,34.6-.4-34.6-.6-17.2-.4,17.2-.6,34.6-.4-54.7-.6-7.2-.4,27.3-.6-34.5-.4,51.8-.6-17.3-.4,0-.6-20.1-.4,20.1-.6,0-.4-20.1-.6,20.1-.4,34.6-.6-44.6-.4,44.6-.6-54.7-.4-17.3-.6,37.4-.4-20.1-.6,20.1-.4-10-.6-7.2-.4,17.2-.6-34.5-.4,34.5-.6-31.1-.4,31.1-.6-20.1-.4,20.1-.6-20.1-.4,0-.6,20.1-.4,0-.6,0-.4,34.6-.6,0-.4-17.3-.6-17.3-.4-13.9-.6-6.2-.4,54.7-.6,0-.4-44.6-.6,10-.4-20.1-.6,20.1-.4,0-.6,34.6-.4-34.6-.6-34.5-.4,69.1-.6-34.6-.4,0-.6,34.6-.4,0-.6-34.6-.4,34.6-.6-72-.4,17.3-.6,0-.4,0-.6,20.1-.4,34.6-.6,0-.4,0-.6-54.7-.4,0-.6,0-.4,20.1-.6-45.6-.4,18.3-.6,27.3-.4-20.1-.6,0-.4-24.5-.6,79.2-.4,0-.6-34.6-.4-34.5-.6-11.1-.4,80.2-.6-54.7-.4,0-.6,0-.4,54.7-.6-40.1-.4-29-.6,14.4-.4-14.4-.6-2.9-.4,17.3-.6,20.1-.4-45.6-.6,25.5-.4,0-.6,20.1-.4,0-.6-20.1-.4,20.1-.6-20.1-.4,0-.6,14.6-.4-34.5-.6,5.5-.4,14.4-.6,20.1-.4-27.3-.6,7.2-.4,0-.6-7.2-.4-7.2-.6,0-.4,14.4-.6-19.9-.4,12.7-.6,27.3-.4,0-.6,0-.4-20.1-.6-14.4-.4,51.8-.6-17.3-.4,0-.6-44.6-.4,10.1-.6,14.4-.4,20.1-.6-45.6-.4,25.5-.6,0-.4-14.4-.6,34.5-.4-20.1-.6,20.1-.4,34.6-.6-54.7-.4,0-.6,0-.4,20.1-.6-34.5-.4-20.2-.6,54.7-.4-20.1-.6-34.6-.4,20.2-.6,14.4-.4,0-.6-14.4-.4,0-.6,14.4-.4,0-.6,0-.4,0-.6,0-.4-14.4-.6-11.1-.4,25.5-.6-34.6-.4-7.6-.6,42.2-.4-14.4-.6,14.4-.4-14.4-.6,0-.4,34.5-.6-27.3-.4-35-.6,27.8-.4-19.5-.6,33.9-.4-14.4-.6-11.1-.4,0-.6,0-.4,25.5-.6-25.5-.4,0-.6,11.1-.4-20.2-.6,0-.4,34.6-.6-25.5-.4,0-.6-9.1-.4,3-.6,17.2-.4-11.1-.6,0-.4,0-.6,0-.4-16.7-.6,13.9-.4,13.9-.6-27.8-.4,42.2-.6-34.6-.4,54.7-.6,0-.4-45.6-.6,0-.4,0-.6,18.3-.4,7.2-.6-25.5-.4,45.6-.6-42.4-.4-12.3-.6,89.3-.4-80.2-.6-11.7-.4,11.7-.6,0-.4,0-.6-16.2-.4,16.2-.6,11.1-.4,69.1-.6-103.6-.4,5.2-.6,29.3-.4,7.2-.6,7.2-.4-42.2-.6-12.5-.4,5.8-.6-5.8-.4,5.8-.6,69-.4-34.5-.6-40.3-.4,20.1-.6,54.7-.4-40-.6-5.6-.4-23.4-.6,0-.4,23.4-.6-23-.4,6.3-.6,0-.4-6.7-.6,14.3-.4-14.3-.6,23.4-.4-23.4-.6,34.5-.4-20.2-.6-7.6-.4,16.7-.6-9.1-.4-5.5-.6,14.6-.4-23.4-.6,14.3-.4-10.1-.6,10.1-.4-7.6-.6-6.7-.4-5.8-.6,29.2-.4-23.4-.6,0-.4-11.1-.6-9.1-.4,4.4-.6,39.2-.4-23.4-.6-11.1-.4-10.7-.6,10.7-.4,14.4-.6,3.4-.4-12.5-.6,2.9-.4,17.2-.6-14.3-.4-15.8-.6,39.2-.4-29.2-.6-14.2-.4,20-.6-5.8-.4,5.8-.6-5.8-.4,20.1-.6-14.3-.4,6.7-.6-22.5-.4,22.5-.6-13.5-.4-4.3-.6,0-.4,25.4-.6-30.1-.4-15.5-.6,31.3-.4-21.5-.6,10.4-.4-4.7-.6-6.4-.4,28.9-.6-22.5-.4-8.4-.6,4-.4,14.4-.6-5.3-.4,11.1-.6,0-.4-11.1-.6,0-.4,17.8-.6-17.3-.4-9.6-.6-11.1-.4,7.1-.6,0-.4,30.9-.6-12.5-.4-18.4-.6,4-.4,20.2-.6-11.1-.4,4.3-.6,21.1-.4-14.3-.6-24.2-.4,0-.6,4-.4-9.4-.6,13.8-.4-8.4-.6-10.3-.4,18.7-.6-7.8-.4,12.5-.6,0-.4-12.9-.6,3.8-.4-7.6-.6,3.6-.4,0-.6,13.1-.4-9.1-.6,0-.4-7.1-.6-.5-.4-3.5-.6-6.2-.4,21.7-.6,15.8-.4-24.2-.6,0-.4,3-.6,10.1-.4-20.2-.6,11.1-.4-7.6-.6,16.7-.4-4.7-.6-12-.4,16.7-.6-16.7-.4-6.7-.6,3.2-.4,0-.6-6.2-.4,0-.6,6.2-.4,0-.6-11.8-.4,32-.6-4.7-.4-18.7-.6-5.9-.4,.4-.6,15.8-.4-13.3-.6-2.9-.4,12.6-.6-7.6-.4,4.1-.6,7.1-.4-13.3-.6,0-.4-5.6-.6,5.6-.4,6.2-.6-12.9-.4,9.7-.6,9.3-.4,9.4-.6-12-.4,3.6-.6-13.3-.4,3-.6-11.1-.4-2.4-.6,4.9-.4,2.7-.6,9.1-.4-3.2-.6-5.5-.4-5.6-.6,14.3-.4-17.6-.6,5.8-.4,5.6-.6-10.5-.4,7.6-.6-5.2-.4-9.1-.6,17.2-.4,0-.6-17.2-.4,30.5-.6-27.2-.4,11-.6,9.1-.4-3.1-.6,3.1-.4-21.3-.6-2.1-.4-4-.6,8.3-.4,10-.6,0-.4,5.9-.6-18.1-.4,2.2-.6-8.3-.4,8.3-.6-8.3-.4,4-.6,6.7-.4-4.6-.6,9.5-.4,0-.6-19.3-.4,19.3-.6-13.7-.4,25.5-.6-29.2-.4,5.8-.6-12.7-.4,14.8-.6,12.2-.4-22-.6,3.7-.4,10.7-.6-10.5-.4-.2-.6,0-.4-5.1-.6,1.4-.4,16.8-.6-16.8-.4,0-.6,3.7-.4,0-.6,13.1-.4-14.6-.6-.3-.4,4.9-.6,3-.4-6.1-.6,10.7-.4-21-.6-1.5-.4,8.1-.6,14.4-.4-14.4-.6-3.4-.4-1.6-.6,0-.4-3.1-.6,1.5-.4,4.9-.6-1.7-.4-4.7-.6,8.1-.4-9.6-.6,4.6-.4-6.1-.6,7.7-.4-4.7-.6-1.5-.4-.7-.6,8.6-.4-7.9-.6,3-.4-2.2-.6-6.4-.4,13.5-.6,9.4-.4-17.3-.6-5.3-.4-.3-.6,4.1-.4,1.5-.6-2.9-.4,2.9-.6,3-.4-3-.6-9.3-.4,13.9-.6-4.6-.4-1.5-.6,0-.4,3-.6-9.6-.4-5.8-.6,8-.4,5.9-.6-10.5-.4-2.4-.6,10-.4,7.5-.6-4.6-.4-4.7-.6,4.7-.4-12.9-.6-3.2-.4,16.1-.6-10.5-.4-4.6-.6-5.1-.4,12.1-.6-3.6-.4,6.1-.6,0-.4-15.8-.6,12.1-.4-6.8-.6,8-.4-12.1-.6,7.3-.4-4.3-.6,1.1-.4-7-.6,8-.4,0-.6,3.4-.4-12.1-.6,12.1-.4-1.2-.6-11.1-.4,8.9-.6,3.4-.4-10.4-.6,10.4-.4-8.3-.6,2.8-.4-3-.6-4.6-.4,1.7-.6,4.9-.4-7.6-.6,0-.4,1.8-.6-.9-.4,.9-.6-2.1-.4,6.9-.6-1-.4-10.5-.6,9.5-.4,0-.6,2-.4-8.3-.6,0-.4-1.6-.6,3.3-.4,1.3-.6,6.3-.4-5.8-.6-8.3-.4,7.4-.6,1.8-.4-1.8-.6-4.2-.4-6.1-.6,9.4-.4-8.7-.6,3.8-.4-3.8-.6,3-.4,3.2-.6-3.2-.4-3-.6-2.2-.4-3.4-.6,2-.4,0-.6-3.9-.4,5.3-.6-2.7-.4,0-.6,5.6-.4,9.8-.6-17.4-.4,2-.6,4.1-.4-2.1-.6-6.9-.4,10.5-.6,.7-.4,3.2-.6-7.5-.4-2.7-.6-2.5-.4,4.5-.6-8.1-.4,4.8-.6,2-.4-8.5-.6,9.8-.4-3.3-.6-2.4-.4,1.8-.6-1.9-.4-2.6-.6-4.9-.4,8.2-.6-1.5-.4-1.5-.6,4.2-.4-7.4-.6,4.9-.4-8.2-.6,3.1-.4-2.1-.6,3.2-.4-.7-.6,3.6-.4-3.4-.6-2.2-.4,7.3-.6-4-.4-7.7-.6,4.4-.4-5-.6,1-.4-1.9-.6,9.2-.4-8.7-.6-1.4-.4,2.8-.6-3.7-.4,3.2-.6-1.4-.4-6.3-.6,7.2-.4-.9-.6,2.4-.4-1-.6-2.8-.4-2.4-.6,1.1-.4-2.1-.6,8.2-.4-4.8-.6-6-.4,2.1-.6,5.3-.4-1.8-.6-3.1-.4-2.6-.6,5.2-.4-7-.6,3.6-.4-5.2-.6,2.8-.4,2-.6-1.3-.4-1.1-.6-4.2-.4,1.1-.6,0-.4,2.3-.6-1.9-.4-3.9-.6,3.5-.4-1.1-.6-.3-.4-2.1-.6,1-.4-3.7-.6,4.8-.4-1.1-.6-.7-.4-.3-.6-1.4-.4-4.8-.6,6.8-.4-4.6-.6,.6-.4,.7-.6-.7-.4,2-.6-.7-.4-3.2-.6,7.4-.4-8.9-.6-4.6-.4,8-.6-2.4-.4-1.3-.6-2.8-.4-.9-.6,1.1-.4-4.1-.6,3.8-.4-3.1-.6,1.7-.4,1.1-.6,2-.4-3.3-.6-.3-.4,3.1-.6-9-.4,1.5-.6,.2-.4,1.3-.6-3.9-.4,.5-.6,.4-.4-2.5-.6,2.1-.4,.9-.6-3-.4,2.5-.6-.9-.4-4.5-.6,2.6-.4-2-.6,0-.4-1.5-.6-.4-.4,.8-.6,1.1-.4-3.7-.6,1.8-.4-1.3-.6,1.7-.4-4.2-.6,.1-.4,2.4-.6-4.1-.4,.8-.6-2.4-.4,1.1-.6-3.1-.4,4-.6-2.6-.4,1.8-.6-5.1-.4,1.7-.6,3.4-.4-4.1-.6-1-.4,3.1-.6-1.7-.4-4.8-.6,4.1-.4-5.5-.6,3.3-.4-3.7-.6,1.3-.4,1.7-.6-5.6-.4,1.6-.6-4-.4,2.8-.6-1.7-.4-.8-.6-.7-.4-.6-.6-3.5-.4,3.1-.6-2.7-.4,4.7-.6-3.3-.4-2.9-.6,1.8-.4,1.8-.6-7.4-.4,3.6-.6-1.5-.4,.1-.6-.4-.4-2.9-.6-1.6-.4,2-.6-2.4-.4-1.7-.6,.7-.4,1.6-.6-2.5-.4-4-.6,.3-.4,2.2-.6-2.3-.4-.2-.6-2.5-.4,.7-.6,.4-.4-.2-.6-2.4-.4-.8-.6,.9-.4-3.4-.6-.4-.4,.9-.6-.3-.4-2.4-.6,3.4-.4-3-.6-2.9-.4-1.5-.6-1-.4,.2-.6,1.2-.4-1.6-.6-3.2-.4,1.7-.6-1.5-.4-2.4-.6-1.2-.4,1.7-.6-2.8-.4-2.9-.6,.3-.4-2.2-.6-1.1-.4,1.1-.6-.9-.4-.3-.6-1.8-.4-1.5-.6-.8-.4-1.9-.6-2.6-.4,.6-.6-.9-.4-1.4-.6,1.9-.4-4-.6-2.3-.4,1.7-.6-3.4-.4,.4-.6-2.4-.4-1.5-.6-1.3-.4-.4-.6,2-.4-3.7-.6-1.6-.4-2.4-.6-.5-.4-2.6-.6,2.7-.4-4.7-.6-.4-.4-2.7-.6,0-.4-2-.6-1.1-.4-1.8-.6-1.7-.4-1.1-.6-1.2-.4-.9-.6-1.7-.4-1-.6-.5-.4-2.2-.6-1.3-.4-1.1-.6,.2-.4-1.5-.6-1.3-.4-3.1-.6-.2-.4-2.6-.6,1.2-.4-2.7-.6-1.4-.4-1.1-.6-1.6-.4,.5-.6-3.4-.4-.7-.6-1.5-.4-.8-.6-1.6-.4-.7-.6-.4-.4-2-.6-1.2-.4-1.4-.6-2.3-.4-1-.6-.6z" fill="#0b6db7" stroke="#0b6db7" stroke-width="0.55" stroke-linejoin="bevel"/>
</g>
<clipPath id="cd2"><rect x="1054.6499999999999" y="805.0" width="685.7500000000002" height="549.4000000000001"/></clipPath>
<g clip-path="url(#cd2)">
<path d="M1057.6,838.8 1059.2,841.3 1060.8,843.9 1062.3,846.5 1063.8,849.1 1064.2,849.7M1072.3,864.5 1073.6,867.2 1074.9,869.9 1076.2,872.6 1077.5,875.3 1077.9,876.2M1085,891.7 1086.3,894.4 1087.6,897.1 1089,899.7 1090.4,902.4 1090.9,903.4M1099,918.5 1100.4,921.1 1101.9,923.7 1103.4,926.3 1105,928.9 1105.7,930.1M1115,944.6 1116.7,947.1 1118.4,949.5 1120.2,952 1122,954.4 1122.9,955.6M1134.2,968.9 1136.3,971.1 1138.4,973.2 1140.5,975.3 1142.7,977.3 1144.1,978.6M1157.9,989.5 1160.3,991.2 1162.8,992.9 1165.4,994.5 1167.9,996.1 1169.8,997.2M1185.5,1005.7 1188.2,1007 1190.9,1008.3 1193.6,1009.6 1196.3,1010.8 1198.7,1011.9M1215.3,1019 1218.1,1020.1 1220.9,1021.2 1223.7,1022.4 1226.5,1023.5 1229.3,1024.6 1229.3,1024.6M1246.4,1031.2 1249.2,1032.2 1252.1,1033.3 1254.9,1034.3 1257.7,1035.4 1260.5,1036.4 1261,1036.6M1278.5,1043 1281.3,1044.1 1284.1,1045.1 1286.9,1046.1 1289.7,1047.1 1292.6,1048.1 1293.5,1048.4M1311.3,1054.7 1314.2,1055.7 1317,1056.7 1319.8,1057.7 1322.7,1058.7 1325.5,1059.7 1326.9,1060.1M1345.1,1066.3 1348,1067.3 1350.8,1068.2 1353.7,1069.2 1356.5,1070.1 1359.4,1071 1361.2,1071.6M1379.8,1077.6 1382.7,1078.5 1385.6,1079.4 1388.4,1080.3 1391.3,1081.2 1394.1,1082.1 1396.5,1082.8M1415.5,1088.6 1418.4,1089.4 1421.3,1090.3 1424.2,1091.1 1427,1092 1429.9,1092.8 1432.8,1093.6M1452.3,1099 1455.2,1099.8 1458.1,1100.6 1461,1101.3 1463.9,1102.1 1466.8,1102.9 1469.7,1103.6 1469.9,1103.7M1489.7,1108.6 1492.6,1109.3 1495.6,1110 1498.5,1110.7 1501.4,1111.4 1504.3,1112.1 1507.2,1112.7 1507.5,1112.8M1527.4,1117.2 1530.4,1117.8 1533.3,1118.4 1536.2,1119 1539.2,1119.6 1542.1,1120.2 1545.1,1120.8 1545.3,1120.8M1565.4,1124.6 1568.3,1125.2 1571.3,1125.7 1574.2,1126.2 1577.2,1126.7 1580.1,1127.2 1583.1,1127.7 1583.4,1127.8M1603.5,1131 1606.5,1131.4 1609.4,1131.8 1612.4,1132.3 1615.4,1132.7 1618.4,1133.1 1621.3,1133.5 1621.6,1133.6M1641.8,1136.2 1644.8,1136.6 1647.8,1136.9 1650.8,1137.3 1653.7,1137.6 1656.7,1138 1659.7,1138.3 1660,1138.3M1680.3,1140.4 1683.2,1140.7 1686.2,1141 1689.2,1141.3 1692.2,1141.6 1695.2,1141.8 1698.2,1142.1 1698.4,1142.1M1718.8,1143.8 1721.8,1144 1724.8,1144.2 1727.7,1144.5 1730.7,1144.7 1733.7,1144.9 1736.7,1145.1 1737,1145.1" fill="none" stroke="#404040" stroke-width="5.3" stroke-linecap="round" stroke-linejoin="round"/>
<path d="M1057.6,838.8 1059.2,841.3 1060.7,843.9 1062.3,846.5 1063.8,849.1 1064,849.5M1072,864 1073.4,866.7 1074.8,869.4 1076.1,872.1 1077.4,874.8 1077.8,875.4M1084.9,890.5 1086.2,893.2 1087.5,895.9 1088.8,898.6 1090.1,901.3 1090.5,902.1M1098,917.2 1099.4,919.8 1100.8,922.5 1102.3,925.1 1103.7,927.7 1104.3,928.7M1113,943.2 1114.6,945.8 1116.3,948.2 1118,950.7 1119.7,953.2 1120.5,954.3M1131,967.7 1133,969.9 1135,972.2 1137.1,974.4 1139.2,976.5 1140.3,977.6M1153.1,989.2 1155.4,991.1 1157.8,993 1160.2,994.8 1162.6,996.6 1164.1,997.7M1178.6,1007.5 1181.1,1009.1 1183.7,1010.7 1186.2,1012.2 1188.8,1013.8 1190.8,1015M1206.1,1023.8 1208.7,1025.3 1211.3,1026.7 1214,1028.2 1216.6,1029.6 1219,1030.9M1234.8,1039.5 1237.4,1040.9 1240.1,1042.3 1242.7,1043.7 1245.4,1045.1 1248,1046.5 1248.1,1046.5M1264.3,1055 1267,1056.3 1269.6,1057.7 1272.3,1059.1 1275,1060.5 1277.6,1061.8 1278.1,1062.1M1294.6,1070.4 1297.3,1071.8 1300,1073.1 1302.7,1074.5 1305.4,1075.8 1308.1,1077.1 1308.9,1077.6M1325.8,1085.9 1328.5,1087.2 1331.2,1088.5 1333.9,1089.8 1336.6,1091.1 1339.3,1092.4 1340.6,1093M1357.9,1101.1 1360.6,1102.4 1363.4,1103.6 1366.1,1104.9 1368.8,1106.1 1371.6,1107.4 1373.3,1108.1M1391,1116 1393.8,1117.2 1396.6,1118.3 1399.3,1119.5 1402.1,1120.7 1404.8,1121.8 1407.1,1122.8M1425.3,1130.2 1428.1,1131.3 1430.9,1132.4 1433.7,1133.4 1436.5,1134.5 1439.3,1135.6 1442,1136.6M1460.9,1143.4 1463.7,1144.4 1466.5,1145.3 1469.4,1146.3 1472.2,1147.2 1475.1,1148.2 1477.9,1149.1M1497,1155 1499.9,1155.8 1502.8,1156.7 1505.6,1157.5 1508.5,1158.3 1511.4,1159.1 1514.2,1159.9M1533.7,1164.8 1536.6,1165.5 1539.5,1166.2 1542.4,1166.8 1545.3,1167.5 1548.3,1168.1 1551.1,1168.8M1570.8,1172.7 1573.7,1173.2 1576.7,1173.8 1579.6,1174.3 1582.6,1174.8 1585.6,1175.3 1588.4,1175.8M1608.2,1178.8 1611.2,1179.2 1614.2,1179.6 1617.2,1180 1620.1,1180.3 1623.1,1180.7 1626,1181.1M1645.9,1183.3 1648.9,1183.6 1651.9,1183.8 1654.9,1184.1 1657.9,1184.4 1660.9,1184.7 1663.8,1184.9M1683.7,1186.5 1686.7,1186.7 1689.7,1186.9 1692.7,1187.1 1695.7,1187.3 1698.7,1187.5 1701.6,1187.6M1721.6,1188.7 1724.6,1188.9 1727.6,1189 1730.6,1189.1 1733.6,1189.3 1736.6,1189.4 1739.5,1189.5" fill="none" stroke="#404040" stroke-width="5.3" stroke-linecap="round" stroke-linejoin="round"/>
<path d="M1057.6,838.8 1058.8,841.6 1059.9,844.3 1061.1,847.1 1062.2,849.9 1062.6,850.8M1069.1,866.7 1070.2,869.5 1071.3,872.2 1072.4,875 1073.5,877.8 1073.9,878.9M1080,895.1 1081.1,897.9 1082.2,900.7 1083.4,903.4 1084.5,906.2 1085,907.4M1092.2,923.2 1093.6,925.9 1095,928.5 1096.4,931.2 1097.9,933.8 1098.6,935.1M1107.9,949.9 1109.6,952.4 1111.4,954.8 1113.2,957.2 1115,959.6 1116,961M1127.3,974.5 1129.3,976.8 1131.3,979 1133.3,981.2 1135.4,983.4 1136.8,984.8M1149.5,997.3 1151.7,999.3 1153.9,1001.4 1156.1,1003.4 1158.4,1005.4 1160.1,1006.9M1173.9,1018.4 1176.3,1020.3 1178.6,1022.2 1181,1024 1183.4,1025.9 1185.5,1027.5M1200.2,1038.3 1202.7,1040 1205.1,1041.7 1207.6,1043.4 1210.1,1045.1 1212.5,1046.8 1212.6,1046.9M1228,1057.1 1230.5,1058.7 1233,1060.3 1235.6,1061.9 1238.1,1063.5 1240.6,1065.1 1241,1065.4M1257,1075.2 1259.5,1076.8 1262.1,1078.3 1264.7,1079.9 1267.2,1081.4 1269.8,1083 1270.6,1083.4M1287,1093 1289.6,1094.5 1292.2,1096 1294.8,1097.5 1297.4,1099 1300,1100.5 1301.1,1101.1M1318,1110.6 1320.6,1112 1323.2,1113.5 1325.8,1114.9 1328.5,1116.4 1331.1,1117.8 1332.7,1118.6M1349.9,1127.9 1352.6,1129.3 1355.2,1130.7 1357.9,1132.1 1360.5,1133.5 1363.2,1134.9 1365.2,1135.9M1382.9,1144.9 1385.6,1146.3 1388.3,1147.6 1391,1148.9 1393.7,1150.2 1396.4,1151.6 1398.8,1152.7M1417.1,1161.4 1419.8,1162.6 1422.5,1163.9 1425.2,1165.1 1428,1166.3 1430.7,1167.5 1433.5,1168.8 1433.6,1168.8M1452.5,1176.9 1455.3,1178 1458.1,1179.2 1460.9,1180.3 1463.6,1181.4 1466.4,1182.5 1469.2,1183.6 1469.8,1183.8M1489.3,1191 1492.1,1192 1494.9,1192.9 1497.8,1193.9 1500.6,1194.9 1503.5,1195.8 1506.3,1196.7 1506.9,1196.9M1526.7,1203 1529.6,1203.8 1532.5,1204.6 1535.4,1205.4 1538.3,1206.2 1541.2,1206.9 1544.1,1207.7 1544.7,1207.8M1564.9,1212.6 1567.8,1213.3 1570.7,1213.9 1573.7,1214.5 1576.6,1215.1 1579.6,1215.7 1582.5,1216.3 1583.1,1216.4M1603.5,1220 1606.5,1220.5 1609.5,1220.9 1612.4,1221.4 1615.4,1221.8 1618.4,1222.2 1621.3,1222.6 1621.9,1222.7M1642.5,1225.3 1645.5,1225.6 1648.5,1226 1651.5,1226.3 1654.5,1226.6 1657.4,1226.9 1660.4,1227.2 1661,1227.2M1681.7,1229 1684.7,1229.2 1687.7,1229.4 1690.7,1229.6 1693.7,1229.8 1696.7,1230 1699.7,1230.2 1700.2,1230.2M1721,1231.4 1724,1231.6 1727,1231.7 1730,1231.8 1733,1232 1736,1232.1 1739,1232.2 1739.5,1232.2" fill="none" stroke="#404040" stroke-width="5.3" stroke-linecap="round" stroke-linejoin="round"/>
</g>
<text transform="translate(903 764.3) scale(1 1.041)" font-size="30" font-weight="bold">d</text>
<text transform="translate(1073.1 840.3) scale(1 1.041)" font-size="29">Mn:PEPI</text>
<text transform="translate(1045.6 844.5) scale(1 1.041)" font-size="29" text-anchor="end">10<tspan dx="0.6" dy="-18.3">0</tspan></text>
<text transform="translate(1045.6 959.1) scale(1 1.041)" font-size="29" text-anchor="end">10<tspan dx="0.6" dy="-18.3">-1</tspan></text>
<text transform="translate(1045.6 1073.8) scale(1 1.041)" font-size="29" text-anchor="end">10<tspan dx="0.6" dy="-18.3">-2</tspan></text>
<text transform="translate(1045.6 1188.5) scale(1 1.041)" font-size="29" text-anchor="end">10<tspan dx="0.6" dy="-18.3">-3</tspan></text>
<text transform="translate(1045.6 1303.1) scale(1 1.041)" font-size="29" text-anchor="end">10<tspan dx="0.6" dy="-18.3">-4</tspan></text>
<text transform="translate(1058.4 1397) scale(1 1.041)" font-size="29" text-anchor="middle">0</text>
<text transform="translate(1143.7 1397) scale(1 1.041)" font-size="29" text-anchor="middle">5</text>
<text transform="translate(1223.9 1397) scale(1 1.041)" font-size="29" text-anchor="middle">10</text>
<text transform="translate(1309.2 1397) scale(1 1.041)" font-size="29" text-anchor="middle">15</text>
<text transform="translate(1394.6 1397) scale(1 1.041)" font-size="29" text-anchor="middle">20</text>
<text transform="translate(1479.9 1397) scale(1 1.041)" font-size="29" text-anchor="middle">25</text>
<text transform="translate(1565.3 1397) scale(1 1.041)" font-size="29" text-anchor="middle">30</text>
<text transform="translate(1650.6 1397) scale(1 1.041)" font-size="29" text-anchor="middle">35</text>
<text transform="translate(1736 1397) scale(1 1.041)" font-size="29" text-anchor="middle">40</text>
<text transform="translate(1367.5 1453) scale(1 1.041)" font-size="29" text-anchor="middle">time (ns)</text>
<text transform="translate(936 1076) rotate(-90) scale(1 1.041)" font-size="29" text-anchor="middle">PL Intensity (norm.)</text>
<line x1="1143.6" y1="1316.1" x2="1164.4" y2="1316.1" stroke="#a6cee3" stroke-width="10" stroke-linecap="round"/>
<text transform="translate(1177.9 1326.6) scale(1 1.041)" font-size="29">0 T</text>
<line x1="1262" y1="1316.1" x2="1282" y2="1316.1" stroke="#72aad1" stroke-width="10" stroke-linecap="round"/>
<text transform="translate(1298.4 1326.6) scale(1 1.041)" font-size="29">5 T</text>
<line x1="1393.5" y1="1316.1" x2="1413.5" y2="1316.1" stroke="#4090c6" stroke-width="10" stroke-linecap="round"/>
<text transform="translate(1428 1326.6) scale(1 1.041)" font-size="29">10 T</text>
<line x1="1551.5" y1="1316.1" x2="1572.2" y2="1316.1" stroke="#0b6db7" stroke-width="10" stroke-linecap="round"/>
<text transform="translate(1587.5 1326.6) scale(1 1.041)" font-size="29">14 T</text>
<rect x="1470.5" y="830.5" width="253.79999999999995" height="204.29999999999995" fill="#fff"/>
<rect x="1470.5" y="830.5" width="253.8" height="204.3" fill="none" stroke="#000" stroke-width="1.8"/>
<path d="M1493.3,1034.8v-2.6M1508.1,1034.8v-2.6M1523,1034.8v-5M1537.9,1034.8v-2.6M1552.7,1034.8v-2.6M1567.6,1034.8v-2.6M1582.4,1034.8v-2.6M1597.3,1034.8v-5M1612.2,1034.8v-2.6M1627,1034.8v-2.6M1641.9,1034.8v-2.6M1656.7,1034.8v-2.6M1671.6,1034.8v-5M1686.5,1034.8v-2.6M1701.3,1034.8v-2.6M1470.5,1025.4h5M1470.5,976.7h5M1470.5,928h5M1470.5,879.3h5M1470.5,1001.1h2.6M1470.5,952.4h2.6M1470.5,903.7h2.6M1470.5,855h2.6" stroke="#000" stroke-width="1.8" fill="none"/>
<g fill="none" stroke="#e41a1c" stroke-width="3.4"><circle cx="1493" cy="873.8" r="6.9"/><circle cx="1522.8" cy="886.7" r="6.9"/><circle cx="1559.8" cy="938.2" r="6.9"/><circle cx="1574.8" cy="965.7" r="6.9"/><circle cx="1589.5" cy="989.8" r="6.9"/><circle cx="1597.3" cy="1003.8" r="6.9"/><circle cx="1604.3" cy="988.6" r="6.9"/><circle cx="1619.3" cy="962.1" r="6.9"/><circle cx="1634.3" cy="938.2" r="6.9"/><circle cx="1671.3" cy="883.9" r="6.9"/><circle cx="1701" cy="871" r="6.9"/></g>
<text transform="translate(1458.2 842.3) scale(1 1.041)" font-size="29" text-anchor="end">0.25</text>
<text transform="translate(1458.2 891) scale(1 1.041)" font-size="29" text-anchor="end">0.20</text>
<text transform="translate(1458.2 939.7) scale(1 1.041)" font-size="29" text-anchor="end">0.15</text>
<text transform="translate(1458.2 988.4) scale(1 1.041)" font-size="29" text-anchor="end">0.10</text>
<text transform="translate(1458.2 1037.1) scale(1 1.041)" font-size="29" text-anchor="end">0.05</text>
<text transform="translate(1519.8 1065) scale(1 1.041)" font-size="29" text-anchor="middle">-10</text>
<text transform="translate(1596.3 1065) scale(1 1.041)" font-size="29" text-anchor="middle">0</text>
<text transform="translate(1670.6 1065) scale(1 1.041)" font-size="29" text-anchor="middle">10</text>
<text transform="translate(1593 1094.3) scale(1 1.041)" font-size="29" text-anchor="middle">B (T)</text>
<text transform="translate(1381 921.5) rotate(-90) scale(1 1.041)" font-size="29" text-anchor="middle">Γ<tspan dx="0.8" dy="5.5">D</tspan><tspan dy="-5.5"> (1/ns)</tspan></text>
</svg>
</body></html>
